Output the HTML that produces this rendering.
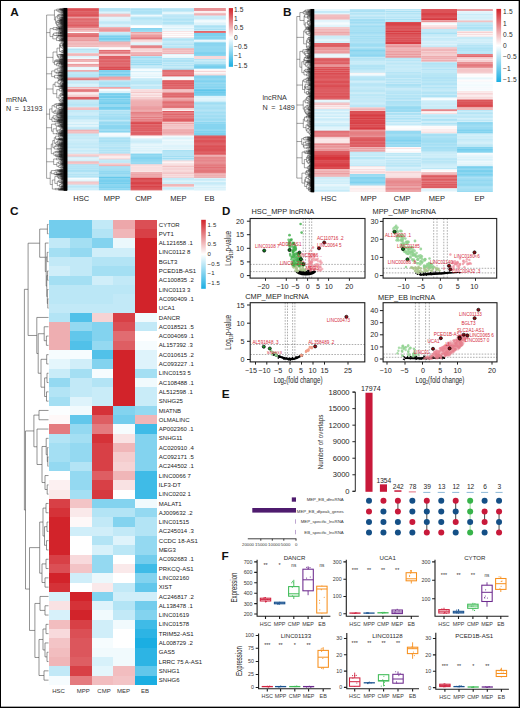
<!DOCTYPE html>
<html><head><meta charset="utf-8"><style>
html,body{margin:0;padding:0;background:#fff;}
#fig{position:relative;width:520px;height:708px;overflow:hidden;background:#fff;}
#fig svg{position:absolute;left:0;top:0;}
text{font-family:"Liberation Sans",sans-serif;stroke:currentColor;stroke-width:0;}
#frame{position:absolute;left:0;top:0;width:520px;height:708px;box-sizing:border-box;border:1px solid #000;pointer-events:none;}
</style></head><body><div id="fig">
<svg width="520" height="708" viewBox="0 0 520 708" font-family="Liberation Sans, sans-serif">
<defs><linearGradient id="cbar" x1="0" y1="0" x2="0" y2="1"><stop offset="0" stop-color="#d2232a"/><stop offset="0.5" stop-color="#ffffff"/><stop offset="1" stop-color="#1baee2"/></linearGradient></defs>
<rect x="67.2" y="8" width="31.72" height="1.3" fill="#e16d71"/>
<rect x="67.2" y="9" width="31.72" height="1.3" fill="#db4f55"/>
<rect x="67.2" y="10" width="31.72" height="1.3" fill="#dc5358"/>
<rect x="67.2" y="11" width="31.72" height="1.3" fill="#e0686d"/>
<rect x="67.2" y="12" width="31.72" height="1.3" fill="#de5e63"/>
<rect x="67.2" y="13" width="31.72" height="1.3" fill="#de6065"/>
<rect x="67.2" y="14" width="31.72" height="1.3" fill="#dd575d"/>
<rect x="67.2" y="15" width="31.72" height="1.3" fill="#dc5257"/>
<rect x="67.2" y="16" width="31.72" height="1.3" fill="#e16e73"/>
<rect x="67.2" y="17" width="31.72" height="1.3" fill="#eb9da0"/>
<rect x="67.2" y="18" width="31.72" height="0.8" fill="#e47c80"/>
<rect x="67.2" y="18.5" width="31.72" height="1.3" fill="#df6065"/>
<rect x="67.2" y="19.5" width="31.72" height="1.3" fill="#dc5358"/>
<rect x="67.2" y="20.5" width="31.72" height="1.3" fill="#e27277"/>
<rect x="67.2" y="21.5" width="31.72" height="1.3" fill="#de6065"/>
<rect x="67.2" y="22.5" width="31.72" height="1.3" fill="#dc555a"/>
<rect x="67.2" y="23.5" width="31.72" height="1.3" fill="#e0696e"/>
<rect x="67.2" y="24.5" width="31.72" height="1.3" fill="#da4b51"/>
<rect x="67.2" y="25.5" width="31.72" height="1.3" fill="#db4d53"/>
<rect x="67.2" y="26.5" width="31.72" height="1.3" fill="#e27175"/>
<rect x="67.2" y="27.5" width="31.72" height="0.8" fill="#e27176"/>
<rect x="67.2" y="28" width="31.72" height="1.3" fill="#f0b4b6"/>
<rect x="67.2" y="29" width="31.72" height="1.3" fill="#eca4a7"/>
<rect x="67.2" y="30" width="31.72" height="1.3" fill="#f1bbbd"/>
<rect x="67.2" y="31" width="31.72" height="1.3" fill="#f2c1c3"/>
<rect x="67.2" y="32" width="31.72" height="1.3" fill="#fcfeff"/>
<rect x="67.2" y="33" width="31.72" height="1.3" fill="#e58084"/>
<rect x="67.2" y="34" width="31.72" height="1.3" fill="#e3787c"/>
<rect x="67.2" y="35" width="31.72" height="1.3" fill="#e26f73"/>
<rect x="67.2" y="36" width="31.72" height="1.3" fill="#e16d71"/>
<rect x="67.2" y="37" width="31.72" height="1.3" fill="#eca3a6"/>
<rect x="67.2" y="38" width="31.72" height="1.3" fill="#eca3a6"/>
<rect x="67.2" y="39" width="31.72" height="1.3" fill="#eca4a7"/>
<rect x="67.2" y="40" width="31.72" height="1.3" fill="#ea9a9d"/>
<rect x="67.2" y="41" width="31.72" height="0.8" fill="#eca1a4"/>
<rect x="67.2" y="41.5" width="31.72" height="1.3" fill="#f4c9cb"/>
<rect x="67.2" y="42.5" width="31.72" height="1.3" fill="#eda8ab"/>
<rect x="67.2" y="43.5" width="31.72" height="1.3" fill="#f0b3b6"/>
<rect x="67.2" y="44.5" width="31.72" height="1.3" fill="#efb0b2"/>
<rect x="67.2" y="45.5" width="31.72" height="1.3" fill="#f3c3c4"/>
<rect x="67.2" y="46.5" width="31.72" height="0.8" fill="#eca1a4"/>
<rect x="67.2" y="47" width="31.72" height="1.3" fill="#f1fafd"/>
<rect x="67.2" y="48" width="31.72" height="1.3" fill="#d5f0fa"/>
<rect x="67.2" y="49" width="31.72" height="1.3" fill="#b4e4f5"/>
<rect x="67.2" y="50" width="31.72" height="1.3" fill="#c3eaf7"/>
<rect x="67.2" y="51" width="31.72" height="1.3" fill="#c3eaf7"/>
<rect x="67.2" y="52" width="31.72" height="1.3" fill="#cbedf8"/>
<rect x="67.2" y="53" width="31.72" height="1.3" fill="#f4c8c9"/>
<rect x="67.2" y="54" width="31.72" height="1.3" fill="#f0b7b9"/>
<rect x="67.2" y="55" width="31.72" height="1.3" fill="#f2bdbf"/>
<rect x="67.2" y="56" width="31.72" height="1.3" fill="#dcf3fb"/>
<rect x="67.2" y="57" width="31.72" height="1.3" fill="#e7f6fc"/>
<rect x="67.2" y="58" width="31.72" height="1.3" fill="#f2fafd"/>
<rect x="67.2" y="59" width="31.72" height="1.3" fill="#eda7aa"/>
<rect x="67.2" y="60" width="31.72" height="1.3" fill="#f0b5b8"/>
<rect x="67.2" y="61" width="31.72" height="1.3" fill="#efb2b4"/>
<rect x="67.2" y="62" width="31.72" height="1.3" fill="#fdf5f5"/>
<rect x="67.2" y="63" width="31.72" height="1.3" fill="#fbeced"/>
<rect x="67.2" y="64" width="31.72" height="1.3" fill="#eb9b9e"/>
<rect x="67.2" y="65" width="31.72" height="1.3" fill="#eeabad"/>
<rect x="67.2" y="66" width="31.72" height="1.3" fill="#f0b4b7"/>
<rect x="67.2" y="67" width="31.72" height="1.3" fill="#e6f6fc"/>
<rect x="67.2" y="68" width="31.72" height="1.3" fill="#ebf8fd"/>
<rect x="67.2" y="69" width="31.72" height="1.3" fill="#eaf8fc"/>
<rect x="67.2" y="70" width="31.72" height="1.3" fill="#eeacaf"/>
<rect x="67.2" y="71" width="31.72" height="1" fill="#eeaaac"/>
<rect x="67.2" y="71.7" width="31.72" height="1.3" fill="#bbe7f6"/>
<rect x="67.2" y="72.7" width="31.72" height="1.3" fill="#c5eaf8"/>
<rect x="67.2" y="73.7" width="31.72" height="1.3" fill="#bbe7f6"/>
<rect x="67.2" y="74.7" width="31.72" height="1.3" fill="#b7e5f6"/>
<rect x="67.2" y="75.7" width="31.72" height="1.3" fill="#bae7f6"/>
<rect x="67.2" y="76.7" width="31.72" height="1.1" fill="#a9e0f4"/>
<rect x="67.2" y="77.5" width="31.72" height="1.3" fill="#e88e91"/>
<rect x="67.2" y="78.5" width="31.72" height="1.3" fill="#e27377"/>
<rect x="67.2" y="79.5" width="31.72" height="1.1" fill="#e0676c"/>
<rect x="67.2" y="80.3" width="31.72" height="1.3" fill="#ccedf8"/>
<rect x="67.2" y="81.3" width="31.72" height="1.3" fill="#c4eaf8"/>
<rect x="67.2" y="82.3" width="31.72" height="1.3" fill="#bce7f6"/>
<rect x="67.2" y="83.3" width="31.72" height="1.3" fill="#c8ecf8"/>
<rect x="67.2" y="84.3" width="31.72" height="1.3" fill="#dbf2fa"/>
<rect x="67.2" y="85.3" width="31.72" height="1.3" fill="#d3eff9"/>
<rect x="67.2" y="86.3" width="31.72" height="1" fill="#caecf8"/>
<rect x="67.2" y="87" width="31.72" height="1.3" fill="#f0b6b8"/>
<rect x="67.2" y="88" width="31.72" height="1.3" fill="#f5cfd1"/>
<rect x="67.2" y="89" width="31.72" height="1.3" fill="#e7898d"/>
<rect x="67.2" y="90" width="31.72" height="1.3" fill="#e3777b"/>
<rect x="67.2" y="91" width="31.72" height="1.3" fill="#e6868a"/>
<rect x="67.2" y="92" width="31.72" height="1.3" fill="#f9e3e4"/>
<rect x="67.2" y="93" width="31.72" height="1.3" fill="#fbebec"/>
<rect x="67.2" y="94" width="31.72" height="1.3" fill="#f9e0e1"/>
<rect x="67.2" y="95" width="31.72" height="1.3" fill="#f5cfd0"/>
<rect x="67.2" y="96" width="31.72" height="1" fill="#fdf6f6"/>
<rect x="67.2" y="96.7" width="31.72" height="1.3" fill="#df6166"/>
<rect x="67.2" y="97.7" width="31.72" height="1.3" fill="#de5f64"/>
<rect x="67.2" y="98.7" width="31.72" height="1.2" fill="#de5c62"/>
<rect x="67.2" y="99.6" width="31.72" height="1.3" fill="#c4eaf7"/>
<rect x="67.2" y="100.6" width="31.72" height="1.3" fill="#c6ebf8"/>
<rect x="67.2" y="101.6" width="31.72" height="1.3" fill="#bbe7f6"/>
<rect x="67.2" y="102.6" width="31.72" height="1.3" fill="#bde8f7"/>
<rect x="67.2" y="103.6" width="31.72" height="1.3" fill="#b8e6f6"/>
<rect x="67.2" y="104.6" width="31.72" height="1.3" fill="#aae1f4"/>
<rect x="67.2" y="105.6" width="31.72" height="1.3" fill="#c9ecf8"/>
<rect x="67.2" y="106.6" width="31.72" height="1" fill="#bde8f7"/>
<rect x="67.2" y="107.3" width="31.72" height="1.3" fill="#f3c2c4"/>
<rect x="67.2" y="108.3" width="31.72" height="1.3" fill="#f0b5b8"/>
<rect x="67.2" y="109.3" width="31.72" height="1" fill="#f0b6b9"/>
<rect x="67.2" y="110" width="31.72" height="1.3" fill="#c3eaf7"/>
<rect x="67.2" y="111" width="31.72" height="1.3" fill="#c2e9f7"/>
<rect x="67.2" y="112" width="31.72" height="1.3" fill="#caecf8"/>
<rect x="67.2" y="113" width="31.72" height="1.3" fill="#cdedf9"/>
<rect x="67.2" y="114" width="31.72" height="1.3" fill="#cdedf9"/>
<rect x="67.2" y="115" width="31.72" height="1.3" fill="#c7ebf8"/>
<rect x="67.2" y="116" width="31.72" height="1.3" fill="#b6e5f6"/>
<rect x="67.2" y="117" width="31.72" height="1.3" fill="#bee8f7"/>
<rect x="67.2" y="118" width="31.72" height="1.3" fill="#bce7f6"/>
<rect x="67.2" y="119" width="31.72" height="1.3" fill="#ccedf8"/>
<rect x="67.2" y="120" width="31.72" height="1.3" fill="#d6f0fa"/>
<rect x="67.2" y="121" width="31.72" height="1.3" fill="#d4f0f9"/>
<rect x="67.2" y="122" width="31.72" height="1.3" fill="#e1f4fb"/>
<rect x="67.2" y="123" width="31.72" height="1.3" fill="#e2f5fb"/>
<rect x="67.2" y="124" width="31.72" height="1.3" fill="#cdedf9"/>
<rect x="67.2" y="125" width="31.72" height="1.3" fill="#e3f5fb"/>
<rect x="67.2" y="126" width="31.72" height="1.3" fill="#ddf3fb"/>
<rect x="67.2" y="127" width="31.72" height="1.3" fill="#c6ebf8"/>
<rect x="67.2" y="128" width="31.72" height="1.3" fill="#c3eaf7"/>
<rect x="67.2" y="129" width="31.72" height="1" fill="#c3eaf7"/>
<rect x="67.2" y="129.7" width="31.72" height="1.3" fill="#eeabae"/>
<rect x="67.2" y="130.7" width="31.72" height="1.3" fill="#f2c0c2"/>
<rect x="67.2" y="131.7" width="31.72" height="1.3" fill="#f3c6c8"/>
<rect x="67.2" y="132.7" width="31.72" height="1.1" fill="#efb1b3"/>
<rect x="67.2" y="133.5" width="31.72" height="1.3" fill="#c2e9f7"/>
<rect x="67.2" y="134.5" width="31.72" height="1.3" fill="#b8e6f6"/>
<rect x="67.2" y="135.5" width="31.72" height="1.3" fill="#bbe7f6"/>
<rect x="67.2" y="136.5" width="31.72" height="1.3" fill="#c9ecf8"/>
<rect x="67.2" y="137.5" width="31.72" height="1.3" fill="#bce7f6"/>
<rect x="67.2" y="138.5" width="31.72" height="1.3" fill="#c0e8f7"/>
<rect x="67.2" y="139.5" width="31.72" height="1.3" fill="#d0eef9"/>
<rect x="67.2" y="140.5" width="31.72" height="1.3" fill="#c7ebf8"/>
<rect x="67.2" y="141.5" width="31.72" height="1.3" fill="#c1e9f7"/>
<rect x="67.2" y="142.5" width="31.72" height="1.3" fill="#c7ebf8"/>
<rect x="67.2" y="143.5" width="31.72" height="1.3" fill="#b6e5f6"/>
<rect x="67.2" y="144.5" width="31.72" height="1.3" fill="#c4eaf7"/>
<rect x="67.2" y="145.5" width="31.72" height="1.3" fill="#c5eaf8"/>
<rect x="67.2" y="146.5" width="31.72" height="1.3" fill="#bce7f7"/>
<rect x="67.2" y="147.5" width="31.72" height="1.3" fill="#b9e6f6"/>
<rect x="67.2" y="148.5" width="31.72" height="1.3" fill="#d8f1fa"/>
<rect x="67.2" y="149.5" width="31.72" height="1.3" fill="#c9ecf8"/>
<rect x="67.2" y="150.5" width="31.72" height="1.3" fill="#bde8f7"/>
<rect x="67.2" y="151.5" width="31.72" height="1.3" fill="#ccedf9"/>
<rect x="67.2" y="152.5" width="31.72" height="1.3" fill="#d4f0fa"/>
<rect x="67.2" y="153.5" width="31.72" height="0.5" fill="#b6e5f6"/>
<rect x="67.2" y="153.7" width="31.72" height="1.3" fill="#f7d8d9"/>
<rect x="67.2" y="154.7" width="31.72" height="1.3" fill="#f6d3d4"/>
<rect x="67.2" y="155.7" width="31.72" height="1.2" fill="#f1bbbd"/>
<rect x="67.2" y="156.6" width="31.72" height="1.3" fill="#c9ecf8"/>
<rect x="67.2" y="157.6" width="31.72" height="1.3" fill="#def3fb"/>
<rect x="67.2" y="158.6" width="31.72" height="1.3" fill="#ddf3fb"/>
<rect x="67.2" y="159.6" width="31.72" height="1.3" fill="#d8f1fa"/>
<rect x="67.2" y="160.6" width="31.72" height="1.1" fill="#cbedf8"/>
<rect x="67.2" y="161.4" width="31.72" height="1.3" fill="#efb1b3"/>
<rect x="67.2" y="162.4" width="31.72" height="1.3" fill="#f0b8ba"/>
<rect x="67.2" y="163.4" width="31.72" height="1.2" fill="#f3c4c6"/>
<rect x="67.2" y="164.3" width="31.72" height="1.3" fill="#a2def3"/>
<rect x="67.2" y="165.3" width="31.72" height="1.3" fill="#b3e4f5"/>
<rect x="67.2" y="166.3" width="31.72" height="1.3" fill="#a9e0f4"/>
<rect x="67.2" y="167.3" width="31.72" height="1.3" fill="#b0e3f5"/>
<rect x="67.2" y="168.3" width="31.72" height="1.3" fill="#a6dff4"/>
<rect x="67.2" y="169.3" width="31.72" height="1.3" fill="#b2e4f5"/>
<rect x="67.2" y="170.3" width="31.72" height="1.3" fill="#9cdcf2"/>
<rect x="67.2" y="171.3" width="31.72" height="1.3" fill="#a5dff4"/>
<rect x="67.2" y="172.3" width="31.72" height="1.3" fill="#bfe8f7"/>
<rect x="67.2" y="173.3" width="31.72" height="1.3" fill="#bbe7f6"/>
<rect x="67.2" y="174.3" width="31.72" height="1.3" fill="#a6dff4"/>
<rect x="67.2" y="175.3" width="31.72" height="1.3" fill="#bbe7f6"/>
<rect x="67.2" y="176.3" width="31.72" height="1.3" fill="#a6dff4"/>
<rect x="67.2" y="177.3" width="31.72" height="0.8" fill="#bee8f7"/>
<rect x="67.2" y="177.8" width="31.72" height="1.3" fill="#fbfdfe"/>
<rect x="67.2" y="178.8" width="31.72" height="1.3" fill="#eef9fd"/>
<rect x="67.2" y="179.8" width="31.72" height="1.3" fill="#e8f7fc"/>
<rect x="67.2" y="180.8" width="31.72" height="1.1" fill="#def3fb"/>
<rect x="67.2" y="181.6" width="31.72" height="1.3" fill="#f0b5b7"/>
<rect x="67.2" y="182.6" width="31.72" height="1.3" fill="#f7d7d9"/>
<rect x="67.2" y="183.6" width="31.72" height="1.2" fill="#f0b7ba"/>
<rect x="67.2" y="184.5" width="31.72" height="1.3" fill="#ccedf9"/>
<rect x="67.2" y="185.5" width="31.72" height="1.3" fill="#bde8f7"/>
<rect x="67.2" y="186.5" width="31.72" height="1.3" fill="#aee2f5"/>
<rect x="67.2" y="187.5" width="31.72" height="1.3" fill="#c9ecf8"/>
<rect x="67.2" y="188.5" width="31.72" height="1.3" fill="#cdedf9"/>
<rect x="67.2" y="189.5" width="31.72" height="0.8" fill="#c2e9f7"/>
<rect x="98.92" y="8" width="31.72" height="1.3" fill="#bbe7f6"/>
<rect x="98.92" y="9" width="31.72" height="1.3" fill="#b6e5f6"/>
<rect x="98.92" y="10" width="31.72" height="1.3" fill="#b5e5f6"/>
<rect x="98.92" y="11" width="31.72" height="1.3" fill="#cbecf8"/>
<rect x="98.92" y="12" width="31.72" height="1.3" fill="#ddf3fb"/>
<rect x="98.92" y="13" width="31.72" height="1" fill="#d3f0f9"/>
<rect x="98.92" y="13.7" width="31.72" height="1.3" fill="#f3c2c4"/>
<rect x="98.92" y="14.7" width="31.72" height="1.3" fill="#f3c6c8"/>
<rect x="98.92" y="15.7" width="31.72" height="1.2" fill="#efafb1"/>
<rect x="98.92" y="16.6" width="31.72" height="1.3" fill="#dcf3fb"/>
<rect x="98.92" y="17.6" width="31.72" height="1.3" fill="#e4f5fc"/>
<rect x="98.92" y="18.6" width="31.72" height="1.2" fill="#ddf3fb"/>
<rect x="98.92" y="19.5" width="31.72" height="1.3" fill="#d7f1fa"/>
<rect x="98.92" y="20.5" width="31.72" height="1.3" fill="#d8f1fa"/>
<rect x="98.92" y="21.5" width="31.72" height="1.3" fill="#b6e5f6"/>
<rect x="98.92" y="22.5" width="31.72" height="1.3" fill="#bde7f7"/>
<rect x="98.92" y="23.5" width="31.72" height="1.3" fill="#c2e9f7"/>
<rect x="98.92" y="24.5" width="31.72" height="1.3" fill="#dbf2fa"/>
<rect x="98.92" y="25.5" width="31.72" height="1.3" fill="#d3eff9"/>
<rect x="98.92" y="26.5" width="31.72" height="0.8" fill="#c2e9f7"/>
<rect x="98.92" y="27" width="31.72" height="1.3" fill="#efb3b5"/>
<rect x="98.92" y="28" width="31.72" height="1.3" fill="#eca0a3"/>
<rect x="98.92" y="29" width="31.72" height="1.3" fill="#ea999c"/>
<rect x="98.92" y="30" width="31.72" height="1.3" fill="#e99599"/>
<rect x="98.92" y="31" width="31.72" height="1.3" fill="#eeadb0"/>
<rect x="98.92" y="32" width="31.72" height="1.3" fill="#c9ecf8"/>
<rect x="98.92" y="33" width="31.72" height="1.3" fill="#c2e9f7"/>
<rect x="98.92" y="34" width="31.72" height="1.3" fill="#bae6f6"/>
<rect x="98.92" y="35" width="31.72" height="1.3" fill="#96daf2"/>
<rect x="98.92" y="36" width="31.72" height="1.3" fill="#7ad0ee"/>
<rect x="98.92" y="37" width="31.72" height="1.3" fill="#8dd6f0"/>
<rect x="98.92" y="38" width="31.72" height="1.3" fill="#74ceed"/>
<rect x="98.92" y="39" width="31.72" height="1.3" fill="#77cfee"/>
<rect x="98.92" y="40" width="31.72" height="1.3" fill="#94d9f1"/>
<rect x="98.92" y="41" width="31.72" height="0.8" fill="#79cfee"/>
<rect x="98.92" y="41.5" width="31.72" height="1.3" fill="#eeabae"/>
<rect x="98.92" y="42.5" width="31.72" height="1.3" fill="#efb2b4"/>
<rect x="98.92" y="43.5" width="31.72" height="1.3" fill="#eda8aa"/>
<rect x="98.92" y="44.5" width="31.72" height="1.3" fill="#f1bbbd"/>
<rect x="98.92" y="45.5" width="31.72" height="1.3" fill="#f1bcbe"/>
<rect x="98.92" y="46.5" width="31.72" height="0.8" fill="#f2bec0"/>
<rect x="98.92" y="47" width="31.72" height="1.3" fill="#fcf0f0"/>
<rect x="98.92" y="48" width="31.72" height="1.3" fill="#fefbfb"/>
<rect x="98.92" y="49" width="31.72" height="1.3" fill="#fbeced"/>
<rect x="98.92" y="50" width="31.72" height="1.3" fill="#e16b70"/>
<rect x="98.92" y="51" width="31.72" height="1.3" fill="#e78a8e"/>
<rect x="98.92" y="52" width="31.72" height="1.3" fill="#e4797d"/>
<rect x="98.92" y="53" width="31.72" height="1.3" fill="#e78b8f"/>
<rect x="98.92" y="54" width="31.72" height="1.3" fill="#f4c9ca"/>
<rect x="98.92" y="55" width="31.72" height="1.3" fill="#f4c7c9"/>
<rect x="98.92" y="56" width="31.72" height="1.3" fill="#de5d62"/>
<rect x="98.92" y="57" width="31.72" height="1.3" fill="#df6166"/>
<rect x="98.92" y="58" width="31.72" height="1.3" fill="#de5f64"/>
<rect x="98.92" y="59" width="31.72" height="1.3" fill="#e27377"/>
<rect x="98.92" y="60" width="31.72" height="1.3" fill="#e0686c"/>
<rect x="98.92" y="61" width="31.72" height="1.3" fill="#df6166"/>
<rect x="98.92" y="62" width="31.72" height="1.3" fill="#e27176"/>
<rect x="98.92" y="63" width="31.72" height="1.3" fill="#e0696e"/>
<rect x="98.92" y="64" width="31.72" height="1.3" fill="#e0696e"/>
<rect x="98.92" y="65" width="31.72" height="1.3" fill="#e26f73"/>
<rect x="98.92" y="66" width="31.72" height="1.3" fill="#e0676c"/>
<rect x="98.92" y="67" width="31.72" height="1.3" fill="#db4e53"/>
<rect x="98.92" y="68" width="31.72" height="1.3" fill="#dd5b60"/>
<rect x="98.92" y="69" width="31.72" height="1.3" fill="#da4c52"/>
<rect x="98.92" y="70" width="31.72" height="1.3" fill="#82d3ef"/>
<rect x="98.92" y="71" width="31.72" height="1.3" fill="#7bd0ee"/>
<rect x="98.92" y="72" width="31.72" height="1.3" fill="#8fd7f1"/>
<rect x="98.92" y="73" width="31.72" height="1.3" fill="#90d8f1"/>
<rect x="98.92" y="74" width="31.72" height="1.3" fill="#71cded"/>
<rect x="98.92" y="75" width="31.72" height="1.3" fill="#8ad6f0"/>
<rect x="98.92" y="76" width="31.72" height="0.8" fill="#74ceed"/>
<rect x="98.92" y="76.5" width="31.72" height="1.3" fill="#eda8ab"/>
<rect x="98.92" y="77.5" width="31.72" height="1.3" fill="#e7898c"/>
<rect x="98.92" y="78.5" width="31.72" height="1.3" fill="#eeabae"/>
<rect x="98.92" y="79.5" width="31.72" height="1.1" fill="#eca3a6"/>
<rect x="98.92" y="80.3" width="31.72" height="1.3" fill="#c0e8f7"/>
<rect x="98.92" y="81.3" width="31.72" height="1.3" fill="#aae1f4"/>
<rect x="98.92" y="82.3" width="31.72" height="1.3" fill="#9eddf3"/>
<rect x="98.92" y="83.3" width="31.72" height="1.3" fill="#a0ddf3"/>
<rect x="98.92" y="84.3" width="31.72" height="1.3" fill="#a3def3"/>
<rect x="98.92" y="85.3" width="31.72" height="1.3" fill="#b6e5f6"/>
<rect x="98.92" y="86.3" width="31.72" height="1" fill="#9edcf3"/>
<rect x="98.92" y="87" width="31.72" height="1.3" fill="#eda5a8"/>
<rect x="98.92" y="88" width="31.72" height="1.3" fill="#f1bbbd"/>
<rect x="98.92" y="89" width="31.72" height="1.3" fill="#f6fcfe"/>
<rect x="98.92" y="90" width="31.72" height="1.3" fill="#f3fbfe"/>
<rect x="98.92" y="91" width="31.72" height="1.3" fill="#dcf2fb"/>
<rect x="98.92" y="92" width="31.72" height="1.3" fill="#daf2fa"/>
<rect x="98.92" y="93" width="31.72" height="1.3" fill="#83d3ef"/>
<rect x="98.92" y="94" width="31.72" height="1.3" fill="#75ceed"/>
<rect x="98.92" y="95" width="31.72" height="1.3" fill="#8ad5f0"/>
<rect x="98.92" y="96" width="31.72" height="1.3" fill="#72cded"/>
<rect x="98.92" y="97" width="31.72" height="1.3" fill="#71cded"/>
<rect x="98.92" y="98" width="31.72" height="1.3" fill="#96daf2"/>
<rect x="98.92" y="99" width="31.72" height="1.3" fill="#7cd0ee"/>
<rect x="98.92" y="100" width="31.72" height="1.3" fill="#88d5f0"/>
<rect x="98.92" y="101" width="31.72" height="1.3" fill="#82d3ef"/>
<rect x="98.92" y="102" width="31.72" height="1.3" fill="#7dd1ee"/>
<rect x="98.92" y="103" width="31.72" height="1.3" fill="#73cded"/>
<rect x="98.92" y="104" width="31.72" height="1.3" fill="#94d9f1"/>
<rect x="98.92" y="105" width="31.72" height="1.3" fill="#96daf2"/>
<rect x="98.92" y="106" width="31.72" height="1.3" fill="#96daf2"/>
<rect x="98.92" y="107" width="31.72" height="1.3" fill="#75ceed"/>
<rect x="98.92" y="108" width="31.72" height="1.3" fill="#79cfee"/>
<rect x="98.92" y="109" width="31.72" height="1.3" fill="#88d5f0"/>
<rect x="98.92" y="110" width="31.72" height="1.3" fill="#bfe8f7"/>
<rect x="98.92" y="111" width="31.72" height="1.3" fill="#afe2f5"/>
<rect x="98.92" y="112" width="31.72" height="1.3" fill="#b4e4f5"/>
<rect x="98.92" y="113" width="31.72" height="1.3" fill="#b3e4f5"/>
<rect x="98.92" y="114" width="31.72" height="1.3" fill="#a4dff3"/>
<rect x="98.92" y="115" width="31.72" height="1.3" fill="#afe2f5"/>
<rect x="98.92" y="116" width="31.72" height="1.3" fill="#a6dff4"/>
<rect x="98.92" y="117" width="31.72" height="1.3" fill="#a3def3"/>
<rect x="98.92" y="118" width="31.72" height="1.3" fill="#9ddcf3"/>
<rect x="98.92" y="119" width="31.72" height="1.3" fill="#a5dff3"/>
<rect x="98.92" y="120" width="31.72" height="1.3" fill="#bfe8f7"/>
<rect x="98.92" y="121" width="31.72" height="1.3" fill="#abe1f4"/>
<rect x="98.92" y="122" width="31.72" height="1.3" fill="#97daf2"/>
<rect x="98.92" y="123" width="31.72" height="1.3" fill="#97daf2"/>
<rect x="98.92" y="124" width="31.72" height="1.3" fill="#a2def3"/>
<rect x="98.92" y="125" width="31.72" height="1.3" fill="#8dd7f1"/>
<rect x="98.92" y="126" width="31.72" height="1.3" fill="#8ad5f0"/>
<rect x="98.92" y="127" width="31.72" height="1.3" fill="#8bd6f0"/>
<rect x="98.92" y="128" width="31.72" height="1.3" fill="#8bd6f0"/>
<rect x="98.92" y="129" width="31.72" height="1.3" fill="#9fddf3"/>
<rect x="98.92" y="130" width="31.72" height="1.3" fill="#a1ddf3"/>
<rect x="98.92" y="131" width="31.72" height="1.3" fill="#8ad5f0"/>
<rect x="98.92" y="132" width="31.72" height="0.9" fill="#8bd6f0"/>
<rect x="98.92" y="132.6" width="31.72" height="1.3" fill="#f3fbfd"/>
<rect x="98.92" y="133.6" width="31.72" height="1.3" fill="#f4fbfe"/>
<rect x="98.92" y="134.6" width="31.72" height="1.3" fill="#f5fbfe"/>
<rect x="98.92" y="135.6" width="31.72" height="1.3" fill="#e8f7fc"/>
<rect x="98.92" y="136.6" width="31.72" height="1.1" fill="#dff4fb"/>
<rect x="98.92" y="137.4" width="31.72" height="1.3" fill="#a3def3"/>
<rect x="98.92" y="138.4" width="31.72" height="1.3" fill="#9ddcf2"/>
<rect x="98.92" y="139.4" width="31.72" height="1.3" fill="#afe3f5"/>
<rect x="98.92" y="140.4" width="31.72" height="1.3" fill="#9cdcf2"/>
<rect x="98.92" y="141.4" width="31.72" height="1.3" fill="#9ddcf2"/>
<rect x="98.92" y="142.4" width="31.72" height="1.3" fill="#b2e4f5"/>
<rect x="98.92" y="143.4" width="31.72" height="1.3" fill="#a5dff4"/>
<rect x="98.92" y="144.4" width="31.72" height="1.3" fill="#b8e6f6"/>
<rect x="98.92" y="145.4" width="31.72" height="1.3" fill="#ade2f5"/>
<rect x="98.92" y="146.4" width="31.72" height="1.3" fill="#bbe7f6"/>
<rect x="98.92" y="147.4" width="31.72" height="1.3" fill="#a0ddf3"/>
<rect x="98.92" y="148.4" width="31.72" height="1.3" fill="#ade2f5"/>
<rect x="98.92" y="149.4" width="31.72" height="1.3" fill="#b8e6f6"/>
<rect x="98.92" y="150.4" width="31.72" height="1.3" fill="#9ddcf2"/>
<rect x="98.92" y="151.4" width="31.72" height="1.3" fill="#bee8f7"/>
<rect x="98.92" y="152.4" width="31.72" height="1.3" fill="#a0ddf3"/>
<rect x="98.92" y="153.4" width="31.72" height="0.6" fill="#b7e6f6"/>
<rect x="98.92" y="153.7" width="31.72" height="1.3" fill="#f5cecf"/>
<rect x="98.92" y="154.7" width="31.72" height="1.3" fill="#f6d4d6"/>
<rect x="98.92" y="155.7" width="31.72" height="1.3" fill="#fbe9ea"/>
<rect x="98.92" y="156.7" width="31.72" height="1.3" fill="#fcf2f2"/>
<rect x="98.92" y="157.7" width="31.72" height="1.3" fill="#f9e1e2"/>
<rect x="98.92" y="158.7" width="31.72" height="1.1" fill="#f5d0d2"/>
<rect x="98.92" y="159.5" width="31.72" height="1.3" fill="#b3e4f5"/>
<rect x="98.92" y="160.5" width="31.72" height="1.3" fill="#caecf8"/>
<rect x="98.92" y="161.5" width="31.72" height="1.3" fill="#ade2f5"/>
<rect x="98.92" y="162.5" width="31.72" height="1.1" fill="#caecf8"/>
<rect x="98.92" y="163.3" width="31.72" height="1.3" fill="#f4c9cb"/>
<rect x="98.92" y="164.3" width="31.72" height="1.3" fill="#f2bdbf"/>
<rect x="98.92" y="165.3" width="31.72" height="1.2" fill="#eda5a8"/>
<rect x="98.92" y="166.2" width="31.72" height="1.3" fill="#9ddcf3"/>
<rect x="98.92" y="167.2" width="31.72" height="1.3" fill="#a1def3"/>
<rect x="98.92" y="168.2" width="31.72" height="1.3" fill="#9fddf3"/>
<rect x="98.92" y="169.2" width="31.72" height="1.3" fill="#9bdbf2"/>
<rect x="98.92" y="170.2" width="31.72" height="1.3" fill="#99dbf2"/>
<rect x="98.92" y="171.2" width="31.72" height="1.3" fill="#85d4f0"/>
<rect x="98.92" y="172.2" width="31.72" height="1.3" fill="#8fd7f1"/>
<rect x="98.92" y="173.2" width="31.72" height="1.3" fill="#84d3ef"/>
<rect x="98.92" y="174.2" width="31.72" height="1.3" fill="#9adbf2"/>
<rect x="98.92" y="175.2" width="31.72" height="1.3" fill="#98daf2"/>
<rect x="98.92" y="176.2" width="31.72" height="1.1" fill="#88d5f0"/>
<rect x="98.92" y="177" width="31.72" height="1.3" fill="#66c8eb"/>
<rect x="98.92" y="178" width="31.72" height="1.3" fill="#88d5f0"/>
<rect x="98.92" y="179" width="31.72" height="1.3" fill="#82d3ef"/>
<rect x="98.92" y="180" width="31.72" height="1.3" fill="#78cfee"/>
<rect x="98.92" y="181" width="31.72" height="1.3" fill="#78cfee"/>
<rect x="98.92" y="182" width="31.72" height="1.3" fill="#84d3ef"/>
<rect x="98.92" y="183" width="31.72" height="1.3" fill="#74ceed"/>
<rect x="98.92" y="184" width="31.72" height="1.3" fill="#8ed7f1"/>
<rect x="98.92" y="185" width="31.72" height="1.3" fill="#8bd6f0"/>
<rect x="98.92" y="186" width="31.72" height="1.3" fill="#88d5f0"/>
<rect x="98.92" y="187" width="31.72" height="1.3" fill="#7fd2ef"/>
<rect x="98.92" y="188" width="31.72" height="1.3" fill="#97daf2"/>
<rect x="98.92" y="189" width="31.72" height="1.3" fill="#8ed7f1"/>
<rect x="130.64" y="8" width="31.72" height="1.3" fill="#bde8f7"/>
<rect x="130.64" y="9" width="31.72" height="1.3" fill="#aae1f4"/>
<rect x="130.64" y="10" width="31.72" height="1.3" fill="#b5e5f6"/>
<rect x="130.64" y="11" width="31.72" height="1.3" fill="#ade2f5"/>
<rect x="130.64" y="12" width="31.72" height="1.3" fill="#ace2f4"/>
<rect x="130.64" y="13" width="31.72" height="1.3" fill="#b1e3f5"/>
<rect x="130.64" y="14" width="31.72" height="1.3" fill="#c7ebf8"/>
<rect x="130.64" y="15" width="31.72" height="1.3" fill="#edf9fd"/>
<rect x="130.64" y="16" width="31.72" height="0.8" fill="#eef9fd"/>
<rect x="130.64" y="16.5" width="31.72" height="1.3" fill="#bfe8f7"/>
<rect x="130.64" y="17.5" width="31.72" height="1.3" fill="#b0e3f5"/>
<rect x="130.64" y="18.5" width="31.72" height="1.3" fill="#a8e0f4"/>
<rect x="130.64" y="19.5" width="31.72" height="1.3" fill="#bce7f6"/>
<rect x="130.64" y="20.5" width="31.72" height="1.3" fill="#bbe7f6"/>
<rect x="130.64" y="21.5" width="31.72" height="1.3" fill="#c0e9f7"/>
<rect x="130.64" y="22.5" width="31.72" height="1.3" fill="#b8e6f6"/>
<rect x="130.64" y="23.5" width="31.72" height="1.3" fill="#c2e9f7"/>
<rect x="130.64" y="24.5" width="31.72" height="0.8" fill="#c3eaf7"/>
<rect x="130.64" y="25" width="31.72" height="1.3" fill="#f5fbfe"/>
<rect x="130.64" y="26" width="31.72" height="1.3" fill="#ffffff"/>
<rect x="130.64" y="27" width="31.72" height="1.3" fill="#feffff"/>
<rect x="130.64" y="28" width="31.72" height="1.3" fill="#87d4f0"/>
<rect x="130.64" y="29" width="31.72" height="1.3" fill="#8ed7f1"/>
<rect x="130.64" y="30" width="31.72" height="1.3" fill="#94d9f1"/>
<rect x="130.64" y="31" width="31.72" height="1.3" fill="#a1def3"/>
<rect x="130.64" y="32" width="31.72" height="1.3" fill="#eca5a7"/>
<rect x="130.64" y="33" width="31.72" height="1.3" fill="#f2bfc1"/>
<rect x="130.64" y="34" width="31.72" height="1.3" fill="#efb0b2"/>
<rect x="130.64" y="35" width="31.72" height="1.3" fill="#eb9c9f"/>
<rect x="130.64" y="36" width="31.72" height="1.3" fill="#eb9b9e"/>
<rect x="130.64" y="37" width="31.72" height="1.3" fill="#e7898d"/>
<rect x="130.64" y="38" width="31.72" height="1.3" fill="#e47a7e"/>
<rect x="130.64" y="39" width="31.72" height="0.9" fill="#ea989b"/>
<rect x="130.64" y="39.6" width="31.72" height="1.3" fill="#f7d7d8"/>
<rect x="130.64" y="40.6" width="31.72" height="1.3" fill="#f6d2d3"/>
<rect x="130.64" y="41.6" width="31.72" height="1.2" fill="#fbe9ea"/>
<rect x="130.64" y="42.5" width="31.72" height="1.3" fill="#ddf3fb"/>
<rect x="130.64" y="43.5" width="31.72" height="1.3" fill="#e3f5fb"/>
<rect x="130.64" y="44.5" width="31.72" height="1.2" fill="#d1eff9"/>
<rect x="130.64" y="45.4" width="31.72" height="1.3" fill="#e27377"/>
<rect x="130.64" y="46.4" width="31.72" height="1.3" fill="#e27176"/>
<rect x="130.64" y="47.4" width="31.72" height="1.2" fill="#e3777b"/>
<rect x="130.64" y="48.3" width="31.72" height="1.3" fill="#f6d3d4"/>
<rect x="130.64" y="49.3" width="31.72" height="1.3" fill="#f6d1d3"/>
<rect x="130.64" y="50.3" width="31.72" height="1.3" fill="#f5cfd0"/>
<rect x="130.64" y="51.3" width="31.72" height="1" fill="#f8dfe0"/>
<rect x="130.64" y="52" width="31.72" height="1.3" fill="#f0b4b7"/>
<rect x="130.64" y="53" width="31.72" height="1.3" fill="#efb1b4"/>
<rect x="130.64" y="54" width="31.72" height="1.3" fill="#efb3b5"/>
<rect x="130.64" y="55" width="31.72" height="1.3" fill="#eca4a7"/>
<rect x="130.64" y="56" width="31.72" height="1.3" fill="#b7e5f6"/>
<rect x="130.64" y="57" width="31.72" height="1.3" fill="#9cdcf2"/>
<rect x="130.64" y="58" width="31.72" height="1.3" fill="#b4e4f5"/>
<rect x="130.64" y="59" width="31.72" height="1.3" fill="#b5e5f6"/>
<rect x="130.64" y="60" width="31.72" height="1.3" fill="#a7e0f4"/>
<rect x="130.64" y="61" width="31.72" height="1.3" fill="#ade2f5"/>
<rect x="130.64" y="62" width="31.72" height="1.3" fill="#a0ddf3"/>
<rect x="130.64" y="63" width="31.72" height="1.3" fill="#b6e5f6"/>
<rect x="130.64" y="64" width="31.72" height="1.3" fill="#9bdcf2"/>
<rect x="130.64" y="65" width="31.72" height="1.3" fill="#bfe8f7"/>
<rect x="130.64" y="66" width="31.72" height="1.3" fill="#c6ebf8"/>
<rect x="130.64" y="67" width="31.72" height="1.3" fill="#c0e8f7"/>
<rect x="130.64" y="68" width="31.72" height="1.3" fill="#dbf2fa"/>
<rect x="130.64" y="69" width="31.72" height="1.3" fill="#f3fbfe"/>
<rect x="130.64" y="70" width="31.72" height="1.3" fill="#f5fcfe"/>
<rect x="130.64" y="71" width="31.72" height="1.3" fill="#d6f0fa"/>
<rect x="130.64" y="72" width="31.72" height="1.3" fill="#eef9fd"/>
<rect x="130.64" y="73" width="31.72" height="1.3" fill="#f1fafd"/>
<rect x="130.64" y="74" width="31.72" height="1.3" fill="#eaf7fc"/>
<rect x="130.64" y="75" width="31.72" height="1.3" fill="#ebf8fc"/>
<rect x="130.64" y="76" width="31.72" height="1.3" fill="#e2f5fb"/>
<rect x="130.64" y="77" width="31.72" height="1.3" fill="#f4fbfe"/>
<rect x="130.64" y="78" width="31.72" height="0.7" fill="#f6fcfe"/>
<rect x="130.64" y="78.4" width="31.72" height="1.3" fill="#b6e5f6"/>
<rect x="130.64" y="79.4" width="31.72" height="1.3" fill="#c6ebf8"/>
<rect x="130.64" y="80.4" width="31.72" height="1.3" fill="#b8e6f6"/>
<rect x="130.64" y="81.4" width="31.72" height="1.3" fill="#aee2f5"/>
<rect x="130.64" y="82.4" width="31.72" height="1.3" fill="#b4e4f5"/>
<rect x="130.64" y="83.4" width="31.72" height="1.3" fill="#ace2f4"/>
<rect x="130.64" y="84.4" width="31.72" height="1.3" fill="#caecf8"/>
<rect x="130.64" y="85.4" width="31.72" height="1.3" fill="#ccedf9"/>
<rect x="130.64" y="86.4" width="31.72" height="1.3" fill="#ace2f4"/>
<rect x="130.64" y="87.4" width="31.72" height="1.3" fill="#bee8f7"/>
<rect x="130.64" y="88.4" width="31.72" height="0.9" fill="#b7e5f6"/>
<rect x="130.64" y="89" width="31.72" height="1.3" fill="#f9e3e4"/>
<rect x="130.64" y="90" width="31.72" height="1.3" fill="#f8dbdd"/>
<rect x="130.64" y="91" width="31.72" height="1.3" fill="#f8ddde"/>
<rect x="130.64" y="92" width="31.72" height="1.3" fill="#f4c9ca"/>
<rect x="130.64" y="93" width="31.72" height="1.3" fill="#fae7e8"/>
<rect x="130.64" y="94" width="31.72" height="1.3" fill="#f9e0e1"/>
<rect x="130.64" y="95" width="31.72" height="1.3" fill="#f7d6d7"/>
<rect x="130.64" y="96" width="31.72" height="1.3" fill="#fae7e7"/>
<rect x="130.64" y="97" width="31.72" height="1.3" fill="#f5cecf"/>
<rect x="130.64" y="98" width="31.72" height="1.3" fill="#f5cfd0"/>
<rect x="130.64" y="99" width="31.72" height="0.9" fill="#f3c5c7"/>
<rect x="130.64" y="99.6" width="31.72" height="1.3" fill="#efb3b5"/>
<rect x="130.64" y="100.6" width="31.72" height="1.3" fill="#efb0b2"/>
<rect x="130.64" y="101.6" width="31.72" height="1.3" fill="#eda5a8"/>
<rect x="130.64" y="102.6" width="31.72" height="1.3" fill="#efb0b3"/>
<rect x="130.64" y="103.6" width="31.72" height="1.3" fill="#eca3a6"/>
<rect x="130.64" y="104.6" width="31.72" height="1.3" fill="#efb1b4"/>
<rect x="130.64" y="105.6" width="31.72" height="1.3" fill="#eb9fa3"/>
<rect x="130.64" y="106.6" width="31.72" height="1.3" fill="#eb9b9e"/>
<rect x="130.64" y="107.6" width="31.72" height="1.3" fill="#ea9a9e"/>
<rect x="130.64" y="108.6" width="31.72" height="1.3" fill="#e99497"/>
<rect x="130.64" y="109.6" width="31.72" height="1.3" fill="#eda5a8"/>
<rect x="130.64" y="110.6" width="31.72" height="1.3" fill="#eda7aa"/>
<rect x="130.64" y="111.6" width="31.72" height="0.7" fill="#ea989c"/>
<rect x="130.64" y="112" width="31.72" height="1.3" fill="#e57f83"/>
<rect x="130.64" y="113" width="31.72" height="1.3" fill="#e6878b"/>
<rect x="130.64" y="114" width="31.72" height="1.3" fill="#e88e92"/>
<rect x="130.64" y="115" width="31.72" height="1.3" fill="#e99396"/>
<rect x="130.64" y="116" width="31.72" height="1.3" fill="#ea9a9d"/>
<rect x="130.64" y="117" width="31.72" height="1.3" fill="#e47d81"/>
<rect x="130.64" y="118" width="31.72" height="1.3" fill="#ea999d"/>
<rect x="130.64" y="119" width="31.72" height="1.3" fill="#e58084"/>
<rect x="130.64" y="120" width="31.72" height="1.3" fill="#e7888c"/>
<rect x="130.64" y="121" width="31.72" height="1.3" fill="#e3777b"/>
<rect x="130.64" y="122" width="31.72" height="1.3" fill="#dc5358"/>
<rect x="130.64" y="123" width="31.72" height="1.3" fill="#da4a50"/>
<rect x="130.64" y="124" width="31.72" height="1.3" fill="#e16d71"/>
<rect x="130.64" y="125" width="31.72" height="1.3" fill="#de5e63"/>
<rect x="130.64" y="126" width="31.72" height="1.3" fill="#dd5b60"/>
<rect x="130.64" y="127" width="31.72" height="1.3" fill="#e0656a"/>
<rect x="130.64" y="128" width="31.72" height="1.3" fill="#de5e63"/>
<rect x="130.64" y="129" width="31.72" height="1.3" fill="#df6468"/>
<rect x="130.64" y="130" width="31.72" height="1.3" fill="#de5d62"/>
<rect x="130.64" y="131" width="31.72" height="1.3" fill="#e27277"/>
<rect x="130.64" y="132" width="31.72" height="1.3" fill="#de6065"/>
<rect x="130.64" y="133" width="31.72" height="1.3" fill="#de6065"/>
<rect x="130.64" y="134" width="31.72" height="1.3" fill="#e0666b"/>
<rect x="130.64" y="135" width="31.72" height="0.8" fill="#df6267"/>
<rect x="130.64" y="135.5" width="31.72" height="1.3" fill="#fdf3f4"/>
<rect x="130.64" y="136.5" width="31.72" height="1.3" fill="#fdf7f8"/>
<rect x="130.64" y="137.5" width="31.72" height="1.1" fill="#ffffff"/>
<rect x="130.64" y="138.3" width="31.72" height="1.3" fill="#dcf2fa"/>
<rect x="130.64" y="139.3" width="31.72" height="1.3" fill="#d1eff9"/>
<rect x="130.64" y="140.3" width="31.72" height="1.3" fill="#cbecf8"/>
<rect x="130.64" y="141.3" width="31.72" height="1.3" fill="#c3eaf7"/>
<rect x="130.64" y="142.3" width="31.72" height="1.3" fill="#cdedf9"/>
<rect x="130.64" y="143.3" width="31.72" height="1.3" fill="#daf2fa"/>
<rect x="130.64" y="144.3" width="31.72" height="1.3" fill="#e5f6fc"/>
<rect x="130.64" y="145.3" width="31.72" height="1.3" fill="#e3f5fb"/>
<rect x="130.64" y="146.3" width="31.72" height="1.3" fill="#d6f1fa"/>
<rect x="130.64" y="147.3" width="31.72" height="1.3" fill="#e9f7fc"/>
<rect x="130.64" y="148.3" width="31.72" height="1.3" fill="#d4f0fa"/>
<rect x="130.64" y="149.3" width="31.72" height="1.3" fill="#e3f5fb"/>
<rect x="130.64" y="150.3" width="31.72" height="1.3" fill="#d2eff9"/>
<rect x="130.64" y="151.3" width="31.72" height="1.3" fill="#dff4fb"/>
<rect x="130.64" y="152.3" width="31.72" height="1.3" fill="#e9f7fc"/>
<rect x="130.64" y="153.3" width="31.72" height="0.7" fill="#cfeef9"/>
<rect x="130.64" y="153.7" width="31.72" height="1.3" fill="#85d4ef"/>
<rect x="130.64" y="154.7" width="31.72" height="1.3" fill="#96daf2"/>
<rect x="130.64" y="155.7" width="31.72" height="1.3" fill="#93d9f1"/>
<rect x="130.64" y="156.7" width="31.72" height="1.3" fill="#8cd6f0"/>
<rect x="130.64" y="157.7" width="31.72" height="1.3" fill="#7fd1ef"/>
<rect x="130.64" y="158.7" width="31.72" height="1.3" fill="#8dd7f1"/>
<rect x="130.64" y="159.7" width="31.72" height="1.3" fill="#8fd7f1"/>
<rect x="130.64" y="160.7" width="31.72" height="1.3" fill="#8ed7f1"/>
<rect x="130.64" y="161.7" width="31.72" height="1.3" fill="#9fddf3"/>
<rect x="130.64" y="162.7" width="31.72" height="1.3" fill="#95d9f1"/>
<rect x="130.64" y="163.7" width="31.72" height="0.9" fill="#9bdbf2"/>
<rect x="130.64" y="164.3" width="31.72" height="1.3" fill="#f6d1d3"/>
<rect x="130.64" y="165.3" width="31.72" height="1.3" fill="#f7d7d9"/>
<rect x="130.64" y="166.3" width="31.72" height="1.3" fill="#f9e2e3"/>
<rect x="130.64" y="167.3" width="31.72" height="1.3" fill="#f7d8d9"/>
<rect x="130.64" y="168.3" width="31.72" height="1.3" fill="#f8dcdd"/>
<rect x="130.64" y="169.3" width="31.72" height="1.3" fill="#f8dcdd"/>
<rect x="130.64" y="170.3" width="31.72" height="1.3" fill="#f8dcdd"/>
<rect x="130.64" y="171.3" width="31.72" height="1" fill="#fae5e6"/>
<rect x="130.64" y="172" width="31.72" height="1.3" fill="#efb0b3"/>
<rect x="130.64" y="173" width="31.72" height="1.3" fill="#efb0b3"/>
<rect x="130.64" y="174" width="31.72" height="1.3" fill="#eca4a7"/>
<rect x="130.64" y="175" width="31.72" height="1.3" fill="#eeaaad"/>
<rect x="130.64" y="176" width="31.72" height="1.3" fill="#eda7aa"/>
<rect x="130.64" y="177" width="31.72" height="1.1" fill="#eeabad"/>
<rect x="130.64" y="177.8" width="31.72" height="1.3" fill="#d84248"/>
<rect x="130.64" y="178.8" width="31.72" height="1.3" fill="#da4b50"/>
<rect x="130.64" y="179.8" width="31.72" height="1.3" fill="#dc555b"/>
<rect x="130.64" y="180.8" width="31.72" height="1.3" fill="#dd595e"/>
<rect x="130.64" y="181.8" width="31.72" height="1.3" fill="#d9464c"/>
<rect x="130.64" y="182.8" width="31.72" height="1.3" fill="#d84046"/>
<rect x="130.64" y="183.8" width="31.72" height="1.3" fill="#db4d53"/>
<rect x="130.64" y="184.8" width="31.72" height="1.3" fill="#de5d62"/>
<rect x="130.64" y="185.8" width="31.72" height="1.3" fill="#d84147"/>
<rect x="130.64" y="186.8" width="31.72" height="1.3" fill="#db5055"/>
<rect x="130.64" y="187.8" width="31.72" height="1.3" fill="#db5056"/>
<rect x="130.64" y="188.8" width="31.72" height="1.3" fill="#df6267"/>
<rect x="130.64" y="189.8" width="31.72" height="0.5" fill="#db4f54"/>
<rect x="162.36" y="8" width="31.72" height="1.3" fill="#c4eaf7"/>
<rect x="162.36" y="9" width="31.72" height="1.3" fill="#b8e6f6"/>
<rect x="162.36" y="10" width="31.72" height="1.3" fill="#b5e5f6"/>
<rect x="162.36" y="11" width="31.72" height="1.1" fill="#c1e9f7"/>
<rect x="162.36" y="11.8" width="31.72" height="1.3" fill="#dff4fb"/>
<rect x="162.36" y="12.8" width="31.72" height="1.2" fill="#f2fafd"/>
<rect x="162.36" y="13.7" width="31.72" height="1.3" fill="#ccedf8"/>
<rect x="162.36" y="14.7" width="31.72" height="1.3" fill="#c2e9f7"/>
<rect x="162.36" y="15.7" width="31.72" height="1.3" fill="#b7e5f6"/>
<rect x="162.36" y="16.7" width="31.72" height="1.3" fill="#c2e9f7"/>
<rect x="162.36" y="17.7" width="31.72" height="1.3" fill="#bfe8f7"/>
<rect x="162.36" y="18.7" width="31.72" height="1.3" fill="#afe3f5"/>
<rect x="162.36" y="19.7" width="31.72" height="1.3" fill="#afe3f5"/>
<rect x="162.36" y="20.7" width="31.72" height="1.3" fill="#c9ecf8"/>
<rect x="162.36" y="21.7" width="31.72" height="1.3" fill="#b2e4f5"/>
<rect x="162.36" y="22.7" width="31.72" height="1.3" fill="#aae1f4"/>
<rect x="162.36" y="23.7" width="31.72" height="1.3" fill="#c7ebf8"/>
<rect x="162.36" y="24.7" width="31.72" height="0.6" fill="#bbe7f6"/>
<rect x="162.36" y="25" width="31.72" height="1.3" fill="#dff3fb"/>
<rect x="162.36" y="26" width="31.72" height="1.3" fill="#e4f5fc"/>
<rect x="162.36" y="27" width="31.72" height="1.3" fill="#edf9fd"/>
<rect x="162.36" y="28" width="31.72" height="1.3" fill="#d7f1fa"/>
<rect x="162.36" y="29" width="31.72" height="1.3" fill="#eaf7fc"/>
<rect x="162.36" y="30" width="31.72" height="1.3" fill="#ecf8fd"/>
<rect x="162.36" y="31" width="31.72" height="1.3" fill="#f9e3e4"/>
<rect x="162.36" y="32" width="31.72" height="1.3" fill="#fefafa"/>
<rect x="162.36" y="33" width="31.72" height="1.3" fill="#fbecec"/>
<rect x="162.36" y="34" width="31.72" height="1.3" fill="#fefbfb"/>
<rect x="162.36" y="35" width="31.72" height="1.3" fill="#fbeeee"/>
<rect x="162.36" y="36" width="31.72" height="1.3" fill="#fffefe"/>
<rect x="162.36" y="37" width="31.72" height="1" fill="#fae4e5"/>
<rect x="162.36" y="37.7" width="31.72" height="1.3" fill="#c9ecf8"/>
<rect x="162.36" y="38.7" width="31.72" height="1.3" fill="#b4e4f5"/>
<rect x="162.36" y="39.7" width="31.72" height="1.3" fill="#b0e3f5"/>
<rect x="162.36" y="40.7" width="31.72" height="1.3" fill="#ccedf9"/>
<rect x="162.36" y="41.7" width="31.72" height="1.3" fill="#c3eaf7"/>
<rect x="162.36" y="42.7" width="31.72" height="1.3" fill="#c8ebf8"/>
<rect x="162.36" y="43.7" width="31.72" height="1.3" fill="#a9e0f4"/>
<rect x="162.36" y="44.7" width="31.72" height="1.3" fill="#caecf8"/>
<rect x="162.36" y="45.7" width="31.72" height="1.3" fill="#bfe8f7"/>
<rect x="162.36" y="46.7" width="31.72" height="1.3" fill="#b4e4f5"/>
<rect x="162.36" y="47.7" width="31.72" height="0.9" fill="#b8e6f6"/>
<rect x="162.36" y="48.3" width="31.72" height="1.3" fill="#eeabae"/>
<rect x="162.36" y="49.3" width="31.72" height="1.3" fill="#eeaaad"/>
<rect x="162.36" y="50.3" width="31.72" height="1.3" fill="#f3c2c4"/>
<rect x="162.36" y="51.3" width="31.72" height="1.3" fill="#efb0b3"/>
<rect x="162.36" y="52.3" width="31.72" height="1.3" fill="#f3c3c5"/>
<rect x="162.36" y="53.3" width="31.72" height="1" fill="#eca2a5"/>
<rect x="162.36" y="54" width="31.72" height="1.3" fill="#e1f5fb"/>
<rect x="162.36" y="55" width="31.72" height="1.3" fill="#f3fbfe"/>
<rect x="162.36" y="56" width="31.72" height="1.3" fill="#ecf8fd"/>
<rect x="162.36" y="57" width="31.72" height="1.3" fill="#e8f7fc"/>
<rect x="162.36" y="58" width="31.72" height="1.3" fill="#b1e3f5"/>
<rect x="162.36" y="59" width="31.72" height="1.3" fill="#bce7f6"/>
<rect x="162.36" y="60" width="31.72" height="1.3" fill="#ade2f5"/>
<rect x="162.36" y="61" width="31.72" height="1.3" fill="#ade2f5"/>
<rect x="162.36" y="62" width="31.72" height="1.3" fill="#c3eaf7"/>
<rect x="162.36" y="63" width="31.72" height="1.3" fill="#b5e5f6"/>
<rect x="162.36" y="64" width="31.72" height="1.3" fill="#c4eaf8"/>
<rect x="162.36" y="65" width="31.72" height="1.3" fill="#b1e3f5"/>
<rect x="162.36" y="66" width="31.72" height="1.3" fill="#c3eaf7"/>
<rect x="162.36" y="67" width="31.72" height="1.3" fill="#c3eaf7"/>
<rect x="162.36" y="68" width="31.72" height="1.3" fill="#b3e4f5"/>
<rect x="162.36" y="69" width="31.72" height="1.1" fill="#ace1f4"/>
<rect x="162.36" y="69.8" width="31.72" height="1.3" fill="#e27175"/>
<rect x="162.36" y="70.8" width="31.72" height="1.3" fill="#e16d71"/>
<rect x="162.36" y="71.8" width="31.72" height="1.3" fill="#e47d81"/>
<rect x="162.36" y="72.8" width="31.72" height="1.3" fill="#e4797d"/>
<rect x="162.36" y="73.8" width="31.72" height="1.3" fill="#e57f83"/>
<rect x="162.36" y="74.8" width="31.72" height="1.3" fill="#e0686d"/>
<rect x="162.36" y="75.8" width="31.72" height="1" fill="#de5c62"/>
<rect x="162.36" y="76.5" width="31.72" height="1.3" fill="#f4fbfe"/>
<rect x="162.36" y="77.5" width="31.72" height="1.3" fill="#edf9fd"/>
<rect x="162.36" y="78.5" width="31.72" height="1.3" fill="#fdf7f7"/>
<rect x="162.36" y="79.5" width="31.72" height="1.1" fill="#fcf2f2"/>
<rect x="162.36" y="80.3" width="31.72" height="1.3" fill="#d73c42"/>
<rect x="162.36" y="81.3" width="31.72" height="1.3" fill="#da4a50"/>
<rect x="162.36" y="82.3" width="31.72" height="1.3" fill="#dc555b"/>
<rect x="162.36" y="83.3" width="31.72" height="1.3" fill="#d84147"/>
<rect x="162.36" y="84.3" width="31.72" height="1.3" fill="#de5f64"/>
<rect x="162.36" y="85.3" width="31.72" height="1.3" fill="#d9474d"/>
<rect x="162.36" y="86.3" width="31.72" height="1.3" fill="#de6065"/>
<rect x="162.36" y="87.3" width="31.72" height="1.3" fill="#dc5359"/>
<rect x="162.36" y="88.3" width="31.72" height="1" fill="#db4f55"/>
<rect x="162.36" y="89" width="31.72" height="1.3" fill="#f1bbbd"/>
<rect x="162.36" y="90" width="31.72" height="1.3" fill="#f3c3c5"/>
<rect x="162.36" y="91" width="31.72" height="1.3" fill="#f2c1c3"/>
<rect x="162.36" y="92" width="31.72" height="1.1" fill="#eda9ab"/>
<rect x="162.36" y="92.8" width="31.72" height="1.3" fill="#e16e72"/>
<rect x="162.36" y="93.8" width="31.72" height="1.3" fill="#e0696e"/>
<rect x="162.36" y="94.8" width="31.72" height="1.3" fill="#e3787c"/>
<rect x="162.36" y="95.8" width="31.72" height="1.3" fill="#df6468"/>
<rect x="162.36" y="96.8" width="31.72" height="1.2" fill="#e27378"/>
<rect x="162.36" y="97.7" width="31.72" height="1.3" fill="#efb2b4"/>
<rect x="162.36" y="98.7" width="31.72" height="1.3" fill="#eda5a8"/>
<rect x="162.36" y="99.7" width="31.72" height="1.1" fill="#eca1a4"/>
<rect x="162.36" y="100.5" width="31.72" height="1.3" fill="#e57f83"/>
<rect x="162.36" y="101.5" width="31.72" height="1.3" fill="#df6065"/>
<rect x="162.36" y="102.5" width="31.72" height="1.3" fill="#de5e63"/>
<rect x="162.36" y="103.5" width="31.72" height="1.3" fill="#e37478"/>
<rect x="162.36" y="104.5" width="31.72" height="1.3" fill="#e27176"/>
<rect x="162.36" y="105.5" width="31.72" height="1.3" fill="#e0696e"/>
<rect x="162.36" y="106.5" width="31.72" height="1.3" fill="#dd5b60"/>
<rect x="162.36" y="107.5" width="31.72" height="0.8" fill="#e27075"/>
<rect x="162.36" y="108" width="31.72" height="1.3" fill="#f6d2d3"/>
<rect x="162.36" y="109" width="31.72" height="1.3" fill="#f7d7d8"/>
<rect x="162.36" y="110" width="31.72" height="1.3" fill="#fcf0f0"/>
<rect x="162.36" y="111" width="31.72" height="1.3" fill="#de5b61"/>
<rect x="162.36" y="112" width="31.72" height="1.3" fill="#e58084"/>
<rect x="162.36" y="113" width="31.72" height="1.3" fill="#e47b7f"/>
<rect x="162.36" y="114" width="31.72" height="1.3" fill="#e0666a"/>
<rect x="162.36" y="115" width="31.72" height="1.3" fill="#e57f83"/>
<rect x="162.36" y="116" width="31.72" height="1.3" fill="#e27176"/>
<rect x="162.36" y="117" width="31.72" height="1.3" fill="#e47c80"/>
<rect x="162.36" y="118" width="31.72" height="1.3" fill="#e16e72"/>
<rect x="162.36" y="119" width="31.72" height="1.3" fill="#de5e63"/>
<rect x="162.36" y="120" width="31.72" height="1.3" fill="#de5c61"/>
<rect x="162.36" y="121" width="31.72" height="1.3" fill="#e57f83"/>
<rect x="162.36" y="122" width="31.72" height="1.3" fill="#f4c8c9"/>
<rect x="162.36" y="123" width="31.72" height="1.3" fill="#eda8aa"/>
<rect x="162.36" y="124" width="31.72" height="1.3" fill="#f4c8ca"/>
<rect x="162.36" y="125" width="31.72" height="1.3" fill="#f2bfc1"/>
<rect x="162.36" y="126" width="31.72" height="1.3" fill="#f3c5c7"/>
<rect x="162.36" y="127" width="31.72" height="1.3" fill="#f3c6c8"/>
<rect x="162.36" y="128" width="31.72" height="1.3" fill="#f4c9cb"/>
<rect x="162.36" y="129" width="31.72" height="1.3" fill="#efb0b3"/>
<rect x="162.36" y="130" width="31.72" height="1.3" fill="#eeacae"/>
<rect x="162.36" y="131" width="31.72" height="1.3" fill="#eeaeb1"/>
<rect x="162.36" y="132" width="31.72" height="1.3" fill="#eda7aa"/>
<rect x="162.36" y="133" width="31.72" height="1.3" fill="#efafb2"/>
<rect x="162.36" y="134" width="31.72" height="1.3" fill="#f1babc"/>
<rect x="162.36" y="135" width="31.72" height="0.8" fill="#efb0b3"/>
<rect x="162.36" y="135.5" width="31.72" height="1.3" fill="#f6fcfe"/>
<rect x="162.36" y="136.5" width="31.72" height="1.3" fill="#e9f7fc"/>
<rect x="162.36" y="137.5" width="31.72" height="1.3" fill="#daf2fa"/>
<rect x="162.36" y="138.5" width="31.72" height="1.3" fill="#d3eff9"/>
<rect x="162.36" y="139.5" width="31.72" height="1.3" fill="#f4fbfe"/>
<rect x="162.36" y="140.5" width="31.72" height="1.3" fill="#e7f7fc"/>
<rect x="162.36" y="141.5" width="31.72" height="1.3" fill="#def3fb"/>
<rect x="162.36" y="142.5" width="31.72" height="1.3" fill="#e8f7fc"/>
<rect x="162.36" y="143.5" width="31.72" height="1.3" fill="#e6f6fc"/>
<rect x="162.36" y="144.5" width="31.72" height="1.3" fill="#e4f6fc"/>
<rect x="162.36" y="145.5" width="31.72" height="1.3" fill="#d3eff9"/>
<rect x="162.36" y="146.5" width="31.72" height="1.3" fill="#def3fb"/>
<rect x="162.36" y="147.5" width="31.72" height="1.3" fill="#e0f4fb"/>
<rect x="162.36" y="148.5" width="31.72" height="1.3" fill="#d8f1fa"/>
<rect x="162.36" y="149.5" width="31.72" height="0.8" fill="#f2fafd"/>
<rect x="162.36" y="150" width="31.72" height="1.3" fill="#aae1f4"/>
<rect x="162.36" y="151" width="31.72" height="1.3" fill="#b3e4f5"/>
<rect x="162.36" y="152" width="31.72" height="1.3" fill="#b5e5f6"/>
<rect x="162.36" y="153" width="31.72" height="1.3" fill="#b6e5f6"/>
<rect x="162.36" y="154" width="31.72" height="1.3" fill="#b5e5f6"/>
<rect x="162.36" y="155" width="31.72" height="1.3" fill="#b7e5f6"/>
<rect x="162.36" y="156" width="31.72" height="1.3" fill="#a3def3"/>
<rect x="162.36" y="157" width="31.72" height="1.3" fill="#bfe8f7"/>
<rect x="162.36" y="158" width="31.72" height="1.3" fill="#a0ddf3"/>
<rect x="162.36" y="159" width="31.72" height="1.3" fill="#bde8f7"/>
<rect x="162.36" y="160" width="31.72" height="0.8" fill="#bbe7f6"/>
<rect x="162.36" y="160.5" width="31.72" height="1.3" fill="#f6d3d5"/>
<rect x="162.36" y="161.5" width="31.72" height="1.3" fill="#fdf4f4"/>
<rect x="162.36" y="162.5" width="31.72" height="1.3" fill="#fcf2f3"/>
<rect x="162.36" y="163.5" width="31.72" height="1.3" fill="#f6d5d6"/>
<rect x="162.36" y="164.5" width="31.72" height="1.1" fill="#f9e3e4"/>
<rect x="162.36" y="165.3" width="31.72" height="1.3" fill="#f6d1d2"/>
<rect x="162.36" y="166.3" width="31.72" height="1.3" fill="#f0b8ba"/>
<rect x="162.36" y="167.3" width="31.72" height="1.3" fill="#f8dfe0"/>
<rect x="162.36" y="168.3" width="31.72" height="1.3" fill="#f4cacc"/>
<rect x="162.36" y="169.3" width="31.72" height="1.3" fill="#f5ced0"/>
<rect x="162.36" y="170.3" width="31.72" height="1.3" fill="#f8dbdc"/>
<rect x="162.36" y="171.3" width="31.72" height="1.3" fill="#f5d0d1"/>
<rect x="162.36" y="172.3" width="31.72" height="1.3" fill="#f3c3c5"/>
<rect x="162.36" y="173.3" width="31.72" height="1.3" fill="#f1bcbe"/>
<rect x="162.36" y="174.3" width="31.72" height="1.3" fill="#f8dfe0"/>
<rect x="162.36" y="175.3" width="31.72" height="1.3" fill="#f4cbcc"/>
<rect x="162.36" y="176.3" width="31.72" height="1.3" fill="#f8dcde"/>
<rect x="162.36" y="177.3" width="31.72" height="0.8" fill="#f2bfc1"/>
<rect x="162.36" y="177.8" width="31.72" height="1.3" fill="#c6ebf8"/>
<rect x="162.36" y="178.8" width="31.72" height="1.3" fill="#c4eaf8"/>
<rect x="162.36" y="179.8" width="31.72" height="1.3" fill="#d2eff9"/>
<rect x="162.36" y="180.8" width="31.72" height="1.3" fill="#dff4fb"/>
<rect x="162.36" y="181.8" width="31.72" height="1.3" fill="#cfeef9"/>
<rect x="162.36" y="182.8" width="31.72" height="1.3" fill="#c8ebf8"/>
<rect x="162.36" y="183.8" width="31.72" height="0.5" fill="#e1f4fb"/>
<rect x="162.36" y="184" width="31.72" height="1.3" fill="#f0b8ba"/>
<rect x="162.36" y="185" width="31.72" height="1.3" fill="#f0b6b8"/>
<rect x="162.36" y="186" width="31.72" height="1.3" fill="#f5ccce"/>
<rect x="162.36" y="187" width="31.72" height="1.3" fill="#d3eff9"/>
<rect x="162.36" y="188" width="31.72" height="1.3" fill="#ccedf9"/>
<rect x="162.36" y="189" width="31.72" height="1.3" fill="#d8f1fa"/>
<rect x="194.08" y="8" width="31.72" height="1.3" fill="#e89194"/>
<rect x="194.08" y="9" width="31.72" height="1.3" fill="#e89094"/>
<rect x="194.08" y="10" width="31.72" height="1.1" fill="#e57e82"/>
<rect x="194.08" y="10.8" width="31.72" height="1.3" fill="#fbeced"/>
<rect x="194.08" y="11.8" width="31.72" height="1.2" fill="#fefcfc"/>
<rect x="194.08" y="12.7" width="31.72" height="1.3" fill="#f3c6c8"/>
<rect x="194.08" y="13.7" width="31.72" height="1.3" fill="#efafb2"/>
<rect x="194.08" y="14.7" width="31.72" height="1.2" fill="#f0b8ba"/>
<rect x="194.08" y="15.6" width="31.72" height="1.3" fill="#cdedf9"/>
<rect x="194.08" y="16.6" width="31.72" height="1.3" fill="#c3eaf7"/>
<rect x="194.08" y="17.6" width="31.72" height="1.3" fill="#c7ebf8"/>
<rect x="194.08" y="18.6" width="31.72" height="1.2" fill="#c2e9f7"/>
<rect x="194.08" y="19.5" width="31.72" height="1.3" fill="#e5f6fc"/>
<rect x="194.08" y="20.5" width="31.72" height="1.3" fill="#f3fbfd"/>
<rect x="194.08" y="21.5" width="31.72" height="1.3" fill="#f0fafd"/>
<rect x="194.08" y="22.5" width="31.72" height="1.3" fill="#dcf2fb"/>
<rect x="194.08" y="23.5" width="31.72" height="1.3" fill="#d7f1fa"/>
<rect x="194.08" y="24.5" width="31.72" height="0.8" fill="#dff4fb"/>
<rect x="194.08" y="25" width="31.72" height="1.3" fill="#bbe7f6"/>
<rect x="194.08" y="26" width="31.72" height="1.3" fill="#abe1f4"/>
<rect x="194.08" y="27" width="31.72" height="1.3" fill="#b5e5f6"/>
<rect x="194.08" y="28" width="31.72" height="1.3" fill="#bde8f7"/>
<rect x="194.08" y="29" width="31.72" height="1.3" fill="#a9e0f4"/>
<rect x="194.08" y="30" width="31.72" height="1.3" fill="#c7ebf8"/>
<rect x="194.08" y="31" width="31.72" height="1.3" fill="#e0666b"/>
<rect x="194.08" y="32" width="31.72" height="1.3" fill="#e37478"/>
<rect x="194.08" y="33" width="31.72" height="1.3" fill="#7cd1ee"/>
<rect x="194.08" y="34" width="31.72" height="1.3" fill="#7ed1ef"/>
<rect x="194.08" y="35" width="31.72" height="1.3" fill="#7dd1ee"/>
<rect x="194.08" y="36" width="31.72" height="1.3" fill="#8dd7f1"/>
<rect x="194.08" y="37" width="31.72" height="1.3" fill="#84d3ef"/>
<rect x="194.08" y="38" width="31.72" height="1.3" fill="#85d4ef"/>
<rect x="194.08" y="39" width="31.72" height="0.9" fill="#76ceee"/>
<rect x="194.08" y="39.6" width="31.72" height="1.3" fill="#f4fbfe"/>
<rect x="194.08" y="40.6" width="31.72" height="1.3" fill="#ddf3fb"/>
<rect x="194.08" y="41.6" width="31.72" height="1.2" fill="#ddf3fb"/>
<rect x="194.08" y="42.5" width="31.72" height="1.3" fill="#66c9eb"/>
<rect x="194.08" y="43.5" width="31.72" height="1.3" fill="#89d5f0"/>
<rect x="194.08" y="44.5" width="31.72" height="1.3" fill="#75ceee"/>
<rect x="194.08" y="45.5" width="31.72" height="1.3" fill="#86d4f0"/>
<rect x="194.08" y="46.5" width="31.72" height="1.3" fill="#87d4f0"/>
<rect x="194.08" y="47.5" width="31.72" height="1.3" fill="#88d5f0"/>
<rect x="194.08" y="48.5" width="31.72" height="1.3" fill="#82d3ef"/>
<rect x="194.08" y="49.5" width="31.72" height="1.3" fill="#86d4f0"/>
<rect x="194.08" y="50.5" width="31.72" height="1.3" fill="#86d4f0"/>
<rect x="194.08" y="51.5" width="31.72" height="1.3" fill="#82d3ef"/>
<rect x="194.08" y="52.5" width="31.72" height="1.3" fill="#68c9ec"/>
<rect x="194.08" y="53.5" width="31.72" height="1.3" fill="#77cfee"/>
<rect x="194.08" y="54.5" width="31.72" height="1.3" fill="#79cfee"/>
<rect x="194.08" y="55.5" width="31.72" height="0.8" fill="#89d5f0"/>
<rect x="194.08" y="56" width="31.72" height="1.3" fill="#f7d6d7"/>
<rect x="194.08" y="57" width="31.72" height="1.3" fill="#f7d9db"/>
<rect x="194.08" y="58" width="31.72" height="1.3" fill="#f7d8d9"/>
<rect x="194.08" y="59" width="31.72" height="1.3" fill="#b5e5f6"/>
<rect x="194.08" y="60" width="31.72" height="1.3" fill="#ccedf8"/>
<rect x="194.08" y="61" width="31.72" height="1.3" fill="#c0e9f7"/>
<rect x="194.08" y="62" width="31.72" height="1.3" fill="#b7e5f6"/>
<rect x="194.08" y="63" width="31.72" height="1.3" fill="#b9e6f6"/>
<rect x="194.08" y="64" width="31.72" height="1.3" fill="#96daf2"/>
<rect x="194.08" y="65" width="31.72" height="1.3" fill="#85d4ef"/>
<rect x="194.08" y="66" width="31.72" height="1.3" fill="#77cfee"/>
<rect x="194.08" y="67" width="31.72" height="1.3" fill="#76ceee"/>
<rect x="194.08" y="68" width="31.72" height="1.1" fill="#8bd6f0"/>
<rect x="194.08" y="68.8" width="31.72" height="1.3" fill="#f4fbfe"/>
<rect x="194.08" y="69.8" width="31.72" height="1.2" fill="#fffdfd"/>
<rect x="194.08" y="70.7" width="31.72" height="1.3" fill="#f7d9da"/>
<rect x="194.08" y="71.7" width="31.72" height="0.6" fill="#f5cfd1"/>
<rect x="194.08" y="72" width="31.72" height="1.3" fill="#fdf6f6"/>
<rect x="194.08" y="73" width="31.72" height="0.8" fill="#eef9fd"/>
<rect x="194.08" y="73.5" width="31.72" height="1.3" fill="#f9e3e4"/>
<rect x="194.08" y="74.5" width="31.72" height="1.3" fill="#f6d1d3"/>
<rect x="194.08" y="75.5" width="31.72" height="1.3" fill="#7bd0ee"/>
<rect x="194.08" y="76.5" width="31.72" height="1.3" fill="#75ceed"/>
<rect x="194.08" y="77.5" width="31.72" height="1.3" fill="#7bd0ee"/>
<rect x="194.08" y="78.5" width="31.72" height="1.3" fill="#89d5f0"/>
<rect x="194.08" y="79.5" width="31.72" height="1.3" fill="#85d4ef"/>
<rect x="194.08" y="80.5" width="31.72" height="1.3" fill="#74ceed"/>
<rect x="194.08" y="81.5" width="31.72" height="1.3" fill="#74cded"/>
<rect x="194.08" y="82.5" width="31.72" height="1.3" fill="#91d8f1"/>
<rect x="194.08" y="83.5" width="31.72" height="1.3" fill="#89d5f0"/>
<rect x="194.08" y="84.5" width="31.72" height="1.3" fill="#77cfee"/>
<rect x="194.08" y="85.5" width="31.72" height="1.3" fill="#92d8f1"/>
<rect x="194.08" y="86.5" width="31.72" height="1.3" fill="#72cded"/>
<rect x="194.08" y="87.5" width="31.72" height="1.3" fill="#7fd1ef"/>
<rect x="194.08" y="88.5" width="31.72" height="0.8" fill="#91d8f1"/>
<rect x="194.08" y="89" width="31.72" height="1.3" fill="#71cced"/>
<rect x="194.08" y="90" width="31.72" height="1.3" fill="#60c7eb"/>
<rect x="194.08" y="91" width="31.72" height="1.3" fill="#78cfee"/>
<rect x="194.08" y="92" width="31.72" height="1.3" fill="#6ccbec"/>
<rect x="194.08" y="93" width="31.72" height="1.3" fill="#77cfee"/>
<rect x="194.08" y="94" width="31.72" height="1.3" fill="#78cfee"/>
<rect x="194.08" y="95" width="31.72" height="1" fill="#66c9eb"/>
<rect x="194.08" y="95.7" width="31.72" height="1.3" fill="#ddf3fb"/>
<rect x="194.08" y="96.7" width="31.72" height="1.3" fill="#d8f1fa"/>
<rect x="194.08" y="97.7" width="31.72" height="1.3" fill="#e7f6fc"/>
<rect x="194.08" y="98.7" width="31.72" height="1.3" fill="#e1f4fb"/>
<rect x="194.08" y="99.7" width="31.72" height="1.3" fill="#dff3fb"/>
<rect x="194.08" y="100.7" width="31.72" height="1.1" fill="#e2f5fb"/>
<rect x="194.08" y="101.5" width="31.72" height="1.3" fill="#b2e4f5"/>
<rect x="194.08" y="102.5" width="31.72" height="1.3" fill="#96daf2"/>
<rect x="194.08" y="103.5" width="31.72" height="1.3" fill="#94d9f1"/>
<rect x="194.08" y="104.5" width="31.72" height="1.3" fill="#a9e0f4"/>
<rect x="194.08" y="105.5" width="31.72" height="1.3" fill="#aae1f4"/>
<rect x="194.08" y="106.5" width="31.72" height="1.3" fill="#a0ddf3"/>
<rect x="194.08" y="107.5" width="31.72" height="1.3" fill="#9fddf3"/>
<rect x="194.08" y="108.5" width="31.72" height="1.3" fill="#9cdcf2"/>
<rect x="194.08" y="109.5" width="31.72" height="1.3" fill="#aee2f5"/>
<rect x="194.08" y="110.5" width="31.72" height="1.3" fill="#abe1f4"/>
<rect x="194.08" y="111.5" width="31.72" height="1.3" fill="#a2def3"/>
<rect x="194.08" y="112.5" width="31.72" height="1.3" fill="#8ed7f1"/>
<rect x="194.08" y="113.5" width="31.72" height="1.3" fill="#ade2f5"/>
<rect x="194.08" y="114.5" width="31.72" height="1.3" fill="#9edcf3"/>
<rect x="194.08" y="115.5" width="31.72" height="1.3" fill="#93d9f1"/>
<rect x="194.08" y="116.5" width="31.72" height="1.3" fill="#98daf2"/>
<rect x="194.08" y="117.5" width="31.72" height="1.3" fill="#a7e0f4"/>
<rect x="194.08" y="118.5" width="31.72" height="1.3" fill="#8cd6f0"/>
<rect x="194.08" y="119.5" width="31.72" height="1.3" fill="#91d8f1"/>
<rect x="194.08" y="120.5" width="31.72" height="1.3" fill="#98daf2"/>
<rect x="194.08" y="121.5" width="31.72" height="0.8" fill="#aee2f5"/>
<rect x="194.08" y="122" width="31.72" height="1.3" fill="#8dd7f1"/>
<rect x="194.08" y="123" width="31.72" height="1.3" fill="#96daf2"/>
<rect x="194.08" y="124" width="31.72" height="1.3" fill="#86d4f0"/>
<rect x="194.08" y="125" width="31.72" height="1.3" fill="#87d4f0"/>
<rect x="194.08" y="126" width="31.72" height="1.3" fill="#86d4f0"/>
<rect x="194.08" y="127" width="31.72" height="1.3" fill="#85d4ef"/>
<rect x="194.08" y="128" width="31.72" height="1.3" fill="#85d4f0"/>
<rect x="194.08" y="129" width="31.72" height="1.3" fill="#90d8f1"/>
<rect x="194.08" y="130" width="31.72" height="1.3" fill="#95d9f2"/>
<rect x="194.08" y="131" width="31.72" height="1.3" fill="#80d2ef"/>
<rect x="194.08" y="132" width="31.72" height="1.3" fill="#89d5f0"/>
<rect x="194.08" y="133" width="31.72" height="1.3" fill="#7dd1ee"/>
<rect x="194.08" y="134" width="31.72" height="1.3" fill="#7cd1ee"/>
<rect x="194.08" y="135" width="31.72" height="0.8" fill="#84d3ef"/>
<rect x="194.08" y="135.5" width="31.72" height="1.3" fill="#da4b51"/>
<rect x="194.08" y="136.5" width="31.72" height="1.3" fill="#db4d53"/>
<rect x="194.08" y="137.5" width="31.72" height="1.3" fill="#d73b42"/>
<rect x="194.08" y="138.5" width="31.72" height="1.3" fill="#de5d62"/>
<rect x="194.08" y="139.5" width="31.72" height="1.3" fill="#da494f"/>
<rect x="194.08" y="140.5" width="31.72" height="1.3" fill="#d73b41"/>
<rect x="194.08" y="141.5" width="31.72" height="1.3" fill="#d9454b"/>
<rect x="194.08" y="142.5" width="31.72" height="1.3" fill="#da4c52"/>
<rect x="194.08" y="143.5" width="31.72" height="1.3" fill="#dc545a"/>
<rect x="194.08" y="144.5" width="31.72" height="1.3" fill="#dc5358"/>
<rect x="194.08" y="145.5" width="31.72" height="1.3" fill="#d73d43"/>
<rect x="194.08" y="146.5" width="31.72" height="1.3" fill="#d83f45"/>
<rect x="194.08" y="147.5" width="31.72" height="1.3" fill="#da484e"/>
<rect x="194.08" y="148.5" width="31.72" height="1.3" fill="#d83f45"/>
<rect x="194.08" y="149.5" width="31.72" height="1.3" fill="#d73e44"/>
<rect x="194.08" y="150.5" width="31.72" height="1.3" fill="#d84147"/>
<rect x="194.08" y="151.5" width="31.72" height="1.3" fill="#dc5459"/>
<rect x="194.08" y="152.5" width="31.72" height="1.3" fill="#db5056"/>
<rect x="194.08" y="153.5" width="31.72" height="1.3" fill="#d94349"/>
<rect x="194.08" y="154.5" width="31.72" height="0.5" fill="#dc545a"/>
<rect x="194.08" y="154.7" width="31.72" height="1.3" fill="#eeabae"/>
<rect x="194.08" y="155.7" width="31.72" height="1.2" fill="#f0b6b9"/>
<rect x="194.08" y="156.6" width="31.72" height="1.3" fill="#e58286"/>
<rect x="194.08" y="157.6" width="31.72" height="1.3" fill="#e47d81"/>
<rect x="194.08" y="158.6" width="31.72" height="1.3" fill="#e78b8e"/>
<rect x="194.08" y="159.6" width="31.72" height="1.3" fill="#e58185"/>
<rect x="194.08" y="160.6" width="31.72" height="1.3" fill="#e57e83"/>
<rect x="194.08" y="161.6" width="31.72" height="1.3" fill="#e88f92"/>
<rect x="194.08" y="162.6" width="31.72" height="1.3" fill="#e7888c"/>
<rect x="194.08" y="163.6" width="31.72" height="1.3" fill="#e68589"/>
<rect x="194.08" y="164.6" width="31.72" height="1" fill="#e16c71"/>
<rect x="194.08" y="165.3" width="31.72" height="1.3" fill="#e0696d"/>
<rect x="194.08" y="166.3" width="31.72" height="1.3" fill="#e37579"/>
<rect x="194.08" y="167.3" width="31.72" height="1.3" fill="#dd585d"/>
<rect x="194.08" y="168.3" width="31.72" height="1.3" fill="#e3767b"/>
<rect x="194.08" y="169.3" width="31.72" height="1.3" fill="#e16c70"/>
<rect x="194.08" y="170.3" width="31.72" height="1.3" fill="#df6267"/>
<rect x="194.08" y="171.3" width="31.72" height="1.3" fill="#df6469"/>
<rect x="194.08" y="172.3" width="31.72" height="1" fill="#e26f74"/>
<rect x="194.08" y="173" width="31.72" height="1.3" fill="#eeaaad"/>
<rect x="194.08" y="174" width="31.72" height="1.3" fill="#f0b6b9"/>
<rect x="194.08" y="175" width="31.72" height="1.3" fill="#eeadaf"/>
<rect x="194.08" y="176" width="31.72" height="1.3" fill="#f0b6b8"/>
<rect x="194.08" y="177" width="31.72" height="1.1" fill="#eca2a5"/>
<rect x="194.08" y="177.8" width="31.72" height="1.3" fill="#def3fb"/>
<rect x="194.08" y="178.8" width="31.72" height="1.3" fill="#c6ebf8"/>
<rect x="194.08" y="179.8" width="31.72" height="1.3" fill="#c8ebf8"/>
<rect x="194.08" y="180.8" width="31.72" height="1.3" fill="#e8f7fc"/>
<rect x="194.08" y="181.8" width="31.72" height="1.3" fill="#ccedf8"/>
<rect x="194.08" y="182.8" width="31.72" height="1.3" fill="#c4eaf7"/>
<rect x="194.08" y="183.8" width="31.72" height="1.3" fill="#cdedf9"/>
<rect x="194.08" y="184.8" width="31.72" height="1.3" fill="#d5f0fa"/>
<rect x="194.08" y="185.8" width="31.72" height="1.3" fill="#e7f7fc"/>
<rect x="194.08" y="186.8" width="31.72" height="1.3" fill="#d2eff9"/>
<rect x="194.08" y="187.8" width="31.72" height="1.3" fill="#dff3fb"/>
<rect x="194.08" y="188.8" width="31.72" height="1.3" fill="#e3f5fb"/>
<rect x="194.08" y="189.8" width="31.72" height="0.5" fill="#c6ebf8"/>
<path d="M64.35 8.76V8.94M64.35 8.76H67.2M64.35 8.94H67.2M63.45 8.57V8.85M63.45 8.57H67.2M63.45 8.85H64.35M62.18 8.39V8.71M62.18 8.39H67.2M62.18 8.71H63.45M60.34 8.55V9.12M60.34 8.55H62.18M60.34 9.12H67.2M60.67 9.3V9.49M60.67 9.3H67.2M60.67 9.49H67.2M59.15 8.84V9.39M59.15 8.84H60.34M59.15 9.39H60.67M60.44 9.67V9.85M60.44 9.67H67.2M60.44 9.85H67.2M62.34 10.22V10.4M62.34 10.22H67.2M62.34 10.4H67.2M61.72 10.31V10.58M61.72 10.31H62.34M61.72 10.58H67.2M60.68 10.03V10.44M60.68 10.03H67.2M60.68 10.44H61.72M59.29 9.76V10.24M59.29 9.76H60.44M59.29 10.24H60.68M62.33 10.76V10.95M62.33 10.76H67.2M62.33 10.95H67.2M63.29 11.13V11.31M63.29 11.13H67.2M63.29 11.31H67.2M63.19 11.49V11.68M63.19 11.49H67.2M63.19 11.68H67.2M62.92 11.22V11.58M62.92 11.22H63.29M62.92 11.58H63.19M63.85 11.86V12.04M63.85 11.86H67.2M63.85 12.04H67.2M62.94 11.95V12.22M62.94 11.95H63.85M62.94 12.22H67.2M62.21 11.4V12.09M62.21 11.4H62.92M62.21 12.09H62.94M61.63 10.85V11.74M61.63 10.85H62.33M61.63 11.74H62.21M63.82 12.59V12.77M63.82 12.59H67.2M63.82 12.77H67.2M62.69 12.68V12.95M62.69 12.68H63.82M62.69 12.95H67.2M61.06 12.41V12.82M61.06 12.41H67.2M61.06 12.82H62.69M59.82 11.3V12.61M59.82 11.3H61.63M59.82 12.61H61.06M58.18 10V11.95M58.18 10H59.29M58.18 11.95H59.82M56.76 9.12V10.98M56.76 9.12H59.15M56.76 10.98H58.18M63.9 13.14V13.32M63.9 13.14H67.2M63.9 13.32H67.2M62.97 13.23V13.5M62.97 13.23H63.9M62.97 13.5H67.2M64.05 13.68V13.87M64.05 13.68H67.2M64.05 13.87H67.2M63.7 13.77V14.05M63.7 13.77H64.05M63.7 14.05H67.2M64.27 14.23V14.41M64.27 14.23H67.2M64.27 14.41H67.2M63.2 13.91V14.32M63.2 13.91H63.7M63.2 14.32H64.27M62.65 14.12V14.59M62.65 14.12H63.2M62.65 14.59H67.2M61.73 13.36V14.36M61.73 13.36H62.97M61.73 14.36H62.65M61.69 14.78V14.96M61.69 14.78H67.2M61.69 14.96H67.2M59.95 13.86V14.87M59.95 13.86H61.73M59.95 14.87H61.69M63.82 15.69V15.87M63.82 15.69H67.2M63.82 15.87H67.2M62.97 15.51V15.78M62.97 15.51H67.2M62.97 15.78H63.82M62.29 15.32V15.64M62.29 15.32H67.2M62.29 15.64H62.97M61.09 15.14V15.48M61.09 15.14H67.2M61.09 15.48H62.29M63.51 16.05V16.24M63.51 16.05H67.2M63.51 16.24H67.2M64.77 16.78V16.97M64.77 16.78H67.2M64.77 16.97H67.2M63.86 16.6V16.88M63.86 16.6H67.2M63.86 16.88H64.77M63.23 16.42V16.74M63.23 16.42H67.2M63.23 16.74H63.86M62.23 16.15V16.58M62.23 16.15H63.51M62.23 16.58H63.23M62.21 17.15V17.33M62.21 17.15H67.2M62.21 17.33H67.2M61.19 16.36V17.24M61.19 16.36H62.23M61.19 17.24H62.21M58.86 15.31V16.8M58.86 15.31H61.09M58.86 16.8H61.19M58.17 14.36V16.06M58.17 14.36H59.95M58.17 16.06H58.86M61.69 17.51V17.7M61.69 17.51H67.2M61.69 17.7H67.2M60.28 17.61V17.88M60.28 17.61H61.69M60.28 17.88H67.2M62.25 18.06V18.24M62.25 18.06H67.2M62.25 18.24H67.2M62.75 18.61V18.79M62.75 18.61H67.2M62.75 18.79H67.2M62.47 18.43V18.7M62.47 18.43H67.2M62.47 18.7H62.75M61.3 18.15V18.56M61.3 18.15H62.25M61.3 18.56H62.47M62.55 18.97V19.16M62.55 18.97H67.2M62.55 19.16H67.2M61.42 19.07V19.34M61.42 19.07H62.55M61.42 19.34H67.2M60.71 18.36V19.2M60.71 18.36H61.3M60.71 19.2H61.42M59.49 17.74V18.78M59.49 17.74H60.28M59.49 18.78H60.71M57.37 15.21V18.26M57.37 15.21H58.17M57.37 18.26H59.49M60.47 19.52V19.7M60.47 19.52H67.2M60.47 19.7H67.2M59.66 19.61V19.89M59.66 19.61H60.47M59.66 19.89H67.2M60.09 20.07V20.25M60.09 20.07H67.2M60.09 20.25H67.2M61.11 20.43V20.62M61.11 20.43H67.2M61.11 20.62H67.2M60.47 20.52V20.8M60.47 20.52H61.11M60.47 20.8H67.2M59.62 20.16V20.66M59.62 20.16H60.09M59.62 20.66H60.47M62.31 21.16V21.35M62.31 21.16H67.2M62.31 21.35H67.2M60.68 20.98V21.25M60.68 20.98H67.2M60.68 21.25H62.31M59.16 20.41V21.12M59.16 20.41H59.62M59.16 21.12H60.68M58.55 19.75V20.76M58.55 19.75H59.66M58.55 20.76H59.16M62.58 21.71V21.89M62.58 21.71H67.2M62.58 21.89H67.2M61.27 21.8V22.08M61.27 21.8H62.58M61.27 22.08H67.2M59.56 21.53V21.94M59.56 21.53H67.2M59.56 21.94H61.27M60.74 22.26V22.44M60.74 22.26H67.2M60.74 22.44H67.2M58.8 21.73V22.35M58.8 21.73H59.56M58.8 22.35H60.74M61.44 22.62V22.81M61.44 22.62H67.2M61.44 22.81H67.2M60.34 22.71V22.99M60.34 22.71H61.44M60.34 22.99H67.2M62.52 23.17V23.35M62.52 23.17H67.2M62.52 23.35H67.2M61.05 23.26V23.54M61.05 23.26H62.52M61.05 23.54H67.2M59.83 22.85V23.4M59.83 22.85H60.34M59.83 23.4H61.05M58.21 22.04V23.12M58.21 22.04H58.8M58.21 23.12H59.83M57.26 20.26V22.58M57.26 20.26H58.55M57.26 22.58H58.21M60.15 23.72V23.9M60.15 23.72H67.2M60.15 23.9H67.2M62.23 24.08V24.27M62.23 24.08H67.2M62.23 24.27H67.2M62.37 24.45V24.63M62.37 24.45H67.2M62.37 24.63H67.2M61.43 24.17V24.54M61.43 24.17H62.23M61.43 24.54H62.37M61.67 24.81V25M61.67 24.81H67.2M61.67 25H67.2M61.2 24.9V25.18M61.2 24.9H61.67M61.2 25.18H67.2M60.75 24.36V25.04M60.75 24.36H61.43M60.75 25.04H61.2M58.9 23.81V24.7M58.9 23.81H60.15M58.9 24.7H60.75M62.8 25.54V25.72M62.8 25.54H67.2M62.8 25.72H67.2M62.32 25.36V25.63M62.32 25.36H67.2M62.32 25.63H62.8M63.33 25.91V26.09M63.33 25.91H67.2M63.33 26.09H67.2M62.06 26V26.27M62.06 26H63.33M62.06 26.27H67.2M60.57 25.5V26.14M60.57 25.5H62.32M60.57 26.14H62.06M60.6 26.45V26.64M60.6 26.45H67.2M60.6 26.64H67.2M58.38 25.82V26.55M58.38 25.82H60.57M58.38 26.55H60.6M57.41 24.25V26.18M57.41 24.25H58.9M57.41 26.18H58.38M56.48 21.42V25.22M56.48 21.42H57.26M56.48 25.22H57.41M55.58 16.74V23.32M55.58 16.74H57.37M55.58 23.32H56.48M54.44 10.05V20.03M54.44 10.05H56.76M54.44 20.03H55.58M62.47 26.82V27M62.47 26.82H67.2M62.47 27H67.2M61.56 26.91V27.19M61.56 26.91H62.47M61.56 27.19H67.2M62.68 27.56V27.74M62.68 27.56H67.2M62.68 27.74H67.2M61 27.37V27.65M61 27.37H67.2M61 27.65H62.68M59.41 27.05V27.51M59.41 27.05H61.56M59.41 27.51H61M58.92 28.11V28.29M58.92 28.11H67.2M58.92 28.29H67.2M58.09 27.93V28.2M58.09 27.93H67.2M58.09 28.2H58.92M56.44 27.28V28.06M56.44 27.28H59.41M56.44 28.06H58.09M58.57 28.48V28.66M58.57 28.48H67.2M58.57 28.66H67.2M62.63 29.22V29.4M62.63 29.22H67.2M62.63 29.4H67.2M62.3 29.03V29.31M62.3 29.03H67.2M62.3 29.31H62.63M61.26 28.85V29.17M61.26 28.85H67.2M61.26 29.17H62.3M59.83 29.58V29.77M59.83 29.58H67.2M59.83 29.77H67.2M59.16 29.01V29.68M59.16 29.01H61.26M59.16 29.68H59.83M57.37 28.57V29.34M57.37 28.57H58.57M57.37 29.34H59.16M61.35 30.14V30.32M61.35 30.14H67.2M61.35 30.32H67.2M63.48 30.69V30.87M63.48 30.69H67.2M63.48 30.87H67.2M62.06 30.51V30.78M62.06 30.51H67.2M62.06 30.78H63.48M60.66 30.23V30.64M60.66 30.23H61.35M60.66 30.64H62.06M58.94 29.95V30.44M58.94 29.95H67.2M58.94 30.44H60.66M56.05 28.96V30.2M56.05 28.96H57.37M56.05 30.2H58.94M53.14 27.67V29.58M53.14 27.67H56.44M53.14 29.58H56.05M61.89 31.24V31.43M61.89 31.24H67.2M61.89 31.43H67.2M61.23 31.06V31.34M61.23 31.06H67.2M61.23 31.34H61.89M62.17 31.61V31.8M62.17 31.61H67.2M62.17 31.8H67.2M61.74 31.7V31.98M61.74 31.7H62.17M61.74 31.98H67.2M59.74 31.2V31.84M59.74 31.2H61.23M59.74 31.84H61.74M59.88 32.17V32.35M59.88 32.17H67.2M59.88 32.35H67.2M58.75 31.52V32.26M58.75 31.52H59.74M58.75 32.26H59.88M60.48 32.53V32.72M60.48 32.53H67.2M60.48 32.72H67.2M62.35 33.09V33.27M62.35 33.09H67.2M62.35 33.27H67.2M60.46 32.9V33.18M60.46 32.9H67.2M60.46 33.18H62.35M60.06 32.63V33.04M60.06 32.63H60.48M60.06 33.04H60.46M58.26 31.89V32.83M58.26 31.89H58.75M58.26 32.83H60.06M59.49 33.46V33.64M59.49 33.46H67.2M59.49 33.64H67.2M62.78 34.19V34.38M62.78 34.19H67.2M62.78 34.38H67.2M61.95 34.01V34.28M61.95 34.01H67.2M61.95 34.28H62.78M60.55 33.82V34.15M60.55 33.82H67.2M60.55 34.15H61.95M57.98 33.55V33.98M57.98 33.55H59.49M57.98 33.98H60.55M56.17 32.36V33.77M56.17 32.36H58.26M56.17 33.77H57.98M62.88 34.56V34.75M62.88 34.56H67.2M62.88 34.75H67.2M62.2 34.65V34.93M62.2 34.65H62.88M62.2 34.93H67.2M60.95 35.11V35.3M60.95 35.11H67.2M60.95 35.3H67.2M60.35 34.79V35.21M60.35 34.79H62.2M60.35 35.21H60.95M58.12 35V35.48M58.12 35H60.35M58.12 35.48H67.2M58.28 35.67V35.85M58.28 35.67H67.2M58.28 35.85H67.2M55.98 35.24V35.76M55.98 35.24H58.12M55.98 35.76H58.28M53.74 33.06V35.5M53.74 33.06H56.17M53.74 35.5H55.98M62.02 36.22V36.4M62.02 36.22H67.2M62.02 36.4H67.2M61.2 36.31V36.59M61.2 36.31H62.02M61.2 36.59H67.2M60.13 36.04V36.45M60.13 36.04H67.2M60.13 36.45H61.2M63.77 36.77V36.96M63.77 36.77H67.2M63.77 36.96H67.2M64.17 37.14V37.33M64.17 37.14H67.2M64.17 37.33H67.2M63.57 37.23V37.51M63.57 37.23H64.17M63.57 37.51H67.2M62.55 36.86V37.37M62.55 36.86H63.77M62.55 37.37H63.57M62.32 37.69V37.88M62.32 37.69H67.2M62.32 37.88H67.2M63.05 38.06V38.25M63.05 38.06H67.2M63.05 38.25H67.2M61.58 37.79V38.15M61.58 37.79H62.32M61.58 38.15H63.05M60.88 37.12V37.97M60.88 37.12H62.55M60.88 37.97H61.58M62.32 38.62V38.8M62.32 38.62H67.2M62.32 38.8H67.2M62.81 38.98V39.17M62.81 38.98H67.2M62.81 39.17H67.2M61.62 38.71V39.08M61.62 38.71H62.32M61.62 39.08H62.81M60.82 38.43V38.89M60.82 38.43H67.2M60.82 38.89H61.62M59.63 37.54V38.66M59.63 37.54H60.88M59.63 38.66H60.82M57.78 36.24V38.1M57.78 36.24H60.13M57.78 38.1H59.63M61.7 39.35V39.54M61.7 39.35H67.2M61.7 39.54H67.2M61.79 39.72V39.91M61.79 39.72H67.2M61.79 39.91H67.2M60.16 39.44V39.81M60.16 39.44H61.7M60.16 39.81H61.79M62.72 40.27V40.46M62.72 40.27H67.2M62.72 40.46H67.2M61.81 40.37V40.64M61.81 40.37H62.72M61.81 40.64H67.2M61.09 40.5V40.83M61.09 40.5H61.81M61.09 40.83H67.2M59.9 40.09V40.67M59.9 40.09H67.2M59.9 40.67H61.09M59.45 39.63V40.38M59.45 39.63H60.16M59.45 40.38H59.9M61.2 41.01V41.2M61.2 41.01H67.2M61.2 41.2H67.2M58.92 40V41.1M58.92 40H59.45M58.92 41.1H61.2M56.49 37.17V40.55M56.49 37.17H57.78M56.49 40.55H58.92M52.81 34.28V38.86M52.81 34.28H53.74M52.81 38.86H56.49M50.04 28.62V36.57M50.04 28.62H53.14M50.04 36.57H52.81M64.98 41.56V41.74M64.98 41.56H67.2M64.98 41.74H67.2M64.55 41.38V41.65M64.55 41.38H67.2M64.55 41.65H64.98M63.83 41.52V41.93M63.83 41.52H64.55M63.83 41.93H67.2M65.35 42.29V42.47M65.35 42.29H67.2M65.35 42.47H67.2M65.07 42.11V42.38M65.07 42.11H67.2M65.07 42.38H65.35M64.29 42.25V42.66M64.29 42.25H65.07M64.29 42.66H67.2M64.09 42.45V42.84M64.09 42.45H64.29M64.09 42.84H67.2M64.24 43.02V43.2M64.24 43.02H67.2M64.24 43.2H67.2M63.77 42.65V43.11M63.77 42.65H64.09M63.77 43.11H64.24M62.59 41.72V42.88M62.59 41.72H63.83M62.59 42.88H63.77M63.9 43.57V43.75M63.9 43.57H67.2M63.9 43.75H67.2M63.02 43.39V43.66M63.02 43.39H67.2M63.02 43.66H63.9M64.03 44.12V44.3M64.03 44.12H67.2M64.03 44.3H67.2M63.37 44.48V44.67M63.37 44.48H67.2M63.37 44.67H67.2M63.08 44.21V44.57M63.08 44.21H64.03M63.08 44.57H63.37M62.76 43.93V44.39M62.76 43.93H67.2M62.76 44.39H63.08M62.5 43.52V44.16M62.5 43.52H63.02M62.5 44.16H62.76M61.46 42.3V43.84M61.46 42.3H62.59M61.46 43.84H62.5M63.15 45.03V45.21M63.15 45.03H67.2M63.15 45.21H67.2M62.38 44.85V45.12M62.38 44.85H67.2M62.38 45.12H63.15M63.72 45.58V45.76M63.72 45.58H67.2M63.72 45.76H67.2M62.55 45.4V45.67M62.55 45.4H67.2M62.55 45.67H63.72M61.99 44.98V45.53M61.99 44.98H62.38M61.99 45.53H62.55M64.09 45.94V46.13M64.09 45.94H67.2M64.09 46.13H67.2M63.83 46.03V46.31M63.83 46.03H64.09M63.83 46.31H67.2M64.43 46.67V46.86M64.43 46.67H67.2M64.43 46.86H67.2M63.35 46.49V46.77M63.35 46.49H67.2M63.35 46.77H64.43M63.1 46.17V46.63M63.1 46.17H63.83M63.1 46.63H63.35M64.29 47.04V47.22M64.29 47.04H67.2M64.29 47.22H67.2M65.09 47.4V47.59M65.09 47.4H67.2M65.09 47.59H67.2M64.6 47.77V47.95M64.6 47.77H67.2M64.6 47.95H67.2M64.31 47.5V47.86M64.31 47.5H65.09M64.31 47.86H64.6M64.85 48.13V48.32M64.85 48.13H67.2M64.85 48.32H67.2M64.53 48.23V48.5M64.53 48.23H64.85M64.53 48.5H67.2M63.97 47.68V48.36M63.97 47.68H64.31M63.97 48.36H64.53M63.35 47.13V48.02M63.35 47.13H64.29M63.35 48.02H63.97M64.76 48.68V48.86M64.76 48.68H67.2M64.76 48.86H67.2M64.48 49.05V49.23M64.48 49.05H67.2M64.48 49.23H67.2M64.03 48.77V49.14M64.03 48.77H64.76M64.03 49.14H64.48M63.12 47.58V48.96M63.12 47.58H63.35M63.12 48.96H64.03M61.96 46.4V48.27M61.96 46.4H63.1M61.96 48.27H63.12M60.47 45.26V47.33M60.47 45.26H61.99M60.47 47.33H61.96M60.12 43.07V46.3M60.12 43.07H61.46M60.12 46.3H60.47M63.78 49.41V49.6M63.78 49.41H67.2M63.78 49.6H67.2M64.94 49.78V49.96M64.94 49.78H67.2M64.94 49.96H67.2M65.33 50.14V50.33M65.33 50.14H67.2M65.33 50.33H67.2M64.91 50.51V50.69M64.91 50.51H67.2M64.91 50.69H67.2M64.77 50.23V50.6M64.77 50.23H65.33M64.77 50.6H64.91M64.43 49.87V50.42M64.43 49.87H64.94M64.43 50.42H64.77M64.59 50.87V51.06M64.59 50.87H67.2M64.59 51.06H67.2M63.61 50.14V50.96M63.61 50.14H64.43M63.61 50.96H64.59M63.1 49.5V50.55M63.1 49.5H63.78M63.1 50.55H63.61M63.99 51.42V51.6M63.99 51.42H67.2M63.99 51.6H67.2M63.52 51.24V51.51M63.52 51.24H67.2M63.52 51.51H63.99M62.55 50.03V51.38M62.55 50.03H63.1M62.55 51.38H63.52M63.9 51.97V52.15M63.9 51.97H67.2M63.9 52.15H67.2M63.63 52.06V52.33M63.63 52.06H63.9M63.63 52.33H67.2M62.79 51.79V52.2M62.79 51.79H67.2M62.79 52.2H63.63M64.55 52.7V52.88M64.55 52.7H67.2M64.55 52.88H67.2M63.91 52.52V52.79M63.91 52.52H67.2M63.91 52.79H64.55M65.8 53.43V53.61M65.8 53.43H67.2M65.8 53.61H67.2M65.49 53.52V53.79M65.49 53.52H65.8M65.49 53.79H67.2M65.32 53.25V53.66M65.32 53.25H67.2M65.32 53.66H65.49M64.69 53.45V53.98M64.69 53.45H65.32M64.69 53.98H67.2M64.07 53.06V53.72M64.07 53.06H67.2M64.07 53.72H64.69M63.69 52.65V53.39M63.69 52.65H63.91M63.69 53.39H64.07M62.53 51.99V53.02M62.53 51.99H62.79M62.53 53.02H63.69M61.19 50.7V52.51M61.19 50.7H62.55M61.19 52.51H62.53M59.56 44.68V51.6M59.56 44.68H60.12M59.56 51.6H61.19M60.96 54.16V54.34M60.96 54.16H67.2M60.96 54.34H67.2M60.73 54.53V54.71M60.73 54.53H67.2M60.73 54.71H67.2M62.11 54.89V55.07M62.11 54.89H67.2M62.11 55.07H67.2M63.03 55.44V55.62M63.03 55.44H67.2M63.03 55.62H67.2M62.53 55.26V55.53M62.53 55.26H67.2M62.53 55.53H63.03M61.79 54.98V55.39M61.79 54.98H62.11M61.79 55.39H62.53M60.25 54.62V55.19M60.25 54.62H60.73M60.25 55.19H61.79M59.54 54.25V54.9M59.54 54.25H60.96M59.54 54.9H60.25M61.85 55.99V56.17M61.85 55.99H67.2M61.85 56.17H67.2M60.78 55.8V56.08M60.78 55.8H67.2M60.78 56.08H61.85M60.37 55.94V56.35M60.37 55.94H60.78M60.37 56.35H67.2M63.5 56.72V56.9M63.5 56.72H67.2M63.5 56.9H67.2M62.43 56.53V56.81M62.43 56.53H67.2M62.43 56.81H63.5M63.59 57.26V57.45M63.59 57.26H67.2M63.59 57.45H67.2M63.29 57.08V57.36M63.29 57.08H67.2M63.29 57.36H63.59M61.9 56.67V57.22M61.9 56.67H62.43M61.9 57.22H63.29M63.39 57.99V58.18M63.39 57.99H67.2M63.39 58.18H67.2M62.53 57.81V58.09M62.53 57.81H67.2M62.53 58.09H63.39M61.92 57.63V57.95M61.92 57.63H67.2M61.92 57.95H62.53M60.54 56.94V57.79M60.54 56.94H61.9M60.54 57.79H61.92M63.74 58.54V58.72M63.74 58.54H67.2M63.74 58.72H67.2M62.68 58.36V58.63M62.68 58.36H67.2M62.68 58.63H63.74M61.46 58.5V58.91M61.46 58.5H62.68M61.46 58.91H67.2M62.28 59.09V59.27M62.28 59.09H67.2M62.28 59.27H67.2M60.63 58.7V59.18M60.63 58.7H61.46M60.63 59.18H62.28M59.88 57.37V58.94M59.88 57.37H60.54M59.88 58.94H60.63M58.37 56.15V58.15M58.37 56.15H60.37M58.37 58.15H59.88M57.67 54.58V57.15M57.67 54.58H59.54M57.67 57.15H58.37M56.98 48.14V55.86M56.98 48.14H59.56M56.98 55.86H57.67M61.68 59.64V59.82M61.68 59.64H67.2M61.68 59.82H67.2M59.81 59.46V59.73M59.81 59.46H67.2M59.81 59.73H61.68M59.68 60V60.19M59.68 60H67.2M59.68 60.19H67.2M59.11 59.59V60.09M59.11 59.59H59.81M59.11 60.09H59.68M56.32 59.84V60.37M56.32 59.84H59.11M56.32 60.37H67.2M63.56 60.73V60.92M63.56 60.73H67.2M63.56 60.92H67.2M62.53 60.55V60.82M62.53 60.55H67.2M62.53 60.82H63.56M62.32 61.1V61.28M62.32 61.1H67.2M62.32 61.28H67.2M61.14 60.69V61.19M61.14 60.69H62.53M61.14 61.19H62.32M59.05 60.94V61.46M59.05 60.94H61.14M59.05 61.46H67.2M59.76 61.65V61.83M59.76 61.65H67.2M59.76 61.83H67.2M62.68 62.19V62.38M62.68 62.19H67.2M62.68 62.38H67.2M61.1 62.29V62.56M61.1 62.29H62.68M61.1 62.56H67.2M60 62.01V62.42M60 62.01H67.2M60 62.42H61.1M57.81 61.74V62.22M57.81 61.74H59.76M57.81 62.22H60M56.75 61.2V61.98M56.75 61.2H59.05M56.75 61.98H57.81M55.19 60.11V61.59M55.19 60.11H56.32M55.19 61.59H56.75M62.45 63.11V63.29M62.45 63.11H67.2M62.45 63.29H67.2M61.39 62.92V63.2M61.39 62.92H67.2M61.39 63.2H62.45M59.62 62.74V63.06M59.62 62.74H67.2M59.62 63.06H61.39M59.22 62.9V63.47M59.22 62.9H59.62M59.22 63.47H67.2M61.05 63.65V63.84M61.05 63.65H67.2M61.05 63.84H67.2M61.33 64.02V64.2M61.33 64.02H67.2M61.33 64.2H67.2M59.08 63.75V64.11M59.08 63.75H61.05M59.08 64.11H61.33M57.25 63.19V63.93M57.25 63.19H59.22M57.25 63.93H59.08M61.86 64.39V64.57M61.86 64.39H67.2M61.86 64.57H67.2M61.64 64.75V64.93M61.64 64.75H67.2M61.64 64.93H67.2M61.3 64.48V64.84M61.3 64.48H61.86M61.3 64.84H61.64M63.73 65.12V65.3M63.73 65.12H67.2M63.73 65.3H67.2M63.39 65.21V65.48M63.39 65.21H63.73M63.39 65.48H67.2M62.49 65.34V65.66M62.49 65.34H63.39M62.49 65.66H67.2M60.88 64.66V65.5M60.88 64.66H61.3M60.88 65.5H62.49M62.33 65.85V66.03M62.33 65.85H67.2M62.33 66.03H67.2M62.54 66.21V66.39M62.54 66.21H67.2M62.54 66.39H67.2M62.17 66.3V66.58M62.17 66.3H62.54M62.17 66.58H67.2M61.2 65.94V66.44M61.2 65.94H62.33M61.2 66.44H62.17M62.18 66.76V66.94M62.18 66.76H67.2M62.18 66.94H67.2M60.61 66.19V66.85M60.61 66.19H61.2M60.61 66.85H62.18M58.81 65.08V66.52M58.81 65.08H60.88M58.81 66.52H60.61M56.61 63.56V65.8M56.61 63.56H57.25M56.61 65.8H58.81M54.54 60.85V64.68M54.54 60.85H55.19M54.54 64.68H56.61M53.02 52V62.76M53.02 52H56.98M53.02 62.76H54.54M63.79 67.49V67.67M63.79 67.49H67.2M63.79 67.67H67.2M62.6 67.31V67.58M62.6 67.31H67.2M62.6 67.58H63.79M61.03 67.12V67.44M61.03 67.12H67.2M61.03 67.44H62.6M61.54 67.86V68.04M61.54 67.86H67.2M61.54 68.04H67.2M60.34 67.28V67.95M60.34 67.28H61.03M60.34 67.95H61.54M62.89 68.22V68.4M62.89 68.22H67.2M62.89 68.4H67.2M61.86 68.31V68.59M61.86 68.31H62.89M61.86 68.59H67.2M60.82 68.45V68.77M60.82 68.45H61.86M60.82 68.77H67.2M58.96 67.62V68.61M58.96 67.62H60.34M58.96 68.61H60.82M64.88 68.95V69.14M64.88 68.95H67.2M64.88 69.14H67.2M64.13 69.05V69.32M64.13 69.05H64.88M64.13 69.32H67.2M63.03 69.18V69.5M63.03 69.18H64.13M63.03 69.5H67.2M62.24 69.69V69.87M62.24 69.69H67.2M62.24 69.87H67.2M61.69 69.34V69.78M61.69 69.34H63.03M61.69 69.78H62.24M60.99 70.05V70.23M60.99 70.05H67.2M60.99 70.23H67.2M60.59 69.56V70.14M60.59 69.56H61.69M60.59 70.14H60.99M63.51 70.6V70.78M63.51 70.6H67.2M63.51 70.78H67.2M62.98 70.69V70.97M62.98 70.69H63.51M62.98 70.97H67.2M61.63 70.42V70.83M61.63 70.42H67.2M61.63 70.83H62.98M59.92 69.85V70.62M59.92 69.85H60.59M59.92 70.62H61.63M57.16 68.11V70.24M57.16 68.11H58.96M57.16 70.24H59.92M63.16 71.33V71.51M63.16 71.33H67.2M63.16 71.51H67.2M62.46 71.15V71.42M62.46 71.15H67.2M62.46 71.42H63.16M61.92 71.7V71.88M61.92 71.7H67.2M61.92 71.88H67.2M61.35 71.29V71.79M61.35 71.29H62.46M61.35 71.79H61.92M59.75 72.06V72.25M59.75 72.06H67.2M59.75 72.25H67.2M59.34 71.54V72.15M59.34 71.54H61.35M59.34 72.15H59.75M59.29 72.43V72.61M59.29 72.43H67.2M59.29 72.61H67.2M57.93 71.85V72.52M57.93 71.85H59.34M57.93 72.52H59.29M62.13 72.98V73.16M62.13 72.98H67.2M62.13 73.16H67.2M61.01 72.8V73.07M61.01 72.8H67.2M61.01 73.07H62.13M61.76 73.34V73.53M61.76 73.34H67.2M61.76 73.53H67.2M63.7 73.71V73.89M63.7 73.71H67.2M63.7 73.89H67.2M63.33 74.08V74.26M63.33 74.08H67.2M63.33 74.26H67.2M62.67 73.8V74.17M62.67 73.8H63.7M62.67 74.17H63.33M60.95 73.44V73.98M60.95 73.44H61.76M60.95 73.98H62.67M58.61 72.93V73.71M58.61 72.93H61.01M58.61 73.71H60.95M56.5 72.18V73.32M56.5 72.18H57.93M56.5 73.32H58.61M54.92 69.18V72.75M54.92 69.18H57.16M54.92 72.75H56.5M61.36 74.44V74.62M61.36 74.44H67.2M61.36 74.62H67.2M60.32 74.53V74.81M60.32 74.53H61.36M60.32 74.81H67.2M62.25 74.99V75.17M62.25 74.99H67.2M62.25 75.17H67.2M60.84 75.08V75.36M60.84 75.08H62.25M60.84 75.36H67.2M58.39 74.67V75.22M58.39 74.67H60.32M58.39 75.22H60.84M59.95 75.9V76.09M59.95 75.9H67.2M59.95 76.09H67.2M59.46 75.72V76M59.46 75.72H67.2M59.46 76H59.95M58.59 75.54V75.86M58.59 75.54H67.2M58.59 75.86H59.46M57.63 74.94V75.7M57.63 74.94H58.39M57.63 75.7H58.59M61.39 76.45V76.64M61.39 76.45H67.2M61.39 76.64H67.2M60.74 76.27V76.55M60.74 76.27H67.2M60.74 76.55H61.39M63.09 76.82V77M63.09 76.82H67.2M63.09 77H67.2M63.71 77.19V77.37M63.71 77.19H67.2M63.71 77.37H67.2M63.23 77.28V77.55M63.23 77.28H63.71M63.23 77.55H67.2M61.87 76.91V77.41M61.87 76.91H63.09M61.87 77.41H63.23M61.46 77.73V77.92M61.46 77.73H67.2M61.46 77.92H67.2M60.76 77.16V77.83M60.76 77.16H61.87M60.76 77.83H61.46M59.03 76.41V77.49M59.03 76.41H60.74M59.03 77.49H60.76M62.42 78.47V78.65M62.42 78.47H67.2M62.42 78.65H67.2M61.84 78.28V78.56M61.84 78.28H67.2M61.84 78.56H62.42M59.79 78.1V78.42M59.79 78.1H67.2M59.79 78.42H61.84M61.97 78.83V79.01M61.97 78.83H67.2M61.97 79.01H67.2M61.67 78.92V79.2M61.67 78.92H61.97M61.67 79.2H67.2M60.8 79.06V79.38M60.8 79.06H61.67M60.8 79.38H67.2M60.97 79.56V79.75M60.97 79.56H67.2M60.97 79.75H67.2M59.16 79.22V79.65M59.16 79.22H60.8M59.16 79.65H60.97M58.66 78.26V79.44M58.66 78.26H59.79M58.66 79.44H59.16M57.79 76.95V78.85M57.79 76.95H59.03M57.79 78.85H58.66M54.52 75.32V77.9M54.52 75.32H57.63M54.52 77.9H57.79M51.67 70.96V76.61M51.67 70.96H54.92M51.67 76.61H54.52M60.96 79.93V80.11M60.96 79.93H67.2M60.96 80.11H67.2M63.02 80.29V80.48M63.02 80.29H67.2M63.02 80.48H67.2M63.02 80.66V80.84M63.02 80.66H67.2M63.02 80.84H67.2M62.6 80.39V80.75M62.6 80.39H63.02M62.6 80.75H63.02M61.84 81.02V81.21M61.84 81.02H67.2M61.84 81.21H67.2M60.94 80.57V81.11M60.94 80.57H62.6M60.94 81.11H61.84M58.62 80.02V80.84M58.62 80.02H60.96M58.62 80.84H60.94M63.7 81.57V81.75M63.7 81.57H67.2M63.7 81.75H67.2M62.92 81.39V81.66M62.92 81.39H67.2M62.92 81.66H63.7M64.68 81.94V82.12M64.68 81.94H67.2M64.68 82.12H67.2M64.37 82.3V82.48M64.37 82.3H67.2M64.37 82.48H67.2M63.73 82.03V82.39M63.73 82.03H64.68M63.73 82.39H64.37M63.05 82.21V82.67M63.05 82.21H63.73M63.05 82.67H67.2M64.17 82.85V83.03M64.17 82.85H67.2M64.17 83.03H67.2M63.11 82.94V83.21M63.11 82.94H64.17M63.11 83.21H67.2M62.05 82.44V83.08M62.05 82.44H63.05M62.05 83.08H63.11M61.44 81.53V82.76M61.44 81.53H62.92M61.44 82.76H62.05M62.73 83.58V83.76M62.73 83.58H67.2M62.73 83.76H67.2M62.25 83.4V83.67M62.25 83.4H67.2M62.25 83.67H62.73M63.42 83.94V84.13M63.42 83.94H67.2M63.42 84.13H67.2M61.96 83.53V84.03M61.96 83.53H62.25M61.96 84.03H63.42M60.54 82.14V83.78M60.54 82.14H61.44M60.54 83.78H61.96M62.96 84.49V84.67M62.96 84.49H67.2M62.96 84.67H67.2M62.31 84.31V84.58M62.31 84.31H67.2M62.31 84.58H62.96M62.72 85.04V85.22M62.72 85.04H67.2M62.72 85.22H67.2M62.36 84.86V85.13M62.36 84.86H67.2M62.36 85.13H62.72M61.6 84.99V85.4M61.6 84.99H62.36M61.6 85.4H67.2M60.84 84.44V85.2M60.84 84.44H62.31M60.84 85.2H61.6M59.85 82.96V84.82M59.85 82.96H60.54M59.85 84.82H60.84M58.01 80.43V83.89M58.01 80.43H58.62M58.01 83.89H59.85M61.62 85.59V85.77M61.62 85.59H67.2M61.62 85.77H67.2M60.81 85.95V86.13M60.81 85.95H67.2M60.81 86.13H67.2M60.28 85.68V86.04M60.28 85.68H61.62M60.28 86.04H60.81M61.5 86.31V86.5M61.5 86.31H67.2M61.5 86.5H67.2M60.67 86.41V86.68M60.67 86.41H61.5M60.67 86.68H67.2M62.55 86.86V87.04M62.55 86.86H67.2M62.55 87.04H67.2M62.07 87.23V87.41M62.07 87.23H67.2M62.07 87.41H67.2M60.99 86.95V87.32M60.99 86.95H62.55M60.99 87.32H62.07M58.98 86.54V87.14M58.98 86.54H60.67M58.98 87.14H60.99M58.34 85.86V86.84M58.34 85.86H60.28M58.34 86.84H58.98M55 82.16V86.35M55 82.16H58.01M55 86.35H58.34M63.64 87.77V87.96M63.64 87.77H67.2M63.64 87.96H67.2M63.44 87.59V87.87M63.44 87.59H67.2M63.44 87.87H63.64M62.14 87.73V88.14M62.14 87.73H63.44M62.14 88.14H67.2M61.78 88.32V88.5M61.78 88.32H67.2M61.78 88.5H67.2M63 88.69V88.87M63 88.69H67.2M63 88.87H67.2M63.1 89.05V89.23M63.1 89.05H67.2M63.1 89.23H67.2M62.54 88.78V89.14M62.54 88.78H63M62.54 89.14H63.1M60.95 88.41V88.96M60.95 88.41H61.78M60.95 88.96H62.54M60.58 87.93V88.69M60.58 87.93H62.14M60.58 88.69H60.95M62.82 89.42V89.6M62.82 89.42H67.2M62.82 89.6H67.2M63.24 89.78V89.96M63.24 89.78H67.2M63.24 89.96H67.2M62.64 89.87V90.15M62.64 89.87H63.24M62.64 90.15H67.2M62.25 89.51V90.01M62.25 89.51H62.82M62.25 90.01H62.64M63.12 90.33V90.51M63.12 90.33H67.2M63.12 90.51H67.2M63.94 90.88V91.06M63.94 90.88H67.2M63.94 91.06H67.2M63.2 90.69V90.97M63.2 90.69H67.2M63.2 90.97H63.94M62.67 90.42V90.83M62.67 90.42H63.12M62.67 90.83H63.2M61.66 89.76V90.63M61.66 89.76H62.25M61.66 90.63H62.67M64 91.42V91.61M64 91.42H67.2M64 91.61H67.2M62.81 91.24V91.51M62.81 91.24H67.2M62.81 91.51H64M63.24 91.79V91.97M63.24 91.79H67.2M63.24 91.97H67.2M62.31 91.38V91.88M62.31 91.38H62.81M62.31 91.88H63.24M61.23 90.19V91.63M61.23 90.19H61.66M61.23 91.63H62.31M59.32 88.31V90.91M59.32 88.31H60.58M59.32 90.91H61.23M64.03 92.15V92.34M64.03 92.15H67.2M64.03 92.34H67.2M62.96 92.24V92.52M62.96 92.24H64.03M62.96 92.52H67.2M64.93 92.88V93.07M64.93 92.88H67.2M64.93 93.07H67.2M64.37 92.7V92.97M64.37 92.7H67.2M64.37 92.97H64.93M64.51 93.25V93.43M64.51 93.25H67.2M64.51 93.43H67.2M64 93.34V93.61M64 93.34H64.51M64 93.61H67.2M63.28 92.84V93.48M63.28 92.84H64.37M63.28 93.48H64M62.37 92.38V93.16M62.37 92.38H62.96M62.37 93.16H63.28M62.2 93.8V93.98M62.2 93.8H67.2M62.2 93.98H67.2M62.45 94.16V94.34M62.45 94.16H67.2M62.45 94.34H67.2M64.02 94.53V94.71M64.02 94.53H67.2M64.02 94.71H67.2M63.78 94.89V95.07M63.78 94.89H67.2M63.78 95.07H67.2M63.16 94.62V94.98M63.16 94.62H64.02M63.16 94.98H63.78M62.16 94.25V94.8M62.16 94.25H62.45M62.16 94.8H63.16M61.63 93.89V94.53M61.63 93.89H62.2M61.63 94.53H62.16M61.27 92.77V94.21M61.27 92.77H62.37M61.27 94.21H61.63M64.04 95.44V95.62M64.04 95.44H67.2M64.04 95.62H67.2M64.16 95.99V96.17M64.16 95.99H67.2M64.16 96.17H67.2M63.88 95.8V96.08M63.88 95.8H67.2M63.88 96.08H64.16M63.2 95.53V95.94M63.2 95.53H64.04M63.2 95.94H63.88M62.1 95.26V95.73M62.1 95.26H67.2M62.1 95.73H63.2M65.46 96.53V96.71M65.46 96.53H67.2M65.46 96.71H67.2M64.95 96.35V96.62M64.95 96.35H67.2M64.95 96.62H65.46M64.61 96.49V96.9M64.61 96.49H64.95M64.61 96.9H67.2M64.87 97.08V97.26M64.87 97.08H67.2M64.87 97.26H67.2M64.62 97.17V97.44M64.62 97.17H64.87M64.62 97.44H67.2M63.62 96.69V97.31M63.62 96.69H64.61M63.62 97.31H64.62M63.19 97.63V97.81M63.19 97.63H67.2M63.19 97.81H67.2M62.87 97.72V97.99M62.87 97.72H63.19M62.87 97.99H67.2M62.45 97V97.86M62.45 97H63.62M62.45 97.86H62.87M60.97 95.49V97.43M60.97 95.49H62.1M60.97 97.43H62.45M60.36 93.49V96.46M60.36 93.49H61.27M60.36 96.46H60.97M64.13 98.36V98.54M64.13 98.36H67.2M64.13 98.54H67.2M63.13 98.17V98.45M63.13 98.17H67.2M63.13 98.45H64.13M64.43 98.72V98.9M64.43 98.72H67.2M64.43 98.9H67.2M65.1 99.09V99.27M65.1 99.09H67.2M65.1 99.27H67.2M64.36 99.18V99.45M64.36 99.18H65.1M64.36 99.45H67.2M63.94 98.81V99.31M63.94 98.81H64.43M63.94 99.31H64.36M63.08 99.63V99.82M63.08 99.63H67.2M63.08 99.82H67.2M62.69 99.06V99.73M62.69 99.06H63.94M62.69 99.73H63.08M61.79 98.31V99.39M61.79 98.31H63.13M61.79 99.39H62.69M64.16 100V100.18M64.16 100H67.2M64.16 100.18H67.2M63.02 100.09V100.36M63.02 100.09H64.16M63.02 100.36H67.2M62.21 100.23V100.55M62.21 100.23H63.02M62.21 100.55H67.2M60.81 98.85V100.39M60.81 98.85H61.79M60.81 100.39H62.21M63.79 100.91V101.09M63.79 100.91H67.2M63.79 101.09H67.2M63.45 100.73V101M63.45 100.73H67.2M63.45 101H63.79M63.2 101.28V101.46M63.2 101.28H67.2M63.2 101.46H67.2M62.32 100.87V101.37M62.32 100.87H63.45M62.32 101.37H63.2M63.78 101.64V101.82M63.78 101.64H67.2M63.78 101.82H67.2M64.9 102.19V102.37M64.9 102.19H67.2M64.9 102.37H67.2M64.06 102.28V102.55M64.06 102.28H64.9M64.06 102.55H67.2M63.8 102.01V102.42M63.8 102.01H67.2M63.8 102.42H64.06M62.89 101.73V102.21M62.89 101.73H63.78M62.89 102.21H63.8M62.73 102.74V102.92M62.73 102.74H67.2M62.73 102.92H67.2M62.25 101.97V102.83M62.25 101.97H62.89M62.25 102.83H62.73M61.31 101.12V102.4M61.31 101.12H62.32M61.31 102.4H62.25M60.03 99.62V101.76M60.03 99.62H60.81M60.03 101.76H61.31M59.1 94.97V100.69M59.1 94.97H60.36M59.1 100.69H60.03M56.77 89.61V97.83M56.77 89.61H59.32M56.77 97.83H59.1M53.06 84.26V93.72M53.06 84.26H55M53.06 93.72H56.77M59.62 103.1V103.28M59.62 103.1H67.2M59.62 103.28H67.2M61.75 103.47V103.65M61.75 103.47H67.2M61.75 103.65H67.2M61.91 103.83V104.01M61.91 103.83H67.2M61.91 104.01H67.2M60.53 103.56V103.92M60.53 103.56H61.75M60.53 103.92H61.91M61.08 104.2V104.38M61.08 104.2H67.2M61.08 104.38H67.2M59.34 103.74V104.29M59.34 103.74H60.53M59.34 104.29H61.08M58.76 103.19V104.01M58.76 103.19H59.62M58.76 104.01H59.34M60.54 104.75V104.93M60.54 104.75H67.2M60.54 104.93H67.2M60.08 104.56V104.84M60.08 104.56H67.2M60.08 104.84H60.54M58.55 104.7V105.11M58.55 104.7H60.08M58.55 105.11H67.2M55.84 103.6V104.9M55.84 103.6H58.76M55.84 104.9H58.55M60.46 105.29V105.48M60.46 105.29H67.2M60.46 105.48H67.2M64.22 106.02V106.21M64.22 106.02H67.2M64.22 106.21H67.2M63.29 106.12V106.39M63.29 106.12H64.22M63.29 106.39H67.2M62.16 105.84V106.25M62.16 105.84H67.2M62.16 106.25H63.29M60.48 105.66V106.05M60.48 105.66H67.2M60.48 106.05H62.16M57.88 105.38V105.85M57.88 105.38H60.46M57.88 105.85H60.48M62.45 106.57V106.75M62.45 106.57H67.2M62.45 106.75H67.2M64.7 106.94V107.12M64.7 106.94H67.2M64.7 107.12H67.2M63.91 107.03V107.3M63.91 107.03H64.7M63.91 107.3H67.2M63.67 107.49V107.67M63.67 107.49H67.2M63.67 107.67H67.2M62.74 107.17V107.58M62.74 107.17H63.91M62.74 107.58H63.67M62.16 106.66V107.37M62.16 106.66H62.45M62.16 107.37H62.74M63.24 108.03V108.22M63.24 108.03H67.2M63.24 108.22H67.2M62.62 108.12V108.4M62.62 108.12H63.24M62.62 108.4H67.2M61.5 107.85V108.26M61.5 107.85H67.2M61.5 108.26H62.62M61.1 107.02V108.06M61.1 107.02H62.16M61.1 108.06H61.5M63.32 108.76V108.95M63.32 108.76H67.2M63.32 108.95H67.2M62.94 108.86V109.13M62.94 108.86H63.32M62.94 109.13H67.2M61.85 108.99V109.31M61.85 108.99H62.94M61.85 109.31H67.2M61.13 108.58V109.15M61.13 108.58H67.2M61.13 109.15H61.85M61.58 109.49V109.68M61.58 109.49H67.2M61.58 109.68H67.2M60.06 108.87V109.59M60.06 108.87H61.13M60.06 109.59H61.58M58.95 107.54V109.23M58.95 107.54H61.1M58.95 109.23H60.06M56.46 105.62V108.38M56.46 105.62H57.88M56.46 108.38H58.95M54.19 104.25V107M54.19 104.25H55.84M54.19 107H56.46M58.66 109.86V110.04M58.66 109.86H67.2M58.66 110.04H67.2M57.8 109.95V110.23M57.8 109.95H58.66M57.8 110.23H67.2M62.07 110.41V110.59M62.07 110.41H67.2M62.07 110.59H67.2M61.71 110.5V110.77M61.71 110.5H62.07M61.71 110.77H67.2M62.55 110.96V111.14M62.55 110.96H67.2M62.55 111.14H67.2M61.13 110.64V111.05M61.13 110.64H61.71M61.13 111.05H62.55M61.58 111.32V111.5M61.58 111.32H67.2M61.58 111.5H67.2M59.61 110.84V111.41M59.61 110.84H61.13M59.61 111.41H61.58M60.6 111.69V111.87M60.6 111.69H67.2M60.6 111.87H67.2M59.84 111.78V112.05M59.84 111.78H60.6M59.84 112.05H67.2M58.82 111.13V111.92M58.82 111.13H59.61M58.82 111.92H59.84M60.8 112.24V112.42M60.8 112.24H67.2M60.8 112.42H67.2M60.6 112.6V112.78M60.6 112.6H67.2M60.6 112.78H67.2M59.49 112.33V112.69M59.49 112.33H60.8M59.49 112.69H60.6M57.35 111.52V112.51M57.35 111.52H58.82M57.35 112.51H59.49M55.15 110.09V112.02M55.15 110.09H57.8M55.15 112.02H57.35M60.14 113.15V113.33M60.14 113.15H67.2M60.14 113.33H67.2M58.44 112.97V113.24M58.44 112.97H67.2M58.44 113.24H60.14M60.9 113.7V113.88M60.9 113.7H67.2M60.9 113.88H67.2M59.32 113.51V113.79M59.32 113.51H67.2M59.32 113.79H60.9M56.76 113.1V113.65M56.76 113.1H58.44M56.76 113.65H59.32M53.9 111.05V113.38M53.9 111.05H55.15M53.9 113.38H56.76M52.02 105.63V112.21M52.02 105.63H54.19M52.02 112.21H53.9M63.43 114.43V114.61M63.43 114.43H67.2M63.43 114.61H67.2M62.06 114.52V114.79M62.06 114.52H63.43M62.06 114.79H67.2M60.98 114.66V114.98M60.98 114.66H62.06M60.98 114.98H67.2M59.86 114.24V114.82M59.86 114.24H67.2M59.86 114.82H60.98M57.57 114.06V114.53M57.57 114.06H67.2M57.57 114.53H59.86M60.29 115.34V115.52M60.29 115.34H67.2M60.29 115.52H67.2M59.24 115.16V115.43M59.24 115.16H67.2M59.24 115.43H60.29M56.97 114.3V115.3M56.97 114.3H57.57M56.97 115.3H59.24M62.37 115.89V116.07M62.37 115.89H67.2M62.37 116.07H67.2M61.91 115.98V116.25M61.91 115.98H62.37M61.91 116.25H67.2M61.49 115.71V116.12M61.49 115.71H67.2M61.49 116.12H61.91M59.8 115.91V116.44M59.8 115.91H61.49M59.8 116.44H67.2M61.55 116.8V116.99M61.55 116.8H67.2M61.55 116.99H67.2M60.88 116.62V116.89M60.88 116.62H67.2M60.88 116.89H61.55M61.29 117.17V117.35M61.29 117.17H67.2M61.29 117.35H67.2M60.45 116.76V117.26M60.45 116.76H60.88M60.45 117.26H61.29M57.98 117.01V117.53M57.98 117.01H60.45M57.98 117.53H67.2M57.42 116.17V117.27M57.42 116.17H59.8M57.42 117.27H57.98M56.29 114.8V116.72M56.29 114.8H56.97M56.29 116.72H57.42M63.39 118.26V118.45M63.39 118.26H67.2M63.39 118.45H67.2M62.07 118.08V118.36M62.07 118.08H67.2M62.07 118.36H63.39M61.62 118.22V118.63M61.62 118.22H62.07M61.62 118.63H67.2M59.96 117.9V118.42M59.96 117.9H67.2M59.96 118.42H61.62M57.73 117.72V118.16M57.73 117.72H67.2M57.73 118.16H59.96M59.6 118.81V118.99M59.6 118.81H67.2M59.6 118.99H67.2M62.21 119.18V119.36M62.21 119.18H67.2M62.21 119.36H67.2M60.58 119.27V119.54M60.58 119.27H62.21M60.58 119.54H67.2M58.41 118.9V119.41M58.41 118.9H59.6M58.41 119.41H60.58M58.05 119.73V119.91M58.05 119.73H67.2M58.05 119.91H67.2M62 120.27V120.46M62 120.27H67.2M62 120.46H67.2M61.24 120.09V120.36M61.24 120.09H67.2M61.24 120.36H62M59.22 120.23V120.64M59.22 120.23H61.24M59.22 120.64H67.2M57.18 119.82V120.43M57.18 119.82H58.05M57.18 120.43H59.22M56.18 119.15V120.13M56.18 119.15H58.41M56.18 120.13H57.18M54.62 117.94V119.64M54.62 117.94H57.73M54.62 119.64H56.18M53.21 115.76V118.79M53.21 115.76H56.29M53.21 118.79H54.62M57.99 120.82V121M57.99 120.82H67.2M57.99 121H67.2M57.5 120.91V121.19M57.5 120.91H57.99M57.5 121.19H67.2M62.84 121.55V121.73M62.84 121.55H67.2M62.84 121.73H67.2M63.02 121.92V122.1M63.02 121.92H67.2M63.02 122.1H67.2M61.4 121.64V122.01M61.4 121.64H62.84M61.4 122.01H63.02M59.19 121.83V122.28M59.19 121.83H61.4M59.19 122.28H67.2M57.03 121.37V122.05M57.03 121.37H67.2M57.03 122.05H59.19M54.54 121.05V121.71M54.54 121.05H57.5M54.54 121.71H57.03M51.98 117.27V121.38M51.98 117.27H53.21M51.98 121.38H54.54M49.59 108.92V119.33M49.59 108.92H52.02M49.59 119.33H51.98M60.45 122.65V122.83M60.45 122.65H67.2M60.45 122.83H67.2M59.36 122.47V122.74M59.36 122.47H67.2M59.36 122.74H60.45M63.1 123.2V123.38M63.1 123.2H67.2M63.1 123.38H67.2M61.61 123.02V123.29M61.61 123.02H67.2M61.61 123.29H63.1M62.94 123.75V123.93M62.94 123.75H67.2M62.94 123.93H67.2M62.53 123.57V123.84M62.53 123.57H67.2M62.53 123.84H62.94M61.57 123.71V124.12M61.57 123.71H62.53M61.57 124.12H67.2M62.31 124.3V124.49M62.31 124.3H67.2M62.31 124.49H67.2M60.44 123.91V124.39M60.44 123.91H61.57M60.44 124.39H62.31M59.59 123.15V124.15M59.59 123.15H61.61M59.59 124.15H60.44M58.08 122.6V123.65M58.08 122.6H59.36M58.08 123.65H59.59M60.5 124.67V124.85M60.5 124.67H67.2M60.5 124.85H67.2M59.82 124.76V125.04M59.82 124.76H60.5M59.82 125.04H67.2M63.17 125.22V125.4M63.17 125.22H67.2M63.17 125.4H67.2M62.37 125.31V125.59M62.37 125.31H63.17M62.37 125.59H67.2M60.62 125.45V125.77M60.62 125.45H62.37M60.62 125.77H67.2M58.4 124.9V125.61M58.4 124.9H59.82M58.4 125.61H60.62M55.28 123.13V125.25M55.28 123.13H58.08M55.28 125.25H58.4M60.95 125.95V126.14M60.95 125.95H67.2M60.95 126.14H67.2M62.6 126.69V126.87M62.6 126.69H67.2M62.6 126.87H67.2M61.68 126.5V126.78M61.68 126.5H67.2M61.68 126.78H62.6M60.96 126.32V126.64M60.96 126.32H67.2M60.96 126.64H61.68M62.28 127.06V127.24M62.28 127.06H67.2M62.28 127.24H67.2M61.6 127.42V127.61M61.6 127.42H67.2M61.6 127.61H67.2M60.66 127.15V127.51M60.66 127.15H62.28M60.66 127.51H61.6M59.78 126.48V127.33M59.78 126.48H60.96M59.78 127.33H60.66M58.77 126.05V126.91M58.77 126.05H60.95M58.77 126.91H59.78M63.23 127.79V127.97M63.23 127.79H67.2M63.23 127.97H67.2M62.86 127.88V128.16M62.86 127.88H63.23M62.86 128.16H67.2M62.4 128.02V128.34M62.4 128.02H62.86M62.4 128.34H67.2M63.17 128.52V128.71M63.17 128.52H67.2M63.17 128.71H67.2M63.63 128.89V129.07M63.63 128.89H67.2M63.63 129.07H67.2M64.52 129.26V129.44M64.52 129.26H67.2M64.52 129.44H67.2M64.1 129.35V129.62M64.1 129.35H64.52M64.1 129.62H67.2M62.93 128.98V129.49M62.93 128.98H63.63M62.93 129.49H64.1M62.26 128.62V129.23M62.26 128.62H63.17M62.26 129.23H62.93M61.18 128.18V128.93M61.18 128.18H62.4M61.18 128.93H62.26M63.03 129.81V129.99M63.03 129.81H67.2M63.03 129.99H67.2M62.52 130.18V130.36M62.52 130.18H67.2M62.52 130.36H67.2M61.86 129.9V130.27M61.86 129.9H63.03M61.86 130.27H62.52M60.5 128.55V130.08M60.5 128.55H61.18M60.5 130.08H61.86M62.67 130.73V130.91M62.67 130.73H67.2M62.67 130.91H67.2M61.14 130.54V130.82M61.14 130.54H67.2M61.14 130.82H62.67M62.92 131.28V131.46M62.92 131.28H67.2M62.92 131.46H67.2M62.12 131.09V131.37M62.12 131.09H67.2M62.12 131.37H62.92M60.74 130.68V131.23M60.74 130.68H61.14M60.74 131.23H62.12M59.24 129.32V130.96M59.24 129.32H60.5M59.24 130.96H60.74M61.67 131.83V132.01M61.67 131.83H67.2M61.67 132.01H67.2M60.66 131.64V131.92M60.66 131.64H67.2M60.66 131.92H61.67M62.36 132.19V132.38M62.36 132.19H67.2M62.36 132.38H67.2M61.62 132.56V132.75M61.62 132.56H67.2M61.62 132.75H67.2M60.88 132.29V132.65M60.88 132.29H62.36M60.88 132.65H61.62M59.16 131.78V132.47M59.16 131.78H60.66M59.16 132.47H60.88M57.36 130.14V132.13M57.36 130.14H59.24M57.36 132.13H59.16M56.36 126.48V131.13M56.36 126.48H58.77M56.36 131.13H57.36M60.72 132.93V133.11M60.72 132.93H67.2M60.72 133.11H67.2M60.02 133.3V133.48M60.02 133.3H67.2M60.02 133.48H67.2M58.23 133.02V133.39M58.23 133.02H60.72M58.23 133.39H60.02M60.82 133.85V134.03M60.82 133.85H67.2M60.82 134.03H67.2M59.44 133.66V133.94M59.44 133.66H67.2M59.44 133.94H60.82M62.86 134.21V134.4M62.86 134.21H67.2M62.86 134.4H67.2M62.32 134.31V134.58M62.32 134.31H62.86M62.32 134.58H67.2M60.66 134.44V134.76M60.66 134.44H62.32M60.66 134.76H67.2M58.55 133.8V134.6M58.55 133.8H59.44M58.55 134.6H60.66M56.5 133.2V134.2M56.5 133.2H58.23M56.5 134.2H58.55M53.15 128.8V133.7M53.15 128.8H56.36M53.15 133.7H56.5M51.54 124.19V131.25M51.54 124.19H55.28M51.54 131.25H53.15M59.86 134.95V135.13M59.86 134.95H67.2M59.86 135.13H67.2M60.56 135.31V135.5M60.56 135.31H67.2M60.56 135.5H67.2M59.41 135.04V135.41M59.41 135.04H59.86M59.41 135.41H60.56M62.09 135.86V136.05M62.09 135.86H67.2M62.09 136.05H67.2M61.62 135.68V135.96M61.62 135.68H67.2M61.62 135.96H62.09M63.19 136.23V136.41M63.19 136.23H67.2M63.19 136.41H67.2M63.06 136.78V136.96M63.06 136.78H67.2M63.06 136.96H67.2M62.66 136.6V136.87M62.66 136.6H67.2M62.66 136.87H63.06M61.87 136.32V136.73M61.87 136.32H63.19M61.87 136.73H62.66M60.61 135.82V136.53M60.61 135.82H61.62M60.61 136.53H61.87M64.22 137.15V137.33M64.22 137.15H67.2M64.22 137.33H67.2M63.67 137.24V137.51M63.67 137.24H64.22M63.67 137.51H67.2M63.83 137.88V138.06M63.83 137.88H67.2M63.83 138.06H67.2M63.26 137.7V137.97M63.26 137.7H67.2M63.26 137.97H63.83M62.97 137.38V137.83M62.97 137.38H63.67M62.97 137.83H63.26M62.92 138.25V138.43M62.92 138.25H67.2M62.92 138.43H67.2M61.35 137.6V138.34M61.35 137.6H62.97M61.35 138.34H62.92M59.77 136.17V137.97M59.77 136.17H60.61M59.77 137.97H61.35M58.5 135.22V137.07M58.5 135.22H59.41M58.5 137.07H59.77M58.66 138.61V138.8M58.66 138.61H67.2M58.66 138.8H67.2M58.13 138.7V138.98M58.13 138.7H58.66M58.13 138.98H67.2M59.54 139.16V139.35M59.54 139.16H67.2M59.54 139.35H67.2M58.94 139.53V139.71M58.94 139.53H67.2M58.94 139.71H67.2M58.1 139.25V139.62M58.1 139.25H59.54M58.1 139.62H58.94M56.52 138.84V139.44M56.52 138.84H58.13M56.52 139.44H58.1M55.59 136.15V139.14M55.59 136.15H58.5M55.59 139.14H56.52M62.44 139.89V140.08M62.44 139.89H67.2M62.44 140.08H67.2M61.65 139.99V140.26M61.65 139.99H62.44M61.65 140.26H67.2M61.66 140.44V140.63M61.66 140.44H67.2M61.66 140.63H67.2M59.93 140.12V140.54M59.93 140.12H61.65M59.93 140.54H61.66M63.22 140.81V140.99M63.22 140.81H67.2M63.22 140.99H67.2M63.76 141.18V141.36M63.76 141.18H67.2M63.76 141.36H67.2M63.16 141.27V141.54M63.16 141.27H63.76M63.16 141.54H67.2M62.43 140.9V141.41M62.43 140.9H63.22M62.43 141.41H63.16M62.32 141.73V141.91M62.32 141.73H67.2M62.32 141.91H67.2M61.62 141.15V141.82M61.62 141.15H62.43M61.62 141.82H62.32M63.12 142.09V142.28M63.12 142.09H67.2M63.12 142.28H67.2M61.64 142.18V142.46M61.64 142.18H63.12M61.64 142.46H67.2M61.93 142.64V142.83M61.93 142.64H67.2M61.93 142.83H67.2M61.08 142.32V142.73M61.08 142.32H61.64M61.08 142.73H61.93M59.46 141.49V142.53M59.46 141.49H61.62M59.46 142.53H61.08M57.96 140.33V142.01M57.96 140.33H59.93M57.96 142.01H59.46M61.56 143.38V143.56M61.56 143.38H67.2M61.56 143.56H67.2M60.23 143.19V143.47M60.23 143.19H67.2M60.23 143.47H61.56M59.03 143.01V143.33M59.03 143.01H67.2M59.03 143.33H60.23M57.2 141.17V143.17M57.2 141.17H57.96M57.2 143.17H59.03M61 143.74V143.93M61 143.74H67.2M61 143.93H67.2M61.98 144.11V144.29M61.98 144.11H67.2M61.98 144.29H67.2M60.94 144.2V144.48M60.94 144.2H61.98M60.94 144.48H67.2M59.27 144.34V144.66M59.27 144.34H60.94M59.27 144.66H67.2M58.71 143.83V144.5M58.71 143.83H61M58.71 144.5H59.27M58.28 144.84V145.02M58.28 144.84H67.2M58.28 145.02H67.2M56.86 144.17V144.93M56.86 144.17H58.71M56.86 144.93H58.28M55.82 142.17V144.55M55.82 142.17H57.2M55.82 144.55H56.86M54.31 137.64V143.36M54.31 137.64H55.59M54.31 143.36H55.82M62.74 145.57V145.76M62.74 145.57H67.2M62.74 145.76H67.2M61.24 145.39V145.67M61.24 145.39H67.2M61.24 145.67H62.74M59.83 145.21V145.53M59.83 145.21H67.2M59.83 145.53H61.24M57.83 145.37V145.94M57.83 145.37H59.83M57.83 145.94H67.2M61.61 146.31V146.49M61.61 146.31H67.2M61.61 146.49H67.2M60.2 146.12V146.4M60.2 146.12H67.2M60.2 146.4H61.61M61.5 146.86V147.04M61.5 146.86H67.2M61.5 147.04H67.2M60.91 146.67V146.95M60.91 146.67H67.2M60.91 146.95H61.5M62.34 147.22V147.41M62.34 147.22H67.2M62.34 147.41H67.2M63.23 147.59V147.77M63.23 147.59H67.2M63.23 147.77H67.2M62.03 147.31V147.68M62.03 147.31H62.34M62.03 147.68H63.23M60.3 146.81V147.5M60.3 146.81H60.91M60.3 147.5H62.03M58.29 146.26V147.15M58.29 146.26H60.2M58.29 147.15H60.3M55.52 145.65V146.71M55.52 145.65H57.83M55.52 146.71H58.29M61.79 148.14V148.32M61.79 148.14H67.2M61.79 148.32H67.2M59.97 147.96V148.23M59.97 147.96H67.2M59.97 148.23H61.79M60.73 148.51V148.69M60.73 148.51H67.2M60.73 148.69H67.2M59.2 148.6V148.87M59.2 148.6H60.73M59.2 148.87H67.2M57.89 148.09V148.73M57.89 148.09H59.97M57.89 148.73H59.2M62.33 149.24V149.42M62.33 149.24H67.2M62.33 149.42H67.2M60.67 149.06V149.33M60.67 149.06H67.2M60.67 149.33H62.33M62.08 149.79V149.97M62.08 149.79H67.2M62.08 149.97H67.2M61.42 149.61V149.88M61.42 149.61H67.2M61.42 149.88H62.08M63.02 150.34V150.52M63.02 150.34H67.2M63.02 150.52H67.2M61.45 150.15V150.43M61.45 150.15H67.2M61.45 150.43H63.02M60.97 150.29V150.7M60.97 150.29H61.45M60.97 150.7H67.2M59.34 149.74V150.5M59.34 149.74H61.42M59.34 150.5H60.97M58.61 149.19V150.12M58.61 149.19H60.67M58.61 150.12H59.34M57.16 148.41V149.66M57.16 148.41H57.89M57.16 149.66H58.61M54.26 146.18V149.04M54.26 146.18H55.52M54.26 149.04H57.16M52.74 140.5V147.61M52.74 140.5H54.31M52.74 147.61H54.26M59.99 150.89V151.07M59.99 150.89H67.2M59.99 151.07H67.2M59.09 150.98V151.25M59.09 150.98H59.99M59.09 151.25H67.2M60.78 151.62V151.8M60.78 151.62H67.2M60.78 151.8H67.2M59.25 151.44V151.71M59.25 151.44H67.2M59.25 151.71H60.78M56.55 151.12V151.57M56.55 151.12H59.09M56.55 151.57H59.25M60.57 151.99V152.17M60.57 151.99H67.2M60.57 152.17H67.2M58.69 152.08V152.35M58.69 152.08H60.57M58.69 152.35H67.2M63.69 152.9V153.09M63.69 152.9H67.2M63.69 153.09H67.2M62.63 152.99V153.27M62.63 152.99H63.69M62.63 153.27H67.2M61.07 152.72V153.13M61.07 152.72H67.2M61.07 153.13H62.63M60.07 152.54V152.93M60.07 152.54H67.2M60.07 152.93H61.07M60.96 153.45V153.64M60.96 153.45H67.2M60.96 153.64H67.2M59.27 152.73V153.54M59.27 152.73H60.07M59.27 153.54H60.96M57.88 152.22V153.14M57.88 152.22H58.69M57.88 153.14H59.27M55.56 151.35V152.68M55.56 151.35H56.55M55.56 152.68H57.88M59.79 153.82V154M59.79 153.82H67.2M59.79 154H67.2M59.06 153.91V154.19M59.06 153.91H59.79M59.06 154.19H67.2M60.78 154.37V154.55M60.78 154.37H67.2M60.78 154.55H67.2M60.05 154.74V154.92M60.05 154.74H67.2M60.05 154.92H67.2M59.54 154.46V154.83M59.54 154.46H60.78M59.54 154.83H60.05M58.49 154.05V154.64M58.49 154.05H59.06M58.49 154.64H59.54M60.61 155.1V155.28M60.61 155.1H67.2M60.61 155.28H67.2M61 155.47V155.65M61 155.47H67.2M61 155.65H67.2M59.11 155.19V155.56M59.11 155.19H60.61M59.11 155.56H61M60.93 155.83V156.02M60.93 155.83H67.2M60.93 156.02H67.2M59.57 155.93V156.2M59.57 155.93H60.93M59.57 156.2H67.2M56.8 155.38V156.06M56.8 155.38H59.11M56.8 156.06H59.57M59.08 156.38V156.57M59.08 156.38H67.2M59.08 156.57H67.2M61.25 157.12V157.3M61.25 157.12H67.2M61.25 157.3H67.2M60.67 156.93V157.21M60.67 156.93H67.2M60.67 157.21H61.25M59.58 156.75V157.07M59.58 156.75H67.2M59.58 157.07H60.67M57.64 156.48V156.91M57.64 156.48H59.08M57.64 156.91H59.58M56.17 155.72V156.69M56.17 155.72H56.8M56.17 156.69H57.64M55.44 154.35V156.21M55.44 154.35H58.49M55.44 156.21H56.17M53.85 152.01V155.28M53.85 152.01H55.56M53.85 155.28H55.44M51.29 144.05V153.64M51.29 144.05H52.74M51.29 153.64H53.85M62.53 157.67V157.85M62.53 157.67H67.2M62.53 157.85H67.2M61.97 157.76V158.03M61.97 157.76H62.53M61.97 158.03H67.2M59.96 157.48V157.89M59.96 157.48H67.2M59.96 157.89H61.97M61.35 158.21V158.39M61.35 158.21H67.2M61.35 158.39H67.2M62.85 158.58V158.76M62.85 158.58H67.2M62.85 158.76H67.2M62.2 158.67V158.94M62.2 158.67H62.85M62.2 158.94H67.2M61.44 158.8V159.12M61.44 158.8H62.2M61.44 159.12H67.2M60.17 158.3V158.96M60.17 158.3H61.35M60.17 158.96H61.44M58.45 157.69V158.63M58.45 157.69H59.96M58.45 158.63H60.17M62.17 159.49V159.67M62.17 159.49H67.2M62.17 159.67H67.2M60.58 159.58V159.85M60.58 159.58H62.17M60.58 159.85H67.2M59.96 159.3V159.71M59.96 159.3H67.2M59.96 159.71H60.58M60.95 160.03V160.22M60.95 160.03H67.2M60.95 160.22H67.2M59.27 159.51V160.12M59.27 159.51H59.96M59.27 160.12H60.95M56.57 158.16V159.82M56.57 158.16H58.45M56.57 159.82H59.27M62.64 160.4V160.58M62.64 160.4H67.2M62.64 160.58H67.2M64.07 160.76V160.94M64.07 160.76H67.2M64.07 160.94H67.2M63.07 160.85V161.13M63.07 160.85H64.07M63.07 161.13H67.2M61.74 160.49V160.99M61.74 160.49H62.64M61.74 160.99H63.07M62.31 161.49V161.67M62.31 161.49H67.2M62.31 161.67H67.2M61.68 161.31V161.58M61.68 161.31H67.2M61.68 161.58H62.31M61.32 160.74V161.45M61.32 160.74H61.74M61.32 161.45H61.68M63.5 162.04V162.22M63.5 162.04H67.2M63.5 162.22H67.2M62.96 161.86V162.13M62.96 161.86H67.2M62.96 162.13H63.5M63.07 162.4V162.58M63.07 162.4H67.2M63.07 162.58H67.2M62.14 161.99V162.49M62.14 161.99H62.96M62.14 162.49H63.07M62.34 162.77V162.95M62.34 162.77H67.2M62.34 162.95H67.2M61.02 162.24V162.86M61.02 162.24H62.14M61.02 162.86H62.34M60.39 161.09V162.55M60.39 161.09H61.32M60.39 162.55H61.02M61.91 163.13V163.31M61.91 163.13H67.2M61.91 163.31H67.2M62.72 163.68V163.86M62.72 163.68H67.2M62.72 163.86H67.2M61.99 163.49V163.77M61.99 163.49H67.2M61.99 163.77H62.72M61.16 163.63V164.04M61.16 163.63H61.99M61.16 164.04H67.2M60.79 163.22V163.84M60.79 163.22H61.91M60.79 163.84H61.16M58.42 161.82V163.53M58.42 161.82H60.39M58.42 163.53H60.79M61.33 164.22V164.41M61.33 164.22H67.2M61.33 164.41H67.2M62.7 164.59V164.77M62.7 164.59H67.2M62.7 164.77H67.2M62.56 164.95V165.13M62.56 164.95H67.2M62.56 165.13H67.2M61.69 164.68V165.04M61.69 164.68H62.7M61.69 165.04H62.56M60.5 164.31V164.86M60.5 164.31H61.33M60.5 164.86H61.69M62.36 165.32V165.5M62.36 165.32H67.2M62.36 165.5H67.2M64.61 165.68V165.86M64.61 165.68H67.2M64.61 165.86H67.2M63.72 165.77V166.04M63.72 165.77H64.61M63.72 166.04H67.2M64.29 166.41V166.59M64.29 166.41H67.2M64.29 166.59H67.2M64.03 166.23V166.5M64.03 166.23H67.2M64.03 166.5H64.29M63.1 165.91V166.36M63.1 165.91H63.72M63.1 166.36H64.03M61.93 165.41V166.14M61.93 165.41H62.36M61.93 166.14H63.1M59.95 164.59V165.77M59.95 164.59H60.5M59.95 165.77H61.93M62.9 167.14V167.32M62.9 167.14H67.2M62.9 167.32H67.2M62.14 166.96V167.23M62.14 166.96H67.2M62.14 167.23H62.9M60.96 166.77V167.09M60.96 166.77H67.2M60.96 167.09H62.14M63.73 167.68V167.87M63.73 167.68H67.2M63.73 167.87H67.2M62.68 167.5V167.78M62.68 167.5H67.2M62.68 167.78H63.73M64.18 168.23V168.41M64.18 168.23H67.2M64.18 168.41H67.2M63.42 168.05V168.32M63.42 168.05H67.2M63.42 168.32H64.18M63.88 168.78V168.96M63.88 168.78H67.2M63.88 168.96H67.2M63.47 168.6V168.87M63.47 168.6H67.2M63.47 168.87H63.88M63.14 168.19V168.73M63.14 168.19H63.42M63.14 168.73H63.47M62.87 169.14V169.32M62.87 169.14H67.2M62.87 169.32H67.2M62.5 168.46V169.23M62.5 168.46H63.14M62.5 169.23H62.87M61.37 167.64V168.85M61.37 167.64H62.68M61.37 168.85H62.5M60.61 166.93V168.24M60.61 166.93H60.96M60.61 168.24H61.37M58.85 165.18V167.59M58.85 165.18H59.95M58.85 167.59H60.61M56.83 162.67V166.38M56.83 162.67H58.42M56.83 166.38H58.85M53.65 158.99V164.53M53.65 158.99H56.57M53.65 164.53H56.83M59.49 169.51V169.69M59.49 169.51H67.2M59.49 169.69H67.2M61.22 169.87V170.06M61.22 169.87H67.2M61.22 170.06H67.2M60.83 169.96V170.24M60.83 169.96H61.22M60.83 170.24H67.2M59.65 170.1V170.42M59.65 170.1H60.83M59.65 170.42H67.2M60.16 170.61V170.79M60.16 170.61H67.2M60.16 170.79H67.2M57.85 170.26V170.7M57.85 170.26H59.65M57.85 170.7H60.16M56.86 169.6V170.48M56.86 169.6H59.49M56.86 170.48H57.85M59.28 171.16V171.34M59.28 171.16H67.2M59.28 171.34H67.2M58.16 170.97V171.25M58.16 170.97H67.2M58.16 171.25H59.28M55.08 170.04V171.11M55.08 170.04H56.86M55.08 171.11H58.16M61.41 171.71V171.89M61.41 171.71H67.2M61.41 171.89H67.2M59.99 171.52V171.8M59.99 171.52H67.2M59.99 171.8H61.41M62.39 172.07V172.25M62.39 172.07H67.2M62.39 172.25H67.2M63.04 172.44V172.62M63.04 172.44H67.2M63.04 172.62H67.2M61.51 172.53V172.8M61.51 172.53H63.04M61.51 172.8H67.2M60.53 172.16V172.67M60.53 172.16H62.39M60.53 172.67H61.51M59.41 171.66V172.42M59.41 171.66H59.99M59.41 172.42H60.53M61.03 172.99V173.17M61.03 172.99H67.2M61.03 173.17H67.2M60.64 173.08V173.35M60.64 173.08H61.03M60.64 173.35H67.2M60.77 173.54V173.72M60.77 173.54H67.2M60.77 173.72H67.2M60.04 173.63V173.9M60.04 173.63H60.77M60.04 173.9H67.2M58.79 173.22V173.77M58.79 173.22H60.64M58.79 173.77H60.04M56.63 172.04V173.49M56.63 172.04H59.41M56.63 173.49H58.79M58.47 174.09V174.27M58.47 174.09H67.2M58.47 174.27H67.2M57.3 174.45V174.64M57.3 174.45H67.2M57.3 174.64H67.2M56.14 174.18V174.54M56.14 174.18H58.47M56.14 174.54H57.3M55.96 174.82V175M55.96 174.82H67.2M55.96 175H67.2M55.19 174.36V174.91M55.19 174.36H56.14M55.19 174.91H55.96M54.16 172.76V174.64M54.16 172.76H56.63M54.16 174.64H55.19M51.35 170.57V173.7M51.35 170.57H55.08M51.35 173.7H54.16M63.03 175.37V175.55M63.03 175.37H67.2M63.03 175.55H67.2M61.52 175.19V175.46M61.52 175.19H67.2M61.52 175.46H63.03M61.71 175.74V175.92M61.71 175.74H67.2M61.71 175.92H67.2M61.33 175.83V176.1M61.33 175.83H61.71M61.33 176.1H67.2M60.3 175.32V175.96M60.3 175.32H61.52M60.3 175.96H61.33M60.45 176.29V176.47M60.45 176.29H67.2M60.45 176.47H67.2M62.38 176.65V176.83M62.38 176.65H67.2M62.38 176.83H67.2M61.05 176.74V177.02M61.05 176.74H62.38M61.05 177.02H67.2M59.69 176.38V176.88M59.69 176.38H60.45M59.69 176.88H61.05M61.69 177.2V177.38M61.69 177.2H67.2M61.69 177.38H67.2M63.27 177.75V177.93M63.27 177.75H67.2M63.27 177.93H67.2M62.54 177.57V177.84M62.54 177.57H67.2M62.54 177.84H63.27M62.14 177.7V178.12M62.14 177.7H62.54M62.14 178.12H67.2M61.3 177.91V178.3M61.3 177.91H62.14M61.3 178.3H67.2M60.78 177.29V178.11M60.78 177.29H61.69M60.78 178.11H61.3M61.82 178.48V178.67M61.82 178.48H67.2M61.82 178.67H67.2M62.28 179.03V179.22M62.28 179.03H67.2M62.28 179.22H67.2M61.16 178.85V179.12M61.16 178.85H67.2M61.16 179.12H62.28M60.43 178.58V178.99M60.43 178.58H61.82M60.43 178.99H61.16M58.86 177.7V178.78M58.86 177.7H60.78M58.86 178.78H60.43M58.4 176.63V178.24M58.4 176.63H59.69M58.4 178.24H58.86M57.64 175.64V177.43M57.64 175.64H60.3M57.64 177.43H58.4M63.32 179.58V179.77M63.32 179.58H67.2M63.32 179.77H67.2M62.05 179.4V179.67M62.05 179.4H67.2M62.05 179.67H63.32M62.58 179.95V180.13M62.58 179.95H67.2M62.58 180.13H67.2M61.39 179.54V180.04M61.39 179.54H62.05M61.39 180.04H62.58M64.15 180.5V180.68M64.15 180.5H67.2M64.15 180.68H67.2M63.29 180.32V180.59M63.29 180.32H67.2M63.29 180.59H64.15M63.34 180.87V181.05M63.34 180.87H67.2M63.34 181.05H67.2M62.71 180.45V180.96M62.71 180.45H63.29M62.71 180.96H63.34M61.07 179.79V180.7M61.07 179.79H61.39M61.07 180.7H62.71M63.15 181.23V181.41M63.15 181.23H67.2M63.15 181.41H67.2M63.02 181.6V181.78M63.02 181.6H67.2M63.02 181.78H67.2M62.55 181.32V181.69M62.55 181.32H63.15M62.55 181.69H63.02M61 181.51V181.96M61 181.51H62.55M61 181.96H67.2M62.32 182.15V182.33M62.32 182.15H67.2M62.32 182.33H67.2M63.01 182.51V182.7M63.01 182.51H67.2M63.01 182.7H67.2M62.98 182.88V183.06M62.98 182.88H67.2M62.98 183.06H67.2M61.65 182.61V182.97M61.65 182.61H63.01M61.65 182.97H62.98M60.55 182.24V182.79M60.55 182.24H62.32M60.55 182.79H61.65M59.29 181.74V182.51M59.29 181.74H61M59.29 182.51H60.55M58.72 180.25V182.12M58.72 180.25H61.07M58.72 182.12H59.29M63.23 183.25V183.43M63.23 183.25H67.2M63.23 183.43H67.2M61.81 183.34V183.61M61.81 183.34H63.23M61.81 183.61H67.2M63.67 183.8V183.98M63.67 183.8H67.2M63.67 183.98H67.2M63.17 184.16V184.35M63.17 184.16H67.2M63.17 184.35H67.2M62.87 183.89V184.25M62.87 183.89H63.67M62.87 184.25H63.17M61.39 183.48V184.07M61.39 183.48H61.81M61.39 184.07H62.87M63.99 184.53V184.71M63.99 184.53H67.2M63.99 184.71H67.2M63.13 184.62V184.9M63.13 184.62H63.99M63.13 184.9H67.2M63.52 185.26V185.45M63.52 185.26H67.2M63.52 185.45H67.2M63.23 185.08V185.35M63.23 185.08H67.2M63.23 185.35H63.52M63.77 185.63V185.81M63.77 185.63H67.2M63.77 185.81H67.2M62.83 185.22V185.72M62.83 185.22H63.23M62.83 185.72H63.77M63.49 185.99V186.18M63.49 185.99H67.2M63.49 186.18H67.2M62.45 185.47V186.09M62.45 185.47H62.83M62.45 186.09H63.49M61.89 184.76V185.78M61.89 184.76H63.13M61.89 185.78H62.45M60.77 183.77V185.27M60.77 183.77H61.39M60.77 185.27H61.89M61.38 186.36V186.54M61.38 186.36H67.2M61.38 186.54H67.2M61.07 186.45V186.73M61.07 186.45H61.38M61.07 186.73H67.2M62.11 186.91V187.09M62.11 186.91H67.2M62.11 187.09H67.2M60.53 186.59V187M60.53 186.59H61.07M60.53 187H62.11M59.5 184.52V186.8M59.5 184.52H60.77M59.5 186.8H60.53M57.31 181.19V185.66M57.31 181.19H58.72M57.31 185.66H59.5M54.84 176.54V183.42M54.84 176.54H57.64M54.84 183.42H57.31M64.32 187.28V187.46M64.32 187.28H67.2M64.32 187.46H67.2M63.48 187.37V187.64M63.48 187.37H64.32M63.48 187.64H67.2M62.96 187.51V187.83M62.96 187.51H63.48M62.96 187.83H67.2M61.38 187.67V188.01M61.38 187.67H62.96M61.38 188.01H67.2M61.13 188.19V188.38M61.13 188.19H67.2M61.13 188.38H67.2M60.62 187.84V188.28M60.62 187.84H61.38M60.62 188.28H61.13M61.87 188.56V188.74M61.87 188.56H67.2M61.87 188.74H67.2M61.4 188.93V189.11M61.4 188.93H67.2M61.4 189.11H67.2M60.11 188.65V189.02M60.11 188.65H61.87M60.11 189.02H61.4M58.32 188.06V188.83M58.32 188.06H60.62M58.32 188.83H60.11M59.63 189.29V189.48M59.63 189.29H67.2M59.63 189.48H67.2M61.67 189.84V190.03M61.67 189.84H67.2M61.67 190.03H67.2M59.69 189.66V189.93M59.69 189.66H67.2M59.69 189.93H61.67M58.74 189.8V190.21M58.74 189.8H59.69M58.74 190.21H67.2M58.12 189.38V190M58.12 189.38H59.63M58.12 190H58.74M55.24 188.45V189.69M55.24 188.45H58.32M55.24 189.69H58.12M52.33 179.98V189.07M52.33 179.98H54.84M52.33 189.07H55.24M50.21 172.14V184.53M50.21 172.14H51.35M50.21 184.53H52.33M46.6 15.04V178.33M46.6 15.04H54.44M46.6 32.6H50.04M46.6 57.38H53.02M46.6 73.79H51.67M46.6 88.99H53.06M46.6 114.12H49.59M46.6 127.72H51.54M46.6 148.85H51.29M46.6 161.76H53.65M46.6 178.33H50.21" stroke="#111" stroke-width="0.38" fill="none"/>
<rect x="63.6" y="8" width="3.6" height="182.8" fill="#000"/>
<text x="6" y="101.9" font-size="7.2" text-anchor="start" font-weight="normal" fill="#333" stroke="#333" stroke-width="0.25" >mRNA</text>
<text x="6" y="111.1" font-size="7.2" text-anchor="start" font-weight="normal" fill="#333" stroke="#333" stroke-width="0.25" word-spacing="1.6">N = 13193</text>
<text x="81.2" y="200.6" font-size="7.5" text-anchor="middle" font-weight="normal" fill="#222" stroke="#222" stroke-width="0.25" >HSC</text>
<text x="112" y="200.6" font-size="7.5" text-anchor="middle" font-weight="normal" fill="#222" stroke="#222" stroke-width="0.25" >MPP</text>
<text x="143.5" y="200.6" font-size="7.5" text-anchor="middle" font-weight="normal" fill="#222" stroke="#222" stroke-width="0.25" >CMP</text>
<text x="178.4" y="200.6" font-size="7.5" text-anchor="middle" font-weight="normal" fill="#222" stroke="#222" stroke-width="0.25" >MEP</text>
<text x="209.5" y="200.6" font-size="7.5" text-anchor="middle" font-weight="normal" fill="#222" stroke="#222" stroke-width="0.25" >EB</text>
<rect x="228.8" y="8.1" width="4.2" height="58.7" fill="url(#cbar)"/>
<text x="233.9" y="11.58" font-size="6.6" text-anchor="start" font-weight="normal" fill="#2a2a2a" stroke="#2a2a2a" stroke-width="0.25" letter-spacing="0.15">1.5</text>
<text x="233.9" y="20.94" font-size="6.6" text-anchor="start" font-weight="normal" fill="#2a2a2a" stroke="#2a2a2a" stroke-width="0.25" letter-spacing="0.15">1</text>
<text x="233.9" y="30.31" font-size="6.6" text-anchor="start" font-weight="normal" fill="#2a2a2a" stroke="#2a2a2a" stroke-width="0.25" letter-spacing="0.15">0.5</text>
<text x="233.9" y="39.68" font-size="6.6" text-anchor="start" font-weight="normal" fill="#2a2a2a" stroke="#2a2a2a" stroke-width="0.25" letter-spacing="0.15">0</text>
<text x="233.9" y="49.04" font-size="6.6" text-anchor="start" font-weight="normal" fill="#2a2a2a" stroke="#2a2a2a" stroke-width="0.25" letter-spacing="0.15">−0.5</text>
<text x="233.9" y="58.41" font-size="6.6" text-anchor="start" font-weight="normal" fill="#2a2a2a" stroke="#2a2a2a" stroke-width="0.25" letter-spacing="0.15">−1</text>
<text x="233.9" y="67.78" font-size="6.6" text-anchor="start" font-weight="normal" fill="#2a2a2a" stroke="#2a2a2a" stroke-width="0.25" letter-spacing="0.15">−1.5</text>
<text x="10.2" y="15.8" font-size="11.8" text-anchor="start" font-weight="bold" fill="#111" >A</text>
<rect x="314.1" y="9" width="35.74" height="1.3" fill="#e7f7fc"/>
<rect x="314.1" y="10" width="35.74" height="1.3" fill="#e7f7fc"/>
<rect x="314.1" y="11" width="35.74" height="1.3" fill="#c5eaf8"/>
<rect x="314.1" y="12" width="35.74" height="1.3" fill="#c6ebf8"/>
<rect x="314.1" y="13" width="35.74" height="1.3" fill="#e3f5fb"/>
<rect x="314.1" y="14" width="35.74" height="0.8" fill="#dff4fb"/>
<rect x="314.1" y="14.5" width="35.74" height="1.3" fill="#efafb1"/>
<rect x="314.1" y="15.5" width="35.74" height="1.3" fill="#f2bec0"/>
<rect x="314.1" y="16.5" width="35.74" height="1.3" fill="#efb1b4"/>
<rect x="314.1" y="17.5" width="35.74" height="1.3" fill="#efb1b4"/>
<rect x="314.1" y="18.5" width="35.74" height="1.3" fill="#efb2b5"/>
<rect x="314.1" y="19.5" width="35.74" height="0.5" fill="#f3c4c6"/>
<rect x="314.1" y="19.7" width="35.74" height="1.3" fill="#e1f4fb"/>
<rect x="314.1" y="20.7" width="35.74" height="1.3" fill="#e0f4fb"/>
<rect x="314.1" y="21.7" width="35.74" height="1.3" fill="#ecf8fd"/>
<rect x="314.1" y="22.7" width="35.74" height="1.3" fill="#f7fcfe"/>
<rect x="314.1" y="23.7" width="35.74" height="1.3" fill="#f5fbfe"/>
<rect x="314.1" y="24.7" width="35.74" height="1.3" fill="#e5f6fc"/>
<rect x="314.1" y="25.7" width="35.74" height="1.3" fill="#e2f5fb"/>
<rect x="314.1" y="26.7" width="35.74" height="0.6" fill="#dbf2fa"/>
<rect x="314.1" y="27" width="35.74" height="1.3" fill="#f4c9ca"/>
<rect x="314.1" y="28" width="35.74" height="1.3" fill="#f4c9cb"/>
<rect x="314.1" y="29" width="35.74" height="1.3" fill="#f0b7b9"/>
<rect x="314.1" y="30" width="35.74" height="1.3" fill="#f2bdbf"/>
<rect x="314.1" y="31" width="35.74" height="1.3" fill="#f1bbbd"/>
<rect x="314.1" y="32" width="35.74" height="1.3" fill="#eda6a8"/>
<rect x="314.1" y="33" width="35.74" height="1.3" fill="#f0b5b7"/>
<rect x="314.1" y="34" width="35.74" height="1.3" fill="#efb3b6"/>
<rect x="314.1" y="35" width="35.74" height="0.9" fill="#f2c1c2"/>
<rect x="314.1" y="35.6" width="35.74" height="1.3" fill="#c4eaf7"/>
<rect x="314.1" y="36.6" width="35.74" height="1.3" fill="#cfeef9"/>
<rect x="314.1" y="37.6" width="35.74" height="1.3" fill="#c8ebf8"/>
<rect x="314.1" y="38.6" width="35.74" height="1.3" fill="#d6f1fa"/>
<rect x="314.1" y="39.6" width="35.74" height="1.3" fill="#e9f7fc"/>
<rect x="314.1" y="40.6" width="35.74" height="1.3" fill="#ddf3fb"/>
<rect x="314.1" y="41.6" width="35.74" height="1.3" fill="#caecf8"/>
<rect x="314.1" y="42.6" width="35.74" height="0.7" fill="#e5f6fc"/>
<rect x="314.1" y="43" width="35.74" height="1.3" fill="#df6065"/>
<rect x="314.1" y="44" width="35.74" height="1.3" fill="#df6368"/>
<rect x="314.1" y="45" width="35.74" height="1.3" fill="#de5c61"/>
<rect x="314.1" y="46" width="35.74" height="1.3" fill="#df6267"/>
<rect x="314.1" y="47" width="35.74" height="0.6" fill="#df6065"/>
<rect x="314.1" y="47.3" width="35.74" height="1.3" fill="#eb9ea1"/>
<rect x="314.1" y="48.3" width="35.74" height="1.3" fill="#e68588"/>
<rect x="314.1" y="49.3" width="35.74" height="1.3" fill="#e68589"/>
<rect x="314.1" y="50.3" width="35.74" height="1.3" fill="#eda6a9"/>
<rect x="314.1" y="51.3" width="35.74" height="1.3" fill="#e88e92"/>
<rect x="314.1" y="52.3" width="35.74" height="1.3" fill="#e88f93"/>
<rect x="314.1" y="53.3" width="35.74" height="0.6" fill="#ea9a9d"/>
<rect x="314.1" y="53.6" width="35.74" height="1.3" fill="#e5f6fc"/>
<rect x="314.1" y="54.6" width="35.74" height="1.3" fill="#e3f5fb"/>
<rect x="314.1" y="55.6" width="35.74" height="1.3" fill="#f4fbfe"/>
<rect x="314.1" y="56.6" width="35.74" height="1.3" fill="#e4f5fc"/>
<rect x="314.1" y="57.6" width="35.74" height="0.5" fill="#f0fafd"/>
<rect x="314.1" y="57.8" width="35.74" height="1.3" fill="#e27277"/>
<rect x="314.1" y="58.8" width="35.74" height="1.3" fill="#de5d62"/>
<rect x="314.1" y="59.8" width="35.74" height="1.3" fill="#de5c61"/>
<rect x="314.1" y="60.8" width="35.74" height="1.3" fill="#e16e73"/>
<rect x="314.1" y="61.8" width="35.74" height="1.3" fill="#e06a6e"/>
<rect x="314.1" y="62.8" width="35.74" height="1.3" fill="#dd5b60"/>
<rect x="314.1" y="63.8" width="35.74" height="0.5" fill="#df6368"/>
<rect x="314.1" y="64" width="35.74" height="1.3" fill="#e78a8e"/>
<rect x="314.1" y="65" width="35.74" height="1.3" fill="#e99598"/>
<rect x="314.1" y="66" width="35.74" height="1.3" fill="#e89194"/>
<rect x="314.1" y="67" width="35.74" height="1.3" fill="#dc555b"/>
<rect x="314.1" y="68" width="35.74" height="1.3" fill="#e16b70"/>
<rect x="314.1" y="69" width="35.74" height="1.3" fill="#db4d53"/>
<rect x="314.1" y="70" width="35.74" height="1.3" fill="#e0676c"/>
<rect x="314.1" y="71" width="35.74" height="1.3" fill="#db4d52"/>
<rect x="314.1" y="72" width="35.74" height="1.3" fill="#e0656a"/>
<rect x="314.1" y="73" width="35.74" height="1.3" fill="#da4b51"/>
<rect x="314.1" y="74" width="35.74" height="1.3" fill="#dc555b"/>
<rect x="314.1" y="75" width="35.74" height="0.8" fill="#de5d63"/>
<rect x="314.1" y="75.5" width="35.74" height="1.3" fill="#d9474d"/>
<rect x="314.1" y="76.5" width="35.74" height="1.3" fill="#d84147"/>
<rect x="314.1" y="77.5" width="35.74" height="1.3" fill="#d9444a"/>
<rect x="314.1" y="78.5" width="35.74" height="1.3" fill="#db4f55"/>
<rect x="314.1" y="79.5" width="35.74" height="1.3" fill="#dc5459"/>
<rect x="314.1" y="80.5" width="35.74" height="1.3" fill="#d9474d"/>
<rect x="314.1" y="81.5" width="35.74" height="1.3" fill="#d6363c"/>
<rect x="314.1" y="82.5" width="35.74" height="1.3" fill="#d84349"/>
<rect x="314.1" y="83.5" width="35.74" height="1.3" fill="#dd595e"/>
<rect x="314.1" y="84.5" width="35.74" height="1.3" fill="#d73b41"/>
<rect x="314.1" y="85.5" width="35.74" height="1.3" fill="#d83e45"/>
<rect x="314.1" y="86.5" width="35.74" height="1.3" fill="#d6373d"/>
<rect x="314.1" y="87.5" width="35.74" height="1.3" fill="#dc545a"/>
<rect x="314.1" y="88.5" width="35.74" height="1.3" fill="#d73e44"/>
<rect x="314.1" y="89.5" width="35.74" height="1.3" fill="#dd5a5f"/>
<rect x="314.1" y="90.5" width="35.74" height="1.3" fill="#d84147"/>
<rect x="314.1" y="91.5" width="35.74" height="1.3" fill="#db5157"/>
<rect x="314.1" y="92.5" width="35.74" height="1.3" fill="#dc5358"/>
<rect x="314.1" y="93.5" width="35.74" height="1.3" fill="#d6383f"/>
<rect x="314.1" y="94.5" width="35.74" height="1.3" fill="#dd585d"/>
<rect x="314.1" y="95.5" width="35.74" height="1.3" fill="#d9474d"/>
<rect x="314.1" y="96.5" width="35.74" height="1.3" fill="#d7393f"/>
<rect x="314.1" y="97.5" width="35.74" height="1.3" fill="#dc5258"/>
<rect x="314.1" y="98.5" width="35.74" height="1.3" fill="#dc5459"/>
<rect x="314.1" y="99.5" width="35.74" height="0.4" fill="#d6383e"/>
<rect x="314.1" y="99.6" width="35.74" height="1.3" fill="#e1f4fb"/>
<rect x="314.1" y="100.6" width="35.74" height="1.3" fill="#ecf8fd"/>
<rect x="314.1" y="101.6" width="35.74" height="1.2" fill="#d2eff9"/>
<rect x="314.1" y="102.5" width="35.74" height="1.3" fill="#f1bbbd"/>
<rect x="314.1" y="103.5" width="35.74" height="1.3" fill="#f3c3c5"/>
<rect x="314.1" y="104.5" width="35.74" height="1.1" fill="#efafb1"/>
<rect x="314.1" y="105.3" width="35.74" height="1.3" fill="#fdf3f3"/>
<rect x="314.1" y="106.3" width="35.74" height="1.3" fill="#f5cfd1"/>
<rect x="314.1" y="107.3" width="35.74" height="1.3" fill="#fdf5f5"/>
<rect x="314.1" y="108.3" width="35.74" height="1.2" fill="#f7d8d9"/>
<rect x="314.1" y="109.2" width="35.74" height="1.3" fill="#c4eaf7"/>
<rect x="314.1" y="110.2" width="35.74" height="1.3" fill="#cdedf9"/>
<rect x="314.1" y="111.2" width="35.74" height="1.3" fill="#e2f5fb"/>
<rect x="314.1" y="112.2" width="35.74" height="1.3" fill="#c9ecf8"/>
<rect x="314.1" y="113.2" width="35.74" height="1.3" fill="#caecf8"/>
<rect x="314.1" y="114.2" width="35.74" height="1.3" fill="#ddf3fb"/>
<rect x="314.1" y="115.2" width="35.74" height="1.3" fill="#d2eff9"/>
<rect x="314.1" y="116.2" width="35.74" height="1.3" fill="#c4eaf8"/>
<rect x="314.1" y="117.2" width="35.74" height="1.3" fill="#e9f7fc"/>
<rect x="314.1" y="118.2" width="35.74" height="1.3" fill="#c9ecf8"/>
<rect x="314.1" y="119.2" width="35.74" height="1.3" fill="#c4eaf8"/>
<rect x="314.1" y="120.2" width="35.74" height="1.3" fill="#d0eef9"/>
<rect x="314.1" y="121.2" width="35.74" height="1.3" fill="#daf2fa"/>
<rect x="314.1" y="122.2" width="35.74" height="1.3" fill="#dff4fb"/>
<rect x="314.1" y="123.2" width="35.74" height="1.1" fill="#c7ebf8"/>
<rect x="314.1" y="124" width="35.74" height="1.3" fill="#d0eef9"/>
<rect x="314.1" y="125" width="35.74" height="1.3" fill="#c4eaf7"/>
<rect x="314.1" y="126" width="35.74" height="1.3" fill="#d4f0fa"/>
<rect x="314.1" y="127" width="35.74" height="1.3" fill="#e0f4fb"/>
<rect x="314.1" y="128" width="35.74" height="1.3" fill="#dff4fb"/>
<rect x="314.1" y="129" width="35.74" height="1.3" fill="#e5f6fc"/>
<rect x="314.1" y="130" width="35.74" height="1" fill="#e0f4fb"/>
<rect x="314.1" y="130.7" width="35.74" height="1.3" fill="#e16c71"/>
<rect x="314.1" y="131.7" width="35.74" height="1.3" fill="#e27377"/>
<rect x="314.1" y="132.7" width="35.74" height="1.3" fill="#e47c80"/>
<rect x="314.1" y="133.7" width="35.74" height="1.3" fill="#e6868a"/>
<rect x="314.1" y="134.7" width="35.74" height="1.3" fill="#e37479"/>
<rect x="314.1" y="135.7" width="35.74" height="1.3" fill="#e68387"/>
<rect x="314.1" y="136.7" width="35.74" height="1" fill="#e78b8f"/>
<rect x="314.1" y="137.4" width="35.74" height="1.3" fill="#f9e4e5"/>
<rect x="314.1" y="138.4" width="35.74" height="1.3" fill="#f6d2d4"/>
<rect x="314.1" y="139.4" width="35.74" height="1.3" fill="#fcf1f1"/>
<rect x="314.1" y="140.4" width="35.74" height="1.3" fill="#f8dedf"/>
<rect x="314.1" y="141.4" width="35.74" height="1.3" fill="#fae6e7"/>
<rect x="314.1" y="142.4" width="35.74" height="0.9" fill="#f9e1e2"/>
<rect x="314.1" y="143" width="35.74" height="1.3" fill="#eda7aa"/>
<rect x="314.1" y="144" width="35.74" height="1.3" fill="#e68589"/>
<rect x="314.1" y="145" width="35.74" height="1.3" fill="#eca2a5"/>
<rect x="314.1" y="146" width="35.74" height="1.3" fill="#e99497"/>
<rect x="314.1" y="147" width="35.74" height="1.3" fill="#eb9c9f"/>
<rect x="314.1" y="148" width="35.74" height="1.3" fill="#eeacaf"/>
<rect x="314.1" y="149" width="35.74" height="1.3" fill="#ea9699"/>
<rect x="314.1" y="150" width="35.74" height="1.1" fill="#eda7aa"/>
<rect x="314.1" y="150.8" width="35.74" height="1.3" fill="#dd5a5f"/>
<rect x="314.1" y="151.8" width="35.74" height="1.3" fill="#dd5b60"/>
<rect x="314.1" y="152.8" width="35.74" height="1.3" fill="#dc565b"/>
<rect x="314.1" y="153.8" width="35.74" height="1.3" fill="#dd585e"/>
<rect x="314.1" y="154.8" width="35.74" height="1.3" fill="#d84248"/>
<rect x="314.1" y="155.8" width="35.74" height="1.3" fill="#d9474d"/>
<rect x="314.1" y="156.8" width="35.74" height="1.3" fill="#d5343a"/>
<rect x="314.1" y="157.8" width="35.74" height="1.3" fill="#d6363c"/>
<rect x="314.1" y="158.8" width="35.74" height="1.3" fill="#d5333a"/>
<rect x="314.1" y="159.8" width="35.74" height="1.3" fill="#dc5358"/>
<rect x="314.1" y="160.8" width="35.74" height="1.3" fill="#da4a50"/>
<rect x="314.1" y="161.8" width="35.74" height="1.3" fill="#dc5257"/>
<rect x="314.1" y="162.8" width="35.74" height="1.3" fill="#d9444a"/>
<rect x="314.1" y="163.8" width="35.74" height="1.3" fill="#d84349"/>
<rect x="314.1" y="164.8" width="35.74" height="1.3" fill="#d73b42"/>
<rect x="314.1" y="165.8" width="35.74" height="1.3" fill="#d83f45"/>
<rect x="314.1" y="166.8" width="35.74" height="1.3" fill="#dc5257"/>
<rect x="314.1" y="167.8" width="35.74" height="1.3" fill="#da4b51"/>
<rect x="314.1" y="168.8" width="35.74" height="0.5" fill="#d9474c"/>
<rect x="314.1" y="169" width="35.74" height="1.3" fill="#f1bbbd"/>
<rect x="314.1" y="170" width="35.74" height="1.3" fill="#f1babc"/>
<rect x="314.1" y="171" width="35.74" height="1.3" fill="#eeabad"/>
<rect x="314.1" y="172" width="35.74" height="1.3" fill="#f0b7b9"/>
<rect x="314.1" y="173" width="35.74" height="1.3" fill="#eb9ea1"/>
<rect x="314.1" y="174" width="35.74" height="1.3" fill="#efb2b4"/>
<rect x="314.1" y="175" width="35.74" height="1.3" fill="#f0b7ba"/>
<rect x="314.1" y="176" width="35.74" height="1.1" fill="#f0b4b6"/>
<rect x="314.1" y="176.8" width="35.74" height="1.3" fill="#ccedf8"/>
<rect x="314.1" y="177.8" width="35.74" height="1.3" fill="#cbedf8"/>
<rect x="314.1" y="178.8" width="35.74" height="1.3" fill="#d7f1fa"/>
<rect x="314.1" y="179.8" width="35.74" height="1.3" fill="#d5f0fa"/>
<rect x="314.1" y="180.8" width="35.74" height="1.3" fill="#cfeef9"/>
<rect x="314.1" y="181.8" width="35.74" height="1.3" fill="#dbf2fa"/>
<rect x="314.1" y="182.8" width="35.74" height="1.3" fill="#cbedf8"/>
<rect x="314.1" y="183.8" width="35.74" height="1.3" fill="#e6f6fc"/>
<rect x="314.1" y="184.8" width="35.74" height="1.3" fill="#e8f7fc"/>
<rect x="314.1" y="185.8" width="35.74" height="1.3" fill="#dff4fb"/>
<rect x="314.1" y="186.8" width="35.74" height="1.3" fill="#d3f0f9"/>
<rect x="314.1" y="187.8" width="35.74" height="1.3" fill="#d6f1fa"/>
<rect x="314.1" y="188.8" width="35.74" height="1.3" fill="#d9f2fa"/>
<rect x="314.1" y="189.8" width="35.74" height="1.3" fill="#c5eaf8"/>
<rect x="314.1" y="190.8" width="35.74" height="1.1" fill="#d3eff9"/>
<rect x="349.84" y="9" width="35.74" height="1.3" fill="#bce7f6"/>
<rect x="349.84" y="10" width="35.74" height="1.3" fill="#aee2f5"/>
<rect x="349.84" y="11" width="35.74" height="1.3" fill="#abe1f4"/>
<rect x="349.84" y="12" width="35.74" height="1.3" fill="#c6ebf8"/>
<rect x="349.84" y="13" width="35.74" height="1.3" fill="#b5e5f6"/>
<rect x="349.84" y="14" width="35.74" height="1.3" fill="#bbe7f6"/>
<rect x="349.84" y="15" width="35.74" height="1.3" fill="#cbecf8"/>
<rect x="349.84" y="16" width="35.74" height="1.3" fill="#bfe8f7"/>
<rect x="349.84" y="17" width="35.74" height="1.3" fill="#b3e4f5"/>
<rect x="349.84" y="18" width="35.74" height="1" fill="#cdedf9"/>
<rect x="349.84" y="18.7" width="35.74" height="1.3" fill="#a8e0f4"/>
<rect x="349.84" y="19.7" width="35.74" height="1.3" fill="#9adbf2"/>
<rect x="349.84" y="20.7" width="35.74" height="1.3" fill="#b4e4f5"/>
<rect x="349.84" y="21.7" width="35.74" height="1.3" fill="#9edcf3"/>
<rect x="349.84" y="22.7" width="35.74" height="1.3" fill="#a5dff4"/>
<rect x="349.84" y="23.7" width="35.74" height="1.3" fill="#bae6f6"/>
<rect x="349.84" y="24.7" width="35.74" height="1.3" fill="#b4e4f5"/>
<rect x="349.84" y="25.7" width="35.74" height="1.3" fill="#9adbf2"/>
<rect x="349.84" y="26.7" width="35.74" height="1.3" fill="#abe1f4"/>
<rect x="349.84" y="27.7" width="35.74" height="1.3" fill="#a9e1f4"/>
<rect x="349.84" y="28.7" width="35.74" height="1.3" fill="#ace2f4"/>
<rect x="349.84" y="29.7" width="35.74" height="1.3" fill="#a2def3"/>
<rect x="349.84" y="30.7" width="35.74" height="1.3" fill="#b0e3f5"/>
<rect x="349.84" y="31.7" width="35.74" height="1.3" fill="#9ddcf2"/>
<rect x="349.84" y="32.7" width="35.74" height="1.3" fill="#a5dff4"/>
<rect x="349.84" y="33.7" width="35.74" height="1.3" fill="#a8e0f4"/>
<rect x="349.84" y="34.7" width="35.74" height="1.3" fill="#bee8f7"/>
<rect x="349.84" y="35.7" width="35.74" height="1.3" fill="#9ddcf2"/>
<rect x="349.84" y="36.7" width="35.74" height="1.3" fill="#b7e5f6"/>
<rect x="349.84" y="37.7" width="35.74" height="1.3" fill="#a1def3"/>
<rect x="349.84" y="38.7" width="35.74" height="1.3" fill="#b0e3f5"/>
<rect x="349.84" y="39.7" width="35.74" height="1.3" fill="#a9e0f4"/>
<rect x="349.84" y="40.7" width="35.74" height="1.3" fill="#ace1f4"/>
<rect x="349.84" y="41.7" width="35.74" height="1.3" fill="#b7e5f6"/>
<rect x="349.84" y="42.7" width="35.74" height="1.3" fill="#a9e0f4"/>
<rect x="349.84" y="43.7" width="35.74" height="1.3" fill="#9eddf3"/>
<rect x="349.84" y="44.7" width="35.74" height="1.3" fill="#9eddf3"/>
<rect x="349.84" y="45.7" width="35.74" height="1.3" fill="#9ddcf3"/>
<rect x="349.84" y="46.7" width="35.74" height="1.3" fill="#bae7f6"/>
<rect x="349.84" y="47.7" width="35.74" height="0.9" fill="#b2e4f5"/>
<rect x="349.84" y="48.3" width="35.74" height="1.3" fill="#95daf2"/>
<rect x="349.84" y="49.3" width="35.74" height="1.3" fill="#8bd6f0"/>
<rect x="349.84" y="50.3" width="35.74" height="1.3" fill="#72cded"/>
<rect x="349.84" y="51.3" width="35.74" height="1.3" fill="#8ad5f0"/>
<rect x="349.84" y="52.3" width="35.74" height="1.3" fill="#8ed7f1"/>
<rect x="349.84" y="53.3" width="35.74" height="1.3" fill="#8cd6f0"/>
<rect x="349.84" y="54.3" width="35.74" height="1.3" fill="#84d3ef"/>
<rect x="349.84" y="55.3" width="35.74" height="1.3" fill="#7ed1ef"/>
<rect x="349.84" y="56.3" width="35.74" height="0.8" fill="#82d3ef"/>
<rect x="349.84" y="56.8" width="35.74" height="1.3" fill="#c6ebf8"/>
<rect x="349.84" y="57.8" width="35.74" height="1.3" fill="#b2e4f5"/>
<rect x="349.84" y="58.8" width="35.74" height="1.3" fill="#bce7f6"/>
<rect x="349.84" y="59.8" width="35.74" height="1.3" fill="#bae6f6"/>
<rect x="349.84" y="60.8" width="35.74" height="1.3" fill="#ccedf9"/>
<rect x="349.84" y="61.8" width="35.74" height="1.3" fill="#c6ebf8"/>
<rect x="349.84" y="62.8" width="35.74" height="1.3" fill="#cbedf8"/>
<rect x="349.84" y="63.8" width="35.74" height="1.3" fill="#c7ebf8"/>
<rect x="349.84" y="64.8" width="35.74" height="1.3" fill="#b3e4f5"/>
<rect x="349.84" y="65.8" width="35.74" height="1.3" fill="#b0e3f5"/>
<rect x="349.84" y="66.8" width="35.74" height="1.3" fill="#bae7f6"/>
<rect x="349.84" y="67.8" width="35.74" height="1.3" fill="#b1e3f5"/>
<rect x="349.84" y="68.8" width="35.74" height="1.3" fill="#b8e6f6"/>
<rect x="349.84" y="69.8" width="35.74" height="1.3" fill="#c1e9f7"/>
<rect x="349.84" y="70.8" width="35.74" height="1.3" fill="#cbecf8"/>
<rect x="349.84" y="71.8" width="35.74" height="1.2" fill="#bee8f7"/>
<rect x="349.84" y="72.7" width="35.74" height="1.3" fill="#fcf2f2"/>
<rect x="349.84" y="73.7" width="35.74" height="1.3" fill="#f0fafd"/>
<rect x="349.84" y="74.7" width="35.74" height="1.1" fill="#f9fdfe"/>
<rect x="349.84" y="75.5" width="35.74" height="1.3" fill="#ceedf9"/>
<rect x="349.84" y="76.5" width="35.74" height="1.3" fill="#ade2f5"/>
<rect x="349.84" y="77.5" width="35.74" height="1.3" fill="#b7e6f6"/>
<rect x="349.84" y="78.5" width="35.74" height="1.3" fill="#aae1f4"/>
<rect x="349.84" y="79.5" width="35.74" height="1.3" fill="#abe1f4"/>
<rect x="349.84" y="80.5" width="35.74" height="1.3" fill="#caecf8"/>
<rect x="349.84" y="81.5" width="35.74" height="1.3" fill="#cdedf9"/>
<rect x="349.84" y="82.5" width="35.74" height="1.3" fill="#c0e9f7"/>
<rect x="349.84" y="83.5" width="35.74" height="1.3" fill="#ace2f4"/>
<rect x="349.84" y="84.5" width="35.74" height="1.3" fill="#b3e4f5"/>
<rect x="349.84" y="85.5" width="35.74" height="1.3" fill="#b0e3f5"/>
<rect x="349.84" y="86.5" width="35.74" height="1.3" fill="#c1e9f7"/>
<rect x="349.84" y="87.5" width="35.74" height="1.3" fill="#c2e9f7"/>
<rect x="349.84" y="88.5" width="35.74" height="1.3" fill="#b8e6f6"/>
<rect x="349.84" y="89.5" width="35.74" height="1.3" fill="#bce7f6"/>
<rect x="349.84" y="90.5" width="35.74" height="1.3" fill="#ace1f4"/>
<rect x="349.84" y="91.5" width="35.74" height="1.3" fill="#bce7f6"/>
<rect x="349.84" y="92.5" width="35.74" height="1.3" fill="#ccedf8"/>
<rect x="349.84" y="93.5" width="35.74" height="1.3" fill="#c4eaf8"/>
<rect x="349.84" y="94.5" width="35.74" height="1.3" fill="#abe1f4"/>
<rect x="349.84" y="95.5" width="35.74" height="1.3" fill="#bbe7f6"/>
<rect x="349.84" y="96.5" width="35.74" height="1.3" fill="#c3eaf7"/>
<rect x="349.84" y="97.5" width="35.74" height="1.3" fill="#b1e3f5"/>
<rect x="349.84" y="98.5" width="35.74" height="1.3" fill="#caecf8"/>
<rect x="349.84" y="99.5" width="35.74" height="1.3" fill="#b9e6f6"/>
<rect x="349.84" y="100.5" width="35.74" height="1.3" fill="#c2e9f7"/>
<rect x="349.84" y="101.5" width="35.74" height="1.3" fill="#b7e5f6"/>
<rect x="349.84" y="102.5" width="35.74" height="1.3" fill="#ceedf9"/>
<rect x="349.84" y="103.5" width="35.74" height="1.3" fill="#c5ebf8"/>
<rect x="349.84" y="104.5" width="35.74" height="1.3" fill="#bde8f7"/>
<rect x="349.84" y="105.5" width="35.74" height="1.3" fill="#ade2f5"/>
<rect x="349.84" y="106.5" width="35.74" height="1.1" fill="#b8e6f6"/>
<rect x="349.84" y="107.3" width="35.74" height="1.3" fill="#f4c9cb"/>
<rect x="349.84" y="108.3" width="35.74" height="1.3" fill="#efb2b4"/>
<rect x="349.84" y="109.3" width="35.74" height="1.3" fill="#eda6a9"/>
<rect x="349.84" y="110.3" width="35.74" height="1" fill="#f3c3c5"/>
<rect x="349.84" y="111" width="35.74" height="1.3" fill="#db4f54"/>
<rect x="349.84" y="112" width="35.74" height="1.3" fill="#db5055"/>
<rect x="349.84" y="113" width="35.74" height="1.3" fill="#dc5358"/>
<rect x="349.84" y="114" width="35.74" height="1.3" fill="#d9464c"/>
<rect x="349.84" y="115" width="35.74" height="1.3" fill="#d73d43"/>
<rect x="349.84" y="116" width="35.74" height="1.3" fill="#d9474c"/>
<rect x="349.84" y="117" width="35.74" height="1.3" fill="#db5056"/>
<rect x="349.84" y="118" width="35.74" height="1.3" fill="#d73c42"/>
<rect x="349.84" y="119" width="35.74" height="1.3" fill="#dc565b"/>
<rect x="349.84" y="120" width="35.74" height="1.3" fill="#d9454b"/>
<rect x="349.84" y="121" width="35.74" height="1.3" fill="#da484e"/>
<rect x="349.84" y="122" width="35.74" height="1.3" fill="#d9444a"/>
<rect x="349.84" y="123" width="35.74" height="1.3" fill="#d84147"/>
<rect x="349.84" y="124" width="35.74" height="1.3" fill="#dd5a60"/>
<rect x="349.84" y="125" width="35.74" height="1.3" fill="#da4a50"/>
<rect x="349.84" y="126" width="35.74" height="1.3" fill="#dc5358"/>
<rect x="349.84" y="127" width="35.74" height="1.3" fill="#da484e"/>
<rect x="349.84" y="128" width="35.74" height="1.3" fill="#d73b42"/>
<rect x="349.84" y="129" width="35.74" height="1" fill="#da494f"/>
<rect x="349.84" y="129.7" width="35.74" height="1.3" fill="#eb9ea1"/>
<rect x="349.84" y="130.7" width="35.74" height="1.3" fill="#e78b8f"/>
<rect x="349.84" y="131.7" width="35.74" height="1.3" fill="#e58185"/>
<rect x="349.84" y="132.7" width="35.74" height="1.3" fill="#e47a7e"/>
<rect x="349.84" y="133.7" width="35.74" height="1.3" fill="#e68487"/>
<rect x="349.84" y="134.7" width="35.74" height="1.3" fill="#e47d81"/>
<rect x="349.84" y="135.7" width="35.74" height="1.3" fill="#eb9da1"/>
<rect x="349.84" y="136.7" width="35.74" height="1" fill="#e3777c"/>
<rect x="349.84" y="137.4" width="35.74" height="1.3" fill="#d9464b"/>
<rect x="349.84" y="138.4" width="35.74" height="1.3" fill="#da4b50"/>
<rect x="349.84" y="139.4" width="35.74" height="1.3" fill="#d83e44"/>
<rect x="349.84" y="140.4" width="35.74" height="1.3" fill="#d83f45"/>
<rect x="349.84" y="141.4" width="35.74" height="1.3" fill="#de5f64"/>
<rect x="349.84" y="142.4" width="35.74" height="1.3" fill="#d84248"/>
<rect x="349.84" y="143.4" width="35.74" height="1.3" fill="#d9444a"/>
<rect x="349.84" y="144.4" width="35.74" height="1.3" fill="#de5b61"/>
<rect x="349.84" y="145.4" width="35.74" height="1.3" fill="#d9454b"/>
<rect x="349.84" y="146.4" width="35.74" height="0.9" fill="#da4b51"/>
<rect x="349.84" y="147" width="35.74" height="1.3" fill="#f0b4b6"/>
<rect x="349.84" y="148" width="35.74" height="1.3" fill="#ea9b9e"/>
<rect x="349.84" y="149" width="35.74" height="1.3" fill="#f0b6b8"/>
<rect x="349.84" y="150" width="35.74" height="1.3" fill="#eca2a5"/>
<rect x="349.84" y="151" width="35.74" height="1.1" fill="#eeaaac"/>
<rect x="349.84" y="151.8" width="35.74" height="1.3" fill="#bfe8f7"/>
<rect x="349.84" y="152.8" width="35.74" height="1.3" fill="#cbecf8"/>
<rect x="349.84" y="153.8" width="35.74" height="1.3" fill="#c7ebf8"/>
<rect x="349.84" y="154.8" width="35.74" height="1.3" fill="#bde8f7"/>
<rect x="349.84" y="155.8" width="35.74" height="1.3" fill="#daf2fa"/>
<rect x="349.84" y="156.8" width="35.74" height="1.3" fill="#b8e6f6"/>
<rect x="349.84" y="157.8" width="35.74" height="1.3" fill="#b5e5f6"/>
<rect x="349.84" y="158.8" width="35.74" height="1.3" fill="#c8ebf8"/>
<rect x="349.84" y="159.8" width="35.74" height="1.3" fill="#d5f0fa"/>
<rect x="349.84" y="160.8" width="35.74" height="1.3" fill="#ceeef9"/>
<rect x="349.84" y="161.8" width="35.74" height="1.3" fill="#d2eff9"/>
<rect x="349.84" y="162.8" width="35.74" height="1.3" fill="#c8ebf8"/>
<rect x="349.84" y="163.8" width="35.74" height="1.3" fill="#cfeef9"/>
<rect x="349.84" y="164.8" width="35.74" height="1.3" fill="#c2e9f7"/>
<rect x="349.84" y="165.8" width="35.74" height="0.7" fill="#bfe8f7"/>
<rect x="349.84" y="166.2" width="35.74" height="1.3" fill="#f9e2e2"/>
<rect x="349.84" y="167.2" width="35.74" height="1.3" fill="#fdf5f5"/>
<rect x="349.84" y="168.2" width="35.74" height="1.3" fill="#fdf3f3"/>
<rect x="349.84" y="169.2" width="35.74" height="1.3" fill="#f7d7d9"/>
<rect x="349.84" y="170.2" width="35.74" height="1.3" fill="#fceff0"/>
<rect x="349.84" y="171.2" width="35.74" height="1.3" fill="#f7d7d9"/>
<rect x="349.84" y="172.2" width="35.74" height="1.3" fill="#f7d6d7"/>
<rect x="349.84" y="173.2" width="35.74" height="1.1" fill="#fae6e6"/>
<rect x="349.84" y="174" width="35.74" height="1.3" fill="#98dbf2"/>
<rect x="349.84" y="175" width="35.74" height="1.3" fill="#9ddcf2"/>
<rect x="349.84" y="176" width="35.74" height="1.3" fill="#a0ddf3"/>
<rect x="349.84" y="177" width="35.74" height="1.3" fill="#84d3ef"/>
<rect x="349.84" y="178" width="35.74" height="1.3" fill="#85d4ef"/>
<rect x="349.84" y="179" width="35.74" height="1.3" fill="#8dd7f1"/>
<rect x="349.84" y="180" width="35.74" height="1.3" fill="#90d8f1"/>
<rect x="349.84" y="181" width="35.74" height="1.3" fill="#8ad5f0"/>
<rect x="349.84" y="182" width="35.74" height="1.3" fill="#7fd1ef"/>
<rect x="349.84" y="183" width="35.74" height="1.3" fill="#94d9f1"/>
<rect x="349.84" y="184" width="35.74" height="1.3" fill="#a3def3"/>
<rect x="349.84" y="185" width="35.74" height="0.8" fill="#8cd6f0"/>
<rect x="349.84" y="185.5" width="35.74" height="1.3" fill="#fcefef"/>
<rect x="349.84" y="186.5" width="35.74" height="1.3" fill="#fdf5f5"/>
<rect x="349.84" y="187.5" width="35.74" height="1.3" fill="#fcf3f3"/>
<rect x="349.84" y="188.5" width="35.74" height="1.3" fill="#f9e1e2"/>
<rect x="349.84" y="189.5" width="35.74" height="1.3" fill="#fef8f8"/>
<rect x="349.84" y="190.5" width="35.74" height="1.3" fill="#fbeaeb"/>
<rect x="349.84" y="191.5" width="35.74" height="0.4" fill="#fcf1f1"/>
<rect x="385.58" y="9" width="35.74" height="1.3" fill="#bce7f6"/>
<rect x="385.58" y="10" width="35.74" height="1.3" fill="#caecf8"/>
<rect x="385.58" y="11" width="35.74" height="1.3" fill="#aae1f4"/>
<rect x="385.58" y="12" width="35.74" height="1.3" fill="#c7ebf8"/>
<rect x="385.58" y="13" width="35.74" height="1.3" fill="#b3e4f5"/>
<rect x="385.58" y="14" width="35.74" height="1.3" fill="#c0e9f7"/>
<rect x="385.58" y="15" width="35.74" height="1.3" fill="#c6ebf8"/>
<rect x="385.58" y="16" width="35.74" height="1.3" fill="#c0e9f7"/>
<rect x="385.58" y="17" width="35.74" height="1.3" fill="#b7e5f6"/>
<rect x="385.58" y="18" width="35.74" height="1.3" fill="#c8ebf8"/>
<rect x="385.58" y="19" width="35.74" height="1.3" fill="#abe1f4"/>
<rect x="385.58" y="20" width="35.74" height="1.3" fill="#c0e9f7"/>
<rect x="385.58" y="21" width="35.74" height="1.3" fill="#b6e5f6"/>
<rect x="385.58" y="22" width="35.74" height="1.3" fill="#db4e53"/>
<rect x="385.58" y="23" width="35.74" height="1.3" fill="#d84147"/>
<rect x="385.58" y="24" width="35.74" height="1.3" fill="#d84349"/>
<rect x="385.58" y="25" width="35.74" height="1.3" fill="#da4a4f"/>
<rect x="385.58" y="26" width="35.74" height="1.3" fill="#dd575c"/>
<rect x="385.58" y="27" width="35.74" height="1.3" fill="#dd5a5f"/>
<rect x="385.58" y="28" width="35.74" height="1.3" fill="#db5156"/>
<rect x="385.58" y="29" width="35.74" height="1.3" fill="#dd5a5f"/>
<rect x="385.58" y="30" width="35.74" height="1.3" fill="#dd585d"/>
<rect x="385.58" y="31" width="35.74" height="1.3" fill="#d73c42"/>
<rect x="385.58" y="32" width="35.74" height="1.3" fill="#de5f64"/>
<rect x="385.58" y="33" width="35.74" height="1.3" fill="#d84248"/>
<rect x="385.58" y="34" width="35.74" height="1.3" fill="#dc5459"/>
<rect x="385.58" y="35" width="35.74" height="1.3" fill="#dc555a"/>
<rect x="385.58" y="36" width="35.74" height="1.3" fill="#dd565c"/>
<rect x="385.58" y="37" width="35.74" height="1.3" fill="#df6065"/>
<rect x="385.58" y="38" width="35.74" height="1.3" fill="#db5156"/>
<rect x="385.58" y="39" width="35.74" height="1.3" fill="#de5d62"/>
<rect x="385.58" y="40" width="35.74" height="1.3" fill="#db5157"/>
<rect x="385.58" y="41" width="35.74" height="1.3" fill="#dd585d"/>
<rect x="385.58" y="42" width="35.74" height="1.3" fill="#d83f45"/>
<rect x="385.58" y="43" width="35.74" height="1.3" fill="#d73e44"/>
<rect x="385.58" y="44" width="35.74" height="1.3" fill="#eda9ac"/>
<rect x="385.58" y="45" width="35.74" height="1.3" fill="#eca1a4"/>
<rect x="385.58" y="46" width="35.74" height="1.3" fill="#e99599"/>
<rect x="385.58" y="47" width="35.74" height="1.3" fill="#eeaeb1"/>
<rect x="385.58" y="48" width="35.74" height="1.3" fill="#f0b7ba"/>
<rect x="385.58" y="49" width="35.74" height="1.3" fill="#efb2b4"/>
<rect x="385.58" y="50" width="35.74" height="1.3" fill="#f0b4b6"/>
<rect x="385.58" y="51" width="35.74" height="1.3" fill="#eca0a3"/>
<rect x="385.58" y="52" width="35.74" height="1.3" fill="#eeacaf"/>
<rect x="385.58" y="53" width="35.74" height="1.3" fill="#eeadb0"/>
<rect x="385.58" y="54" width="35.74" height="1.3" fill="#eb9b9e"/>
<rect x="385.58" y="55" width="35.74" height="1.3" fill="#efb2b4"/>
<rect x="385.58" y="56" width="35.74" height="1.3" fill="#ea9a9e"/>
<rect x="385.58" y="57" width="35.74" height="1.1" fill="#eca2a5"/>
<rect x="385.58" y="57.8" width="35.74" height="1.3" fill="#b7e5f6"/>
<rect x="385.58" y="58.8" width="35.74" height="1.3" fill="#c7ebf8"/>
<rect x="385.58" y="59.8" width="35.74" height="1.3" fill="#b5e5f6"/>
<rect x="385.58" y="60.8" width="35.74" height="1.3" fill="#c9ecf8"/>
<rect x="385.58" y="61.8" width="35.74" height="1.3" fill="#cbecf8"/>
<rect x="385.58" y="62.8" width="35.74" height="1.3" fill="#bbe7f6"/>
<rect x="385.58" y="63.8" width="35.74" height="1.3" fill="#c2e9f7"/>
<rect x="385.58" y="64.8" width="35.74" height="1.3" fill="#ccedf8"/>
<rect x="385.58" y="65.8" width="35.74" height="1.3" fill="#c4eaf7"/>
<rect x="385.58" y="66.8" width="35.74" height="1.3" fill="#c4eaf8"/>
<rect x="385.58" y="67.8" width="35.74" height="1.3" fill="#c9ecf8"/>
<rect x="385.58" y="68.8" width="35.74" height="1.3" fill="#cbedf8"/>
<rect x="385.58" y="69.8" width="35.74" height="1.3" fill="#c4eaf8"/>
<rect x="385.58" y="70.8" width="35.74" height="1.3" fill="#cdedf9"/>
<rect x="385.58" y="71.8" width="35.74" height="1.3" fill="#b3e4f5"/>
<rect x="385.58" y="72.8" width="35.74" height="1.3" fill="#bfe8f7"/>
<rect x="385.58" y="73.8" width="35.74" height="1.3" fill="#c1e9f7"/>
<rect x="385.58" y="74.8" width="35.74" height="1.3" fill="#b6e5f6"/>
<rect x="385.58" y="75.8" width="35.74" height="1.3" fill="#b7e5f6"/>
<rect x="385.58" y="76.8" width="35.74" height="1.3" fill="#aee2f5"/>
<rect x="385.58" y="77.8" width="35.74" height="1.3" fill="#ccedf9"/>
<rect x="385.58" y="78.8" width="35.74" height="1.3" fill="#b5e5f6"/>
<rect x="385.58" y="79.8" width="35.74" height="1.3" fill="#bae6f6"/>
<rect x="385.58" y="80.8" width="35.74" height="1.3" fill="#caecf8"/>
<rect x="385.58" y="81.8" width="35.74" height="1.3" fill="#afe2f5"/>
<rect x="385.58" y="82.8" width="35.74" height="1.3" fill="#ccedf9"/>
<rect x="385.58" y="83.8" width="35.74" height="1.3" fill="#ace2f4"/>
<rect x="385.58" y="84.8" width="35.74" height="1.3" fill="#a9e0f4"/>
<rect x="385.58" y="85.8" width="35.74" height="1.3" fill="#b5e5f6"/>
<rect x="385.58" y="86.8" width="35.74" height="1.3" fill="#b5e5f6"/>
<rect x="385.58" y="87.8" width="35.74" height="1.3" fill="#cbecf8"/>
<rect x="385.58" y="88.8" width="35.74" height="1.3" fill="#c9ecf8"/>
<rect x="385.58" y="89.8" width="35.74" height="1.3" fill="#c5eaf8"/>
<rect x="385.58" y="90.8" width="35.74" height="1.3" fill="#b8e6f6"/>
<rect x="385.58" y="91.8" width="35.74" height="1.3" fill="#bce7f7"/>
<rect x="385.58" y="92.8" width="35.74" height="1.3" fill="#b1e3f5"/>
<rect x="385.58" y="93.8" width="35.74" height="1.3" fill="#c7ebf8"/>
<rect x="385.58" y="94.8" width="35.74" height="1.3" fill="#b6e5f6"/>
<rect x="385.58" y="95.8" width="35.74" height="1.3" fill="#b2e4f5"/>
<rect x="385.58" y="96.8" width="35.74" height="1.3" fill="#c0e9f7"/>
<rect x="385.58" y="97.8" width="35.74" height="1.3" fill="#ade2f5"/>
<rect x="385.58" y="98.8" width="35.74" height="1.3" fill="#b4e4f5"/>
<rect x="385.58" y="99.8" width="35.74" height="1.3" fill="#cbecf8"/>
<rect x="385.58" y="100.8" width="35.74" height="1.3" fill="#abe1f4"/>
<rect x="385.58" y="101.8" width="35.74" height="1.3" fill="#ade2f5"/>
<rect x="385.58" y="102.8" width="35.74" height="1.3" fill="#afe3f5"/>
<rect x="385.58" y="103.8" width="35.74" height="1.3" fill="#b1e3f5"/>
<rect x="385.58" y="104.8" width="35.74" height="1.3" fill="#b8e6f6"/>
<rect x="385.58" y="105.8" width="35.74" height="0.8" fill="#b1e3f5"/>
<rect x="385.58" y="106.3" width="35.74" height="1.3" fill="#8cd6f0"/>
<rect x="385.58" y="107.3" width="35.74" height="1.3" fill="#88d5f0"/>
<rect x="385.58" y="108.3" width="35.74" height="1.3" fill="#88d5f0"/>
<rect x="385.58" y="109.3" width="35.74" height="1.3" fill="#96daf2"/>
<rect x="385.58" y="110.3" width="35.74" height="1.3" fill="#8bd6f0"/>
<rect x="385.58" y="111.3" width="35.74" height="1" fill="#8dd6f0"/>
<rect x="385.58" y="112" width="35.74" height="1.3" fill="#c5eaf8"/>
<rect x="385.58" y="113" width="35.74" height="1.3" fill="#aae1f4"/>
<rect x="385.58" y="114" width="35.74" height="1.3" fill="#ade2f5"/>
<rect x="385.58" y="115" width="35.74" height="1.3" fill="#c8ebf8"/>
<rect x="385.58" y="116" width="35.74" height="1.3" fill="#b8e6f6"/>
<rect x="385.58" y="117" width="35.74" height="1.3" fill="#c5eaf8"/>
<rect x="385.58" y="118" width="35.74" height="1.3" fill="#ade2f5"/>
<rect x="385.58" y="119" width="35.74" height="1.3" fill="#bbe7f6"/>
<rect x="385.58" y="120" width="35.74" height="1.3" fill="#c8ebf8"/>
<rect x="385.58" y="121" width="35.74" height="1.3" fill="#b4e4f6"/>
<rect x="385.58" y="122" width="35.74" height="1.3" fill="#d3eff9"/>
<rect x="385.58" y="123" width="35.74" height="1.3" fill="#cdedf9"/>
<rect x="385.58" y="124" width="35.74" height="1.3" fill="#c4eaf8"/>
<rect x="385.58" y="125" width="35.74" height="1.1" fill="#dbf2fa"/>
<rect x="385.58" y="125.8" width="35.74" height="1.3" fill="#fbfefe"/>
<rect x="385.58" y="126.8" width="35.74" height="1.3" fill="#feffff"/>
<rect x="385.58" y="127.8" width="35.74" height="1.3" fill="#fefafa"/>
<rect x="385.58" y="128.8" width="35.74" height="1.3" fill="#f8fdfe"/>
<rect x="385.58" y="129.8" width="35.74" height="1.2" fill="#fcf1f2"/>
<rect x="385.58" y="130.7" width="35.74" height="1.3" fill="#95d9f2"/>
<rect x="385.58" y="131.7" width="35.74" height="1.3" fill="#95d9f2"/>
<rect x="385.58" y="132.7" width="35.74" height="1.3" fill="#93d9f1"/>
<rect x="385.58" y="133.7" width="35.74" height="1.3" fill="#a4dff3"/>
<rect x="385.58" y="134.7" width="35.74" height="1.3" fill="#a4dff3"/>
<rect x="385.58" y="135.7" width="35.74" height="1.3" fill="#9fddf3"/>
<rect x="385.58" y="136.7" width="35.74" height="1.3" fill="#90d8f1"/>
<rect x="385.58" y="137.7" width="35.74" height="1.3" fill="#8ed7f1"/>
<rect x="385.58" y="138.7" width="35.74" height="1.3" fill="#93d8f1"/>
<rect x="385.58" y="139.7" width="35.74" height="1.3" fill="#80d2ef"/>
<rect x="385.58" y="140.7" width="35.74" height="1.3" fill="#83d3ef"/>
<rect x="385.58" y="141.7" width="35.74" height="1.3" fill="#a5dff3"/>
<rect x="385.58" y="142.7" width="35.74" height="1.3" fill="#83d3ef"/>
<rect x="385.58" y="143.7" width="35.74" height="1.3" fill="#a2def3"/>
<rect x="385.58" y="144.7" width="35.74" height="1.3" fill="#98dbf2"/>
<rect x="385.58" y="145.7" width="35.74" height="1.3" fill="#a1def3"/>
<rect x="385.58" y="146.7" width="35.74" height="0.6" fill="#81d2ef"/>
<rect x="385.58" y="147" width="35.74" height="1.3" fill="#fef8f9"/>
<rect x="385.58" y="148" width="35.74" height="1.3" fill="#f9e4e5"/>
<rect x="385.58" y="149" width="35.74" height="1.3" fill="#fafdfe"/>
<rect x="385.58" y="150" width="35.74" height="1.3" fill="#fefeff"/>
<rect x="385.58" y="151" width="35.74" height="1.3" fill="#fdf6f7"/>
<rect x="385.58" y="152" width="35.74" height="1.1" fill="#fffefe"/>
<rect x="385.58" y="152.8" width="35.74" height="1.3" fill="#bbe7f6"/>
<rect x="385.58" y="153.8" width="35.74" height="1.3" fill="#cfeef9"/>
<rect x="385.58" y="154.8" width="35.74" height="1.3" fill="#b9e6f6"/>
<rect x="385.58" y="155.8" width="35.74" height="1.3" fill="#daf2fa"/>
<rect x="385.58" y="156.8" width="35.74" height="1.3" fill="#ceeef9"/>
<rect x="385.58" y="157.8" width="35.74" height="1.3" fill="#b7e5f6"/>
<rect x="385.58" y="158.8" width="35.74" height="1.3" fill="#d8f1fa"/>
<rect x="385.58" y="159.8" width="35.74" height="1.3" fill="#bee8f7"/>
<rect x="385.58" y="160.8" width="35.74" height="1.3" fill="#c8ebf8"/>
<rect x="385.58" y="161.8" width="35.74" height="1.3" fill="#cbecf8"/>
<rect x="385.58" y="162.8" width="35.74" height="1.3" fill="#bae7f6"/>
<rect x="385.58" y="163.8" width="35.74" height="1.3" fill="#c8ecf8"/>
<rect x="385.58" y="164.8" width="35.74" height="1.3" fill="#b7e6f6"/>
<rect x="385.58" y="165.8" width="35.74" height="1.3" fill="#bde7f7"/>
<rect x="385.58" y="166.8" width="35.74" height="1.3" fill="#d8f1fa"/>
<rect x="385.58" y="167.8" width="35.74" height="1.3" fill="#d5f0fa"/>
<rect x="385.58" y="168.8" width="35.74" height="1.3" fill="#c9ecf8"/>
<rect x="385.58" y="169.8" width="35.74" height="1.3" fill="#cfeef9"/>
<rect x="385.58" y="170.8" width="35.74" height="0.5" fill="#d7f1fa"/>
<rect x="385.58" y="171" width="35.74" height="1.3" fill="#f9e2e3"/>
<rect x="385.58" y="172" width="35.74" height="1.3" fill="#f6d3d5"/>
<rect x="385.58" y="173" width="35.74" height="1.3" fill="#f9e2e3"/>
<rect x="385.58" y="174" width="35.74" height="1.3" fill="#f9e3e4"/>
<rect x="385.58" y="175" width="35.74" height="1.3" fill="#f9e3e4"/>
<rect x="385.58" y="176" width="35.74" height="1.3" fill="#f8dfe0"/>
<rect x="385.58" y="177" width="35.74" height="1.1" fill="#fae5e6"/>
<rect x="385.58" y="177.8" width="35.74" height="1.3" fill="#eca4a7"/>
<rect x="385.58" y="178.8" width="35.74" height="1.3" fill="#eb9da0"/>
<rect x="385.58" y="179.8" width="35.74" height="1.3" fill="#e99397"/>
<rect x="385.58" y="180.8" width="35.74" height="1.3" fill="#e78a8d"/>
<rect x="385.58" y="181.8" width="35.74" height="1.3" fill="#e7888c"/>
<rect x="385.58" y="182.8" width="35.74" height="1.3" fill="#e88f93"/>
<rect x="385.58" y="183.8" width="35.74" height="1.3" fill="#ea989b"/>
<rect x="385.58" y="184.8" width="35.74" height="1.3" fill="#e6878b"/>
<rect x="385.58" y="185.8" width="35.74" height="1.3" fill="#eda6a9"/>
<rect x="385.58" y="186.8" width="35.74" height="1.3" fill="#eda9ab"/>
<rect x="385.58" y="187.8" width="35.74" height="1.3" fill="#e78b8f"/>
<rect x="385.58" y="188.8" width="35.74" height="1.3" fill="#e99397"/>
<rect x="385.58" y="189.8" width="35.74" height="1.3" fill="#eca4a7"/>
<rect x="385.58" y="190.8" width="35.74" height="1.1" fill="#eb9da0"/>
<rect x="421.32" y="9" width="35.74" height="1.3" fill="#dd575d"/>
<rect x="421.32" y="10" width="35.74" height="1.3" fill="#dc5257"/>
<rect x="421.32" y="11" width="35.74" height="1.3" fill="#dc5257"/>
<rect x="421.32" y="12" width="35.74" height="1.3" fill="#dc5359"/>
<rect x="421.32" y="13" width="35.74" height="1.3" fill="#d84349"/>
<rect x="421.32" y="14" width="35.74" height="1.3" fill="#d84248"/>
<rect x="421.32" y="15" width="35.74" height="1.3" fill="#da4c52"/>
<rect x="421.32" y="16" width="35.74" height="1.3" fill="#db5056"/>
<rect x="421.32" y="17" width="35.74" height="1.3" fill="#dd585d"/>
<rect x="421.32" y="18" width="35.74" height="1.3" fill="#d9444a"/>
<rect x="421.32" y="19" width="35.74" height="1.3" fill="#d73b41"/>
<rect x="421.32" y="20" width="35.74" height="1.3" fill="#eca3a6"/>
<rect x="421.32" y="21" width="35.74" height="1.3" fill="#e89094"/>
<rect x="421.32" y="22" width="35.74" height="0.6" fill="#e89094"/>
<rect x="421.32" y="22.3" width="35.74" height="1.3" fill="#fef9f9"/>
<rect x="421.32" y="23.3" width="35.74" height="1.3" fill="#edf9fd"/>
<rect x="421.32" y="24.3" width="35.74" height="1.2" fill="#fffdfd"/>
<rect x="421.32" y="25.2" width="35.74" height="1.3" fill="#f9dfe0"/>
<rect x="421.32" y="26.2" width="35.74" height="1.3" fill="#f9e0e1"/>
<rect x="421.32" y="27.2" width="35.74" height="1.3" fill="#f5d0d1"/>
<rect x="421.32" y="28.2" width="35.74" height="1.1" fill="#f5cdcf"/>
<rect x="421.32" y="29" width="35.74" height="1.3" fill="#bfe8f7"/>
<rect x="421.32" y="30" width="35.74" height="1.3" fill="#c4eaf7"/>
<rect x="421.32" y="31" width="35.74" height="1.3" fill="#c2e9f7"/>
<rect x="421.32" y="32" width="35.74" height="1.3" fill="#bae6f6"/>
<rect x="421.32" y="33" width="35.74" height="1.3" fill="#a9e1f4"/>
<rect x="421.32" y="34" width="35.74" height="1.3" fill="#c5eaf8"/>
<rect x="421.32" y="35" width="35.74" height="1.3" fill="#c7ebf8"/>
<rect x="421.32" y="36" width="35.74" height="1.1" fill="#c7ebf8"/>
<rect x="421.32" y="36.8" width="35.74" height="1.3" fill="#daf2fa"/>
<rect x="421.32" y="37.8" width="35.74" height="1.3" fill="#c4eaf8"/>
<rect x="421.32" y="38.8" width="35.74" height="1.3" fill="#caecf8"/>
<rect x="421.32" y="39.8" width="35.74" height="1.3" fill="#c7ebf8"/>
<rect x="421.32" y="40.8" width="35.74" height="1.3" fill="#dbf2fa"/>
<rect x="421.32" y="41.8" width="35.74" height="1.3" fill="#d8f1fa"/>
<rect x="421.32" y="42.8" width="35.74" height="1.3" fill="#caecf8"/>
<rect x="421.32" y="43.8" width="35.74" height="1" fill="#e7f7fc"/>
<rect x="421.32" y="44.5" width="35.74" height="1.3" fill="#cdedf9"/>
<rect x="421.32" y="45.5" width="35.74" height="1.3" fill="#caecf8"/>
<rect x="421.32" y="46.5" width="35.74" height="1.1" fill="#b9e6f6"/>
<rect x="421.32" y="47.3" width="35.74" height="1.3" fill="#f2bec0"/>
<rect x="421.32" y="48.3" width="35.74" height="1.3" fill="#f2c2c4"/>
<rect x="421.32" y="49.3" width="35.74" height="1.3" fill="#eda8ab"/>
<rect x="421.32" y="50.3" width="35.74" height="1.2" fill="#eeadb0"/>
<rect x="421.32" y="51.2" width="35.74" height="1.3" fill="#f5cdcf"/>
<rect x="421.32" y="52.2" width="35.74" height="1.3" fill="#f0b4b6"/>
<rect x="421.32" y="53.2" width="35.74" height="1.3" fill="#f2c2c3"/>
<rect x="421.32" y="54.2" width="35.74" height="1.3" fill="#f4c8ca"/>
<rect x="421.32" y="55.2" width="35.74" height="1.1" fill="#f4c8ca"/>
<rect x="421.32" y="56" width="35.74" height="1.3" fill="#eeadaf"/>
<rect x="421.32" y="57" width="35.74" height="1.3" fill="#f0b7ba"/>
<rect x="421.32" y="58" width="35.74" height="1.3" fill="#efafb2"/>
<rect x="421.32" y="59" width="35.74" height="1.3" fill="#f3c5c7"/>
<rect x="421.32" y="60" width="35.74" height="1.3" fill="#eeadb0"/>
<rect x="421.32" y="61" width="35.74" height="1.1" fill="#f2bfc1"/>
<rect x="421.32" y="61.8" width="35.74" height="1.3" fill="#caecf8"/>
<rect x="421.32" y="62.8" width="35.74" height="1.3" fill="#b0e3f5"/>
<rect x="421.32" y="63.8" width="35.74" height="1.3" fill="#b4e4f5"/>
<rect x="421.32" y="64.8" width="35.74" height="1.3" fill="#bce7f6"/>
<rect x="421.32" y="65.8" width="35.74" height="1.3" fill="#b6e5f6"/>
<rect x="421.32" y="66.8" width="35.74" height="1.3" fill="#bce7f6"/>
<rect x="421.32" y="67.8" width="35.74" height="1.3" fill="#cbecf8"/>
<rect x="421.32" y="68.8" width="35.74" height="1.3" fill="#afe3f5"/>
<rect x="421.32" y="69.8" width="35.74" height="1.3" fill="#c5eaf8"/>
<rect x="421.32" y="70.8" width="35.74" height="1.3" fill="#c2e9f7"/>
<rect x="421.32" y="71.8" width="35.74" height="1.3" fill="#c6ebf8"/>
<rect x="421.32" y="72.8" width="35.74" height="1.3" fill="#b9e6f6"/>
<rect x="421.32" y="73.8" width="35.74" height="1.3" fill="#b9e6f6"/>
<rect x="421.32" y="74.8" width="35.74" height="1.3" fill="#b5e5f6"/>
<rect x="421.32" y="75.8" width="35.74" height="1.3" fill="#bae6f6"/>
<rect x="421.32" y="76.8" width="35.74" height="1.3" fill="#b1e3f5"/>
<rect x="421.32" y="77.8" width="35.74" height="1.3" fill="#afe2f5"/>
<rect x="421.32" y="78.8" width="35.74" height="1.3" fill="#bae6f6"/>
<rect x="421.32" y="79.8" width="35.74" height="1.3" fill="#afe3f5"/>
<rect x="421.32" y="80.8" width="35.74" height="1.3" fill="#b9e6f6"/>
<rect x="421.32" y="81.8" width="35.74" height="1.3" fill="#bde8f7"/>
<rect x="421.32" y="82.8" width="35.74" height="1.3" fill="#b3e4f5"/>
<rect x="421.32" y="83.8" width="35.74" height="1.3" fill="#aee2f5"/>
<rect x="421.32" y="84.8" width="35.74" height="1.3" fill="#bfe8f7"/>
<rect x="421.32" y="85.8" width="35.74" height="1.3" fill="#c8ecf8"/>
<rect x="421.32" y="86.8" width="35.74" height="1.3" fill="#b0e3f5"/>
<rect x="421.32" y="87.8" width="35.74" height="1.3" fill="#bfe8f7"/>
<rect x="421.32" y="88.8" width="35.74" height="1.3" fill="#c1e9f7"/>
<rect x="421.32" y="89.8" width="35.74" height="1.3" fill="#c9ecf8"/>
<rect x="421.32" y="90.8" width="35.74" height="1.3" fill="#c2e9f7"/>
<rect x="421.32" y="91.8" width="35.74" height="1.3" fill="#b3e4f5"/>
<rect x="421.32" y="92.8" width="35.74" height="1.3" fill="#afe3f5"/>
<rect x="421.32" y="93.8" width="35.74" height="1.3" fill="#c8ebf8"/>
<rect x="421.32" y="94.8" width="35.74" height="1.3" fill="#b3e4f5"/>
<rect x="421.32" y="95.8" width="35.74" height="1.3" fill="#a8e0f4"/>
<rect x="421.32" y="96.8" width="35.74" height="1.2" fill="#c9ecf8"/>
<rect x="421.32" y="97.7" width="35.74" height="1.3" fill="#f3fbfe"/>
<rect x="421.32" y="98.7" width="35.74" height="1.3" fill="#f8fcfe"/>
<rect x="421.32" y="99.7" width="35.74" height="1.1" fill="#f8fdfe"/>
<rect x="421.32" y="100.5" width="35.74" height="1.3" fill="#bfe8f7"/>
<rect x="421.32" y="101.5" width="35.74" height="1.3" fill="#d1eff9"/>
<rect x="421.32" y="102.5" width="35.74" height="1.3" fill="#c2e9f7"/>
<rect x="421.32" y="103.5" width="35.74" height="1.3" fill="#c6ebf8"/>
<rect x="421.32" y="104.5" width="35.74" height="1.3" fill="#c5eaf8"/>
<rect x="421.32" y="105.5" width="35.74" height="1.3" fill="#d5f0fa"/>
<rect x="421.32" y="106.5" width="35.74" height="1.3" fill="#b6e5f6"/>
<rect x="421.32" y="107.5" width="35.74" height="1.3" fill="#cbedf8"/>
<rect x="421.32" y="108.5" width="35.74" height="1" fill="#bae7f6"/>
<rect x="421.32" y="109.2" width="35.74" height="1.3" fill="#e7898d"/>
<rect x="421.32" y="110.2" width="35.74" height="1.1" fill="#e3777b"/>
<rect x="421.32" y="111" width="35.74" height="1.3" fill="#fae7e8"/>
<rect x="421.32" y="112" width="35.74" height="1.3" fill="#fdf4f4"/>
<rect x="421.32" y="113" width="35.74" height="1.3" fill="#f8dedf"/>
<rect x="421.32" y="114" width="35.74" height="1.3" fill="#caecf8"/>
<rect x="421.32" y="115" width="35.74" height="1.3" fill="#c0e9f7"/>
<rect x="421.32" y="116" width="35.74" height="1.3" fill="#bae7f6"/>
<rect x="421.32" y="117" width="35.74" height="1.3" fill="#c6ebf8"/>
<rect x="421.32" y="118" width="35.74" height="1.3" fill="#cbecf8"/>
<rect x="421.32" y="119" width="35.74" height="1.3" fill="#ade2f5"/>
<rect x="421.32" y="120" width="35.74" height="1.3" fill="#b3e4f5"/>
<rect x="421.32" y="121" width="35.74" height="1.3" fill="#ccedf9"/>
<rect x="421.32" y="122" width="35.74" height="1.3" fill="#cbecf8"/>
<rect x="421.32" y="123" width="35.74" height="1.3" fill="#afe3f5"/>
<rect x="421.32" y="124" width="35.74" height="1.3" fill="#c2e9f7"/>
<rect x="421.32" y="125" width="35.74" height="1.1" fill="#c9ecf8"/>
<rect x="421.32" y="125.8" width="35.74" height="1.3" fill="#fefbfb"/>
<rect x="421.32" y="126.8" width="35.74" height="1.3" fill="#fdf7f7"/>
<rect x="421.32" y="127.8" width="35.74" height="1.2" fill="#fffefe"/>
<rect x="421.32" y="128.7" width="35.74" height="1.3" fill="#fbeded"/>
<rect x="421.32" y="129.7" width="35.74" height="1.3" fill="#fbedee"/>
<rect x="421.32" y="130.7" width="35.74" height="1.3" fill="#fdf4f4"/>
<rect x="421.32" y="131.7" width="35.74" height="1.3" fill="#f8dbdc"/>
<rect x="421.32" y="132.7" width="35.74" height="1.1" fill="#fcf1f1"/>
<rect x="421.32" y="133.5" width="35.74" height="1.3" fill="#a4dff3"/>
<rect x="421.32" y="134.5" width="35.74" height="1.3" fill="#9bdbf2"/>
<rect x="421.32" y="135.5" width="35.74" height="1.3" fill="#9ddcf3"/>
<rect x="421.32" y="136.5" width="35.74" height="1.3" fill="#b1e3f5"/>
<rect x="421.32" y="137.5" width="35.74" height="1.3" fill="#9bdcf2"/>
<rect x="421.32" y="138.5" width="35.74" height="1.3" fill="#9eddf3"/>
<rect x="421.32" y="139.5" width="35.74" height="1.3" fill="#9bdbf2"/>
<rect x="421.32" y="140.5" width="35.74" height="1.3" fill="#94d9f1"/>
<rect x="421.32" y="141.5" width="35.74" height="1.3" fill="#95d9f1"/>
<rect x="421.32" y="142.5" width="35.74" height="1.3" fill="#a0ddf3"/>
<rect x="421.32" y="143.5" width="35.74" height="1.3" fill="#abe1f4"/>
<rect x="421.32" y="144.5" width="35.74" height="1.3" fill="#90d7f1"/>
<rect x="421.32" y="145.5" width="35.74" height="1.3" fill="#b0e3f5"/>
<rect x="421.32" y="146.5" width="35.74" height="1.3" fill="#a6dff4"/>
<rect x="421.32" y="147.5" width="35.74" height="1.3" fill="#8ed7f1"/>
<rect x="421.32" y="148.5" width="35.74" height="1.3" fill="#a7e0f4"/>
<rect x="421.32" y="149.5" width="35.74" height="1.3" fill="#9bdcf2"/>
<rect x="421.32" y="150.5" width="35.74" height="0.6" fill="#a0ddf3"/>
<rect x="421.32" y="150.8" width="35.74" height="1.3" fill="#b9e6f6"/>
<rect x="421.32" y="151.8" width="35.74" height="1.3" fill="#c9ecf8"/>
<rect x="421.32" y="152.8" width="35.74" height="1.3" fill="#c9ecf8"/>
<rect x="421.32" y="153.8" width="35.74" height="1.3" fill="#d3eff9"/>
<rect x="421.32" y="154.8" width="35.74" height="1.3" fill="#cbedf8"/>
<rect x="421.32" y="155.8" width="35.74" height="1.3" fill="#d0eef9"/>
<rect x="421.32" y="156.8" width="35.74" height="1.3" fill="#d1eff9"/>
<rect x="421.32" y="157.8" width="35.74" height="1.3" fill="#bee8f7"/>
<rect x="421.32" y="158.8" width="35.74" height="1.3" fill="#b6e5f6"/>
<rect x="421.32" y="159.8" width="35.74" height="1.3" fill="#c7ebf8"/>
<rect x="421.32" y="160.8" width="35.74" height="1.3" fill="#bae7f6"/>
<rect x="421.32" y="161.8" width="35.74" height="1.3" fill="#bbe7f6"/>
<rect x="421.32" y="162.8" width="35.74" height="1.3" fill="#c1e9f7"/>
<rect x="421.32" y="163.8" width="35.74" height="1.3" fill="#caecf8"/>
<rect x="421.32" y="164.8" width="35.74" height="1.3" fill="#cdedf9"/>
<rect x="421.32" y="165.8" width="35.74" height="1.3" fill="#ceeef9"/>
<rect x="421.32" y="166.8" width="35.74" height="1.3" fill="#d9f2fa"/>
<rect x="421.32" y="167.8" width="35.74" height="1.3" fill="#b9e6f6"/>
<rect x="421.32" y="168.8" width="35.74" height="0.5" fill="#caecf8"/>
<rect x="421.32" y="169" width="35.74" height="1.3" fill="#eff9fd"/>
<rect x="421.32" y="170" width="35.74" height="1.3" fill="#fef8f8"/>
<rect x="421.32" y="171" width="35.74" height="1.3" fill="#fdfeff"/>
<rect x="421.32" y="172" width="35.74" height="1.3" fill="#f3c4c6"/>
<rect x="421.32" y="173" width="35.74" height="1.3" fill="#f2bdc0"/>
<rect x="421.32" y="174" width="35.74" height="1.3" fill="#efafb2"/>
<rect x="421.32" y="175" width="35.74" height="1.3" fill="#e16d72"/>
<rect x="421.32" y="176" width="35.74" height="1.3" fill="#dd5a5f"/>
<rect x="421.32" y="177" width="35.74" height="1.3" fill="#e27277"/>
<rect x="421.32" y="178" width="35.74" height="1.3" fill="#e27377"/>
<rect x="421.32" y="179" width="35.74" height="1.3" fill="#dd5b60"/>
<rect x="421.32" y="180" width="35.74" height="1.3" fill="#e0686d"/>
<rect x="421.32" y="181" width="35.74" height="1.3" fill="#e47c81"/>
<rect x="421.32" y="182" width="35.74" height="1.3" fill="#df6166"/>
<rect x="421.32" y="183" width="35.74" height="1.3" fill="#e27276"/>
<rect x="421.32" y="184" width="35.74" height="1.3" fill="#dd5a5f"/>
<rect x="421.32" y="185" width="35.74" height="1.3" fill="#e0676c"/>
<rect x="421.32" y="186" width="35.74" height="1.3" fill="#de6065"/>
<rect x="421.32" y="187" width="35.74" height="1.3" fill="#de5c61"/>
<rect x="421.32" y="188" width="35.74" height="0.6" fill="#e16c71"/>
<rect x="421.32" y="188.3" width="35.74" height="1.3" fill="#f6fcfe"/>
<rect x="421.32" y="189.3" width="35.74" height="1.3" fill="#d1eff9"/>
<rect x="421.32" y="190.3" width="35.74" height="1.3" fill="#def3fb"/>
<rect x="421.32" y="191.3" width="35.74" height="0.6" fill="#f1fafd"/>
<rect x="457.06" y="9" width="35.74" height="1.3" fill="#eb9ea1"/>
<rect x="457.06" y="10" width="35.74" height="1.1" fill="#e68387"/>
<rect x="457.06" y="10.8" width="35.74" height="1.3" fill="#e9f7fc"/>
<rect x="457.06" y="11.8" width="35.74" height="1.3" fill="#def3fb"/>
<rect x="457.06" y="12.8" width="35.74" height="1.3" fill="#e4f5fc"/>
<rect x="457.06" y="13.8" width="35.74" height="1.3" fill="#c6ebf8"/>
<rect x="457.06" y="14.8" width="35.74" height="1.3" fill="#d8f1fa"/>
<rect x="457.06" y="15.8" width="35.74" height="1.3" fill="#daf2fa"/>
<rect x="457.06" y="16.8" width="35.74" height="1.3" fill="#d3f0f9"/>
<rect x="457.06" y="17.8" width="35.74" height="1.3" fill="#d3eff9"/>
<rect x="457.06" y="18.8" width="35.74" height="1.3" fill="#e1f4fb"/>
<rect x="457.06" y="19.8" width="35.74" height="0.9" fill="#c9ecf8"/>
<rect x="457.06" y="20.4" width="35.74" height="1.3" fill="#f4c8ca"/>
<rect x="457.06" y="21.4" width="35.74" height="1.2" fill="#efb2b4"/>
<rect x="457.06" y="22.3" width="35.74" height="1.3" fill="#bfe8f7"/>
<rect x="457.06" y="23.3" width="35.74" height="1.3" fill="#b9e6f6"/>
<rect x="457.06" y="24.3" width="35.74" height="1.3" fill="#b4e4f5"/>
<rect x="457.06" y="25.3" width="35.74" height="1.3" fill="#a5dff4"/>
<rect x="457.06" y="26.3" width="35.74" height="1.3" fill="#bce7f7"/>
<rect x="457.06" y="27.3" width="35.74" height="1.3" fill="#9bdcf2"/>
<rect x="457.06" y="28.3" width="35.74" height="1.3" fill="#a3def3"/>
<rect x="457.06" y="29.3" width="35.74" height="1.3" fill="#b8e6f6"/>
<rect x="457.06" y="30.3" width="35.74" height="1" fill="#bce7f6"/>
<rect x="457.06" y="31" width="35.74" height="1.3" fill="#fae6e6"/>
<rect x="457.06" y="32" width="35.74" height="1.3" fill="#f6d1d2"/>
<rect x="457.06" y="33" width="35.74" height="1.3" fill="#fcf2f2"/>
<rect x="457.06" y="34" width="35.74" height="1.3" fill="#f8dedf"/>
<rect x="457.06" y="35" width="35.74" height="1.3" fill="#fdf3f4"/>
<rect x="457.06" y="36" width="35.74" height="1.1" fill="#fbeded"/>
<rect x="457.06" y="36.8" width="35.74" height="1.3" fill="#caecf8"/>
<rect x="457.06" y="37.8" width="35.74" height="1.3" fill="#c3eaf7"/>
<rect x="457.06" y="38.8" width="35.74" height="1.3" fill="#d2eff9"/>
<rect x="457.06" y="39.8" width="35.74" height="1.3" fill="#d6f0fa"/>
<rect x="457.06" y="40.8" width="35.74" height="1.3" fill="#ceedf9"/>
<rect x="457.06" y="41.8" width="35.74" height="1.3" fill="#dcf2fb"/>
<rect x="457.06" y="42.8" width="35.74" height="1.3" fill="#c5eaf8"/>
<rect x="457.06" y="43.8" width="35.74" height="1" fill="#d7f1fa"/>
<rect x="457.06" y="44.5" width="35.74" height="1.3" fill="#aee2f5"/>
<rect x="457.06" y="45.5" width="35.74" height="1.3" fill="#a9e1f4"/>
<rect x="457.06" y="46.5" width="35.74" height="1.3" fill="#bde7f7"/>
<rect x="457.06" y="47.5" width="35.74" height="1.3" fill="#9fddf3"/>
<rect x="457.06" y="48.5" width="35.74" height="1.3" fill="#aae1f4"/>
<rect x="457.06" y="49.5" width="35.74" height="1.3" fill="#abe1f4"/>
<rect x="457.06" y="50.5" width="35.74" height="1.3" fill="#a8e0f4"/>
<rect x="457.06" y="51.5" width="35.74" height="1.3" fill="#bfe8f7"/>
<rect x="457.06" y="52.5" width="35.74" height="1.3" fill="#b0e3f5"/>
<rect x="457.06" y="53.5" width="35.74" height="0.8" fill="#aee2f5"/>
<rect x="457.06" y="54" width="35.74" height="1.3" fill="#e57d82"/>
<rect x="457.06" y="55" width="35.74" height="1.3" fill="#e57e82"/>
<rect x="457.06" y="56" width="35.74" height="1.3" fill="#e0686d"/>
<rect x="457.06" y="57" width="35.74" height="1.3" fill="#f3c7c9"/>
<rect x="457.06" y="58" width="35.74" height="1.3" fill="#f5cdcf"/>
<rect x="457.06" y="59" width="35.74" height="1.3" fill="#f9e1e2"/>
<rect x="457.06" y="60" width="35.74" height="1.3" fill="#f5cfd1"/>
<rect x="457.06" y="61" width="35.74" height="1.1" fill="#f9e2e3"/>
<rect x="457.06" y="61.8" width="35.74" height="1.3" fill="#e89093"/>
<rect x="457.06" y="62.8" width="35.74" height="1.3" fill="#eb9da0"/>
<rect x="457.06" y="63.8" width="35.74" height="1.3" fill="#e58185"/>
<rect x="457.06" y="64.8" width="35.74" height="1.3" fill="#e3767a"/>
<rect x="457.06" y="65.8" width="35.74" height="1.3" fill="#e68488"/>
<rect x="457.06" y="66.8" width="35.74" height="1.3" fill="#e6878b"/>
<rect x="457.06" y="67.8" width="35.74" height="1.3" fill="#f5cfd0"/>
<rect x="457.06" y="68.8" width="35.74" height="1.3" fill="#f3c7c8"/>
<rect x="457.06" y="69.8" width="35.74" height="1.3" fill="#f3c6c8"/>
<rect x="457.06" y="70.8" width="35.74" height="1.3" fill="#f4c7c9"/>
<rect x="457.06" y="71.8" width="35.74" height="1.3" fill="#f5cecf"/>
<rect x="457.06" y="72.8" width="35.74" height="1.1" fill="#f5d0d1"/>
<rect x="457.06" y="73.6" width="35.74" height="1.3" fill="#feffff"/>
<rect x="457.06" y="74.6" width="35.74" height="1.3" fill="#fef8f8"/>
<rect x="457.06" y="75.6" width="35.74" height="1.3" fill="#fffefe"/>
<rect x="457.06" y="76.6" width="35.74" height="1.3" fill="#f9fdfe"/>
<rect x="457.06" y="77.6" width="35.74" height="1.3" fill="#e2f5fb"/>
<rect x="457.06" y="78.6" width="35.74" height="1.3" fill="#ecf8fd"/>
<rect x="457.06" y="79.6" width="35.74" height="1.3" fill="#fffdfd"/>
<rect x="457.06" y="80.6" width="35.74" height="1.3" fill="#fdf7f8"/>
<rect x="457.06" y="81.6" width="35.74" height="1.3" fill="#f6fcfe"/>
<rect x="457.06" y="82.6" width="35.74" height="1.3" fill="#f7fcfe"/>
<rect x="457.06" y="83.6" width="35.74" height="1.3" fill="#fbfeff"/>
<rect x="457.06" y="84.6" width="35.74" height="1.3" fill="#eaf8fc"/>
<rect x="457.06" y="85.6" width="35.74" height="1.3" fill="#fcfeff"/>
<rect x="457.06" y="86.6" width="35.74" height="1.3" fill="#eff9fd"/>
<rect x="457.06" y="87.6" width="35.74" height="1.3" fill="#fefcfd"/>
<rect x="457.06" y="88.6" width="35.74" height="1.3" fill="#f3fbfd"/>
<rect x="457.06" y="89.6" width="35.74" height="1.3" fill="#fafdfe"/>
<rect x="457.06" y="90.6" width="35.74" height="0.7" fill="#f6fcfe"/>
<rect x="457.06" y="91" width="35.74" height="1.3" fill="#fae8e8"/>
<rect x="457.06" y="92" width="35.74" height="1.3" fill="#fbebeb"/>
<rect x="457.06" y="93" width="35.74" height="1.3" fill="#f7d6d8"/>
<rect x="457.06" y="94" width="35.74" height="1.3" fill="#f8dfe0"/>
<rect x="457.06" y="95" width="35.74" height="1.3" fill="#fbeced"/>
<rect x="457.06" y="96" width="35.74" height="1.3" fill="#fae9e9"/>
<rect x="457.06" y="97" width="35.74" height="1.3" fill="#f7d9da"/>
<rect x="457.06" y="98" width="35.74" height="1.3" fill="#f8dfe0"/>
<rect x="457.06" y="99" width="35.74" height="0.9" fill="#f9e3e4"/>
<rect x="457.06" y="99.6" width="35.74" height="1.3" fill="#d73c42"/>
<rect x="457.06" y="100.6" width="35.74" height="1.3" fill="#de5f64"/>
<rect x="457.06" y="101.6" width="35.74" height="1.3" fill="#da4b51"/>
<rect x="457.06" y="102.6" width="35.74" height="1.3" fill="#da4a50"/>
<rect x="457.06" y="103.6" width="35.74" height="1.3" fill="#db5156"/>
<rect x="457.06" y="104.6" width="35.74" height="1.3" fill="#d73c42"/>
<rect x="457.06" y="105.6" width="35.74" height="1.3" fill="#d73c42"/>
<rect x="457.06" y="106.6" width="35.74" height="1" fill="#dc5359"/>
<rect x="457.06" y="107.3" width="35.74" height="1.3" fill="#efb1b3"/>
<rect x="457.06" y="108.3" width="35.74" height="1.3" fill="#eeabad"/>
<rect x="457.06" y="109.3" width="35.74" height="1" fill="#eeaeb0"/>
<rect x="457.06" y="110" width="35.74" height="1.3" fill="#bce7f7"/>
<rect x="457.06" y="111" width="35.74" height="1.3" fill="#cdedf9"/>
<rect x="457.06" y="112" width="35.74" height="1.3" fill="#bce7f6"/>
<rect x="457.06" y="113" width="35.74" height="1.3" fill="#b4e4f5"/>
<rect x="457.06" y="114" width="35.74" height="1.3" fill="#c8ebf8"/>
<rect x="457.06" y="115" width="35.74" height="1.3" fill="#c7ebf8"/>
<rect x="457.06" y="116" width="35.74" height="1.3" fill="#bee8f7"/>
<rect x="457.06" y="117" width="35.74" height="1.3" fill="#c1e9f7"/>
<rect x="457.06" y="118" width="35.74" height="1.3" fill="#d4f0fa"/>
<rect x="457.06" y="119" width="35.74" height="1.3" fill="#cdedf9"/>
<rect x="457.06" y="120" width="35.74" height="1.3" fill="#bee8f7"/>
<rect x="457.06" y="121" width="35.74" height="1.3" fill="#d1eff9"/>
<rect x="457.06" y="122" width="35.74" height="1.3" fill="#94d9f1"/>
<rect x="457.06" y="123" width="35.74" height="1.3" fill="#8ed7f1"/>
<rect x="457.06" y="124" width="35.74" height="1.3" fill="#97daf2"/>
<rect x="457.06" y="125" width="35.74" height="1.3" fill="#9cdcf2"/>
<rect x="457.06" y="126" width="35.74" height="1.3" fill="#a1def3"/>
<rect x="457.06" y="127" width="35.74" height="1.3" fill="#98daf2"/>
<rect x="457.06" y="128" width="35.74" height="1.3" fill="#98daf2"/>
<rect x="457.06" y="129" width="35.74" height="1.3" fill="#8ed7f1"/>
<rect x="457.06" y="130" width="35.74" height="1.3" fill="#80d2ef"/>
<rect x="457.06" y="131" width="35.74" height="1.3" fill="#90d8f1"/>
<rect x="457.06" y="132" width="35.74" height="1.3" fill="#83d3ef"/>
<rect x="457.06" y="133" width="35.74" height="0.8" fill="#a3def3"/>
<rect x="457.06" y="133.5" width="35.74" height="1.3" fill="#c3eaf7"/>
<rect x="457.06" y="134.5" width="35.74" height="1.3" fill="#ccedf9"/>
<rect x="457.06" y="135.5" width="35.74" height="1.3" fill="#d1eff9"/>
<rect x="457.06" y="136.5" width="35.74" height="1.3" fill="#bce7f6"/>
<rect x="457.06" y="137.5" width="35.74" height="1.3" fill="#d5f0fa"/>
<rect x="457.06" y="138.5" width="35.74" height="1.3" fill="#c2e9f7"/>
<rect x="457.06" y="139.5" width="35.74" height="1.3" fill="#b8e6f6"/>
<rect x="457.06" y="140.5" width="35.74" height="1.3" fill="#ccedf9"/>
<rect x="457.06" y="141.5" width="35.74" height="1.3" fill="#c5eaf8"/>
<rect x="457.06" y="142.5" width="35.74" height="1.3" fill="#d8f1fa"/>
<rect x="457.06" y="143.5" width="35.74" height="1.3" fill="#c6ebf8"/>
<rect x="457.06" y="144.5" width="35.74" height="1.3" fill="#b9e6f6"/>
<rect x="457.06" y="145.5" width="35.74" height="1.3" fill="#b6e5f6"/>
<rect x="457.06" y="146.5" width="35.74" height="0.8" fill="#b6e5f6"/>
<rect x="457.06" y="147" width="35.74" height="1.3" fill="#84d3ef"/>
<rect x="457.06" y="148" width="35.74" height="1.3" fill="#8cd6f0"/>
<rect x="457.06" y="149" width="35.74" height="1.3" fill="#73cded"/>
<rect x="457.06" y="150" width="35.74" height="1.3" fill="#7dd1ef"/>
<rect x="457.06" y="151" width="35.74" height="1.3" fill="#83d3ef"/>
<rect x="457.06" y="152" width="35.74" height="1.1" fill="#93d9f1"/>
<rect x="457.06" y="152.8" width="35.74" height="1.3" fill="#f6fcfe"/>
<rect x="457.06" y="153.8" width="35.74" height="1.3" fill="#f2fafd"/>
<rect x="457.06" y="154.8" width="35.74" height="1.3" fill="#e9f7fc"/>
<rect x="457.06" y="155.8" width="35.74" height="1.3" fill="#e7f6fc"/>
<rect x="457.06" y="156.8" width="35.74" height="1.3" fill="#d9f2fa"/>
<rect x="457.06" y="157.8" width="35.74" height="1.3" fill="#e8f7fc"/>
<rect x="457.06" y="158.8" width="35.74" height="1.3" fill="#d7f1fa"/>
<rect x="457.06" y="159.8" width="35.74" height="1.3" fill="#dcf3fb"/>
<rect x="457.06" y="160.8" width="35.74" height="1.3" fill="#f0fafd"/>
<rect x="457.06" y="161.8" width="35.74" height="1.3" fill="#e6f6fc"/>
<rect x="457.06" y="162.8" width="35.74" height="1.3" fill="#ecf8fd"/>
<rect x="457.06" y="163.8" width="35.74" height="1.3" fill="#e2f5fb"/>
<rect x="457.06" y="164.8" width="35.74" height="1.3" fill="#dbf2fa"/>
<rect x="457.06" y="165.8" width="35.74" height="0.7" fill="#e4f5fc"/>
<rect x="457.06" y="166.2" width="35.74" height="1.3" fill="#79cfee"/>
<rect x="457.06" y="167.2" width="35.74" height="1.3" fill="#6ccbec"/>
<rect x="457.06" y="168.2" width="35.74" height="1.3" fill="#83d3ef"/>
<rect x="457.06" y="169.2" width="35.74" height="1.3" fill="#89d5f0"/>
<rect x="457.06" y="170.2" width="35.74" height="1.3" fill="#6acaec"/>
<rect x="457.06" y="171.2" width="35.74" height="1.3" fill="#6ccbec"/>
<rect x="457.06" y="172.2" width="35.74" height="1.3" fill="#82d3ef"/>
<rect x="457.06" y="173.2" width="35.74" height="1.3" fill="#7fd1ef"/>
<rect x="457.06" y="174.2" width="35.74" height="1.3" fill="#6ccbec"/>
<rect x="457.06" y="175.2" width="35.74" height="0.9" fill="#79d0ee"/>
<rect x="457.06" y="175.8" width="35.74" height="1.3" fill="#95d9f2"/>
<rect x="457.06" y="176.8" width="35.74" height="1.3" fill="#ade2f5"/>
<rect x="457.06" y="177.8" width="35.74" height="1.3" fill="#a3def3"/>
<rect x="457.06" y="178.8" width="35.74" height="1.3" fill="#a0ddf3"/>
<rect x="457.06" y="179.8" width="35.74" height="1.3" fill="#92d8f1"/>
<rect x="457.06" y="180.8" width="35.74" height="1.3" fill="#9cdcf2"/>
<rect x="457.06" y="181.8" width="35.74" height="1.3" fill="#9eddf3"/>
<rect x="457.06" y="182.8" width="35.74" height="1.3" fill="#9adbf2"/>
<rect x="457.06" y="183.8" width="35.74" height="1.3" fill="#93d9f1"/>
<rect x="457.06" y="184.8" width="35.74" height="1.3" fill="#94d9f1"/>
<rect x="457.06" y="185.8" width="35.74" height="1.3" fill="#a7e0f4"/>
<rect x="457.06" y="186.8" width="35.74" height="1.3" fill="#b0e3f5"/>
<rect x="457.06" y="187.8" width="35.74" height="1.3" fill="#ace2f4"/>
<rect x="457.06" y="188.8" width="35.74" height="1.3" fill="#a4dff3"/>
<rect x="457.06" y="189.8" width="35.74" height="1.3" fill="#aae1f4"/>
<rect x="457.06" y="190.8" width="35.74" height="1.1" fill="#91d8f1"/>
<path d="M310.52 9.72V10.01M310.52 9.72H314.1M310.52 10.01H314.1M309.66 9.44V9.87M309.66 9.44H314.1M309.66 9.87H310.52M309.43 10.29V10.57M309.43 10.29H314.1M309.43 10.57H314.1M307.71 9.65V10.43M307.71 9.65H309.66M307.71 10.43H309.43M309.54 10.86V11.14M309.54 10.86H314.1M309.54 11.14H314.1M308.36 11.42V11.7M308.36 11.42H314.1M308.36 11.7H314.1M308.05 11V11.56M308.05 11H309.54M308.05 11.56H308.36M305.26 10.04V11.28M305.26 10.04H307.71M305.26 11.28H308.05M307.76 12.27V12.55M307.76 12.27H314.1M307.76 12.55H314.1M306.05 11.99V12.41M306.05 11.99H314.1M306.05 12.41H307.76M304.7 10.66V12.2M304.7 10.66H305.26M304.7 12.2H306.05M310.61 13.12V13.4M310.61 13.12H314.1M310.61 13.4H314.1M309.99 12.84V13.26M309.99 12.84H314.1M309.99 13.26H310.61M309.01 13.05V13.69M309.01 13.05H309.99M309.01 13.69H314.1M306.61 13.37V13.97M306.61 13.37H309.01M306.61 13.97H314.1M303.26 11.43V13.67M303.26 11.43H304.7M303.26 13.67H306.61M310 14.53V14.82M310 14.53H314.1M310 14.82H314.1M310.36 15.1V15.38M310.36 15.1H314.1M310.36 15.38H314.1M308.98 14.68V15.24M308.98 14.68H310M308.98 15.24H310.36M307.07 14.25V14.96M307.07 14.25H314.1M307.07 14.96H308.98M308.33 15.67V15.95M308.33 15.67H314.1M308.33 15.95H314.1M310.69 16.51V16.8M310.69 16.51H314.1M310.69 16.8H314.1M309.47 16.23V16.66M309.47 16.23H314.1M309.47 16.66H310.69M307.82 15.81V16.44M307.82 15.81H308.33M307.82 16.44H309.47M310.98 17.08V17.36M310.98 17.08H314.1M310.98 17.36H314.1M310.58 17.65V17.93M310.58 17.65H314.1M310.58 17.93H314.1M309.92 17.22V17.79M309.92 17.22H310.98M309.92 17.79H310.58M311.06 18.21V18.49M311.06 18.21H314.1M311.06 18.49H314.1M310.76 18.78V19.06M310.76 18.78H314.1M310.76 19.06H314.1M310.46 18.92V19.34M310.46 18.92H310.76M310.46 19.34H314.1M310.21 19.13V19.63M310.21 19.13H310.46M310.21 19.63H314.1M309.89 18.35V19.38M309.89 18.35H311.06M309.89 19.38H310.21M308.12 17.5V18.87M308.12 17.5H309.92M308.12 18.87H309.89M307.44 16.13V18.19M307.44 16.13H307.82M307.44 18.19H308.12M304.68 14.6V17.16M304.68 14.6H307.07M304.68 17.16H307.44M310.5 20.19V20.48M310.5 20.19H314.1M310.5 20.48H314.1M309.77 19.91V20.33M309.77 19.91H314.1M309.77 20.33H310.5M311.88 21.32V21.61M311.88 21.32H314.1M311.88 21.61H314.1M311.44 21.04V21.47M311.44 21.04H314.1M311.44 21.47H311.88M310.27 20.76V21.25M310.27 20.76H314.1M310.27 21.25H311.44M308.89 21.01V21.89M308.89 21.01H310.27M308.89 21.89H314.1M308.15 20.12V21.45M308.15 20.12H309.77M308.15 21.45H308.89M312.31 22.46V22.74M312.31 22.46H314.1M312.31 22.74H314.1M312.66 23.02V23.3M312.66 23.02H314.1M312.66 23.3H314.1M312.54 23.16V23.59M312.54 23.16H312.66M312.54 23.59H314.1M312.06 22.6V23.37M312.06 22.6H312.31M312.06 23.37H312.54M311.13 22.99V23.87M311.13 22.99H312.06M311.13 23.87H314.1M310.68 22.17V23.43M310.68 22.17H314.1M310.68 23.43H311.13M311.26 24.15V24.44M311.26 24.15H314.1M311.26 24.44H314.1M311.57 24.72V25M311.57 24.72H314.1M311.57 25H314.1M311.07 24.86V25.28M311.07 24.86H311.57M311.07 25.28H314.1M310.82 24.29V25.07M310.82 24.29H311.26M310.82 25.07H311.07M309.34 22.8V24.68M309.34 22.8H310.68M309.34 24.68H310.82M309.54 25.85V26.13M309.54 25.85H314.1M309.54 26.13H314.1M309.29 25.57V25.99M309.29 25.57H314.1M309.29 25.99H309.54M308.55 23.74V25.78M308.55 23.74H309.34M308.55 25.78H309.29M307.5 20.78V24.76M307.5 20.78H308.15M307.5 24.76H308.55M310.43 26.7V26.98M310.43 26.7H314.1M310.43 26.98H314.1M309.56 26.42V26.84M309.56 26.42H314.1M309.56 26.84H310.43M307.65 26.63V27.27M307.65 26.63H309.56M307.65 27.27H314.1M307.94 27.55V27.83M307.94 27.55H314.1M307.94 27.83H314.1M306.39 26.95V27.69M306.39 26.95H307.65M306.39 27.69H307.94M305.24 22.77V27.32M305.24 22.77H307.5M305.24 27.32H306.39M304.08 15.88V25.05M304.08 15.88H304.68M304.08 25.05H305.24M299.88 12.55V20.46M299.88 12.55H303.26M299.88 20.46H304.08M308.48 28.11V28.4M308.48 28.11H314.1M308.48 28.4H314.1M307.99 28.68V28.97M307.99 28.68H314.1M307.99 28.97H314.1M306.43 28.26V28.83M306.43 28.26H308.48M306.43 28.83H307.99M309.05 29.54V29.82M309.05 29.54H314.1M309.05 29.82H314.1M308.3 29.68V30.11M308.3 29.68H309.05M308.3 30.11H314.1M307.7 29.25V29.89M307.7 29.25H314.1M307.7 29.89H308.3M305.77 28.54V29.57M305.77 28.54H306.43M305.77 29.57H307.7M310.09 30.68V30.96M310.09 30.68H314.1M310.09 30.96H314.1M309.72 30.39V30.82M309.72 30.39H314.1M309.72 30.82H310.09M309.46 30.61V31.25M309.46 30.61H309.72M309.46 31.25H314.1M311.11 31.81V32.1M311.11 31.81H314.1M311.11 32.1H314.1M309.74 31.53V31.96M309.74 31.53H314.1M309.74 31.96H311.11M308.4 30.93V31.74M308.4 30.93H309.46M308.4 31.74H309.74M310.23 32.38V32.67M310.23 32.38H314.1M310.23 32.67H314.1M311.8 32.95V33.24M311.8 32.95H314.1M311.8 33.24H314.1M312.23 33.81V34.09M312.23 33.81H314.1M312.23 34.09H314.1M311.95 33.52V33.95M311.95 33.52H314.1M311.95 33.95H312.23M310.95 33.1V33.74M310.95 33.1H311.8M310.95 33.74H311.95M311.42 34.38V34.66M311.42 34.38H314.1M311.42 34.66H314.1M310.45 33.42V34.52M310.45 33.42H310.95M310.45 34.52H311.42M309.55 32.53V33.97M309.55 32.53H310.23M309.55 33.97H310.45M310.84 35.51V35.8M310.84 35.51H314.1M310.84 35.8H314.1M310.25 35.23V35.66M310.25 35.23H314.1M310.25 35.66H310.84M309.71 34.95V35.44M309.71 34.95H314.1M309.71 35.44H310.25M307.98 33.25V35.19M307.98 33.25H309.55M307.98 35.19H309.71M306.37 31.33V34.22M306.37 31.33H308.4M306.37 34.22H307.98M305.09 29.06V32.78M305.09 29.06H305.77M305.09 32.78H306.37M311.91 36.08V36.37M311.91 36.08H314.1M311.91 36.37H314.1M311.28 36.23V36.65M311.28 36.23H311.91M311.28 36.65H314.1M310.69 36.94V37.22M310.69 36.94H314.1M310.69 37.22H314.1M310.42 36.44V37.08M310.42 36.44H311.28M310.42 37.08H310.69M310.2 36.76V37.51M310.2 36.76H310.42M310.2 37.51H314.1M311.55 38.36V38.65M311.55 38.36H314.1M311.55 38.65H314.1M310.55 38.08V38.5M310.55 38.08H314.1M310.55 38.5H311.55M309.22 37.79V38.29M309.22 37.79H314.1M309.22 38.29H310.55M308.81 37.13V38.04M308.81 37.13H310.2M308.81 38.04H309.22M310.04 38.93V39.22M310.04 38.93H314.1M310.04 39.22H314.1M311.05 39.5V39.78M311.05 39.5H314.1M311.05 39.78H314.1M309.76 39.07V39.64M309.76 39.07H310.04M309.76 39.64H311.05M309.41 40.07V40.35M309.41 40.07H314.1M309.41 40.35H314.1M309.09 39.36V40.21M309.09 39.36H309.76M309.09 40.21H309.41M308.23 37.59V39.78M308.23 37.59H308.81M308.23 39.78H309.09M309.93 40.64V40.92M309.93 40.64H314.1M309.93 40.92H314.1M311.22 41.49V41.78M311.22 41.49H314.1M311.22 41.78H314.1M310.58 41.21V41.63M310.58 41.21H314.1M310.58 41.63H311.22M310.46 42.06V42.35M310.46 42.06H314.1M310.46 42.35H314.1M309.79 41.42V42.2M309.79 41.42H310.58M309.79 42.2H310.46M309.52 40.78V41.81M309.52 40.78H309.93M309.52 41.81H309.79M312.08 42.92V43.2M312.08 42.92H314.1M312.08 43.2H314.1M311.6 43.06V43.48M311.6 43.06H312.08M311.6 43.48H314.1M311.32 42.63V43.27M311.32 42.63H314.1M311.32 43.27H311.6M310.41 42.95V43.77M310.41 42.95H311.32M310.41 43.77H314.1M311.9 44.91V45.19M311.9 44.91H314.1M311.9 45.19H314.1M311.5 44.62V45.05M311.5 44.62H314.1M311.5 45.05H311.9M311.1 44.34V44.84M311.1 44.34H314.1M311.1 44.84H311.5M309.73 44.05V44.59M309.73 44.05H314.1M309.73 44.59H311.1M309.44 43.36V44.32M309.44 43.36H310.41M309.44 44.32H309.73M309.05 41.3V43.84M309.05 41.3H309.52M309.05 43.84H309.44M307.24 38.69V42.57M307.24 38.69H308.23M307.24 42.57H309.05M311.01 45.76V46.05M311.01 45.76H314.1M311.01 46.05H314.1M309.82 45.48V45.9M309.82 45.48H314.1M309.82 45.9H311.01M310.29 46.33V46.62M310.29 46.33H314.1M310.29 46.62H314.1M309.91 46.47V46.9M309.91 46.47H310.29M309.91 46.9H314.1M308.74 45.69V46.69M308.74 45.69H309.82M308.74 46.69H309.91M309.59 47.18V47.47M309.59 47.18H314.1M309.59 47.47H314.1M310.51 47.75V48.04M310.51 47.75H314.1M310.51 48.04H314.1M309.24 47.33V47.9M309.24 47.33H309.59M309.24 47.9H310.51M310.08 48.32V48.61M310.08 48.32H314.1M310.08 48.61H314.1M308.84 47.61V48.47M308.84 47.61H309.24M308.84 48.47H310.08M306.93 46.19V48.04M306.93 46.19H308.74M306.93 48.04H308.84M306.43 40.63V47.11M306.43 40.63H307.24M306.43 47.11H306.93M303.67 30.92V43.87M303.67 30.92H305.09M303.67 43.87H306.43M307.25 48.89V49.17M307.25 48.89H314.1M307.25 49.17H314.1M307.78 49.46V49.74M307.78 49.46H314.1M307.78 49.74H314.1M306.35 49.03V49.6M306.35 49.03H307.25M306.35 49.6H307.78M308.25 50.02V50.3M308.25 50.02H314.1M308.25 50.3H314.1M305.87 49.31V50.16M305.87 49.31H306.35M305.87 50.16H308.25M310.84 50.87V51.15M310.84 50.87H314.1M310.84 51.15H314.1M310.01 51.01V51.43M310.01 51.01H310.84M310.01 51.43H314.1M309.8 51.71V51.99M309.8 51.71H314.1M309.8 51.99H314.1M308.77 51.22V51.85M308.77 51.22H310.01M308.77 51.85H309.8M307.48 50.58V51.54M307.48 50.58H314.1M307.48 51.54H308.77M306.98 51.06V52.28M306.98 51.06H307.48M306.98 52.28H314.1M310.27 52.56V52.84M310.27 52.56H314.1M310.27 52.84H314.1M309.7 52.7V53.12M309.7 52.7H310.27M309.7 53.12H314.1M308.5 53.4V53.69M308.5 53.4H314.1M308.5 53.69H314.1M308.17 53.55V53.97M308.17 53.55H308.5M308.17 53.97H314.1M307.67 52.91V53.76M307.67 52.91H309.7M307.67 53.76H308.17M310.84 54.25V54.53M310.84 54.25H314.1M310.84 54.53H314.1M309.44 54.39V54.81M309.44 54.39H310.84M309.44 54.81H314.1M308.85 54.6V55.1M308.85 54.6H309.44M308.85 55.1H314.1M308.37 54.85V55.38M308.37 54.85H308.85M308.37 55.38H314.1M309.84 55.66V55.94M309.84 55.66H314.1M309.84 55.94H314.1M309.08 55.8V56.22M309.08 55.8H309.84M309.08 56.22H314.1M307.74 55.11V56.01M307.74 55.11H308.37M307.74 56.01H309.08M305.32 53.33V55.56M305.32 53.33H307.67M305.32 55.56H307.74M304.42 51.67V54.45M304.42 51.67H306.98M304.42 54.45H305.32M302.89 49.74V53.06M302.89 49.74H305.87M302.89 53.06H304.42M309.04 56.79V57.07M309.04 56.79H314.1M309.04 57.07H314.1M306.81 56.51V56.93M306.81 56.51H314.1M306.81 56.93H309.04M307.5 57.35V57.63M307.5 57.35H314.1M307.5 57.63H314.1M307.09 57.49V57.92M307.09 57.49H307.5M307.09 57.92H314.1M311.18 58.76V59.05M311.18 58.76H314.1M311.18 59.05H314.1M310.83 59.33V59.61M310.83 59.33H314.1M310.83 59.61H314.1M310.08 58.9V59.47M310.08 58.9H311.18M310.08 59.47H310.83M308.54 58.48V59.19M308.54 58.48H314.1M308.54 59.19H310.08M307.82 58.2V58.83M307.82 58.2H314.1M307.82 58.83H308.54M306.52 57.71V58.52M306.52 57.71H307.09M306.52 58.52H307.82M305.48 56.72V58.11M305.48 56.72H306.81M305.48 58.11H306.52M308.83 59.89V60.17M308.83 59.89H314.1M308.83 60.17H314.1M307.14 60.03V60.46M307.14 60.03H308.83M307.14 60.46H314.1M307.96 61.3V61.58M307.96 61.3H314.1M307.96 61.58H314.1M307.14 61.02V61.44M307.14 61.02H314.1M307.14 61.44H307.96M306.22 60.74V61.23M306.22 60.74H314.1M306.22 61.23H307.14M304.91 60.24V60.98M304.91 60.24H307.14M304.91 60.98H306.22M304.37 57.41V60.61M304.37 57.41H305.48M304.37 60.61H304.91M306.99 61.87V62.15M306.99 61.87H314.1M306.99 62.15H314.1M306.48 62.01V62.43M306.48 62.01H306.99M306.48 62.43H314.1M309.81 62.71V62.99M309.81 62.71H314.1M309.81 62.99H314.1M308.07 62.85V63.28M308.07 62.85H309.81M308.07 63.28H314.1M306.02 62.22V63.06M306.02 62.22H306.48M306.02 63.06H308.07M311.1 63.56V63.84M311.1 63.56H314.1M311.1 63.84H314.1M310.94 63.7V64.12M310.94 63.7H311.1M310.94 64.12H314.1M310.55 64.4V64.69M310.55 64.4H314.1M310.55 64.69H314.1M310.11 63.91V64.55M310.11 63.91H310.94M310.11 64.55H310.55M311.29 64.97V65.25M311.29 64.97H314.1M311.29 65.25H314.1M310.87 65.53V65.81M310.87 65.53H314.1M310.87 65.81H314.1M310.37 65.11V65.67M310.37 65.11H311.29M310.37 65.67H310.87M309.13 64.23V65.39M309.13 64.23H310.11M309.13 65.39H310.37M310.51 66.1V66.38M310.51 66.1H314.1M310.51 66.38H314.1M311.85 66.66V66.94M311.85 66.66H314.1M311.85 66.94H314.1M311.38 66.8V67.22M311.38 66.8H311.85M311.38 67.22H314.1M311.37 67.51V67.79M311.37 67.51H314.1M311.37 67.79H314.1M310.21 67.01V67.65M310.21 67.01H311.38M310.21 67.65H311.37M308.94 66.24V67.33M308.94 66.24H310.51M308.94 67.33H310.21M309 68.07V68.35M309 68.07H314.1M309 68.35H314.1M308.53 66.78V68.21M308.53 66.78H308.94M308.53 68.21H309M307.14 64.81V67.5M307.14 64.81H309.13M307.14 67.5H308.53M305.36 62.64V66.15M305.36 62.64H306.02M305.36 66.15H307.14M303.85 59.01V64.4M303.85 59.01H304.37M303.85 64.4H305.36M309.01 68.92V69.2M309.01 68.92H314.1M309.01 69.2H314.1M308.33 68.63V69.06M308.33 68.63H314.1M308.33 69.06H309.01M311.34 70.05V70.33M311.34 70.05H314.1M311.34 70.33H314.1M310.47 70.19V70.61M310.47 70.19H311.34M310.47 70.61H314.1M309.63 69.76V70.4M309.63 69.76H314.1M309.63 70.4H310.47M307.72 69.48V70.08M307.72 69.48H314.1M307.72 70.08H309.63M307.36 68.85V69.78M307.36 68.85H308.33M307.36 69.78H307.72M307.95 70.89V71.17M307.95 70.89H314.1M307.95 71.17H314.1M308.93 71.74V72.02M308.93 71.74H314.1M308.93 72.02H314.1M307.9 71.46V71.88M307.9 71.46H314.1M307.9 71.88H308.93M309.16 72.3V72.58M309.16 72.3H314.1M309.16 72.58H314.1M309.9 72.87V73.15M309.9 72.87H314.1M309.9 73.15H314.1M308.59 72.44V73.01M308.59 72.44H309.16M308.59 73.01H309.9M307.03 71.67V72.72M307.03 71.67H307.9M307.03 72.72H308.59M306.02 71.03V72.2M306.02 71.03H307.95M306.02 72.2H307.03M305.11 69.31V71.61M305.11 69.31H307.36M305.11 71.61H306.02M309.84 73.43V73.71M309.84 73.43H314.1M309.84 73.71H314.1M310.58 73.99V74.28M310.58 73.99H314.1M310.58 74.28H314.1M309.26 74.13V74.56M309.26 74.13H310.58M309.26 74.56H314.1M308.29 73.57V74.35M308.29 73.57H309.84M308.29 74.35H309.26M310.39 75.12V75.4M310.39 75.12H314.1M310.39 75.4H314.1M309.94 74.84V75.26M309.94 74.84H314.1M309.94 75.26H310.39M309.24 75.05V75.69M309.24 75.05H309.94M309.24 75.69H314.1M310.66 75.97V76.25M310.66 75.97H314.1M310.66 76.25H314.1M309.2 76.11V76.53M309.2 76.11H310.66M309.2 76.53H314.1M308.22 75.37V76.32M308.22 75.37H309.24M308.22 76.32H309.2M306.63 73.96V75.84M306.63 73.96H308.29M306.63 75.84H308.22M303.97 70.46V74.9M303.97 70.46H305.11M303.97 74.9H306.63M301.81 61.71V72.68M301.81 61.71H303.85M301.81 72.68H303.97M299.89 51.4V67.19M299.89 51.4H302.89M299.89 67.19H301.81M309.72 76.81V77.1M309.72 76.81H314.1M309.72 77.1H314.1M309.78 77.38V77.66M309.78 77.38H314.1M309.78 77.66H314.1M309.29 76.96V77.52M309.29 76.96H309.72M309.29 77.52H309.78M308.61 77.94V78.23M308.61 77.94H314.1M308.61 78.23H314.1M308.02 77.24V78.09M308.02 77.24H309.29M308.02 78.09H308.61M309.94 78.79V79.08M309.94 78.79H314.1M309.94 79.08H314.1M309.88 79.36V79.64M309.88 79.36H314.1M309.88 79.64H314.1M308.36 78.93V79.5M308.36 78.93H309.94M308.36 79.5H309.88M308.04 78.51V79.22M308.04 78.51H314.1M308.04 79.22H308.36M307.15 77.66V78.86M307.15 77.66H308.02M307.15 78.86H308.04M308.26 79.92V80.21M308.26 79.92H314.1M308.26 80.21H314.1M307.54 80.06V80.49M307.54 80.06H308.26M307.54 80.49H314.1M306.03 78.26V80.28M306.03 78.26H307.15M306.03 80.28H307.54M310.07 80.77V81.05M310.07 80.77H314.1M310.07 81.05H314.1M311.85 81.62V81.9M311.85 81.62H314.1M311.85 81.9H314.1M311.15 81.76V82.18M311.15 81.76H311.85M311.15 82.18H314.1M310.04 81.34V81.97M310.04 81.34H314.1M310.04 81.97H311.15M308.64 80.91V81.65M308.64 80.91H310.07M308.64 81.65H310.04M308.49 82.47V82.75M308.49 82.47H314.1M308.49 82.75H314.1M306.19 81.28V82.61M306.19 81.28H308.64M306.19 82.61H308.49M303.84 79.27V81.95M303.84 79.27H306.03M303.84 81.95H306.19M311.38 83.03V83.31M311.38 83.03H314.1M311.38 83.31H314.1M310.45 83.17V83.6M310.45 83.17H311.38M310.45 83.6H314.1M309.51 83.88V84.16M309.51 83.88H314.1M309.51 84.16H314.1M309.26 83.38V84.02M309.26 83.38H310.45M309.26 84.02H309.51M310.29 84.73V85.01M310.29 84.73H314.1M310.29 85.01H314.1M309.02 84.44V84.87M309.02 84.44H314.1M309.02 84.87H310.29M307.92 83.7V84.66M307.92 83.7H309.26M307.92 84.66H309.02M309.68 85.57V85.86M309.68 85.57H314.1M309.68 85.86H314.1M309.04 85.29V85.72M309.04 85.29H314.1M309.04 85.72H309.68M308.53 85.5V86.14M308.53 85.5H309.04M308.53 86.14H314.1M311.85 86.42V86.7M311.85 86.42H314.1M311.85 86.7H314.1M310.91 86.56V86.99M310.91 86.56H311.85M310.91 86.99H314.1M312.45 87.83V88.12M312.45 87.83H314.1M312.45 88.12H314.1M311.93 87.55V87.98M311.93 87.55H314.1M311.93 87.98H312.45M311.26 87.27V87.76M311.26 87.27H314.1M311.26 87.76H311.93M310.52 86.78V87.52M310.52 86.78H310.91M310.52 87.52H311.26M310.21 88.4V88.68M310.21 88.4H314.1M310.21 88.68H314.1M309.83 87.15V88.54M309.83 87.15H310.52M309.83 88.54H310.21M307.83 85.82V87.84M307.83 85.82H308.53M307.83 87.84H309.83M307.89 89.25V89.53M307.89 89.25H314.1M307.89 89.53H314.1M307.23 88.97V89.39M307.23 88.97H314.1M307.23 89.39H307.89M305.76 86.83V89.18M305.76 86.83H307.83M305.76 89.18H307.23M305.19 84.18V88M305.19 84.18H307.92M305.19 88H305.76M312.23 90.38V90.66M312.23 90.38H314.1M312.23 90.66H314.1M311.72 90.1V90.52M311.72 90.1H314.1M311.72 90.52H312.23M311.22 89.81V90.31M311.22 89.81H314.1M311.22 90.31H311.72M310.79 90.94V91.23M310.79 90.94H314.1M310.79 91.23H314.1M310.19 90.06V91.08M310.19 90.06H311.22M310.19 91.08H310.79M311.18 91.79V92.07M311.18 91.79H314.1M311.18 92.07H314.1M310.75 91.51V91.93M310.75 91.51H314.1M310.75 91.93H311.18M309.35 91.72V92.36M309.35 91.72H310.75M309.35 92.36H314.1M311.16 92.64V92.92M311.16 92.64H314.1M311.16 92.92H314.1M309.92 92.78V93.2M309.92 92.78H311.16M309.92 93.2H314.1M308.67 92.04V92.99M308.67 92.04H309.35M308.67 92.99H309.92M308.37 90.57V92.52M308.37 90.57H310.19M308.37 92.52H308.67M308.15 93.49V93.77M308.15 93.49H314.1M308.15 93.77H314.1M311.37 94.05V94.33M311.37 94.05H314.1M311.37 94.33H314.1M310.95 94.62V94.9M310.95 94.62H314.1M310.95 94.9H314.1M310.11 94.19V94.76M310.11 94.19H311.37M310.11 94.76H310.95M310.18 95.18V95.46M310.18 95.18H314.1M310.18 95.46H314.1M309.01 94.48V95.32M309.01 94.48H310.11M309.01 95.32H310.18M307.7 93.63V94.9M307.7 93.63H308.15M307.7 94.9H309.01M306.41 91.54V94.26M306.41 91.54H308.37M306.41 94.26H307.7M304.6 86.09V92.9M304.6 86.09H305.19M304.6 92.9H306.41M302.53 80.61V89.5M302.53 80.61H303.84M302.53 89.5H304.6M309.97 95.75V96.03M309.97 95.75H314.1M309.97 96.03H314.1M309.24 95.89V96.31M309.24 95.89H309.97M309.24 96.31H314.1M308.74 96.1V96.59M308.74 96.1H309.24M308.74 96.59H314.1M309.46 96.88V97.16M309.46 96.88H314.1M309.46 97.16H314.1M308.43 96.35V97.02M308.43 96.35H308.74M308.43 97.02H309.46M311.22 97.44V97.72M311.22 97.44H314.1M311.22 97.72H314.1M310.08 97.58V98.01M310.08 97.58H311.22M310.08 98.01H314.1M310.8 98.29V98.57M310.8 98.29H314.1M310.8 98.57H314.1M311.54 98.85V99.13M311.54 98.85H314.1M311.54 99.13H314.1M310.72 98.99V99.42M310.72 98.99H311.54M310.72 99.42H314.1M310.54 98.43V99.2M310.54 98.43H310.8M310.54 99.2H310.72M309.11 97.79V98.82M309.11 97.79H310.08M309.11 98.82H310.54M307.15 96.68V98.31M307.15 96.68H308.43M307.15 98.31H309.11M308.94 99.7V99.98M308.94 99.7H314.1M308.94 99.98H314.1M310.81 100.26V100.55M310.81 100.26H314.1M310.81 100.55H314.1M311.17 100.83V101.11M311.17 100.83H314.1M311.17 101.11H314.1M310.35 100.4V100.97M310.35 100.4H310.81M310.35 100.97H311.17M309.73 100.69V101.39M309.73 100.69H310.35M309.73 101.39H314.1M307.87 99.84V101.04M307.87 99.84H308.94M307.87 101.04H309.73M306.57 97.49V100.44M306.57 97.49H307.15M306.57 100.44H307.87M310.07 101.67V101.96M310.07 101.67H314.1M310.07 101.96H314.1M309.63 102.24V102.52M309.63 102.24H314.1M309.63 102.52H314.1M308.73 101.82V102.38M308.73 101.82H310.07M308.73 102.38H309.63M310.83 102.8V103.09M310.83 102.8H314.1M310.83 103.09H314.1M310.32 102.95V103.37M310.32 102.95H310.83M310.32 103.37H314.1M310.4 103.65V103.93M310.4 103.65H314.1M310.4 103.93H314.1M309.42 103.16V103.79M309.42 103.16H310.32M309.42 103.79H310.4M307.66 102.1V103.47M307.66 102.1H308.73M307.66 103.47H309.42M305.19 98.97V102.79M305.19 98.97H306.57M305.19 102.79H307.66M309.94 104.22V104.5M309.94 104.22H314.1M309.94 104.5H314.1M310.51 104.78V105.06M310.51 104.78H314.1M310.51 105.06H314.1M309.39 104.36V104.92M309.39 104.36H309.94M309.39 104.92H310.51M310.42 105.63V105.91M310.42 105.63H314.1M310.42 105.91H314.1M309.62 105.34V105.77M309.62 105.34H314.1M309.62 105.77H310.42M309 104.64V105.56M309 104.64H309.39M309 105.56H309.62M309.47 106.19V106.47M309.47 106.19H314.1M309.47 106.47H314.1M307.44 105.1V106.33M307.44 105.1H309M307.44 106.33H309.47M309.95 106.76V107.04M309.95 106.76H314.1M309.95 107.04H314.1M309.12 106.9V107.32M309.12 106.9H309.95M309.12 107.32H314.1M310.25 107.6V107.88M310.25 107.6H314.1M310.25 107.88H314.1M311.31 108.17V108.45M311.31 108.17H314.1M311.31 108.45H314.1M309.99 107.74V108.31M309.99 107.74H310.25M309.99 108.31H311.31M308.55 107.11V108.03M308.55 107.11H309.12M308.55 108.03H309.99M308.2 108.73V109.01M308.2 108.73H314.1M308.2 109.01H314.1M307.65 107.57V108.87M307.65 107.57H308.55M307.65 108.87H308.2M306 105.71V108.22M306 105.71H307.44M306 108.22H307.65M309.06 109.3V109.58M309.06 109.3H314.1M309.06 109.58H314.1M308.78 110.14V110.43M308.78 110.14H314.1M308.78 110.43H314.1M308.33 109.86V110.28M308.33 109.86H314.1M308.33 110.28H308.78M307.91 109.44V110.07M307.91 109.44H309.06M307.91 110.07H308.33M310.04 110.71V110.99M310.04 110.71H314.1M310.04 110.99H314.1M311.48 111.55V111.84M311.48 111.55H314.1M311.48 111.84H314.1M311.29 111.27V111.7M311.29 111.27H314.1M311.29 111.7H311.48M311.03 111.48V112.12M311.03 111.48H311.29M311.03 112.12H314.1M309.67 110.85V111.8M309.67 110.85H310.04M309.67 111.8H311.03M308.97 112.4V112.68M308.97 112.4H314.1M308.97 112.68H314.1M308.07 111.33V112.54M308.07 111.33H309.67M308.07 112.54H308.97M309.68 112.97V113.25M309.68 112.97H314.1M309.68 113.25H314.1M308.44 113.11V113.53M308.44 113.11H309.68M308.44 113.53H314.1M308.01 113.81V114.1M308.01 113.81H314.1M308.01 114.1H314.1M310.99 114.38V114.66M310.99 114.38H314.1M310.99 114.66H314.1M309.6 114.52V114.94M309.6 114.52H310.99M309.6 114.94H314.1M308.47 114.73V115.22M308.47 114.73H309.6M308.47 115.22H314.1M307.56 113.95V114.98M307.56 113.95H308.01M307.56 114.98H308.47M306.49 113.32V114.47M306.49 113.32H308.44M306.49 114.47H307.56M305.8 111.93V113.89M305.8 111.93H308.07M305.8 113.89H306.49M305.11 109.76V112.91M305.11 109.76H307.91M305.11 112.91H305.8M304.37 106.97V111.33M304.37 106.97H306M304.37 111.33H305.11M303.21 100.88V109.15M303.21 100.88H305.19M303.21 109.15H304.37M308.72 115.51V115.79M308.72 115.51H314.1M308.72 115.79H314.1M307.49 115.65V116.08M307.49 115.65H308.72M307.49 116.08H314.1M308.87 116.36V116.64M308.87 116.36H314.1M308.87 116.64H314.1M309.29 116.93V117.21M309.29 116.93H314.1M309.29 117.21H314.1M308.23 116.5V117.07M308.23 116.5H308.87M308.23 117.07H309.29M306.61 115.86V116.79M306.61 115.86H307.49M306.61 116.79H308.23M310.15 117.5V117.78M310.15 117.5H314.1M310.15 117.78H314.1M308.65 117.64V118.07M308.65 117.64H310.15M308.65 118.07H314.1M306.19 116.32V117.85M306.19 116.32H306.61M306.19 117.85H308.65M311.45 118.35V118.63M311.45 118.35H314.1M311.45 118.63H314.1M310.92 118.49V118.92M310.92 118.49H311.45M310.92 118.92H314.1M311 119.49V119.77M311 119.49H314.1M311 119.77H314.1M310.22 119.2V119.63M310.22 119.2H314.1M310.22 119.63H311M309.49 118.71V119.42M309.49 118.71H310.92M309.49 119.42H310.22M311.63 120.34V120.62M311.63 120.34H314.1M311.63 120.62H314.1M310.87 120.06V120.48M310.87 120.06H314.1M310.87 120.48H311.63M309.75 120.27V120.91M309.75 120.27H310.87M309.75 120.91H314.1M309.79 121.19V121.48M309.79 121.19H314.1M309.79 121.48H314.1M308.89 120.59V121.33M308.89 120.59H309.75M308.89 121.33H309.79M307.87 119.06V120.96M307.87 119.06H309.49M307.87 120.96H308.89M310.22 121.76V122.05M310.22 121.76H314.1M310.22 122.05H314.1M312.08 122.9V123.18M312.08 122.9H314.1M312.08 123.18H314.1M311.18 122.61V123.04M311.18 122.61H314.1M311.18 123.04H312.08M310.35 122.33V122.83M310.35 122.33H314.1M310.35 122.83H311.18M308.91 121.9V122.58M308.91 121.9H310.22M308.91 122.58H310.35M307.13 120.01V122.24M307.13 120.01H307.87M307.13 122.24H308.91M304.55 117.09V121.13M304.55 117.09H306.19M304.55 121.13H307.13M310.43 123.75V124.04M310.43 123.75H314.1M310.43 124.04H314.1M309.28 123.47V123.89M309.28 123.47H314.1M309.28 123.89H310.43M310.42 124.6V124.89M310.42 124.6H314.1M310.42 124.89H314.1M310.15 124.32V124.75M310.15 124.32H314.1M310.15 124.75H310.42M312 125.17V125.46M312 125.17H314.1M312 125.46H314.1M311.08 125.31V125.74M311.08 125.31H312M311.08 125.74H314.1M310.65 126.03V126.31M310.65 126.03H314.1M310.65 126.31H314.1M309.72 125.53V126.17M309.72 125.53H311.08M309.72 126.17H310.65M308.82 124.53V125.85M308.82 124.53H310.15M308.82 125.85H309.72M308.87 126.59V126.88M308.87 126.59H314.1M308.87 126.88H314.1M308.14 125.19V126.74M308.14 125.19H308.82M308.14 126.74H308.87M307.63 123.68V125.96M307.63 123.68H309.28M307.63 125.96H308.14M310.89 127.16V127.45M310.89 127.16H314.1M310.89 127.45H314.1M312.36 128.01V128.3M312.36 128.01H314.1M312.36 128.3H314.1M311.87 127.73V128.16M311.87 127.73H314.1M311.87 128.16H312.36M311.06 127.94V128.58M311.06 127.94H311.87M311.06 128.58H314.1M310.12 127.3V128.26M310.12 127.3H310.89M310.12 128.26H311.06M310.92 128.87V129.15M310.92 128.87H314.1M310.92 129.15H314.1M311.18 129.72V130M311.18 129.72H314.1M311.18 130H314.1M310.34 129.44V129.86M310.34 129.44H314.1M310.34 129.86H311.18M310.06 129.01V129.65M310.06 129.01H310.92M310.06 129.65H310.34M308.6 127.78V129.33M308.6 127.78H310.12M308.6 129.33H310.06M312.37 130.86V131.14M312.37 130.86H314.1M312.37 131.14H314.1M311.6 130.57V131M311.6 130.57H314.1M311.6 131H312.37M311.05 130.79V131.43M311.05 130.79H311.6M311.05 131.43H314.1M310.12 130.29V131.11M310.12 130.29H314.1M310.12 131.11H311.05M311.29 131.71V131.99M311.29 131.71H314.1M311.29 131.99H314.1M312.27 132.28V132.56M312.27 132.28H314.1M312.27 132.56H314.1M312.47 133.13V133.42M312.47 133.13H314.1M312.47 133.42H314.1M311.99 132.85V133.27M311.99 132.85H314.1M311.99 133.27H312.47M311.68 132.42V133.06M311.68 132.42H312.27M311.68 133.06H311.99M310.87 131.85V132.74M310.87 131.85H311.29M310.87 132.74H311.68M312.63 133.7V133.98M312.63 133.7H314.1M312.63 133.98H314.1M312.66 134.27V134.55M312.66 134.27H314.1M312.66 134.55H314.1M312.53 133.84V134.41M312.53 133.84H312.63M312.53 134.41H312.66M311.97 134.13V134.84M311.97 134.13H312.53M311.97 134.84H314.1M311.3 134.48V135.12M311.3 134.48H311.97M311.3 135.12H314.1M311.78 135.41V135.69M311.78 135.41H314.1M311.78 135.69H314.1M311.99 136.26V136.54M311.99 136.26H314.1M311.99 136.54H314.1M311.64 135.97V136.4M311.64 135.97H314.1M311.64 136.4H311.99M311.08 135.55V136.19M311.08 135.55H311.78M311.08 136.19H311.64M310.74 134.8V135.87M310.74 134.8H311.3M310.74 135.87H311.08M310.04 132.3V135.33M310.04 132.3H310.87M310.04 135.33H310.74M308.92 130.7V133.82M308.92 130.7H310.12M308.92 133.82H310.04M307 128.56V132.26M307 128.56H308.6M307 132.26H308.92M306.04 124.82V130.41M306.04 124.82H307.63M306.04 130.41H307M303.3 119.11V127.61M303.3 119.11H304.55M303.3 127.61H306.04M308.37 137.11V137.4M308.37 137.11H314.1M308.37 137.4H314.1M307.06 136.83V137.26M307.06 136.83H314.1M307.06 137.26H308.37M310.04 137.97V138.26M310.04 137.97H314.1M310.04 138.26H314.1M309.22 138.11V138.54M309.22 138.11H310.04M309.22 138.54H314.1M307.8 137.68V138.33M307.8 137.68H314.1M307.8 138.33H309.22M305.06 137.04V138.01M305.06 137.04H307.06M305.06 138.01H307.8M307.84 138.83V139.11M307.84 138.83H314.1M307.84 139.11H314.1M308.15 139.4V139.68M308.15 139.4H314.1M308.15 139.68H314.1M307.4 138.97V139.54M307.4 138.97H307.84M307.4 139.54H308.15M309.75 139.97V140.25M309.75 139.97H314.1M309.75 140.25H314.1M308.55 140.11V140.54M308.55 140.11H309.75M308.55 140.54H314.1M306.96 139.26V140.33M306.96 139.26H307.4M306.96 140.33H308.55M303.7 137.52V139.79M303.7 137.52H305.06M303.7 139.79H306.96M309.53 140.83V141.11M309.53 140.83H314.1M309.53 141.11H314.1M309.92 141.4V141.68M309.92 141.4H314.1M309.92 141.68H314.1M307.95 140.97V141.54M307.95 140.97H309.53M307.95 141.54H309.92M311.46 141.97V142.25M311.46 141.97H314.1M311.46 142.25H314.1M311.05 142.11V142.54M311.05 142.11H311.46M311.05 142.54H314.1M310.11 142.33V142.83M310.11 142.33H311.05M310.11 142.83H314.1M308.92 142.58V143.11M308.92 142.58H310.11M308.92 143.11H314.1M309.41 143.4V143.68M309.41 143.4H314.1M309.41 143.68H314.1M309.71 143.97V144.25M309.71 143.97H314.1M309.71 144.25H314.1M308.47 143.54V144.11M308.47 143.54H309.41M308.47 144.11H309.71M307.87 142.84V143.82M307.87 142.84H308.92M307.87 143.82H308.47M305.7 141.25V143.33M305.7 141.25H307.95M305.7 143.33H307.87M310.7 144.82V145.11M310.7 144.82H314.1M310.7 145.11H314.1M309.9 144.97V145.4M309.9 144.97H310.7M309.9 145.4H314.1M309.36 145.68V145.97M309.36 145.68H314.1M309.36 145.97H314.1M308.19 145.18V145.82M308.19 145.18H309.9M308.19 145.82H309.36M305.75 144.54V145.5M305.75 144.54H314.1M305.75 145.5H308.19M310.58 146.25V146.54M310.58 146.25H314.1M310.58 146.54H314.1M309.67 146.4V146.82M309.67 146.4H310.58M309.67 146.82H314.1M309.22 146.61V147.11M309.22 146.61H309.67M309.22 147.11H314.1M309.2 147.39V147.68M309.2 147.39H314.1M309.2 147.68H314.1M307.74 146.86V147.54M307.74 146.86H309.22M307.74 147.54H309.2M310.39 147.97V148.25M310.39 147.97H314.1M310.39 148.25H314.1M310.13 148.11V148.54M310.13 148.11H310.39M310.13 148.54H314.1M312.07 148.82V149.11M312.07 148.82H314.1M312.07 149.11H314.1M311.17 148.97V149.39M311.17 148.97H312.07M311.17 149.39H314.1M310.63 149.68V149.97M310.63 149.68H314.1M310.63 149.97H314.1M310.38 149.18V149.82M310.38 149.18H311.17M310.38 149.82H310.63M308.65 148.32V149.5M308.65 148.32H310.13M308.65 149.5H310.38M306.82 147.2V148.91M306.82 147.2H307.74M306.82 148.91H308.65M303.9 145.02V148.06M303.9 145.02H305.75M303.9 148.06H306.82M303.3 142.29V146.54M303.3 142.29H305.7M303.3 146.54H303.9M301.67 138.66V144.42M301.67 138.66H303.7M301.67 144.42H303.3M309.03 150.25V150.53M309.03 150.25H314.1M309.03 150.53H314.1M308.7 150.82V151.1M308.7 150.82H314.1M308.7 151.1H314.1M308.38 150.39V150.96M308.38 150.39H309.03M308.38 150.96H308.7M308.16 151.38V151.67M308.16 151.38H314.1M308.16 151.67H314.1M306.54 150.67V151.53M306.54 150.67H308.38M306.54 151.53H308.16M310.67 152.23V152.52M310.67 152.23H314.1M310.67 152.52H314.1M309.56 152.38V152.8M309.56 152.38H310.67M309.56 152.8H314.1M307.78 151.95V152.59M307.78 151.95H314.1M307.78 152.59H309.56M309.7 153.37V153.65M309.7 153.37H314.1M309.7 153.65H314.1M309.53 153.93V154.22M309.53 153.93H314.1M309.53 154.22H314.1M307.83 153.51V154.08M307.83 153.51H309.7M307.83 154.08H309.53M307.29 153.08V153.79M307.29 153.08H314.1M307.29 153.79H307.83M305.23 152.27V153.44M305.23 152.27H307.78M305.23 153.44H307.29M304.2 151.1V152.85M304.2 151.1H306.54M304.2 152.85H305.23M312.2 155.07V155.35M312.2 155.07H314.1M312.2 155.35H314.1M311.61 154.78V155.21M311.61 154.78H314.1M311.61 155.21H312.2M310.54 154.5V155M310.54 154.5H314.1M310.54 155H311.61M310.74 155.63V155.92M310.74 155.63H314.1M310.74 155.92H314.1M309.21 154.75V155.78M309.21 154.75H310.54M309.21 155.78H310.74M307.99 155.26V156.2M307.99 155.26H309.21M307.99 156.2H314.1M310.52 156.49V156.77M310.52 156.49H314.1M310.52 156.77H314.1M309.56 156.63V157.05M309.56 156.63H310.52M309.56 157.05H314.1M309.3 156.84V157.34M309.3 156.84H309.56M309.3 157.34H314.1M310.88 157.9V158.19M310.88 157.9H314.1M310.88 158.19H314.1M310.52 157.62V158.04M310.52 157.62H314.1M310.52 158.04H310.88M310.31 158.47V158.75M310.31 158.47H314.1M310.31 158.75H314.1M309.27 157.83V158.61M309.27 157.83H310.52M309.27 158.61H310.31M308.75 157.09V158.22M308.75 157.09H309.3M308.75 158.22H309.27M310.27 159.6V159.89M310.27 159.6H314.1M310.27 159.89H314.1M309.47 159.32V159.74M309.47 159.32H314.1M309.47 159.74H310.27M308.84 159.04V159.53M308.84 159.04H314.1M308.84 159.53H309.47M308.12 157.65V159.28M308.12 157.65H308.75M308.12 159.28H308.84M307.55 155.73V158.47M307.55 155.73H307.99M307.55 158.47H308.12M310.83 160.45V160.74M310.83 160.45H314.1M310.83 160.74H314.1M310.39 161.02V161.3M310.39 161.02H314.1M310.39 161.3H314.1M310.14 160.59V161.16M310.14 160.59H310.83M310.14 161.16H310.39M309.08 160.17V160.88M309.08 160.17H314.1M309.08 160.88H310.14M310.15 161.87V162.15M310.15 161.87H314.1M310.15 162.15H314.1M309.88 161.59V162.01M309.88 161.59H314.1M309.88 162.01H310.15M311.56 162.44V162.72M311.56 162.44H314.1M311.56 162.72H314.1M310.57 162.58V163M310.57 162.58H311.56M310.57 163H314.1M309.25 161.8V162.79M309.25 161.8H309.88M309.25 162.79H310.57M311.24 163.29V163.57M311.24 163.29H314.1M311.24 163.57H314.1M311.18 163.85V164.14M311.18 163.85H314.1M311.18 164.14H314.1M310.59 163.43V164M310.59 163.43H311.24M310.59 164H311.18M311.17 164.7V164.99M311.17 164.7H314.1M311.17 164.99H314.1M310.62 164.42V164.85M310.62 164.42H314.1M310.62 164.85H311.17M310.29 163.71V164.63M310.29 163.71H310.59M310.29 164.63H310.62M308.94 162.3V164.17M308.94 162.3H309.25M308.94 164.17H310.29M307.62 160.52V163.23M307.62 160.52H309.08M307.62 163.23H308.94M306.46 157.1V161.88M306.46 157.1H307.55M306.46 161.88H307.62M309.58 165.55V165.84M309.58 165.55H314.1M309.58 165.84H314.1M309.33 165.27V165.7M309.33 165.27H314.1M309.33 165.7H309.58M310.5 166.12V166.4M310.5 166.12H314.1M310.5 166.4H314.1M309.67 166.26V166.69M309.67 166.26H310.5M309.67 166.69H314.1M309.06 165.48V166.48M309.06 165.48H309.33M309.06 166.48H309.67M311.67 166.97V167.26M311.67 166.97H314.1M311.67 167.26H314.1M310.61 167.11V167.54M310.61 167.11H311.67M310.61 167.54H314.1M310.2 167.33V167.82M310.2 167.33H310.61M310.2 167.82H314.1M308.69 165.98V167.57M308.69 165.98H309.06M308.69 167.57H310.2M310.1 168.39V168.67M310.1 168.39H314.1M310.1 168.67H314.1M309.42 168.11V168.53M309.42 168.11H314.1M309.42 168.53H310.1M310.24 168.96V169.24M310.24 168.96H314.1M310.24 169.24H314.1M309.46 169.52V169.81M309.46 169.52H314.1M309.46 169.81H314.1M308.92 169.1V169.66M308.92 169.1H310.24M308.92 169.66H309.46M308.43 168.32V169.38M308.43 168.32H309.42M308.43 169.38H308.92M307.35 166.78V168.85M307.35 166.78H308.69M307.35 168.85H308.43M304.39 159.49V167.81M304.39 159.49H306.46M304.39 167.81H307.35M302.12 151.98V163.65M302.12 151.98H304.2M302.12 163.65H304.39M308.6 170.09V170.37M308.6 170.09H314.1M308.6 170.37H314.1M309.93 170.66V170.94M309.93 170.66H314.1M309.93 170.94H314.1M308.14 170.23V170.8M308.14 170.23H308.6M308.14 170.8H309.93M309.9 171.23V171.51M309.9 171.23H314.1M309.9 171.51H314.1M311.22 172.36V172.65M311.22 172.36H314.1M311.22 172.65H314.1M310.05 172.08V172.5M310.05 172.08H314.1M310.05 172.5H311.22M309.43 171.79V172.29M309.43 171.79H314.1M309.43 172.29H310.05M308.61 171.37V172.04M308.61 171.37H309.9M308.61 172.04H309.43M310.92 173.21V173.5M310.92 173.21H314.1M310.92 173.5H314.1M310.01 173.36V173.78M310.01 173.36H310.92M310.01 173.78H314.1M309.38 172.93V173.57M309.38 172.93H314.1M309.38 173.57H310.01M307.2 171.7V173.25M307.2 171.7H308.61M307.2 173.25H309.38M306.51 170.52V172.48M306.51 170.52H308.14M306.51 172.48H307.2M309.07 174.35V174.63M309.07 174.35H314.1M309.07 174.63H314.1M308.72 174.07V174.49M308.72 174.07H314.1M308.72 174.49H309.07M310.53 174.92V175.2M310.53 174.92H314.1M310.53 175.2H314.1M309.38 175.06V175.49M309.38 175.06H310.53M309.38 175.49H314.1M308.13 174.28V175.27M308.13 174.28H308.72M308.13 175.27H309.38M305.72 171.5V174.78M305.72 171.5H306.51M305.72 174.78H308.13M308.61 175.77V176.05M308.61 175.77H314.1M308.61 176.05H314.1M309.66 176.34V176.62M309.66 176.34H314.1M309.66 176.62H314.1M308.25 175.91V176.48M308.25 175.91H308.61M308.25 176.48H309.66M311.25 176.91V177.19M311.25 176.91H314.1M311.25 177.19H314.1M310.07 177.05V177.47M310.07 177.05H311.25M310.07 177.47H314.1M310.38 177.76V178.04M310.38 177.76H314.1M310.38 178.04H314.1M309.67 177.26V177.9M309.67 177.26H310.07M309.67 177.9H310.38M311.3 178.61V178.89M311.3 178.61H314.1M311.3 178.89H314.1M310.85 178.33V178.75M310.85 178.33H314.1M310.85 178.75H311.3M311.63 179.18V179.46M311.63 179.18H314.1M311.63 179.46H314.1M310.96 179.32V179.75M310.96 179.32H311.63M310.96 179.75H314.1M310.07 178.54V179.53M310.07 178.54H310.85M310.07 179.53H310.96M311.14 180.03V180.31M311.14 180.03H314.1M311.14 180.31H314.1M309.79 179.04V180.17M309.79 179.04H310.07M309.79 180.17H311.14M308.52 177.58V179.6M308.52 177.58H309.67M308.52 179.6H309.79M306.72 176.2V178.59M306.72 176.2H308.25M306.72 178.59H308.52M310.06 180.6V180.88M310.06 180.6H314.1M310.06 180.88H314.1M311.73 181.45V181.73M311.73 181.45H314.1M311.73 181.73H314.1M310.94 181.59V182.02M310.94 181.59H311.73M310.94 182.02H314.1M310.37 181.17V181.8M310.37 181.17H314.1M310.37 181.8H310.94M308.92 180.74V181.49M308.92 180.74H310.06M308.92 181.49H310.37M309.55 182.3V182.59M309.55 182.3H314.1M309.55 182.59H314.1M308.04 182.87V183.15M308.04 182.87H314.1M308.04 183.15H314.1M307.45 182.44V183.01M307.45 182.44H309.55M307.45 183.01H308.04M307.08 181.11V182.73M307.08 181.11H308.92M307.08 182.73H307.45M305.34 177.39V181.92M305.34 177.39H306.72M305.34 181.92H307.08M311.23 184.01V184.29M311.23 184.01H314.1M311.23 184.29H314.1M310.25 183.72V184.15M310.25 183.72H314.1M310.25 184.15H311.23M309.4 183.44V183.93M309.4 183.44H314.1M309.4 183.93H310.25M309.54 184.57V184.86M309.54 184.57H314.1M309.54 184.86H314.1M309.69 185.14V185.43M309.69 185.14H314.1M309.69 185.43H314.1M308.61 184.72V185.28M308.61 184.72H309.54M308.61 185.28H309.69M307.51 183.69V185M307.51 183.69H309.4M307.51 185H308.61M310.71 185.71V185.99M310.71 185.71H314.1M310.71 185.99H314.1M312.7 187.13V187.41M312.7 187.13H314.1M312.7 187.41H314.1M312.6 186.85V187.27M312.6 186.85H314.1M312.6 187.27H312.7M311.96 186.56V187.06M311.96 186.56H314.1M311.96 187.06H312.6M311.59 186.81V187.7M311.59 186.81H311.96M311.59 187.7H314.1M310.8 186.28V187.25M310.8 186.28H314.1M310.8 187.25H311.59M310.34 185.85V186.77M310.34 185.85H310.71M310.34 186.77H310.8M310.86 187.98V188.27M310.86 187.98H314.1M310.86 188.27H314.1M309.35 186.31V188.12M309.35 186.31H310.34M309.35 188.12H310.86M310.73 188.83V189.12M310.73 188.83H314.1M310.73 189.12H314.1M309.93 188.55V188.98M309.93 188.55H314.1M309.93 188.98H310.73M312.05 189.69V189.97M312.05 189.69H314.1M312.05 189.97H314.1M311.63 189.83V190.25M311.63 189.83H312.05M311.63 190.25H314.1M310.55 189.4V190.04M310.55 189.4H314.1M310.55 190.04H311.63M309.36 188.76V189.72M309.36 188.76H309.93M309.36 189.72H310.55M310.83 190.54V190.82M310.83 190.54H314.1M310.83 190.82H314.1M311.28 191.11V191.39M311.28 191.11H314.1M311.28 191.39H314.1M312.06 191.67V191.96M312.06 191.67H314.1M312.06 191.96H314.1M311.11 191.25V191.82M311.11 191.25H311.28M311.11 191.82H312.06M310.07 190.68V191.53M310.07 190.68H310.83M310.07 191.53H311.11M308.97 189.24V191.11M308.97 189.24H309.36M308.97 191.11H310.07M308.49 187.22V190.17M308.49 187.22H309.35M308.49 190.17H308.97M306.73 184.34V188.7M306.73 184.34H307.51M306.73 188.7H308.49M304.7 179.66V186.52M304.7 179.66H305.34M304.7 186.52H306.73M301.95 173.14V183.09M301.95 173.14H305.72M301.95 183.09H304.7M296.8 16.51V178.11M296.8 16.51H299.88M296.8 37.39H303.67M296.8 59.3H299.89M296.8 85.05H302.53M296.8 105.01H303.21M296.8 123.36H303.3M296.8 141.54H301.67M296.8 157.81H302.12M296.8 178.11H301.95" stroke="#111" stroke-width="0.4" fill="none"/>
<rect x="310.6" y="9" width="3.6" height="183.2" fill="#000"/>
<text x="262.5" y="100" font-size="7.2" text-anchor="start" font-weight="normal" fill="#333" stroke="#333" stroke-width="0.25" >lncRNA</text>
<text x="262.5" y="109.7" font-size="7.2" text-anchor="start" font-weight="normal" fill="#333" stroke="#333" stroke-width="0.25" word-spacing="1.45">N = 1489</text>
<text x="328.8" y="200.6" font-size="7.5" text-anchor="middle" font-weight="normal" fill="#222" stroke="#222" stroke-width="0.25" >HSC</text>
<text x="368.6" y="200.6" font-size="7.5" text-anchor="middle" font-weight="normal" fill="#222" stroke="#222" stroke-width="0.25" >MPP</text>
<text x="402.2" y="200.6" font-size="7.5" text-anchor="middle" font-weight="normal" fill="#222" stroke="#222" stroke-width="0.25" >CMP</text>
<text x="437" y="200.6" font-size="7.5" text-anchor="middle" font-weight="normal" fill="#222" stroke="#222" stroke-width="0.25" >MEP</text>
<text x="479.5" y="200.6" font-size="7.5" text-anchor="middle" font-weight="normal" fill="#222" stroke="#222" stroke-width="0.25" >EP</text>
<rect x="496.4" y="8.9" width="4.7" height="73.1" fill="url(#cbar)"/>
<text x="503.1" y="14.48" font-size="6.6" text-anchor="start" font-weight="normal" fill="#2a2a2a" stroke="#2a2a2a" stroke-width="0.25" letter-spacing="0.15">1.5</text>
<text x="503.1" y="25.69" font-size="6.6" text-anchor="start" font-weight="normal" fill="#2a2a2a" stroke="#2a2a2a" stroke-width="0.25" letter-spacing="0.15">1</text>
<text x="503.1" y="36.91" font-size="6.6" text-anchor="start" font-weight="normal" fill="#2a2a2a" stroke="#2a2a2a" stroke-width="0.25" letter-spacing="0.15">0.5</text>
<text x="503.1" y="48.13" font-size="6.6" text-anchor="start" font-weight="normal" fill="#2a2a2a" stroke="#2a2a2a" stroke-width="0.25" letter-spacing="0.15">0</text>
<text x="503.1" y="59.34" font-size="6.6" text-anchor="start" font-weight="normal" fill="#2a2a2a" stroke="#2a2a2a" stroke-width="0.25" letter-spacing="0.15">−0.5</text>
<text x="503.1" y="70.56" font-size="6.6" text-anchor="start" font-weight="normal" fill="#2a2a2a" stroke="#2a2a2a" stroke-width="0.25" letter-spacing="0.15">−1</text>
<text x="503.1" y="81.78" font-size="6.6" text-anchor="start" font-weight="normal" fill="#2a2a2a" stroke="#2a2a2a" stroke-width="0.25" letter-spacing="0.15">−1.5</text>
<text x="283" y="16.4" font-size="11.8" text-anchor="start" font-weight="bold" fill="#111" >B</text>
<rect x="48.5" y="219.8" width="21.84" height="9.6" fill="#73cded" shape-rendering="crispEdges"/>
<rect x="70.04" y="219.8" width="21.84" height="9.6" fill="#73cded" shape-rendering="crispEdges"/>
<rect x="91.58" y="219.8" width="21.84" height="9.6" fill="#c2e9f7" shape-rendering="crispEdges"/>
<rect x="113.12" y="219.8" width="21.84" height="9.6" fill="#eda7aa" shape-rendering="crispEdges"/>
<rect x="134.66" y="219.8" width="21.84" height="9.6" fill="#db4f55" shape-rendering="crispEdges"/>
<rect x="48.5" y="229.1" width="21.84" height="9.6" fill="#73cded" shape-rendering="crispEdges"/>
<rect x="70.04" y="229.1" width="21.84" height="9.6" fill="#73cded" shape-rendering="crispEdges"/>
<rect x="91.58" y="229.1" width="21.84" height="9.6" fill="#b3e4f5" shape-rendering="crispEdges"/>
<rect x="113.12" y="229.1" width="21.84" height="9.6" fill="#f0b6b8" shape-rendering="crispEdges"/>
<rect x="134.66" y="229.1" width="21.84" height="9.6" fill="#d84046" shape-rendering="crispEdges"/>
<rect x="48.5" y="238.4" width="21.84" height="9.6" fill="#c2e9f7" shape-rendering="crispEdges"/>
<rect x="70.04" y="238.4" width="21.84" height="9.6" fill="#a4dff3" shape-rendering="crispEdges"/>
<rect x="91.58" y="238.4" width="21.84" height="9.6" fill="#83d3ef" shape-rendering="crispEdges"/>
<rect x="113.12" y="238.4" width="21.84" height="9.6" fill="#ebf8fc" shape-rendering="crispEdges"/>
<rect x="134.66" y="238.4" width="21.84" height="9.6" fill="#d2232a" shape-rendering="crispEdges"/>
<rect x="48.5" y="247.7" width="21.84" height="9.6" fill="#a4dff3" shape-rendering="crispEdges"/>
<rect x="70.04" y="247.7" width="21.84" height="9.6" fill="#94d9f1" shape-rendering="crispEdges"/>
<rect x="91.58" y="247.7" width="21.84" height="9.6" fill="#d0eef9" shape-rendering="crispEdges"/>
<rect x="113.12" y="247.7" width="21.84" height="9.6" fill="#d0eef9" shape-rendering="crispEdges"/>
<rect x="134.66" y="247.7" width="21.84" height="9.6" fill="#d2232a" shape-rendering="crispEdges"/>
<rect x="48.5" y="257" width="21.84" height="9.6" fill="#c2e9f7" shape-rendering="crispEdges"/>
<rect x="70.04" y="257" width="21.84" height="9.6" fill="#c2e9f7" shape-rendering="crispEdges"/>
<rect x="91.58" y="257" width="21.84" height="9.6" fill="#b3e4f5" shape-rendering="crispEdges"/>
<rect x="113.12" y="257" width="21.84" height="9.6" fill="#b3e4f5" shape-rendering="crispEdges"/>
<rect x="134.66" y="257" width="21.84" height="9.6" fill="#d2232a" shape-rendering="crispEdges"/>
<rect x="48.5" y="266.3" width="21.84" height="9.6" fill="#d0eef9" shape-rendering="crispEdges"/>
<rect x="70.04" y="266.3" width="21.84" height="9.6" fill="#c2e9f7" shape-rendering="crispEdges"/>
<rect x="91.58" y="266.3" width="21.84" height="9.6" fill="#a4dff3" shape-rendering="crispEdges"/>
<rect x="113.12" y="266.3" width="21.84" height="9.6" fill="#a4dff3" shape-rendering="crispEdges"/>
<rect x="134.66" y="266.3" width="21.84" height="9.6" fill="#d2232a" shape-rendering="crispEdges"/>
<rect x="48.5" y="275.6" width="21.84" height="9.6" fill="#a4dff3" shape-rendering="crispEdges"/>
<rect x="70.04" y="275.6" width="21.84" height="9.6" fill="#a4dff3" shape-rendering="crispEdges"/>
<rect x="91.58" y="275.6" width="21.84" height="9.6" fill="#d0eef9" shape-rendering="crispEdges"/>
<rect x="113.12" y="275.6" width="21.84" height="9.6" fill="#c2e9f7" shape-rendering="crispEdges"/>
<rect x="134.66" y="275.6" width="21.84" height="9.6" fill="#d2232a" shape-rendering="crispEdges"/>
<rect x="48.5" y="284.9" width="21.84" height="9.6" fill="#bbe7f6" shape-rendering="crispEdges"/>
<rect x="70.04" y="284.9" width="21.84" height="9.6" fill="#bbe7f6" shape-rendering="crispEdges"/>
<rect x="91.58" y="284.9" width="21.84" height="9.6" fill="#bbe7f6" shape-rendering="crispEdges"/>
<rect x="113.12" y="284.9" width="21.84" height="9.6" fill="#bbe7f6" shape-rendering="crispEdges"/>
<rect x="134.66" y="284.9" width="21.84" height="9.6" fill="#d2232a" shape-rendering="crispEdges"/>
<rect x="48.5" y="294.2" width="21.84" height="9.6" fill="#bbe7f6" shape-rendering="crispEdges"/>
<rect x="70.04" y="294.2" width="21.84" height="9.6" fill="#bbe7f6" shape-rendering="crispEdges"/>
<rect x="91.58" y="294.2" width="21.84" height="9.6" fill="#bbe7f6" shape-rendering="crispEdges"/>
<rect x="113.12" y="294.2" width="21.84" height="9.6" fill="#c2e9f7" shape-rendering="crispEdges"/>
<rect x="134.66" y="294.2" width="21.84" height="9.6" fill="#d2232a" shape-rendering="crispEdges"/>
<rect x="48.5" y="303.5" width="21.84" height="9.6" fill="#c2e9f7" shape-rendering="crispEdges"/>
<rect x="70.04" y="303.5" width="21.84" height="9.6" fill="#c2e9f7" shape-rendering="crispEdges"/>
<rect x="91.58" y="303.5" width="21.84" height="9.6" fill="#c2e9f7" shape-rendering="crispEdges"/>
<rect x="113.12" y="303.5" width="21.84" height="9.6" fill="#c2e9f7" shape-rendering="crispEdges"/>
<rect x="134.66" y="303.5" width="21.84" height="9.6" fill="#d2232a" shape-rendering="crispEdges"/>
<rect x="48.5" y="312.8" width="21.84" height="9.6" fill="#b3e4f5" shape-rendering="crispEdges"/>
<rect x="70.04" y="312.8" width="21.84" height="9.6" fill="#51c1e9" shape-rendering="crispEdges"/>
<rect x="91.58" y="312.8" width="21.84" height="9.6" fill="#f6d3d4" shape-rendering="crispEdges"/>
<rect x="113.12" y="312.8" width="21.84" height="9.6" fill="#d84046" shape-rendering="crispEdges"/>
<rect x="134.66" y="312.8" width="21.84" height="9.6" fill="#f1fafd" shape-rendering="crispEdges"/>
<rect x="48.5" y="322.1" width="21.84" height="9.6" fill="#eeaeb1" shape-rendering="crispEdges"/>
<rect x="70.04" y="322.1" width="21.84" height="9.6" fill="#94d9f1" shape-rendering="crispEdges"/>
<rect x="91.58" y="322.1" width="21.84" height="9.6" fill="#83d3ef" shape-rendering="crispEdges"/>
<rect x="113.12" y="322.1" width="21.84" height="9.6" fill="#db4f55" shape-rendering="crispEdges"/>
<rect x="134.66" y="322.1" width="21.84" height="9.6" fill="#c2e9f7" shape-rendering="crispEdges"/>
<rect x="48.5" y="331.4" width="21.84" height="9.6" fill="#eeaeb1" shape-rendering="crispEdges"/>
<rect x="70.04" y="331.4" width="21.84" height="9.6" fill="#62c7eb" shape-rendering="crispEdges"/>
<rect x="91.58" y="331.4" width="21.84" height="9.6" fill="#83d3ef" shape-rendering="crispEdges"/>
<rect x="113.12" y="331.4" width="21.84" height="9.6" fill="#e16c71" shape-rendering="crispEdges"/>
<rect x="134.66" y="331.4" width="21.84" height="9.6" fill="#ffffff" shape-rendering="crispEdges"/>
<rect x="48.5" y="340.7" width="21.84" height="9.6" fill="#eeaeb1" shape-rendering="crispEdges"/>
<rect x="70.04" y="340.7" width="21.84" height="9.6" fill="#51c1e9" shape-rendering="crispEdges"/>
<rect x="91.58" y="340.7" width="21.84" height="9.6" fill="#94d9f1" shape-rendering="crispEdges"/>
<rect x="113.12" y="340.7" width="21.84" height="9.6" fill="#de5e63" shape-rendering="crispEdges"/>
<rect x="134.66" y="340.7" width="21.84" height="9.6" fill="#f6fcfe" shape-rendering="crispEdges"/>
<rect x="48.5" y="350" width="21.84" height="9.6" fill="#f6fcfe" shape-rendering="crispEdges"/>
<rect x="70.04" y="350" width="21.84" height="9.6" fill="#f6fcfe" shape-rendering="crispEdges"/>
<rect x="91.58" y="350" width="21.84" height="9.6" fill="#51c1e9" shape-rendering="crispEdges"/>
<rect x="113.12" y="350" width="21.84" height="9.6" fill="#d2232a" shape-rendering="crispEdges"/>
<rect x="134.66" y="350" width="21.84" height="9.6" fill="#def3fb" shape-rendering="crispEdges"/>
<rect x="48.5" y="359.3" width="21.84" height="9.6" fill="#e4f6fc" shape-rendering="crispEdges"/>
<rect x="70.04" y="359.3" width="21.84" height="9.6" fill="#d0eef9" shape-rendering="crispEdges"/>
<rect x="91.58" y="359.3" width="21.84" height="9.6" fill="#83d3ef" shape-rendering="crispEdges"/>
<rect x="113.12" y="359.3" width="21.84" height="9.6" fill="#d2232a" shape-rendering="crispEdges"/>
<rect x="134.66" y="359.3" width="21.84" height="9.6" fill="#def3fb" shape-rendering="crispEdges"/>
<rect x="48.5" y="368.6" width="21.84" height="9.6" fill="#c9ecf8" shape-rendering="crispEdges"/>
<rect x="70.04" y="368.6" width="21.84" height="9.6" fill="#a4dff3" shape-rendering="crispEdges"/>
<rect x="91.58" y="368.6" width="21.84" height="9.6" fill="#f6fcfe" shape-rendering="crispEdges"/>
<rect x="113.12" y="368.6" width="21.84" height="9.6" fill="#d2232a" shape-rendering="crispEdges"/>
<rect x="134.66" y="368.6" width="21.84" height="9.6" fill="#a4dff3" shape-rendering="crispEdges"/>
<rect x="48.5" y="377.9" width="21.84" height="9.6" fill="#94d9f1" shape-rendering="crispEdges"/>
<rect x="70.04" y="377.9" width="21.84" height="9.6" fill="#c2e9f7" shape-rendering="crispEdges"/>
<rect x="91.58" y="377.9" width="21.84" height="9.6" fill="#b3e4f5" shape-rendering="crispEdges"/>
<rect x="113.12" y="377.9" width="21.84" height="9.6" fill="#d2232a" shape-rendering="crispEdges"/>
<rect x="134.66" y="377.9" width="21.84" height="9.6" fill="#f1fafd" shape-rendering="crispEdges"/>
<rect x="48.5" y="387.2" width="21.84" height="9.6" fill="#b3e4f5" shape-rendering="crispEdges"/>
<rect x="70.04" y="387.2" width="21.84" height="9.6" fill="#c2e9f7" shape-rendering="crispEdges"/>
<rect x="91.58" y="387.2" width="21.84" height="9.6" fill="#c9ecf8" shape-rendering="crispEdges"/>
<rect x="113.12" y="387.2" width="21.84" height="9.6" fill="#d2232a" shape-rendering="crispEdges"/>
<rect x="134.66" y="387.2" width="21.84" height="9.6" fill="#c9ecf8" shape-rendering="crispEdges"/>
<rect x="48.5" y="396.5" width="21.84" height="9.6" fill="#a4dff3" shape-rendering="crispEdges"/>
<rect x="70.04" y="396.5" width="21.84" height="9.6" fill="#def3fb" shape-rendering="crispEdges"/>
<rect x="91.58" y="396.5" width="21.84" height="9.6" fill="#c9ecf8" shape-rendering="crispEdges"/>
<rect x="113.12" y="396.5" width="21.84" height="9.6" fill="#d2232a" shape-rendering="crispEdges"/>
<rect x="134.66" y="396.5" width="21.84" height="9.6" fill="#c9ecf8" shape-rendering="crispEdges"/>
<rect x="48.5" y="405.8" width="21.84" height="9.6" fill="#fbfeff" shape-rendering="crispEdges"/>
<rect x="70.04" y="405.8" width="21.84" height="9.6" fill="#f1fafd" shape-rendering="crispEdges"/>
<rect x="91.58" y="405.8" width="21.84" height="9.6" fill="#d53238" shape-rendering="crispEdges"/>
<rect x="113.12" y="405.8" width="21.84" height="9.6" fill="#83d3ef" shape-rendering="crispEdges"/>
<rect x="134.66" y="405.8" width="21.84" height="9.6" fill="#94d9f1" shape-rendering="crispEdges"/>
<rect x="48.5" y="415.1" width="21.84" height="9.6" fill="#fef8f8" shape-rendering="crispEdges"/>
<rect x="70.04" y="415.1" width="21.84" height="9.6" fill="#62c7eb" shape-rendering="crispEdges"/>
<rect x="91.58" y="415.1" width="21.84" height="9.6" fill="#de5e63" shape-rendering="crispEdges"/>
<rect x="113.12" y="415.1" width="21.84" height="9.6" fill="#73cded" shape-rendering="crispEdges"/>
<rect x="134.66" y="415.1" width="21.84" height="9.6" fill="#f0b6b8" shape-rendering="crispEdges"/>
<rect x="48.5" y="424.4" width="21.84" height="9.6" fill="#e47b7f" shape-rendering="crispEdges"/>
<rect x="70.04" y="424.4" width="21.84" height="9.6" fill="#94d9f1" shape-rendering="crispEdges"/>
<rect x="91.58" y="424.4" width="21.84" height="9.6" fill="#e47b7f" shape-rendering="crispEdges"/>
<rect x="113.12" y="424.4" width="21.84" height="9.6" fill="#f6fcfe" shape-rendering="crispEdges"/>
<rect x="134.66" y="424.4" width="21.84" height="9.6" fill="#3fbbe7" shape-rendering="crispEdges"/>
<rect x="48.5" y="433.7" width="21.84" height="9.6" fill="#b3e4f5" shape-rendering="crispEdges"/>
<rect x="70.04" y="433.7" width="21.84" height="9.6" fill="#a4dff3" shape-rendering="crispEdges"/>
<rect x="91.58" y="433.7" width="21.84" height="9.6" fill="#d53238" shape-rendering="crispEdges"/>
<rect x="113.12" y="433.7" width="21.84" height="9.6" fill="#f9e2e3" shape-rendering="crispEdges"/>
<rect x="134.66" y="433.7" width="21.84" height="9.6" fill="#83d3ef" shape-rendering="crispEdges"/>
<rect x="48.5" y="443" width="21.84" height="9.6" fill="#a4dff3" shape-rendering="crispEdges"/>
<rect x="70.04" y="443" width="21.84" height="9.6" fill="#94d9f1" shape-rendering="crispEdges"/>
<rect x="91.58" y="443" width="21.84" height="9.6" fill="#d84046" shape-rendering="crispEdges"/>
<rect x="113.12" y="443" width="21.84" height="9.6" fill="#f0b6b8" shape-rendering="crispEdges"/>
<rect x="134.66" y="443" width="21.84" height="9.6" fill="#83d3ef" shape-rendering="crispEdges"/>
<rect x="48.5" y="452.3" width="21.84" height="9.6" fill="#a4dff3" shape-rendering="crispEdges"/>
<rect x="70.04" y="452.3" width="21.84" height="9.6" fill="#94d9f1" shape-rendering="crispEdges"/>
<rect x="91.58" y="452.3" width="21.84" height="9.6" fill="#d84046" shape-rendering="crispEdges"/>
<rect x="113.12" y="452.3" width="21.84" height="9.6" fill="#f4cccd" shape-rendering="crispEdges"/>
<rect x="134.66" y="452.3" width="21.84" height="9.6" fill="#83d3ef" shape-rendering="crispEdges"/>
<rect x="48.5" y="461.6" width="21.84" height="9.6" fill="#94d9f1" shape-rendering="crispEdges"/>
<rect x="70.04" y="461.6" width="21.84" height="9.6" fill="#b3e4f5" shape-rendering="crispEdges"/>
<rect x="91.58" y="461.6" width="21.84" height="9.6" fill="#d84046" shape-rendering="crispEdges"/>
<rect x="113.12" y="461.6" width="21.84" height="9.6" fill="#f6d3d4" shape-rendering="crispEdges"/>
<rect x="134.66" y="461.6" width="21.84" height="9.6" fill="#83d3ef" shape-rendering="crispEdges"/>
<rect x="48.5" y="470.9" width="21.84" height="9.6" fill="#ffffff" shape-rendering="crispEdges"/>
<rect x="70.04" y="470.9" width="21.84" height="9.6" fill="#94d9f1" shape-rendering="crispEdges"/>
<rect x="91.58" y="470.9" width="21.84" height="9.6" fill="#de5e63" shape-rendering="crispEdges"/>
<rect x="113.12" y="470.9" width="21.84" height="9.6" fill="#f0b6b8" shape-rendering="crispEdges"/>
<rect x="134.66" y="470.9" width="21.84" height="9.6" fill="#3fbbe7" shape-rendering="crispEdges"/>
<rect x="48.5" y="480.2" width="21.84" height="9.6" fill="#fcf0f1" shape-rendering="crispEdges"/>
<rect x="70.04" y="480.2" width="21.84" height="9.6" fill="#94d9f1" shape-rendering="crispEdges"/>
<rect x="91.58" y="480.2" width="21.84" height="9.6" fill="#d84046" shape-rendering="crispEdges"/>
<rect x="113.12" y="480.2" width="21.84" height="9.6" fill="#f9e2e3" shape-rendering="crispEdges"/>
<rect x="134.66" y="480.2" width="21.84" height="9.6" fill="#3fbbe7" shape-rendering="crispEdges"/>
<rect x="48.5" y="489.5" width="21.84" height="9.6" fill="#fae9ea" shape-rendering="crispEdges"/>
<rect x="70.04" y="489.5" width="21.84" height="9.6" fill="#a4dff3" shape-rendering="crispEdges"/>
<rect x="91.58" y="489.5" width="21.84" height="9.6" fill="#d6393f" shape-rendering="crispEdges"/>
<rect x="113.12" y="489.5" width="21.84" height="9.6" fill="#ffffff" shape-rendering="crispEdges"/>
<rect x="134.66" y="489.5" width="21.84" height="9.6" fill="#3fbbe7" shape-rendering="crispEdges"/>
<rect x="48.5" y="498.8" width="21.84" height="9.6" fill="#d84046" shape-rendering="crispEdges"/>
<rect x="70.04" y="498.8" width="21.84" height="9.6" fill="#f3c4c6" shape-rendering="crispEdges"/>
<rect x="91.58" y="498.8" width="21.84" height="9.6" fill="#83d3ef" shape-rendering="crispEdges"/>
<rect x="113.12" y="498.8" width="21.84" height="9.6" fill="#83d3ef" shape-rendering="crispEdges"/>
<rect x="134.66" y="498.8" width="21.84" height="9.6" fill="#f1fafd" shape-rendering="crispEdges"/>
<rect x="48.5" y="508.1" width="21.84" height="9.6" fill="#d53238" shape-rendering="crispEdges"/>
<rect x="70.04" y="508.1" width="21.84" height="9.6" fill="#fae9ea" shape-rendering="crispEdges"/>
<rect x="91.58" y="508.1" width="21.84" height="9.6" fill="#b3e4f5" shape-rendering="crispEdges"/>
<rect x="113.12" y="508.1" width="21.84" height="9.6" fill="#b3e4f5" shape-rendering="crispEdges"/>
<rect x="134.66" y="508.1" width="21.84" height="9.6" fill="#94d9f1" shape-rendering="crispEdges"/>
<rect x="48.5" y="517.4" width="21.84" height="9.6" fill="#d2232a" shape-rendering="crispEdges"/>
<rect x="70.04" y="517.4" width="21.84" height="9.6" fill="#fef8f8" shape-rendering="crispEdges"/>
<rect x="91.58" y="517.4" width="21.84" height="9.6" fill="#c2e9f7" shape-rendering="crispEdges"/>
<rect x="113.12" y="517.4" width="21.84" height="9.6" fill="#83d3ef" shape-rendering="crispEdges"/>
<rect x="134.66" y="517.4" width="21.84" height="9.6" fill="#b3e4f5" shape-rendering="crispEdges"/>
<rect x="48.5" y="526.7" width="21.84" height="9.6" fill="#d2232a" shape-rendering="crispEdges"/>
<rect x="70.04" y="526.7" width="21.84" height="9.6" fill="#d0eef9" shape-rendering="crispEdges"/>
<rect x="91.58" y="526.7" width="21.84" height="9.6" fill="#d0eef9" shape-rendering="crispEdges"/>
<rect x="113.12" y="526.7" width="21.84" height="9.6" fill="#c2e9f7" shape-rendering="crispEdges"/>
<rect x="134.66" y="526.7" width="21.84" height="9.6" fill="#b3e4f5" shape-rendering="crispEdges"/>
<rect x="48.5" y="536" width="21.84" height="9.6" fill="#d2232a" shape-rendering="crispEdges"/>
<rect x="70.04" y="536" width="21.84" height="9.6" fill="#ffffff" shape-rendering="crispEdges"/>
<rect x="91.58" y="536" width="21.84" height="9.6" fill="#b3e4f5" shape-rendering="crispEdges"/>
<rect x="113.12" y="536" width="21.84" height="9.6" fill="#def3fb" shape-rendering="crispEdges"/>
<rect x="134.66" y="536" width="21.84" height="9.6" fill="#94d9f1" shape-rendering="crispEdges"/>
<rect x="48.5" y="545.3" width="21.84" height="9.6" fill="#d2232a" shape-rendering="crispEdges"/>
<rect x="70.04" y="545.3" width="21.84" height="9.6" fill="#ffffff" shape-rendering="crispEdges"/>
<rect x="91.58" y="545.3" width="21.84" height="9.6" fill="#d7f1fa" shape-rendering="crispEdges"/>
<rect x="113.12" y="545.3" width="21.84" height="9.6" fill="#bbe7f6" shape-rendering="crispEdges"/>
<rect x="134.66" y="545.3" width="21.84" height="9.6" fill="#94d9f1" shape-rendering="crispEdges"/>
<rect x="48.5" y="554.6" width="21.84" height="9.6" fill="#d84046" shape-rendering="crispEdges"/>
<rect x="70.04" y="554.6" width="21.84" height="9.6" fill="#f8dadc" shape-rendering="crispEdges"/>
<rect x="91.58" y="554.6" width="21.84" height="9.6" fill="#94d9f1" shape-rendering="crispEdges"/>
<rect x="113.12" y="554.6" width="21.84" height="9.6" fill="#ffffff" shape-rendering="crispEdges"/>
<rect x="134.66" y="554.6" width="21.84" height="9.6" fill="#73cded" shape-rendering="crispEdges"/>
<rect x="48.5" y="563.9" width="21.84" height="9.6" fill="#db4f55" shape-rendering="crispEdges"/>
<rect x="70.04" y="563.9" width="21.84" height="9.6" fill="#f3c4c6" shape-rendering="crispEdges"/>
<rect x="91.58" y="563.9" width="21.84" height="9.6" fill="#94d9f1" shape-rendering="crispEdges"/>
<rect x="113.12" y="563.9" width="21.84" height="9.6" fill="#fae9ea" shape-rendering="crispEdges"/>
<rect x="134.66" y="563.9" width="21.84" height="9.6" fill="#3fbbe7" shape-rendering="crispEdges"/>
<rect x="48.5" y="573.2" width="21.84" height="9.6" fill="#d2232a" shape-rendering="crispEdges"/>
<rect x="70.04" y="573.2" width="21.84" height="9.6" fill="#d0eef9" shape-rendering="crispEdges"/>
<rect x="91.58" y="573.2" width="21.84" height="9.6" fill="#ebf8fc" shape-rendering="crispEdges"/>
<rect x="113.12" y="573.2" width="21.84" height="9.6" fill="#ffffff" shape-rendering="crispEdges"/>
<rect x="134.66" y="573.2" width="21.84" height="9.6" fill="#83d3ef" shape-rendering="crispEdges"/>
<rect x="48.5" y="582.5" width="21.84" height="9.6" fill="#d53238" shape-rendering="crispEdges"/>
<rect x="70.04" y="582.5" width="21.84" height="9.6" fill="#ffffff" shape-rendering="crispEdges"/>
<rect x="91.58" y="582.5" width="21.84" height="9.6" fill="#fae9ea" shape-rendering="crispEdges"/>
<rect x="113.12" y="582.5" width="21.84" height="9.6" fill="#c2e9f7" shape-rendering="crispEdges"/>
<rect x="134.66" y="582.5" width="21.84" height="9.6" fill="#62c7eb" shape-rendering="crispEdges"/>
<rect x="48.5" y="591.8" width="21.84" height="9.6" fill="#d7f1fa" shape-rendering="crispEdges"/>
<rect x="70.04" y="591.8" width="21.84" height="9.6" fill="#d2232a" shape-rendering="crispEdges"/>
<rect x="91.58" y="591.8" width="21.84" height="9.6" fill="#83d3ef" shape-rendering="crispEdges"/>
<rect x="113.12" y="591.8" width="21.84" height="9.6" fill="#d0eef9" shape-rendering="crispEdges"/>
<rect x="134.66" y="591.8" width="21.84" height="9.6" fill="#d0eef9" shape-rendering="crispEdges"/>
<rect x="48.5" y="601.1" width="21.84" height="9.6" fill="#f9e2e3" shape-rendering="crispEdges"/>
<rect x="70.04" y="601.1" width="21.84" height="9.6" fill="#d53238" shape-rendering="crispEdges"/>
<rect x="91.58" y="601.1" width="21.84" height="9.6" fill="#def3fb" shape-rendering="crispEdges"/>
<rect x="113.12" y="601.1" width="21.84" height="9.6" fill="#b3e4f5" shape-rendering="crispEdges"/>
<rect x="134.66" y="601.1" width="21.84" height="9.6" fill="#73cded" shape-rendering="crispEdges"/>
<rect x="48.5" y="610.4" width="21.84" height="9.6" fill="#d7f1fa" shape-rendering="crispEdges"/>
<rect x="70.04" y="610.4" width="21.84" height="9.6" fill="#d2232a" shape-rendering="crispEdges"/>
<rect x="91.58" y="610.4" width="21.84" height="9.6" fill="#f1fafd" shape-rendering="crispEdges"/>
<rect x="113.12" y="610.4" width="21.84" height="9.6" fill="#c2e9f7" shape-rendering="crispEdges"/>
<rect x="134.66" y="610.4" width="21.84" height="9.6" fill="#83d3ef" shape-rendering="crispEdges"/>
<rect x="48.5" y="619.7" width="21.84" height="9.6" fill="#f2bdbf" shape-rendering="crispEdges"/>
<rect x="70.04" y="619.7" width="21.84" height="9.6" fill="#d84046" shape-rendering="crispEdges"/>
<rect x="91.58" y="619.7" width="21.84" height="9.6" fill="#d0eef9" shape-rendering="crispEdges"/>
<rect x="113.12" y="619.7" width="21.84" height="9.6" fill="#f1fafd" shape-rendering="crispEdges"/>
<rect x="134.66" y="619.7" width="21.84" height="9.6" fill="#3fbbe7" shape-rendering="crispEdges"/>
<rect x="48.5" y="629" width="21.84" height="9.6" fill="#f8dadc" shape-rendering="crispEdges"/>
<rect x="70.04" y="629" width="21.84" height="9.6" fill="#db4f55" shape-rendering="crispEdges"/>
<rect x="91.58" y="629" width="21.84" height="9.6" fill="#d0eef9" shape-rendering="crispEdges"/>
<rect x="113.12" y="629" width="21.84" height="9.6" fill="#ffffff" shape-rendering="crispEdges"/>
<rect x="134.66" y="629" width="21.84" height="9.6" fill="#2db4e4" shape-rendering="crispEdges"/>
<rect x="48.5" y="638.3" width="21.84" height="9.6" fill="#f3c4c6" shape-rendering="crispEdges"/>
<rect x="70.04" y="638.3" width="21.84" height="9.6" fill="#dc565c" shape-rendering="crispEdges"/>
<rect x="91.58" y="638.3" width="21.84" height="9.6" fill="#f6fcfe" shape-rendering="crispEdges"/>
<rect x="113.12" y="638.3" width="21.84" height="9.6" fill="#ffffff" shape-rendering="crispEdges"/>
<rect x="134.66" y="638.3" width="21.84" height="9.6" fill="#1baee2" shape-rendering="crispEdges"/>
<rect x="48.5" y="647.6" width="21.84" height="9.6" fill="#f2bdbf" shape-rendering="crispEdges"/>
<rect x="70.04" y="647.6" width="21.84" height="9.6" fill="#dc565c" shape-rendering="crispEdges"/>
<rect x="91.58" y="647.6" width="21.84" height="9.6" fill="#f1fafd" shape-rendering="crispEdges"/>
<rect x="113.12" y="647.6" width="21.84" height="9.6" fill="#f1fafd" shape-rendering="crispEdges"/>
<rect x="134.66" y="647.6" width="21.84" height="9.6" fill="#2db4e4" shape-rendering="crispEdges"/>
<rect x="48.5" y="656.9" width="21.84" height="9.6" fill="#f0b6b8" shape-rendering="crispEdges"/>
<rect x="70.04" y="656.9" width="21.84" height="9.6" fill="#de5e63" shape-rendering="crispEdges"/>
<rect x="91.58" y="656.9" width="21.84" height="9.6" fill="#d7f1fa" shape-rendering="crispEdges"/>
<rect x="113.12" y="656.9" width="21.84" height="9.6" fill="#f1fafd" shape-rendering="crispEdges"/>
<rect x="134.66" y="656.9" width="21.84" height="9.6" fill="#2db4e4" shape-rendering="crispEdges"/>
<rect x="48.5" y="666.2" width="21.84" height="9.6" fill="#c2e9f7" shape-rendering="crispEdges"/>
<rect x="70.04" y="666.2" width="21.84" height="9.6" fill="#d84046" shape-rendering="crispEdges"/>
<rect x="91.58" y="666.2" width="21.84" height="9.6" fill="#e4f6fc" shape-rendering="crispEdges"/>
<rect x="113.12" y="666.2" width="21.84" height="9.6" fill="#f2bdbf" shape-rendering="crispEdges"/>
<rect x="134.66" y="666.2" width="21.84" height="9.6" fill="#62c7eb" shape-rendering="crispEdges"/>
<rect x="48.5" y="675.5" width="21.84" height="9.6" fill="#f6fcfe" shape-rendering="crispEdges"/>
<rect x="70.04" y="675.5" width="21.84" height="9.6" fill="#e47b7f" shape-rendering="crispEdges"/>
<rect x="91.58" y="675.5" width="21.84" height="9.6" fill="#f2bdbf" shape-rendering="crispEdges"/>
<rect x="113.12" y="675.5" width="21.84" height="9.6" fill="#f3c4c6" shape-rendering="crispEdges"/>
<rect x="134.66" y="675.5" width="21.84" height="9.6" fill="#1baee2" shape-rendering="crispEdges"/>
<text x="158.8" y="226.55" font-size="6" text-anchor="start" font-weight="normal" fill="#222" stroke="#222" stroke-width="0.25" >CYTOR</text>
<text x="158.8" y="235.85" font-size="6" text-anchor="start" font-weight="normal" fill="#222" stroke="#222" stroke-width="0.25" >PVT1</text>
<text x="158.8" y="245.15" font-size="6" text-anchor="start" font-weight="normal" fill="#222" stroke="#222" stroke-width="0.25" >AL121658 .1</text>
<text x="158.8" y="254.45" font-size="6" text-anchor="start" font-weight="normal" fill="#222" stroke="#222" stroke-width="0.25" >LINC0112 8</text>
<text x="158.8" y="263.75" font-size="6" text-anchor="start" font-weight="normal" fill="#222" stroke="#222" stroke-width="0.25" >BGLT3</text>
<text x="158.8" y="273.05" font-size="6" text-anchor="start" font-weight="normal" fill="#222" stroke="#222" stroke-width="0.25" >PCED1B-AS1</text>
<text x="158.8" y="282.35" font-size="6" text-anchor="start" font-weight="normal" fill="#222" stroke="#222" stroke-width="0.25" >AC100835 .2</text>
<text x="158.8" y="291.65" font-size="6" text-anchor="start" font-weight="normal" fill="#222" stroke="#222" stroke-width="0.25" >LINC0113 3</text>
<text x="158.8" y="300.95" font-size="6" text-anchor="start" font-weight="normal" fill="#222" stroke="#222" stroke-width="0.25" >AC090409 .1</text>
<text x="158.8" y="310.25" font-size="6" text-anchor="start" font-weight="normal" fill="#222" stroke="#222" stroke-width="0.25" >UCA1</text>
<text x="158.8" y="319.55" font-size="6" text-anchor="start" font-weight="normal" fill="#222" stroke="#222" stroke-width="0.25" >DANCR</text>
<text x="158.8" y="328.85" font-size="6" text-anchor="start" font-weight="normal" fill="#222" stroke="#222" stroke-width="0.25" >AC018521 .5</text>
<text x="158.8" y="338.15" font-size="6" text-anchor="start" font-weight="normal" fill="#222" stroke="#222" stroke-width="0.25" >AC004069 .1</text>
<text x="158.8" y="347.45" font-size="6" text-anchor="start" font-weight="normal" fill="#222" stroke="#222" stroke-width="0.25" >AL157392 .3</text>
<text x="158.8" y="356.75" font-size="6" text-anchor="start" font-weight="normal" fill="#222" stroke="#222" stroke-width="0.25" >AC010615 .2</text>
<text x="158.8" y="366.05" font-size="6" text-anchor="start" font-weight="normal" fill="#222" stroke="#222" stroke-width="0.25" >AC093227 .1</text>
<text x="158.8" y="375.35" font-size="6" text-anchor="start" font-weight="normal" fill="#222" stroke="#222" stroke-width="0.25" >LINC0153 5</text>
<text x="158.8" y="384.65" font-size="6" text-anchor="start" font-weight="normal" fill="#222" stroke="#222" stroke-width="0.25" >AC108488 .1</text>
<text x="158.8" y="393.95" font-size="6" text-anchor="start" font-weight="normal" fill="#222" stroke="#222" stroke-width="0.25" >AL512598 .1</text>
<text x="158.8" y="403.25" font-size="6" text-anchor="start" font-weight="normal" fill="#222" stroke="#222" stroke-width="0.25" >SNHG25</text>
<text x="158.8" y="412.55" font-size="6" text-anchor="start" font-weight="normal" fill="#222" stroke="#222" stroke-width="0.25" >MIATNB</text>
<text x="158.8" y="421.85" font-size="6" text-anchor="start" font-weight="normal" fill="#222" stroke="#222" stroke-width="0.25" >OLMALINC</text>
<text x="158.8" y="431.15" font-size="6" text-anchor="start" font-weight="normal" fill="#222" stroke="#222" stroke-width="0.25" >AP002360 .1</text>
<text x="158.8" y="440.45" font-size="6" text-anchor="start" font-weight="normal" fill="#222" stroke="#222" stroke-width="0.25" >SNHG11</text>
<text x="158.8" y="449.75" font-size="6" text-anchor="start" font-weight="normal" fill="#222" stroke="#222" stroke-width="0.25" >AC020910 .4</text>
<text x="158.8" y="459.05" font-size="6" text-anchor="start" font-weight="normal" fill="#222" stroke="#222" stroke-width="0.25" >AC092171 .5</text>
<text x="158.8" y="468.35" font-size="6" text-anchor="start" font-weight="normal" fill="#222" stroke="#222" stroke-width="0.25" >AC244502 .1</text>
<text x="158.8" y="477.65" font-size="6" text-anchor="start" font-weight="normal" fill="#222" stroke="#222" stroke-width="0.25" >LINC0066 7</text>
<text x="158.8" y="486.95" font-size="6" text-anchor="start" font-weight="normal" fill="#222" stroke="#222" stroke-width="0.25" >ILF3-DT</text>
<text x="158.8" y="496.25" font-size="6" text-anchor="start" font-weight="normal" fill="#222" stroke="#222" stroke-width="0.25" >LINC0202 1</text>
<text x="158.8" y="505.55" font-size="6" text-anchor="start" font-weight="normal" fill="#222" stroke="#222" stroke-width="0.25" >MALAT1</text>
<text x="158.8" y="514.85" font-size="6" text-anchor="start" font-weight="normal" fill="#222" stroke="#222" stroke-width="0.25" >AJ009632 .2</text>
<text x="158.8" y="524.15" font-size="6" text-anchor="start" font-weight="normal" fill="#222" stroke="#222" stroke-width="0.25" >LINC01515</text>
<text x="158.8" y="533.45" font-size="6" text-anchor="start" font-weight="normal" fill="#222" stroke="#222" stroke-width="0.25" >AC245014 .3</text>
<text x="158.8" y="542.75" font-size="6" text-anchor="start" font-weight="normal" fill="#222" stroke="#222" stroke-width="0.25" >CCDC 18-AS1</text>
<text x="158.8" y="552.05" font-size="6" text-anchor="start" font-weight="normal" fill="#222" stroke="#222" stroke-width="0.25" >MEG3</text>
<text x="158.8" y="561.35" font-size="6" text-anchor="start" font-weight="normal" fill="#222" stroke="#222" stroke-width="0.25" >AC092683 .1</text>
<text x="158.8" y="570.65" font-size="6" text-anchor="start" font-weight="normal" fill="#222" stroke="#222" stroke-width="0.25" >PRKCQ-AS1</text>
<text x="158.8" y="579.95" font-size="6" text-anchor="start" font-weight="normal" fill="#222" stroke="#222" stroke-width="0.25" >LINC02160</text>
<text x="158.8" y="589.25" font-size="6" text-anchor="start" font-weight="normal" fill="#222" stroke="#222" stroke-width="0.25" >XIST</text>
<text x="158.8" y="598.55" font-size="6" text-anchor="start" font-weight="normal" fill="#222" stroke="#222" stroke-width="0.25" >AC246817 .2</text>
<text x="158.8" y="607.85" font-size="6" text-anchor="start" font-weight="normal" fill="#222" stroke="#222" stroke-width="0.25" >AL138478 .1</text>
<text x="158.8" y="617.15" font-size="6" text-anchor="start" font-weight="normal" fill="#222" stroke="#222" stroke-width="0.25" >LINC01619</text>
<text x="158.8" y="626.45" font-size="6" text-anchor="start" font-weight="normal" fill="#222" stroke="#222" stroke-width="0.25" >LINC01578</text>
<text x="158.8" y="635.75" font-size="6" text-anchor="start" font-weight="normal" fill="#222" stroke="#222" stroke-width="0.25" >TRIM52-AS1</text>
<text x="158.8" y="645.05" font-size="6" text-anchor="start" font-weight="normal" fill="#222" stroke="#222" stroke-width="0.25" >AL008729 .2</text>
<text x="158.8" y="654.35" font-size="6" text-anchor="start" font-weight="normal" fill="#222" stroke="#222" stroke-width="0.25" >GAS5</text>
<text x="158.8" y="663.65" font-size="6" text-anchor="start" font-weight="normal" fill="#222" stroke="#222" stroke-width="0.25" >LRRC 75 A-AS1</text>
<text x="158.8" y="672.95" font-size="6" text-anchor="start" font-weight="normal" fill="#222" stroke="#222" stroke-width="0.25" >SNHG1</text>
<text x="158.8" y="682.25" font-size="6" text-anchor="start" font-weight="normal" fill="#222" stroke="#222" stroke-width="0.25" >SNHG6</text>
<text x="58.6" y="692.7" font-size="6" text-anchor="middle" font-weight="normal" fill="#333" stroke="#333" stroke-width="0.25" >HSC</text>
<text x="83.2" y="692.7" font-size="6" text-anchor="middle" font-weight="normal" fill="#333" stroke="#333" stroke-width="0.25" >MPP</text>
<text x="104" y="692.7" font-size="6" text-anchor="middle" font-weight="normal" fill="#333" stroke="#333" stroke-width="0.25" >CMP</text>
<text x="123.4" y="692.7" font-size="6" text-anchor="middle" font-weight="normal" fill="#333" stroke="#333" stroke-width="0.25" >MEP</text>
<text x="145" y="692.7" font-size="6" text-anchor="middle" font-weight="normal" fill="#333" stroke="#333" stroke-width="0.25" >EB</text>
<rect x="201.2" y="219.8" width="4.6" height="69" fill="url(#cbar)"/>
<text x="207.6" y="226.76" font-size="6" text-anchor="start" font-weight="normal" fill="#2a2a2a" stroke="#2a2a2a" stroke-width="0.25" letter-spacing="0.15">1.5</text>
<text x="207.6" y="236.46" font-size="6" text-anchor="start" font-weight="normal" fill="#2a2a2a" stroke="#2a2a2a" stroke-width="0.25" letter-spacing="0.15">1</text>
<text x="207.6" y="246.16" font-size="6" text-anchor="start" font-weight="normal" fill="#2a2a2a" stroke="#2a2a2a" stroke-width="0.25" letter-spacing="0.15">0.5</text>
<text x="207.6" y="255.86" font-size="6" text-anchor="start" font-weight="normal" fill="#2a2a2a" stroke="#2a2a2a" stroke-width="0.25" letter-spacing="0.15">0</text>
<text x="207.6" y="265.56" font-size="6" text-anchor="start" font-weight="normal" fill="#2a2a2a" stroke="#2a2a2a" stroke-width="0.25" letter-spacing="0.15">−0.5</text>
<text x="207.6" y="275.26" font-size="6" text-anchor="start" font-weight="normal" fill="#2a2a2a" stroke="#2a2a2a" stroke-width="0.25" letter-spacing="0.15">−1</text>
<text x="207.6" y="284.96" font-size="6" text-anchor="start" font-weight="normal" fill="#2a2a2a" stroke="#2a2a2a" stroke-width="0.25" letter-spacing="0.15">−1.5</text>
<path d="M47.4 224.45V233.75M47.4 224.45H48.5M47.4 233.75H48.5M47.2 252.35V261.65M47.2 252.35H48.5M47.2 261.65H48.5M47.6 270.95V280.25M47.6 270.95H48.5M47.6 280.25H48.5M47.8 298.85V308.15M47.8 298.85H48.5M47.8 308.15H48.5M47.3 289.55V303.5M47.3 289.55H48.5M47.3 303.5H47.8M46.8 275.6V296.52M46.8 275.6H47.6M46.8 296.52H47.3M46.2 257V286.06M46.2 257H47.2M46.2 286.06H46.8M45.3 243.05V271.53M45.3 243.05H48.5M45.3 271.53H46.2M39.7 229.1V257.29M39.7 229.1H47.4M39.7 257.29H45.3M46.4 336.05V345.35M46.4 336.05H48.5M46.4 345.35H48.5M44.2 326.75V340.7M44.2 326.75H48.5M44.2 340.7H46.4M46.7 354.65V363.95M46.7 354.65H48.5M46.7 363.95H48.5M47 373.25V382.55M47 373.25H48.5M47 382.55H48.5M46.5 391.85V401.15M46.5 391.85H48.5M46.5 401.15H48.5M44.6 377.9V396.5M44.6 377.9H47M44.6 396.5H46.5M41 359.3V387.2M41 359.3H46.7M41 387.2H44.6M38.2 333.73V373.25M38.2 333.73H44.2M38.2 373.25H41M36.8 317.45V353.49M36.8 317.45H48.5M36.8 353.49H38.2M28.1 243.2V335.47M28.1 243.2H39.7M28.1 335.47H36.8M39 410.45V419.75M39 410.45H48.5M39 419.75H48.5M47.8 456.95V466.25M47.8 456.95H48.5M47.8 466.25H48.5M47.3 447.65V461.6M47.3 447.65H48.5M47.3 461.6H47.8M46.2 438.35V454.62M46.2 438.35H48.5M46.2 454.62H47.3M47.2 484.85V494.15M47.2 484.85H48.5M47.2 494.15H48.5M45 475.55V489.5M45 475.55H48.5M45 489.5H47.2M42 446.49V482.53M42 446.49H46.2M42 482.53H45M37 429.05V464.51M37 429.05H48.5M37 464.51H42M33.9 415.1V446.78M33.9 415.1H39M33.9 446.78H37M46 503.45V512.75M46 503.45H48.5M46 512.75H48.5M47 522.05V531.35M47 522.05H48.5M47 531.35H48.5M46.5 540.65V549.95M46.5 540.65H48.5M46.5 549.95H48.5M44.5 526.7V545.3M44.5 526.7H47M44.5 545.3H46.5M43 508.1V536M43 508.1H46M43 536H44.5M46 559.25V568.55M46 559.25H48.5M46 568.55H48.5M45 577.85V587.15M45 577.85H48.5M45 587.15H48.5M42 563.9V582.5M42 563.9H46M42 582.5H45M39.7 522.05V573.2M39.7 522.05H43M39.7 573.2H42M45 605.75V615.05M45 605.75H48.5M45 615.05H48.5M40 596.45V610.4M40 596.45H48.5M40 610.4H45M46 624.35V633.65M46 624.35H48.5M46 633.65H48.5M47 652.25V661.55M47 652.25H48.5M47 661.55H48.5M45 642.95V656.9M45 642.95H48.5M45 656.9H47M43 629V649.93M43 629H46M43 649.93H45M44 670.85V680.15M44 670.85H48.5M44 680.15H48.5M39 639.46V675.5M39 639.46H43M39 675.5H44M34.9 603.43V657.48M34.9 603.43H40M34.9 657.48H39M29.5 547.62V630.45M29.5 547.62H39.7M29.5 630.45H34.9M25.5 430.94V589.04M25.5 430.94H33.9M25.5 589.04H29.5M24.4 289.33V509.99M24.4 289.33H28.1M24.4 509.99H25.5" stroke="#4a4a4a" stroke-width="0.6" fill="none"/>
<text x="10" y="215.4" font-size="11.8" text-anchor="start" font-weight="bold" fill="#111" >C</text>
<text x="221.9" y="214.8" font-size="11.5" text-anchor="start" font-weight="bold" fill="#111" >D</text>
<path d="M303.2 218.5V278.1M305.6 218.5V278.1M309.3 218.5V278.1M311.7 218.5V278.1M250.1 264.4H365M250.1 271.6H365" stroke="#6a6a6a" stroke-width="0.55" stroke-dasharray="1.6 1.3" fill="none" shape-rendering="auto"/>
<path d="M295.3 271.2 A10.4 4.2 0 0 0 316.2 271.2 Z" fill="#000"/>
<g fill="#000" fill-opacity="1"><circle cx="299.85" cy="271.59" r="0.8"/><circle cx="302.82" cy="271.71" r="0.8"/><circle cx="308.58" cy="270.63" r="0.8"/><circle cx="300.34" cy="270.97" r="0.8"/><circle cx="313.32" cy="271.45" r="0.8"/><circle cx="308.88" cy="270.8" r="0.8"/><circle cx="308.78" cy="272.24" r="0.8"/><circle cx="306.27" cy="271.98" r="0.8"/><circle cx="309.61" cy="270.63" r="0.8"/><circle cx="311.56" cy="271.68" r="0.8"/><circle cx="301.28" cy="270.56" r="0.8"/><circle cx="313.97" cy="271.45" r="0.8"/><circle cx="310.67" cy="272.26" r="0.8"/><circle cx="310.57" cy="272.34" r="0.8"/><circle cx="303.39" cy="272.1" r="0.8"/><circle cx="304.5" cy="272.37" r="0.8"/><circle cx="314.27" cy="270.69" r="0.8"/><circle cx="297.56" cy="270.93" r="0.8"/><circle cx="308.6" cy="271.1" r="0.8"/><circle cx="305.91" cy="271.27" r="0.8"/><circle cx="302.4" cy="271.67" r="0.8"/><circle cx="307.65" cy="272.31" r="0.8"/><circle cx="309.84" cy="272.36" r="0.8"/><circle cx="313.77" cy="272.48" r="0.8"/><circle cx="309.6" cy="270.83" r="0.8"/><circle cx="313.86" cy="272.43" r="0.8"/><circle cx="314.86" cy="271.64" r="0.8"/><circle cx="310.56" cy="270.92" r="0.8"/><circle cx="313.21" cy="271.65" r="0.8"/><circle cx="300.91" cy="270.63" r="0.8"/><circle cx="313.71" cy="272.48" r="0.8"/><circle cx="303.74" cy="270.8" r="0.8"/><circle cx="301.11" cy="272.04" r="0.8"/><circle cx="314.14" cy="270.59" r="0.8"/><circle cx="308.33" cy="270.59" r="0.8"/><circle cx="310.66" cy="271.16" r="0.8"/><circle cx="305.87" cy="272.5" r="0.8"/><circle cx="301.47" cy="270.65" r="0.8"/><circle cx="307.99" cy="270.56" r="0.8"/><circle cx="298.94" cy="271.32" r="0.8"/></g>
<g fill="#a9c48a" fill-opacity="0.85"><circle cx="295.3" cy="263.88" r="1.3"/><circle cx="297.54" cy="264.32" r="1.3"/><circle cx="292.93" cy="266.41" r="1.3"/><circle cx="304.85" cy="269.8" r="1.3"/><circle cx="302.71" cy="264.89" r="1.3"/><circle cx="299.51" cy="265.35" r="1.3"/><circle cx="294.42" cy="263.9" r="1.3"/><circle cx="303.6" cy="269.86" r="1.3"/><circle cx="303.21" cy="264.64" r="1.3"/><circle cx="296.34" cy="268.33" r="1.3"/><circle cx="302.25" cy="270.26" r="1.3"/><circle cx="300.48" cy="268.71" r="1.3"/><circle cx="299.08" cy="264.51" r="1.3"/><circle cx="298.63" cy="263.76" r="1.3"/><circle cx="305.08" cy="270.36" r="1.3"/><circle cx="299.67" cy="265.55" r="1.3"/><circle cx="304.35" cy="270.21" r="1.3"/><circle cx="299.12" cy="266.52" r="1.3"/><circle cx="300.38" cy="266.66" r="1.3"/><circle cx="294.26" cy="265.59" r="1.3"/><circle cx="295.93" cy="267.54" r="1.3"/><circle cx="298.6" cy="265.91" r="1.3"/><circle cx="297.78" cy="264.72" r="1.3"/><circle cx="300.86" cy="265.35" r="1.3"/><circle cx="296.98" cy="269.35" r="1.3"/><circle cx="296.49" cy="267.75" r="1.3"/><circle cx="292.86" cy="264.95" r="1.3"/><circle cx="302.71" cy="268.23" r="1.3"/><circle cx="295.32" cy="265.81" r="1.3"/><circle cx="294.49" cy="266.9" r="1.3"/><circle cx="297.75" cy="271.02" r="1.3"/><circle cx="300.69" cy="269.95" r="1.3"/><circle cx="296.11" cy="264.63" r="1.3"/><circle cx="298.22" cy="264.16" r="1.3"/><circle cx="297.34" cy="271.18" r="1.3"/><circle cx="292.63" cy="264.44" r="1.3"/><circle cx="302.97" cy="266.08" r="1.3"/><circle cx="296.06" cy="263.83" r="1.3"/><circle cx="294.91" cy="263.5" r="1.3"/><circle cx="292.77" cy="264.43" r="1.3"/><circle cx="301.48" cy="264.27" r="1.3"/><circle cx="293.71" cy="267.5" r="1.3"/><circle cx="302.83" cy="266.48" r="1.3"/><circle cx="295.39" cy="266.49" r="1.3"/><circle cx="295.48" cy="270.56" r="1.3"/></g>
<g fill="#3fae49" fill-opacity="0.7"><circle cx="298.15" cy="258.9" r="1.35"/><circle cx="300.83" cy="264.42" r="1.35"/><circle cx="299.97" cy="263.86" r="1.35"/><circle cx="296.93" cy="254.28" r="1.35"/><circle cx="288.7" cy="244.46" r="1.35"/><circle cx="292.83" cy="263.7" r="1.35"/><circle cx="291.75" cy="244.43" r="1.35"/><circle cx="292.98" cy="264.94" r="1.35"/><circle cx="296.86" cy="257.14" r="1.35"/><circle cx="299.2" cy="265.08" r="1.35"/><circle cx="294.1" cy="243.06" r="1.35"/><circle cx="290.76" cy="240.29" r="1.35"/><circle cx="293.17" cy="255.09" r="1.35"/><circle cx="293.74" cy="247.02" r="1.35"/><circle cx="293.39" cy="251.73" r="1.35"/><circle cx="300.12" cy="261.73" r="1.35"/><circle cx="294.18" cy="254.41" r="1.35"/><circle cx="288.64" cy="239.78" r="1.35"/><circle cx="291.55" cy="259.28" r="1.35"/><circle cx="302.91" cy="264.41" r="1.35"/><circle cx="293.84" cy="248.26" r="1.35"/><circle cx="296.63" cy="259.83" r="1.35"/><circle cx="300.86" cy="262.14" r="1.35"/><circle cx="289.91" cy="247.87" r="1.35"/><circle cx="297.97" cy="263.75" r="1.35"/><circle cx="293.77" cy="263.92" r="1.35"/><circle cx="293.41" cy="243.38" r="1.35"/><circle cx="289.71" cy="242.59" r="1.35"/><circle cx="299.18" cy="265.91" r="1.35"/><circle cx="291" cy="239.84" r="1.35"/><circle cx="294.79" cy="245.03" r="1.35"/><circle cx="297.71" cy="261.22" r="1.35"/><circle cx="295.56" cy="250.1" r="1.35"/><circle cx="299.84" cy="264.62" r="1.35"/><circle cx="298.27" cy="260.17" r="1.35"/><circle cx="290.15" cy="250.45" r="1.35"/><circle cx="293.07" cy="250.96" r="1.35"/><circle cx="296.07" cy="258.56" r="1.35"/><circle cx="294.34" cy="265.68" r="1.35"/><circle cx="289.88" cy="245.99" r="1.35"/><circle cx="300.62" cy="262.35" r="1.35"/><circle cx="294.1" cy="260.12" r="1.35"/><circle cx="300.51" cy="257.6" r="1.35"/><circle cx="298.79" cy="259.39" r="1.35"/><circle cx="294.13" cy="257.87" r="1.35"/><circle cx="292.85" cy="251.86" r="1.35"/><circle cx="300.43" cy="257.5" r="1.35"/><circle cx="293.05" cy="264.5" r="1.35"/><circle cx="298.57" cy="254.47" r="1.35"/><circle cx="292.39" cy="256.97" r="1.35"/><circle cx="295.68" cy="260.96" r="1.35"/><circle cx="298.54" cy="260.43" r="1.35"/><circle cx="293.89" cy="256.21" r="1.35"/><circle cx="299.94" cy="261.28" r="1.35"/><circle cx="293.93" cy="261.68" r="1.35"/><circle cx="303.63" cy="264.8" r="1.35"/><circle cx="296.53" cy="253.06" r="1.35"/><circle cx="299.22" cy="258.29" r="1.35"/><circle cx="298.17" cy="259.8" r="1.35"/><circle cx="298.37" cy="258.31" r="1.35"/><circle cx="288.93" cy="242.9" r="1.35"/><circle cx="295.34" cy="256.38" r="1.35"/><circle cx="291.9" cy="257.36" r="1.35"/><circle cx="289.34" cy="242.17" r="1.35"/><circle cx="293.42" cy="243.49" r="1.35"/><circle cx="291.5" cy="239.48" r="1.35"/><circle cx="295.71" cy="248.96" r="1.35"/><circle cx="297.98" cy="254.73" r="1.35"/><circle cx="292.19" cy="263.34" r="1.35"/><circle cx="292.82" cy="249.78" r="1.35"/><circle cx="297.5" cy="264.85" r="1.35"/><circle cx="297.74" cy="254.01" r="1.35"/><circle cx="303.34" cy="265.12" r="1.35"/><circle cx="290.17" cy="254.06" r="1.35"/><circle cx="298.26" cy="263.01" r="1.35"/><circle cx="294.33" cy="250.37" r="1.35"/><circle cx="292.01" cy="246.52" r="1.35"/><circle cx="303.4" cy="263.63" r="1.35"/><circle cx="294.94" cy="247.28" r="1.35"/><circle cx="292.94" cy="251.62" r="1.35"/><circle cx="290.39" cy="255.6" r="1.35"/><circle cx="295.37" cy="246.56" r="1.35"/><circle cx="300.62" cy="261.24" r="1.35"/><circle cx="292.74" cy="264.22" r="1.35"/><circle cx="292.65" cy="242.76" r="1.35"/><circle cx="298.5" cy="255.11" r="1.35"/><circle cx="293.1" cy="253.07" r="1.35"/><circle cx="295.7" cy="248.43" r="1.35"/><circle cx="289.06" cy="245.44" r="1.35"/><circle cx="295.56" cy="263.71" r="1.35"/><circle cx="295.13" cy="254.33" r="1.35"/><circle cx="299.48" cy="255.89" r="1.35"/><circle cx="295.97" cy="263.57" r="1.35"/><circle cx="294.47" cy="249.28" r="1.35"/><circle cx="293.09" cy="261.33" r="1.35"/></g>
<g fill="#ec8a98" fill-opacity="0.6"><circle cx="320.4" cy="267.26" r="1.25"/><circle cx="308.51" cy="263.92" r="1.25"/><circle cx="315.55" cy="265.95" r="1.25"/><circle cx="314.1" cy="266.17" r="1.25"/><circle cx="312.59" cy="266.84" r="1.25"/><circle cx="316.57" cy="264.32" r="1.25"/><circle cx="311.39" cy="261.63" r="1.25"/><circle cx="320.55" cy="264.4" r="1.25"/><circle cx="309.9" cy="266.81" r="1.25"/><circle cx="309.91" cy="254.14" r="1.25"/><circle cx="311.51" cy="263.76" r="1.25"/><circle cx="313.91" cy="269.59" r="1.25"/><circle cx="318.17" cy="264.66" r="1.25"/><circle cx="320.58" cy="270.5" r="1.25"/><circle cx="308.93" cy="257.59" r="1.25"/><circle cx="310.25" cy="263.92" r="1.25"/><circle cx="313.18" cy="254.12" r="1.25"/><circle cx="311.65" cy="268.18" r="1.25"/><circle cx="313.49" cy="268.99" r="1.25"/><circle cx="314.16" cy="258.17" r="1.25"/><circle cx="310.4" cy="271" r="1.25"/><circle cx="309.31" cy="258.88" r="1.25"/><circle cx="318.55" cy="268.68" r="1.25"/><circle cx="315.21" cy="267.46" r="1.25"/><circle cx="320.44" cy="260.85" r="1.25"/><circle cx="315.56" cy="264.82" r="1.25"/><circle cx="315.81" cy="266.46" r="1.25"/><circle cx="311.08" cy="250.46" r="1.25"/><circle cx="310.35" cy="262.38" r="1.25"/><circle cx="313.92" cy="255.38" r="1.25"/><circle cx="315.27" cy="269.48" r="1.25"/><circle cx="312.32" cy="258.62" r="1.25"/><circle cx="321.69" cy="262.86" r="1.25"/><circle cx="312.52" cy="259.97" r="1.25"/><circle cx="314.16" cy="256.42" r="1.25"/><circle cx="318.39" cy="270.39" r="1.25"/><circle cx="314.47" cy="260.25" r="1.25"/><circle cx="320.4" cy="269.67" r="1.25"/><circle cx="308.95" cy="266.25" r="1.25"/><circle cx="310.18" cy="265.09" r="1.25"/><circle cx="313.93" cy="269.71" r="1.25"/><circle cx="311.39" cy="269.9" r="1.25"/><circle cx="317.7" cy="258.86" r="1.25"/><circle cx="320.23" cy="267.08" r="1.25"/><circle cx="315.88" cy="259.85" r="1.25"/><circle cx="310" cy="257.6" r="1.25"/><circle cx="310.67" cy="263.14" r="1.25"/><circle cx="310.08" cy="263.56" r="1.25"/><circle cx="315.44" cy="268.89" r="1.25"/><circle cx="317.94" cy="264.73" r="1.25"/><circle cx="310.41" cy="267.49" r="1.25"/><circle cx="309.75" cy="262.98" r="1.25"/><circle cx="322.17" cy="269.06" r="1.25"/><circle cx="318.91" cy="266.62" r="1.25"/><circle cx="310.56" cy="269.81" r="1.25"/><circle cx="312.65" cy="264.96" r="1.25"/><circle cx="309.46" cy="266.8" r="1.25"/><circle cx="309.78" cy="267.14" r="1.25"/><circle cx="318.08" cy="261.25" r="1.25"/><circle cx="308.99" cy="253.64" r="1.25"/><circle cx="316.71" cy="259.75" r="1.25"/><circle cx="309.61" cy="260.93" r="1.25"/><circle cx="308.96" cy="261.03" r="1.25"/><circle cx="310.75" cy="255.92" r="1.25"/><circle cx="310.77" cy="261.94" r="1.25"/><circle cx="314.32" cy="254.68" r="1.25"/><circle cx="311.82" cy="261.85" r="1.25"/><circle cx="310.95" cy="256.65" r="1.25"/><circle cx="312.11" cy="262.02" r="1.25"/><circle cx="320.3" cy="261.95" r="1.25"/></g>
<g fill="#3fae49" fill-opacity="0.8"><circle cx="300.6" cy="224" r="1.3"/><circle cx="301.6" cy="232.6" r="1.3"/><circle cx="289.5" cy="235.2" r="1.4"/><circle cx="313" cy="247.5" r="1.2" fill="#ec8a98"/></g>
<g fill="#0d7a1c" stroke="#000" stroke-width="0.7"><circle cx="264.2" cy="250.6" r="1.55"/><circle cx="289.5" cy="250" r="1.55"/><circle cx="299.4" cy="252.6" r="1.55"/><circle cx="301" cy="259.2" r="1.55"/><circle cx="303.4" cy="264" r="1.55"/></g>
<g fill="#8b0a10" stroke="#000" stroke-width="0.7"><circle cx="324.2" cy="242.5" r="1.55"/><circle cx="319" cy="248.3" r="1.55"/></g>
<text x="255" y="248.3" font-size="4.6" text-anchor="start" font-weight="normal" fill="#d42a3c" >LINC0108 7</text>
<text x="279" y="245.5" font-size="4.6" text-anchor="start" font-weight="normal" fill="#d42a3c" >ADD3-AS1</text>
<text x="317" y="240" font-size="4.6" text-anchor="start" font-weight="normal" fill="#d42a3c" >AC110716 .2</text>
<text x="317" y="247.2" font-size="4.6" text-anchor="start" font-weight="normal" fill="#d42a3c" >LINC0064 5</text>
<text x="297.6" y="257.4" font-size="4.6" text-anchor="start" font-weight="normal" fill="#d42a3c" >LINC0066 ..</text>
<text x="280" y="265.2" font-size="4.6" text-anchor="start" font-weight="normal" fill="#d42a3c" >LINC0 ..213 ..</text>
<text x="305.7" y="270.3" font-size="4.6" text-anchor="start" font-weight="normal" fill="#d42a3c" >MEG3</text>
<rect x="250.1" y="218.5" width="114.9" height="59.6" fill="none" stroke="#1e1e1e" stroke-width="1.1" shape-rendering="auto"/>
<text x="263.3" y="288.7" font-size="7.2" text-anchor="middle" font-weight="normal" fill="#1e1e1e" stroke="#1e1e1e" stroke-width="0.25" >−20</text>
<text x="282.3" y="288.7" font-size="7.2" text-anchor="middle" font-weight="normal" fill="#1e1e1e" stroke="#1e1e1e" stroke-width="0.25" >−10</text>
<text x="295.3" y="288.7" font-size="7.2" text-anchor="middle" font-weight="normal" fill="#1e1e1e" stroke="#1e1e1e" stroke-width="0.25" >−5</text>
<text x="307.8" y="288.7" font-size="7.2" text-anchor="middle" font-weight="normal" fill="#1e1e1e" stroke="#1e1e1e" stroke-width="0.25" >0</text>
<text x="318.1" y="288.7" font-size="7.2" text-anchor="middle" font-weight="normal" fill="#1e1e1e" stroke="#1e1e1e" stroke-width="0.25" >5</text>
<text x="328.7" y="288.7" font-size="7.2" text-anchor="middle" font-weight="normal" fill="#1e1e1e" stroke="#1e1e1e" stroke-width="0.25" >10</text>
<text x="349.2" y="288.7" font-size="7.2" text-anchor="middle" font-weight="normal" fill="#1e1e1e" stroke="#1e1e1e" stroke-width="0.25" >20</text>
<text x="244" y="278.2" font-size="7.2" text-anchor="end" font-weight="normal" fill="#1e1e1e" stroke="#1e1e1e" stroke-width="0.25" >0</text>
<text x="244" y="264.5" font-size="7.2" text-anchor="end" font-weight="normal" fill="#1e1e1e" stroke="#1e1e1e" stroke-width="0.25" >5</text>
<text x="244" y="250.9" font-size="7.2" text-anchor="end" font-weight="normal" fill="#1e1e1e" stroke="#1e1e1e" stroke-width="0.25" >10</text>
<text x="244" y="237.3" font-size="7.2" text-anchor="end" font-weight="normal" fill="#1e1e1e" stroke="#1e1e1e" stroke-width="0.25" >15</text>
<text x="244" y="223.8" font-size="7.2" text-anchor="end" font-weight="normal" fill="#1e1e1e" stroke="#1e1e1e" stroke-width="0.25" >20</text>
<path d="M265.5 278.1V280.8M286.3 278.1V280.8M296.8 278.1V280.8M307.6 278.1V280.8M318 278.1V280.8M328.6 278.1V280.8M349.4 278.1V280.8M246.9 275.6H250.1M246.9 261.9H250.1M246.9 248.3H250.1M246.9 234.7H250.1M246.9 221.2H250.1" stroke="#1e1e1e" stroke-width="1" fill="none"/>
<text x="251.5" y="213.5" font-size="7.4" text-anchor="start" font-weight="normal" fill="#1e1e1e" stroke="#1e1e1e" stroke-width="0.25" >HSC_MPP lncRNA</text>
<text transform="translate(231.3 248.3) rotate(-90)" font-size="8.6" text-anchor="middle" fill="#1e1e1e" textLength="34.8" lengthAdjust="spacingAndGlyphs">Log<tspan font-size="4.6" dy="1.8">10</tspan><tspan dy="-1.8">p-value</tspan></text>
<path d="M433.7 218.5V278.1M437 218.5V278.1M443.8 218.5V278.1M447.3 218.5V278.1M383.1 268.3H496.7M383.1 272.9H496.7" stroke="#6a6a6a" stroke-width="0.55" stroke-dasharray="1.6 1.3" fill="none" shape-rendering="auto"/>
<path d="M418 274.2 C428 272.2 442 271.6 461 272 L461 272.8 C445 274 432 275.6 420 275.8 Z" fill="#000"/>
<g fill="#000" fill-opacity="1"><circle cx="426.43" cy="274.43" r="0.65"/><circle cx="449.23" cy="271.65" r="0.65"/><circle cx="439.5" cy="272.07" r="0.65"/><circle cx="428.14" cy="273.16" r="0.65"/><circle cx="421.04" cy="275.36" r="0.65"/><circle cx="426.32" cy="275.25" r="0.65"/><circle cx="441.08" cy="273.15" r="0.65"/><circle cx="431.48" cy="273.15" r="0.65"/><circle cx="420.47" cy="274.38" r="0.65"/><circle cx="435.28" cy="271.88" r="0.65"/><circle cx="423.73" cy="273.61" r="0.65"/><circle cx="426.16" cy="273.3" r="0.65"/><circle cx="443.06" cy="272.98" r="0.65"/><circle cx="420.28" cy="273.45" r="0.65"/><circle cx="425.3" cy="272.18" r="0.65"/><circle cx="423.33" cy="272.83" r="0.65"/><circle cx="417.52" cy="274.26" r="0.65"/><circle cx="459.78" cy="272.95" r="0.65"/><circle cx="444.67" cy="271.8" r="0.65"/><circle cx="423.75" cy="275.27" r="0.65"/><circle cx="431.99" cy="274.58" r="0.65"/><circle cx="424.16" cy="274.09" r="0.65"/><circle cx="441.88" cy="273.96" r="0.65"/><circle cx="431.25" cy="274.64" r="0.65"/><circle cx="430.38" cy="272.48" r="0.65"/><circle cx="421.9" cy="274.42" r="0.65"/><circle cx="417.32" cy="274.22" r="0.65"/><circle cx="440.7" cy="273.72" r="0.65"/><circle cx="415.86" cy="273.2" r="0.65"/><circle cx="419.83" cy="272.51" r="0.65"/></g>
<g fill="#a9c48a" fill-opacity="0.85"><circle cx="418.13" cy="268.29" r="1.2"/><circle cx="432.02" cy="271.11" r="1.2"/><circle cx="419.09" cy="271.29" r="1.2"/><circle cx="421.9" cy="271.94" r="1.2"/><circle cx="413.55" cy="268.06" r="1.2"/><circle cx="437.04" cy="269.01" r="1.2"/><circle cx="417.81" cy="272.13" r="1.2"/><circle cx="428.95" cy="267.55" r="1.2"/><circle cx="426.54" cy="271.15" r="1.2"/><circle cx="414.95" cy="271.06" r="1.2"/><circle cx="413.69" cy="268.86" r="1.2"/><circle cx="412.5" cy="267.93" r="1.2"/><circle cx="430.61" cy="267.28" r="1.2"/><circle cx="427.67" cy="270.94" r="1.2"/><circle cx="415.44" cy="267.16" r="1.2"/><circle cx="436.24" cy="270.1" r="1.2"/><circle cx="415.82" cy="269.67" r="1.2"/><circle cx="416.55" cy="272.09" r="1.2"/><circle cx="425.01" cy="267.22" r="1.2"/><circle cx="434.54" cy="267.13" r="1.2"/><circle cx="418.42" cy="266.7" r="1.2"/><circle cx="432.21" cy="267.3" r="1.2"/><circle cx="425.77" cy="267.15" r="1.2"/><circle cx="424.41" cy="271.3" r="1.2"/><circle cx="426.05" cy="269.69" r="1.2"/><circle cx="424.55" cy="269.56" r="1.2"/><circle cx="427.86" cy="267.16" r="1.2"/><circle cx="424.24" cy="268.15" r="1.2"/><circle cx="411.99" cy="267.5" r="1.2"/><circle cx="431.1" cy="270.5" r="1.2"/><circle cx="438.32" cy="269.46" r="1.2"/><circle cx="420.42" cy="270.49" r="1.2"/><circle cx="419.07" cy="267.82" r="1.2"/><circle cx="428.85" cy="269.78" r="1.2"/><circle cx="417.68" cy="269.22" r="1.2"/><circle cx="439.49" cy="270.6" r="1.2"/><circle cx="418.48" cy="273.05" r="1.2"/><circle cx="420.75" cy="268.26" r="1.2"/><circle cx="411.05" cy="267.52" r="1.2"/><circle cx="415.97" cy="268.11" r="1.2"/><circle cx="436.19" cy="268.35" r="1.2"/><circle cx="417.46" cy="270.73" r="1.2"/><circle cx="437.51" cy="268.54" r="1.2"/><circle cx="432.85" cy="269.08" r="1.2"/><circle cx="426.83" cy="270.67" r="1.2"/></g>
<g fill="#8fd18f" fill-opacity="0.8"><circle cx="402.69" cy="240.04" r="1.35"/><circle cx="428.96" cy="263.1" r="1.35"/><circle cx="402.33" cy="245.09" r="1.35"/><circle cx="393.3" cy="231.53" r="1.35"/><circle cx="421.85" cy="256.42" r="1.35"/><circle cx="404.68" cy="246.78" r="1.35"/><circle cx="397.44" cy="227.54" r="1.35"/><circle cx="402.5" cy="238.88" r="1.35"/><circle cx="428.2" cy="265.4" r="1.35"/><circle cx="396.11" cy="225.88" r="1.35"/><circle cx="406.66" cy="253.39" r="1.35"/><circle cx="418.79" cy="255.82" r="1.35"/><circle cx="430.47" cy="263.88" r="1.35"/><circle cx="407.29" cy="242.2" r="1.35"/><circle cx="406.04" cy="251.51" r="1.35"/><circle cx="395.01" cy="232.91" r="1.35"/><circle cx="396.67" cy="240.28" r="1.35"/><circle cx="402.43" cy="249.46" r="1.35"/><circle cx="429.28" cy="267.95" r="1.35"/><circle cx="422.13" cy="259.21" r="1.35"/><circle cx="412.4" cy="251.14" r="1.35"/><circle cx="431.81" cy="267.49" r="1.35"/><circle cx="412.22" cy="259.42" r="1.35"/><circle cx="409.72" cy="252.82" r="1.35"/><circle cx="401.58" cy="234.96" r="1.35"/><circle cx="420.49" cy="255.4" r="1.35"/><circle cx="403.97" cy="250.23" r="1.35"/><circle cx="410.71" cy="251.95" r="1.35"/><circle cx="412.46" cy="252.49" r="1.35"/><circle cx="406.17" cy="241.88" r="1.35"/><circle cx="398.1" cy="235.2" r="1.35"/><circle cx="403.41" cy="235.77" r="1.35"/><circle cx="403.17" cy="246.74" r="1.35"/><circle cx="400.36" cy="235.58" r="1.35"/><circle cx="426.69" cy="265.77" r="1.35"/><circle cx="425.29" cy="259.41" r="1.35"/><circle cx="407.52" cy="242.43" r="1.35"/><circle cx="414.6" cy="250.87" r="1.35"/><circle cx="407.84" cy="253.71" r="1.35"/><circle cx="409.03" cy="251.44" r="1.35"/><circle cx="400.83" cy="240.28" r="1.35"/><circle cx="398.41" cy="240.45" r="1.35"/><circle cx="417.38" cy="259.6" r="1.35"/><circle cx="412.98" cy="255.18" r="1.35"/><circle cx="424.64" cy="260.41" r="1.35"/><circle cx="397.11" cy="237.19" r="1.35"/><circle cx="402.87" cy="244.59" r="1.35"/><circle cx="420.92" cy="257.31" r="1.35"/><circle cx="412.98" cy="255.41" r="1.35"/><circle cx="420.51" cy="261.28" r="1.35"/><circle cx="416.32" cy="256.74" r="1.35"/><circle cx="399.56" cy="235.83" r="1.35"/><circle cx="417.13" cy="263.31" r="1.35"/><circle cx="421.27" cy="261.52" r="1.35"/><circle cx="410.47" cy="256.7" r="1.35"/><circle cx="419.79" cy="257.86" r="1.35"/><circle cx="406.09" cy="247.72" r="1.35"/><circle cx="405.31" cy="238.62" r="1.35"/><circle cx="395.36" cy="231.96" r="1.35"/><circle cx="408.44" cy="248.8" r="1.35"/><circle cx="408.18" cy="253.82" r="1.35"/><circle cx="424.2" cy="265.62" r="1.35"/><circle cx="418.74" cy="263.23" r="1.35"/><circle cx="396.94" cy="236.48" r="1.35"/><circle cx="404.29" cy="250.41" r="1.35"/><circle cx="398.47" cy="236.44" r="1.35"/><circle cx="397.81" cy="237.51" r="1.35"/><circle cx="415.31" cy="262.36" r="1.35"/><circle cx="410.64" cy="248.96" r="1.35"/><circle cx="401.53" cy="239.94" r="1.35"/><circle cx="402.09" cy="236.59" r="1.35"/><circle cx="402.34" cy="236.94" r="1.35"/><circle cx="400.31" cy="230.97" r="1.35"/><circle cx="394.78" cy="227.23" r="1.35"/><circle cx="413.31" cy="254.71" r="1.35"/><circle cx="431.74" cy="264.36" r="1.35"/><circle cx="402.24" cy="246.07" r="1.35"/><circle cx="403.32" cy="242.69" r="1.35"/><circle cx="417.59" cy="256.62" r="1.35"/><circle cx="409.49" cy="247.48" r="1.35"/><circle cx="403.59" cy="244.29" r="1.35"/><circle cx="401.41" cy="231.17" r="1.35"/><circle cx="404.5" cy="243.73" r="1.35"/><circle cx="411.98" cy="252.23" r="1.35"/><circle cx="415.13" cy="255.05" r="1.35"/><circle cx="401.47" cy="243.75" r="1.35"/><circle cx="410.87" cy="248.09" r="1.35"/><circle cx="400.88" cy="237.39" r="1.35"/><circle cx="402.49" cy="244.59" r="1.35"/><circle cx="432.97" cy="267.21" r="1.35"/><circle cx="405.03" cy="248.51" r="1.35"/><circle cx="406.99" cy="243.82" r="1.35"/><circle cx="407.97" cy="247.72" r="1.35"/><circle cx="411.91" cy="247.15" r="1.35"/><circle cx="413.16" cy="249.5" r="1.35"/><circle cx="417.85" cy="259.43" r="1.35"/><circle cx="425.81" cy="266.24" r="1.35"/><circle cx="424.99" cy="259.15" r="1.35"/><circle cx="408.52" cy="247.97" r="1.35"/><circle cx="413.95" cy="259.63" r="1.35"/><circle cx="429.51" cy="265.86" r="1.35"/><circle cx="415.54" cy="256.3" r="1.35"/><circle cx="402.01" cy="240.89" r="1.35"/><circle cx="407.06" cy="242.01" r="1.35"/><circle cx="411.01" cy="251.48" r="1.35"/><circle cx="407.23" cy="248.33" r="1.35"/><circle cx="401.36" cy="246.96" r="1.35"/><circle cx="397.85" cy="231.7" r="1.35"/><circle cx="431.39" cy="265.17" r="1.35"/><circle cx="424.56" cy="259.8" r="1.35"/><circle cx="401.48" cy="235.03" r="1.35"/><circle cx="394.32" cy="231.64" r="1.35"/><circle cx="393.47" cy="228.65" r="1.35"/><circle cx="396.82" cy="230.4" r="1.35"/><circle cx="410.96" cy="254.25" r="1.35"/><circle cx="409.13" cy="249" r="1.35"/><circle cx="394.69" cy="232.48" r="1.35"/><circle cx="424.09" cy="266.82" r="1.35"/><circle cx="407.54" cy="241.81" r="1.35"/><circle cx="424.64" cy="266.98" r="1.35"/><circle cx="430.71" cy="264.07" r="1.35"/><circle cx="410.41" cy="257.49" r="1.35"/><circle cx="417.94" cy="259.62" r="1.35"/><circle cx="404.18" cy="251.56" r="1.35"/><circle cx="420.14" cy="264.52" r="1.35"/><circle cx="415.11" cy="254.62" r="1.35"/><circle cx="403.35" cy="247.97" r="1.35"/><circle cx="416.58" cy="253.1" r="1.35"/><circle cx="396.37" cy="228.5" r="1.35"/><circle cx="412.97" cy="260.43" r="1.35"/><circle cx="397.75" cy="239.39" r="1.35"/><circle cx="401.18" cy="246.6" r="1.35"/><circle cx="395.01" cy="232.4" r="1.35"/><circle cx="422.5" cy="261.84" r="1.35"/><circle cx="407.84" cy="250.82" r="1.35"/><circle cx="403.34" cy="237.41" r="1.35"/><circle cx="429.7" cy="266.06" r="1.35"/><circle cx="405.65" cy="252.35" r="1.35"/><circle cx="421.56" cy="263.16" r="1.35"/><circle cx="427.15" cy="264.42" r="1.35"/></g>
<g fill="#8fd18f" fill-opacity="0.85"><circle cx="408.5" cy="242" r="1.4"/><circle cx="415" cy="241" r="1.4"/><circle cx="411.5" cy="247.5" r="1.4"/><circle cx="420.8" cy="249" r="1.4"/><circle cx="413.5" cy="253.7" r="1.4"/><circle cx="429.5" cy="258.5" r="1.3"/><circle cx="428.5" cy="264" r="1.3"/><circle cx="406" cy="267" r="1.2"/></g>
<g fill="#ec8a98" fill-opacity="0.7"><circle cx="456.4" cy="263.73" r="1.2"/><circle cx="457.84" cy="263.25" r="1.2"/><circle cx="457.65" cy="266.21" r="1.2"/><circle cx="453.73" cy="265.89" r="1.2"/><circle cx="466.33" cy="261.34" r="1.2"/><circle cx="453.59" cy="269.51" r="1.2"/><circle cx="463.3" cy="261.15" r="1.2"/><circle cx="452.83" cy="261.34" r="1.2"/><circle cx="453.71" cy="268.03" r="1.2"/><circle cx="456.04" cy="262.92" r="1.2"/><circle cx="467.55" cy="264.33" r="1.2"/><circle cx="454.91" cy="263.45" r="1.2"/><circle cx="448.71" cy="266.79" r="1.2"/><circle cx="468.9" cy="263.88" r="1.2"/><circle cx="470.89" cy="263.65" r="1.2"/><circle cx="467.69" cy="263.36" r="1.2"/><circle cx="462.94" cy="263.99" r="1.2"/><circle cx="453.04" cy="262.69" r="1.2"/><circle cx="456.6" cy="264.55" r="1.2"/><circle cx="464.14" cy="262.6" r="1.2"/><circle cx="455.3" cy="264.16" r="1.2"/><circle cx="466.9" cy="259.14" r="1.2"/><circle cx="463.6" cy="260.58" r="1.2"/><circle cx="459.08" cy="267.22" r="1.2"/><circle cx="460.07" cy="258.45" r="1.2"/><circle cx="452.61" cy="262.82" r="1.2"/><circle cx="458.28" cy="268.77" r="1.2"/><circle cx="453.18" cy="269.36" r="1.2"/><circle cx="469.78" cy="263.06" r="1.2"/><circle cx="469.37" cy="259.92" r="1.2"/><circle cx="454.92" cy="261.13" r="1.2"/><circle cx="459.97" cy="264.48" r="1.2"/><circle cx="459.28" cy="265.25" r="1.2"/><circle cx="460.06" cy="263.86" r="1.2"/><circle cx="449.07" cy="265.85" r="1.2"/><circle cx="464.39" cy="267.14" r="1.2"/><circle cx="455.14" cy="263.47" r="1.2"/><circle cx="451.46" cy="266.95" r="1.2"/><circle cx="457.46" cy="262.48" r="1.2"/><circle cx="452.8" cy="263.36" r="1.2"/></g>
<g fill="#ec8a98" fill-opacity="0.75"><circle cx="450.4" cy="254.5" r="1.2"/><circle cx="457.5" cy="262" r="1.2"/><circle cx="475.5" cy="256" r="1.2"/><circle cx="444" cy="268.5" r="1.2"/></g>
<g fill="#0d7a1c" stroke="#000" stroke-width="0.7"><circle cx="394.6" cy="231.8" r="1.55"/><circle cx="403" cy="249" r="1.55"/><circle cx="407.5" cy="259.3" r="1.55"/></g>
<g fill="#8b0a10" stroke="#000" stroke-width="0.7"><circle cx="474.5" cy="252.4" r="1.55"/><circle cx="449" cy="265.7" r="1.55"/><circle cx="450.3" cy="269.4" r="1.55"/></g>
<text x="385" y="236.7" font-size="4.6" text-anchor="start" font-weight="normal" fill="#d42a3c" >AL139020 .1</text>
<text x="397" y="247.5" font-size="4.6" text-anchor="start" font-weight="normal" fill="#d42a3c" >LINC01185</text>
<text x="387.8" y="264.1" font-size="4.6" text-anchor="start" font-weight="normal" fill="#d42a3c" >LINC00086 .8</text>
<text x="454" y="257.7" font-size="4.6" text-anchor="start" font-weight="normal" fill="#d42a3c" >LINC0180 .6</text>
<text x="430" y="263.7" font-size="4.6" text-anchor="start" font-weight="normal" fill="#d42a3c" >LINC01140</text>
<text x="452" y="272.7" font-size="4.6" text-anchor="start" font-weight="normal" fill="#d42a3c" >LINC00432 .3</text>
<rect x="383.1" y="218.5" width="113.6" height="59.6" fill="none" stroke="#1e1e1e" stroke-width="1.1" shape-rendering="auto"/>
<text x="403.3" y="288.7" font-size="7.2" text-anchor="middle" font-weight="normal" fill="#1e1e1e" stroke="#1e1e1e" stroke-width="0.25" >−10</text>
<text x="421" y="288.7" font-size="7.2" text-anchor="middle" font-weight="normal" fill="#1e1e1e" stroke="#1e1e1e" stroke-width="0.25" >−5</text>
<text x="440.4" y="288.7" font-size="7.2" text-anchor="middle" font-weight="normal" fill="#1e1e1e" stroke="#1e1e1e" stroke-width="0.25" >0</text>
<text x="457.8" y="288.7" font-size="7.2" text-anchor="middle" font-weight="normal" fill="#1e1e1e" stroke="#1e1e1e" stroke-width="0.25" >5</text>
<text x="474.3" y="288.7" font-size="7.2" text-anchor="middle" font-weight="normal" fill="#1e1e1e" stroke="#1e1e1e" stroke-width="0.25" >10</text>
<text x="378.6" y="278.2" font-size="7.2" text-anchor="end" font-weight="normal" fill="#1e1e1e" stroke="#1e1e1e" stroke-width="0.25" >0</text>
<text x="378.6" y="260" font-size="7.2" text-anchor="end" font-weight="normal" fill="#1e1e1e" stroke="#1e1e1e" stroke-width="0.25" >10</text>
<text x="378.6" y="241.9" font-size="7.2" text-anchor="end" font-weight="normal" fill="#1e1e1e" stroke="#1e1e1e" stroke-width="0.25" >20</text>
<text x="378.6" y="224" font-size="7.2" text-anchor="end" font-weight="normal" fill="#1e1e1e" stroke="#1e1e1e" stroke-width="0.25" >30</text>
<path d="M405.5 278.1V280.8M422.7 278.1V280.8M440.4 278.1V280.8M458 278.1V280.8M475.5 278.1V280.8M379.9 275.6H383.1M379.9 257.4H383.1M379.9 239.3H383.1M379.9 221.4H383.1" stroke="#1e1e1e" stroke-width="1" fill="none"/>
<text x="372.5" y="213.5" font-size="7.4" text-anchor="start" font-weight="normal" fill="#1e1e1e" stroke="#1e1e1e" stroke-width="0.25" >MPP_CMP lncRNA</text>
<path d="M285.2 302.7V361.9M287.5 302.7V361.9M292.6 302.7V361.9M294.9 302.7V361.9M250.2 344.5H364.8M250.2 354.5H364.8" stroke="#6a6a6a" stroke-width="0.55" stroke-dasharray="1.6 1.3" fill="none" shape-rendering="auto"/>
<path d="M273.5 354.4 C280 357 285 359.2 290.5 359.2 C295 359.2 299 357.5 302.5 354.4" stroke="#000" stroke-width="2.2" fill="none" shape-rendering="auto"/>
<g fill="#000" fill-opacity="1"><circle cx="277.95" cy="356.33" r="0.8"/><circle cx="278.85" cy="356.41" r="0.8"/><circle cx="272.77" cy="353.64" r="0.8"/><circle cx="287.89" cy="358.51" r="0.8"/><circle cx="296.28" cy="357.42" r="0.8"/><circle cx="292.4" cy="357.66" r="0.8"/><circle cx="302.09" cy="355.72" r="0.8"/><circle cx="289.73" cy="357.95" r="0.8"/><circle cx="286.7" cy="358.38" r="0.8"/><circle cx="277.53" cy="355.43" r="0.8"/><circle cx="273.21" cy="355.07" r="0.8"/><circle cx="289.76" cy="359.15" r="0.8"/><circle cx="296.11" cy="357.12" r="0.8"/><circle cx="296.3" cy="358.3" r="0.8"/><circle cx="288.91" cy="359.89" r="0.8"/><circle cx="290.37" cy="360.09" r="0.8"/><circle cx="302.21" cy="355.83" r="0.8"/><circle cx="288.85" cy="359.1" r="0.8"/><circle cx="279.84" cy="356.16" r="0.8"/><circle cx="299.93" cy="356.34" r="0.8"/><circle cx="293.48" cy="359.22" r="0.8"/><circle cx="295.92" cy="357.18" r="0.8"/><circle cx="289.05" cy="359.2" r="0.8"/><circle cx="282.31" cy="357.2" r="0.8"/><circle cx="279.29" cy="357.21" r="0.8"/><circle cx="283.69" cy="358.89" r="0.8"/><circle cx="278.31" cy="358.11" r="0.8"/><circle cx="277.37" cy="356.37" r="0.8"/><circle cx="298.77" cy="356.73" r="0.8"/><circle cx="296.09" cy="358.05" r="0.8"/><circle cx="285.01" cy="359.12" r="0.8"/><circle cx="274.76" cy="354.63" r="0.8"/><circle cx="284.27" cy="358.1" r="0.8"/><circle cx="286.54" cy="358.32" r="0.8"/><circle cx="289.66" cy="358.78" r="0.8"/><circle cx="297.47" cy="357.52" r="0.8"/><circle cx="283.22" cy="357.88" r="0.8"/><circle cx="276.01" cy="355.85" r="0.8"/><circle cx="294.45" cy="358.69" r="0.8"/><circle cx="297.51" cy="357.42" r="0.8"/></g>
<g fill="#8fd18f" fill-opacity="0.9"><circle cx="275.84" cy="355.54" r="1.1"/><circle cx="271.96" cy="354.53" r="1.1"/><circle cx="275.93" cy="355.1" r="1.1"/><circle cx="276.04" cy="353.17" r="1.1"/><circle cx="272.95" cy="352.33" r="1.1"/><circle cx="274.57" cy="352.7" r="1.1"/><circle cx="277.2" cy="356.05" r="1.1"/><circle cx="271.02" cy="351.08" r="1.1"/><circle cx="275.49" cy="355.29" r="1.1"/><circle cx="271.66" cy="351.36" r="1.1"/></g>
<g fill="#f2a08a" fill-opacity="0.85"><circle cx="311.81" cy="347.57" r="1.15"/><circle cx="305.94" cy="352.06" r="1.15"/><circle cx="311.55" cy="347.17" r="1.15"/><circle cx="308.16" cy="349.97" r="1.15"/><circle cx="307.88" cy="351.18" r="1.15"/><circle cx="301.78" cy="355.5" r="1.15"/><circle cx="311.44" cy="347.65" r="1.15"/><circle cx="305.94" cy="351.71" r="1.15"/><circle cx="306.1" cy="350.93" r="1.15"/><circle cx="307.07" cy="350.79" r="1.15"/><circle cx="300.81" cy="354.8" r="1.15"/><circle cx="308.8" cy="350.49" r="1.15"/><circle cx="308.65" cy="349.21" r="1.15"/><circle cx="306.93" cy="350.49" r="1.15"/><circle cx="302.29" cy="355.38" r="1.15"/><circle cx="309.81" cy="346.86" r="1.15"/><circle cx="309.73" cy="347.6" r="1.15"/><circle cx="312.49" cy="347.06" r="1.15"/><circle cx="301.05" cy="355.95" r="1.15"/><circle cx="311.18" cy="348.17" r="1.15"/><circle cx="312" cy="348.32" r="1.15"/><circle cx="306.11" cy="351.19" r="1.15"/></g>
<g fill="#1a9a2a" stroke="#000" stroke-width="0.7"><circle cx="263.8" cy="346.7" r="1.55"/><circle cx="269.8" cy="348.5" r="1.55"/></g>
<g fill="#a0101a" stroke="#000" stroke-width="0.7"><circle cx="315.2" cy="346.4" r="1.55"/><circle cx="346.4" cy="316.8" r="1.55"/></g>
<text x="252.5" y="343.6" font-size="4.6" text-anchor="start" font-weight="normal" fill="#d42a3c" >AL591848 .3</text>
<text x="308.3" y="343.6" font-size="4.6" text-anchor="start" font-weight="normal" fill="#d42a3c" >AL358489 .2</text>
<text x="326.8" y="322" font-size="4.6" text-anchor="start" font-weight="normal" fill="#d42a3c" >LINC00473</text>
<text x="266.8" y="353.8" font-size="4.4" text-anchor="start" font-weight="normal" fill="#d42a3c" >SNHG3</text>
<rect x="250.2" y="302.7" width="114.6" height="59.2" fill="none" stroke="#1e1e1e" stroke-width="1.1" shape-rendering="auto"/>
<text x="251" y="372.5" font-size="7.2" text-anchor="middle" font-weight="normal" fill="#1e1e1e" stroke="#1e1e1e" stroke-width="0.25" >−15</text>
<text x="264.4" y="372.5" font-size="7.2" text-anchor="middle" font-weight="normal" fill="#1e1e1e" stroke="#1e1e1e" stroke-width="0.25" >−10</text>
<text x="278.1" y="372.5" font-size="7.2" text-anchor="middle" font-weight="normal" fill="#1e1e1e" stroke="#1e1e1e" stroke-width="0.25" >−5</text>
<text x="290.4" y="372.5" font-size="7.2" text-anchor="middle" font-weight="normal" fill="#1e1e1e" stroke="#1e1e1e" stroke-width="0.25" >0</text>
<text x="301" y="372.5" font-size="7.2" text-anchor="middle" font-weight="normal" fill="#1e1e1e" stroke="#1e1e1e" stroke-width="0.25" >5</text>
<text x="312.5" y="372.5" font-size="7.2" text-anchor="middle" font-weight="normal" fill="#1e1e1e" stroke="#1e1e1e" stroke-width="0.25" >10</text>
<text x="324.6" y="372.5" font-size="7.2" text-anchor="middle" font-weight="normal" fill="#1e1e1e" stroke="#1e1e1e" stroke-width="0.25" >15</text>
<text x="347.9" y="372.5" font-size="7.2" text-anchor="middle" font-weight="normal" fill="#1e1e1e" stroke="#1e1e1e" stroke-width="0.25" >25</text>
<text x="244.6" y="362.1" font-size="7.2" text-anchor="end" font-weight="normal" fill="#1e1e1e" stroke="#1e1e1e" stroke-width="0.25" >0</text>
<text x="244.6" y="343.9" font-size="7.2" text-anchor="end" font-weight="normal" fill="#1e1e1e" stroke="#1e1e1e" stroke-width="0.25" >5</text>
<text x="244.6" y="325.8" font-size="7.2" text-anchor="end" font-weight="normal" fill="#1e1e1e" stroke="#1e1e1e" stroke-width="0.25" >10</text>
<text x="244.6" y="307.6" font-size="7.2" text-anchor="end" font-weight="normal" fill="#1e1e1e" stroke="#1e1e1e" stroke-width="0.25" >15</text>
<path d="M255.5 361.9V364.6M266.8 361.9V364.6M278.3 361.9V364.6M290 361.9V364.6M301.5 361.9V364.6M313 361.9V364.6M324.5 361.9V364.6M348 361.9V364.6M247 359.5H250.2M247 341.3H250.2M247 323.2H250.2M247 305H250.2" stroke="#1e1e1e" stroke-width="1" fill="none"/>
<text x="245.2" y="298.9" font-size="7.4" text-anchor="start" font-weight="normal" fill="#1e1e1e" stroke="#1e1e1e" stroke-width="0.25" >CMP_MEP lncRNA</text>
<text transform="translate(231.3 332.3) rotate(-90)" font-size="8.6" text-anchor="middle" fill="#1e1e1e" textLength="34.8" lengthAdjust="spacingAndGlyphs">Log<tspan font-size="4.6" dy="1.8">10</tspan><tspan dy="-1.8">p-value</tspan></text>
<text x="298.1" y="382.6" font-size="8.2" text-anchor="middle" fill="#1e1e1e" textLength="48.8" lengthAdjust="spacingAndGlyphs">Log<tspan font-size="5" dy="1.7">2</tspan><tspan dy="-1.7">(fold change)</tspan></text>
<path d="M415.4 302.7V361.9M419.1 302.7V361.9M425.6 302.7V361.9M429.3 302.7V361.9M383.1 354.1H497M383.1 357.3H497" stroke="#6a6a6a" stroke-width="0.55" stroke-dasharray="1.6 1.3" fill="none" shape-rendering="auto"/>
<path d="M403.5 357.3 L445 357 L445 358.6 L420 359.6 L405 359 Z" fill="#000"/>
<g fill="#000" fill-opacity="1"><circle cx="427.66" cy="358.4" r="0.7"/><circle cx="438.77" cy="357.05" r="0.7"/><circle cx="442.9" cy="356.71" r="0.7"/><circle cx="431.33" cy="358.35" r="0.7"/><circle cx="425.77" cy="357.69" r="0.7"/><circle cx="444.46" cy="358.42" r="0.7"/><circle cx="415.56" cy="357.18" r="0.7"/><circle cx="424.32" cy="356.2" r="0.7"/><circle cx="429.34" cy="358.8" r="0.7"/><circle cx="421.18" cy="359.22" r="0.7"/><circle cx="443.76" cy="358.11" r="0.7"/><circle cx="432.66" cy="356.45" r="0.7"/><circle cx="404.52" cy="359.72" r="0.7"/><circle cx="414.8" cy="356.81" r="0.7"/><circle cx="442.35" cy="358.85" r="0.7"/><circle cx="407.54" cy="357.22" r="0.7"/><circle cx="412.92" cy="357.04" r="0.7"/><circle cx="415.7" cy="357.5" r="0.7"/><circle cx="410.34" cy="356.42" r="0.7"/><circle cx="403.48" cy="359.32" r="0.7"/><circle cx="435.63" cy="358.13" r="0.7"/><circle cx="407.57" cy="356.57" r="0.7"/><circle cx="407.38" cy="357.2" r="0.7"/><circle cx="404.59" cy="357.05" r="0.7"/><circle cx="411.13" cy="356.73" r="0.7"/><circle cx="431.42" cy="357.74" r="0.7"/><circle cx="423.31" cy="357.36" r="0.7"/><circle cx="426.26" cy="358.98" r="0.7"/><circle cx="415.86" cy="356.27" r="0.7"/><circle cx="423.65" cy="357.44" r="0.7"/><circle cx="437.12" cy="356.42" r="0.7"/><circle cx="441.27" cy="356.06" r="0.7"/><circle cx="426.4" cy="357.69" r="0.7"/><circle cx="416.19" cy="359.38" r="0.7"/><circle cx="433.59" cy="356.62" r="0.7"/><circle cx="424.27" cy="358.33" r="0.7"/><circle cx="403.51" cy="356.33" r="0.7"/><circle cx="429.08" cy="358.77" r="0.7"/><circle cx="422.82" cy="357.6" r="0.7"/><circle cx="424.81" cy="356.99" r="0.7"/><circle cx="423.69" cy="356.08" r="0.7"/><circle cx="419.87" cy="359.05" r="0.7"/><circle cx="416.62" cy="356.4" r="0.7"/><circle cx="410.34" cy="358.7" r="0.7"/><circle cx="429.99" cy="357.09" r="0.7"/></g>
<g fill="#8fd18f" fill-opacity="0.75"><circle cx="408.17" cy="351.53" r="1.2"/><circle cx="415.4" cy="355.28" r="1.2"/><circle cx="403.04" cy="345.63" r="1.2"/><circle cx="407.77" cy="346.36" r="1.2"/><circle cx="402.31" cy="351.83" r="1.2"/><circle cx="413.86" cy="353.53" r="1.2"/><circle cx="401.87" cy="351.12" r="1.2"/><circle cx="415.29" cy="354.11" r="1.2"/><circle cx="410.64" cy="348" r="1.2"/><circle cx="403.22" cy="346.97" r="1.2"/><circle cx="408.31" cy="351.79" r="1.2"/><circle cx="409.18" cy="349.2" r="1.2"/><circle cx="405.75" cy="347.48" r="1.2"/><circle cx="414.75" cy="351.47" r="1.2"/><circle cx="413.22" cy="354.24" r="1.2"/><circle cx="402.46" cy="345.9" r="1.2"/><circle cx="402.51" cy="355.39" r="1.2"/><circle cx="414.21" cy="349.37" r="1.2"/><circle cx="413.86" cy="348.6" r="1.2"/><circle cx="413.04" cy="356.26" r="1.2"/><circle cx="405.66" cy="350.04" r="1.2"/><circle cx="399.01" cy="347.8" r="1.2"/><circle cx="401.38" cy="348.05" r="1.2"/><circle cx="398.4" cy="350.8" r="1.2"/><circle cx="405.35" cy="347.23" r="1.2"/><circle cx="408.22" cy="355.24" r="1.2"/><circle cx="413.44" cy="356.09" r="1.2"/><circle cx="410.02" cy="354.95" r="1.2"/><circle cx="397.5" cy="353.31" r="1.2"/><circle cx="403.73" cy="348.35" r="1.2"/><circle cx="413.7" cy="353.4" r="1.2"/><circle cx="403.86" cy="348.86" r="1.2"/><circle cx="402.41" cy="355.71" r="1.2"/><circle cx="410.14" cy="347.62" r="1.2"/><circle cx="408.24" cy="345.19" r="1.2"/><circle cx="402.2" cy="350.52" r="1.2"/><circle cx="418.37" cy="354.8" r="1.2"/><circle cx="408.59" cy="353.66" r="1.2"/></g>
<g fill="#e77f8d" fill-opacity="0.5"><circle cx="447.69" cy="352.91" r="1.3"/><circle cx="435.87" cy="358.33" r="1.3"/><circle cx="448.5" cy="352.83" r="1.3"/><circle cx="455.28" cy="348.75" r="1.3"/><circle cx="456.77" cy="343.18" r="1.3"/><circle cx="465.99" cy="334.28" r="1.3"/><circle cx="455.48" cy="343.44" r="1.3"/><circle cx="461.07" cy="336.09" r="1.3"/><circle cx="445.65" cy="353.07" r="1.3"/><circle cx="453.18" cy="347.82" r="1.3"/><circle cx="461.39" cy="345.14" r="1.3"/><circle cx="453.64" cy="340.55" r="1.3"/><circle cx="427.25" cy="357.92" r="1.3"/><circle cx="460.3" cy="338.16" r="1.3"/><circle cx="456.87" cy="341.36" r="1.3"/><circle cx="446.5" cy="349.59" r="1.3"/><circle cx="463.5" cy="336.47" r="1.3"/><circle cx="448.34" cy="342.85" r="1.3"/><circle cx="443.69" cy="351.32" r="1.3"/><circle cx="459.44" cy="343.38" r="1.3"/><circle cx="462.52" cy="338.09" r="1.3"/><circle cx="460.05" cy="341.69" r="1.3"/><circle cx="445.2" cy="354.13" r="1.3"/><circle cx="462.46" cy="336.48" r="1.3"/><circle cx="449.76" cy="343.03" r="1.3"/><circle cx="441.89" cy="348.41" r="1.3"/><circle cx="432.93" cy="354.05" r="1.3"/><circle cx="457.63" cy="345.95" r="1.3"/><circle cx="460.91" cy="344.78" r="1.3"/><circle cx="456.62" cy="345.56" r="1.3"/><circle cx="435.92" cy="353.15" r="1.3"/><circle cx="460.42" cy="342.8" r="1.3"/><circle cx="429.85" cy="357.86" r="1.3"/><circle cx="431.33" cy="357.4" r="1.3"/><circle cx="459.5" cy="341.18" r="1.3"/><circle cx="447.95" cy="347.19" r="1.3"/><circle cx="453.83" cy="342.28" r="1.3"/><circle cx="439.7" cy="355.64" r="1.3"/><circle cx="465.75" cy="338.44" r="1.3"/><circle cx="436.14" cy="356.89" r="1.3"/><circle cx="462.09" cy="339.41" r="1.3"/><circle cx="432.5" cy="355.75" r="1.3"/><circle cx="432.11" cy="358.82" r="1.3"/><circle cx="450.56" cy="346.19" r="1.3"/><circle cx="438.3" cy="356.91" r="1.3"/><circle cx="458.37" cy="337.34" r="1.3"/><circle cx="452.58" cy="347.46" r="1.3"/><circle cx="453.9" cy="340.47" r="1.3"/><circle cx="445.93" cy="346.75" r="1.3"/><circle cx="442.76" cy="353.86" r="1.3"/><circle cx="450.06" cy="353.93" r="1.3"/><circle cx="457.83" cy="349.17" r="1.3"/><circle cx="431.6" cy="355.81" r="1.3"/><circle cx="445.78" cy="354.69" r="1.3"/><circle cx="449.43" cy="355.2" r="1.3"/><circle cx="446.97" cy="355.15" r="1.3"/><circle cx="452.95" cy="345.79" r="1.3"/><circle cx="457.71" cy="341.1" r="1.3"/><circle cx="459.58" cy="346.93" r="1.3"/><circle cx="442.19" cy="355.68" r="1.3"/><circle cx="450.3" cy="352.23" r="1.3"/><circle cx="449.1" cy="349.44" r="1.3"/><circle cx="431.63" cy="355.68" r="1.3"/><circle cx="451.59" cy="347.95" r="1.3"/><circle cx="443.3" cy="347.72" r="1.3"/><circle cx="467.35" cy="337.92" r="1.3"/><circle cx="455.81" cy="348.99" r="1.3"/><circle cx="453.17" cy="351.33" r="1.3"/><circle cx="448.06" cy="350.67" r="1.3"/><circle cx="440.71" cy="352.88" r="1.3"/><circle cx="444.17" cy="349.04" r="1.3"/><circle cx="447.78" cy="347.24" r="1.3"/><circle cx="461.46" cy="335.49" r="1.3"/><circle cx="463.14" cy="343.58" r="1.3"/><circle cx="442.94" cy="348.16" r="1.3"/><circle cx="454.46" cy="346.41" r="1.3"/><circle cx="453.79" cy="341.03" r="1.3"/><circle cx="435.96" cy="352.29" r="1.3"/><circle cx="434.5" cy="353.35" r="1.3"/><circle cx="438.42" cy="356.7" r="1.3"/><circle cx="445.98" cy="352.23" r="1.3"/><circle cx="439.1" cy="355.01" r="1.3"/><circle cx="462.38" cy="343.04" r="1.3"/><circle cx="445.65" cy="354.97" r="1.3"/><circle cx="425.94" cy="357.97" r="1.3"/><circle cx="435.55" cy="355.95" r="1.3"/><circle cx="453.08" cy="346.91" r="1.3"/><circle cx="430.62" cy="358.75" r="1.3"/><circle cx="436.42" cy="355.39" r="1.3"/><circle cx="450.49" cy="350.1" r="1.3"/><circle cx="444.11" cy="347.64" r="1.3"/><circle cx="454.97" cy="345.99" r="1.3"/><circle cx="457.89" cy="341.52" r="1.3"/><circle cx="459.39" cy="347.08" r="1.3"/><circle cx="458.39" cy="347.14" r="1.3"/><circle cx="437.84" cy="353.92" r="1.3"/><circle cx="460.46" cy="341.99" r="1.3"/><circle cx="440.11" cy="355.71" r="1.3"/><circle cx="427.51" cy="356.43" r="1.3"/><circle cx="448.72" cy="343.64" r="1.3"/><circle cx="430.91" cy="356.88" r="1.3"/><circle cx="452.6" cy="351.25" r="1.3"/><circle cx="457.68" cy="337.58" r="1.3"/><circle cx="455.06" cy="349.99" r="1.3"/><circle cx="445.14" cy="355.77" r="1.3"/><circle cx="444.72" cy="356.37" r="1.3"/><circle cx="459.87" cy="337.91" r="1.3"/><circle cx="450.27" cy="345.55" r="1.3"/><circle cx="460.81" cy="336.28" r="1.3"/><circle cx="464.7" cy="339.89" r="1.3"/><circle cx="444.9" cy="347.2" r="1.3"/><circle cx="461.65" cy="340.77" r="1.3"/><circle cx="461.42" cy="343.03" r="1.3"/><circle cx="459.44" cy="345.58" r="1.3"/><circle cx="456.63" cy="346.11" r="1.3"/><circle cx="435.2" cy="352.43" r="1.3"/><circle cx="438.69" cy="352.89" r="1.3"/><circle cx="452.8" cy="347.91" r="1.3"/><circle cx="459" cy="340.22" r="1.3"/><circle cx="460.56" cy="339.65" r="1.3"/><circle cx="467.48" cy="336.95" r="1.3"/><circle cx="455.32" cy="343.37" r="1.3"/><circle cx="463.33" cy="337.7" r="1.3"/><circle cx="442.97" cy="352.65" r="1.3"/><circle cx="439.74" cy="350.78" r="1.3"/><circle cx="458.41" cy="344.91" r="1.3"/><circle cx="457.02" cy="340.4" r="1.3"/><circle cx="442.64" cy="350.61" r="1.3"/><circle cx="458.36" cy="338.18" r="1.3"/><circle cx="428.04" cy="358.71" r="1.3"/><circle cx="438.54" cy="350.97" r="1.3"/><circle cx="448.92" cy="349.4" r="1.3"/><circle cx="445.28" cy="349.28" r="1.3"/><circle cx="460.07" cy="343.89" r="1.3"/><circle cx="437.62" cy="355.36" r="1.3"/><circle cx="463.91" cy="340.6" r="1.3"/><circle cx="451.23" cy="351.92" r="1.3"/><circle cx="425.17" cy="357.8" r="1.3"/><circle cx="461.21" cy="345.48" r="1.3"/><circle cx="461.91" cy="336.31" r="1.3"/><circle cx="454.96" cy="349.17" r="1.3"/><circle cx="446.99" cy="351.86" r="1.3"/><circle cx="438.85" cy="355.49" r="1.3"/><circle cx="429.52" cy="357.77" r="1.3"/><circle cx="437.54" cy="358.16" r="1.3"/><circle cx="458.04" cy="337.77" r="1.3"/><circle cx="442.27" cy="349.08" r="1.3"/><circle cx="440.09" cy="355.22" r="1.3"/><circle cx="458.29" cy="345.01" r="1.3"/><circle cx="466.64" cy="335.8" r="1.3"/><circle cx="437.02" cy="354.92" r="1.3"/><circle cx="445.24" cy="355.69" r="1.3"/><circle cx="455.93" cy="343.13" r="1.3"/><circle cx="457.31" cy="346.79" r="1.3"/><circle cx="437.4" cy="357.93" r="1.3"/><circle cx="447.45" cy="344.37" r="1.3"/><circle cx="436.35" cy="357.14" r="1.3"/><circle cx="464.69" cy="338.78" r="1.3"/><circle cx="463.21" cy="336.26" r="1.3"/><circle cx="454.44" cy="345.45" r="1.3"/><circle cx="450.11" cy="353.76" r="1.3"/><circle cx="445.92" cy="351" r="1.3"/><circle cx="464.59" cy="338.11" r="1.3"/><circle cx="460.56" cy="338.74" r="1.3"/><circle cx="453.48" cy="344.73" r="1.3"/><circle cx="441.42" cy="349.86" r="1.3"/><circle cx="451.43" cy="346.42" r="1.3"/><circle cx="460" cy="343.26" r="1.3"/><circle cx="424.2" cy="358.65" r="1.3"/><circle cx="448.91" cy="351.7" r="1.3"/><circle cx="452.98" cy="351.19" r="1.3"/><circle cx="450.58" cy="344.22" r="1.3"/><circle cx="447.94" cy="355" r="1.3"/><circle cx="444.25" cy="350.17" r="1.3"/><circle cx="454.05" cy="351.39" r="1.3"/><circle cx="454.44" cy="349.1" r="1.3"/><circle cx="435.44" cy="354.05" r="1.3"/><circle cx="465.73" cy="337.95" r="1.3"/><circle cx="456.12" cy="344.16" r="1.3"/><circle cx="450.99" cy="349.26" r="1.3"/><circle cx="455.53" cy="341.58" r="1.3"/><circle cx="452.8" cy="343.38" r="1.3"/><circle cx="450.54" cy="352.85" r="1.3"/><circle cx="444.37" cy="354.04" r="1.3"/><circle cx="456.91" cy="344.17" r="1.3"/><circle cx="461" cy="335.79" r="1.3"/><circle cx="442.3" cy="349.17" r="1.3"/><circle cx="436.09" cy="352.29" r="1.3"/><circle cx="457.48" cy="342.29" r="1.3"/><circle cx="460.65" cy="336.83" r="1.3"/><circle cx="445.58" cy="347.63" r="1.3"/><circle cx="451.69" cy="349.52" r="1.3"/><circle cx="460.46" cy="346.3" r="1.3"/><circle cx="458.91" cy="347.91" r="1.3"/><circle cx="458.2" cy="339.33" r="1.3"/><circle cx="459.23" cy="340.01" r="1.3"/><circle cx="435.67" cy="355.22" r="1.3"/><circle cx="448.91" cy="345.75" r="1.3"/><circle cx="429.81" cy="358.68" r="1.3"/><circle cx="456.26" cy="343.07" r="1.3"/><circle cx="443.2" cy="350.85" r="1.3"/><circle cx="444.4" cy="353.67" r="1.3"/><circle cx="447.97" cy="343.05" r="1.3"/><circle cx="453.08" cy="350.47" r="1.3"/><circle cx="445.94" cy="354.9" r="1.3"/><circle cx="453.75" cy="346.18" r="1.3"/><circle cx="448.59" cy="350.06" r="1.3"/><circle cx="441.87" cy="353.94" r="1.3"/><circle cx="440.92" cy="357.88" r="1.3"/><circle cx="450.91" cy="352.33" r="1.3"/><circle cx="452.38" cy="353.08" r="1.3"/><circle cx="431.41" cy="356.08" r="1.3"/><circle cx="464.64" cy="341.29" r="1.3"/><circle cx="464.42" cy="335.57" r="1.3"/><circle cx="459.24" cy="347.92" r="1.3"/><circle cx="460.4" cy="338.71" r="1.3"/><circle cx="448.4" cy="346.93" r="1.3"/><circle cx="457.51" cy="340.15" r="1.3"/><circle cx="455.26" cy="349.1" r="1.3"/><circle cx="448.04" cy="350.85" r="1.3"/><circle cx="436.39" cy="354.18" r="1.3"/><circle cx="440.83" cy="356.9" r="1.3"/><circle cx="450.79" cy="341.56" r="1.3"/><circle cx="436.58" cy="355.94" r="1.3"/><circle cx="447.28" cy="352.91" r="1.3"/><circle cx="456.75" cy="347.35" r="1.3"/><circle cx="447.08" cy="353.47" r="1.3"/><circle cx="447.27" cy="353.88" r="1.3"/><circle cx="454.39" cy="349.95" r="1.3"/><circle cx="445.64" cy="353.85" r="1.3"/><circle cx="455.5" cy="340.35" r="1.3"/><circle cx="441.62" cy="349.47" r="1.3"/><circle cx="433.89" cy="354.84" r="1.3"/><circle cx="434.14" cy="356.58" r="1.3"/><circle cx="461.73" cy="342.5" r="1.3"/><circle cx="458.74" cy="342.99" r="1.3"/><circle cx="446.02" cy="352.7" r="1.3"/><circle cx="464.8" cy="335.85" r="1.3"/><circle cx="446.24" cy="351.77" r="1.3"/><circle cx="464.24" cy="338.35" r="1.3"/><circle cx="442.82" cy="348.99" r="1.3"/><circle cx="443.36" cy="353.32" r="1.3"/><circle cx="467.54" cy="337.85" r="1.3"/><circle cx="447.82" cy="353.82" r="1.3"/><circle cx="463.73" cy="339.12" r="1.3"/><circle cx="437.12" cy="354.88" r="1.3"/><circle cx="461.24" cy="342.33" r="1.3"/><circle cx="440.22" cy="355.84" r="1.3"/><circle cx="464.94" cy="338.8" r="1.3"/><circle cx="457.44" cy="339.65" r="1.3"/><circle cx="455.72" cy="339.85" r="1.3"/><circle cx="445.43" cy="353.02" r="1.3"/><circle cx="449.88" cy="349" r="1.3"/><circle cx="448.71" cy="346.77" r="1.3"/><circle cx="452.37" cy="344.82" r="1.3"/><circle cx="455.54" cy="350.05" r="1.3"/><circle cx="448.52" cy="355.16" r="1.3"/><circle cx="438.91" cy="352.18" r="1.3"/><circle cx="427.63" cy="356.8" r="1.3"/><circle cx="446.64" cy="345.4" r="1.3"/><circle cx="462.26" cy="344.95" r="1.3"/><circle cx="427.37" cy="357.24" r="1.3"/><circle cx="451.19" cy="343.37" r="1.3"/><circle cx="435.39" cy="353.71" r="1.3"/><circle cx="461.17" cy="340.02" r="1.3"/><circle cx="448.51" cy="344.67" r="1.3"/><circle cx="460.91" cy="345.47" r="1.3"/><circle cx="442.11" cy="349.05" r="1.3"/><circle cx="454.45" cy="345.72" r="1.3"/><circle cx="461.13" cy="340.09" r="1.3"/><circle cx="438.54" cy="354.37" r="1.3"/><circle cx="445.02" cy="352.5" r="1.3"/><circle cx="440.64" cy="350.51" r="1.3"/><circle cx="437.78" cy="355.85" r="1.3"/><circle cx="460.07" cy="342.08" r="1.3"/><circle cx="464.05" cy="335.81" r="1.3"/><circle cx="460.4" cy="336" r="1.3"/><circle cx="444.96" cy="348.22" r="1.3"/><circle cx="461.09" cy="340.36" r="1.3"/><circle cx="461.88" cy="344.81" r="1.3"/><circle cx="452.37" cy="349.42" r="1.3"/><circle cx="459.35" cy="346.56" r="1.3"/><circle cx="462.68" cy="339.69" r="1.3"/><circle cx="461.57" cy="339.05" r="1.3"/><circle cx="439.74" cy="355.82" r="1.3"/><circle cx="449" cy="347.53" r="1.3"/><circle cx="441.07" cy="358.04" r="1.3"/><circle cx="460.43" cy="336.78" r="1.3"/><circle cx="456.59" cy="346.08" r="1.3"/><circle cx="454.55" cy="347.52" r="1.3"/><circle cx="446.98" cy="350.2" r="1.3"/><circle cx="455.64" cy="345.25" r="1.3"/><circle cx="459.91" cy="337.68" r="1.3"/><circle cx="451.71" cy="345.69" r="1.3"/><circle cx="464.84" cy="336.66" r="1.3"/><circle cx="455.16" cy="343.28" r="1.3"/><circle cx="437.74" cy="354.86" r="1.3"/><circle cx="463.22" cy="339.93" r="1.3"/><circle cx="461.77" cy="337.09" r="1.3"/><circle cx="448.82" cy="346.11" r="1.3"/></g>
<g fill="#ec8a98" fill-opacity="0.7"><circle cx="436.95" cy="350.77" r="1.2"/><circle cx="440.65" cy="348.72" r="1.2"/><circle cx="442.86" cy="348.91" r="1.2"/><circle cx="438.91" cy="351.67" r="1.2"/><circle cx="447.29" cy="348.29" r="1.2"/><circle cx="435.69" cy="350.47" r="1.2"/><circle cx="438.49" cy="352.63" r="1.2"/><circle cx="434.77" cy="352.56" r="1.2"/><circle cx="444.99" cy="345.55" r="1.2"/><circle cx="444.5" cy="346.18" r="1.2"/><circle cx="445.8" cy="346.26" r="1.2"/><circle cx="447.84" cy="348.48" r="1.2"/><circle cx="437.42" cy="351.82" r="1.2"/><circle cx="443.45" cy="346.61" r="1.2"/><circle cx="445.03" cy="345.92" r="1.2"/><circle cx="444.42" cy="347" r="1.2"/><circle cx="444.2" cy="349.58" r="1.2"/><circle cx="447.21" cy="346.26" r="1.2"/><circle cx="440.94" cy="347.9" r="1.2"/><circle cx="442.21" cy="347.08" r="1.2"/><circle cx="440.55" cy="348.77" r="1.2"/><circle cx="445.04" cy="346.68" r="1.2"/><circle cx="439.96" cy="348.22" r="1.2"/><circle cx="445.86" cy="346.88" r="1.2"/><circle cx="445.37" cy="345.87" r="1.2"/><circle cx="434.14" cy="352.03" r="1.2"/><circle cx="449.18" cy="346.55" r="1.2"/><circle cx="450.21" cy="344.64" r="1.2"/><circle cx="446.99" cy="345.76" r="1.2"/><circle cx="441.16" cy="350.64" r="1.2"/></g>
<g fill="#8b0a10" stroke="#000" stroke-width="0.7"><circle cx="478.4" cy="309.8" r="1.55"/><circle cx="474.6" cy="318.2" r="1.55"/><circle cx="463.7" cy="334.7" r="1.55"/><circle cx="467.4" cy="335.4" r="1.55"/><circle cx="459.5" cy="337.2" r="1.55"/><circle cx="459.8" cy="338.6" r="1.55"/><circle cx="440.8" cy="338.2" r="1.55"/><circle cx="449.6" cy="348.4" r="1.55"/><circle cx="433" cy="348.8" r="1.55"/></g>
<text x="459" y="316.3" font-size="4.6" text-anchor="start" font-weight="normal" fill="#d42a3c" >LINC01133</text>
<text x="461.4" y="324.7" font-size="4.6" text-anchor="start" font-weight="normal" fill="#d42a3c" >BGLT3</text>
<text x="456.9" y="331.8" font-size="4.6" text-anchor="start" font-weight="normal" fill="#d42a3c" >SLC2A1-AS1</text>
<text x="433.7" y="336.1" font-size="4.6" text-anchor="start" font-weight="normal" fill="#d42a3c" >PCED1B-AS1</text>
<text x="469.4" y="337.2" font-size="4.6" text-anchor="start" font-weight="normal" fill="#d42a3c" >LINC0065 6</text>
<text x="427.4" y="342.9" font-size="4.6" text-anchor="start" font-weight="normal" fill="#d42a3c" >UCA1</text>
<text x="464.8" y="342" font-size="4.6" text-anchor="start" font-weight="normal" fill="#d42a3c" >LINC0057 0</text>
<text x="413.8" y="354.2" font-size="4.6" text-anchor="start" font-weight="normal" fill="#d42a3c" >LINC01...</text>
<text x="445.5" y="345.8" font-size="4.6" text-anchor="start" font-weight="normal" fill="#d42a3c" >LI..</text>
<rect x="383.1" y="302.7" width="113.9" height="59.2" fill="none" stroke="#1e1e1e" stroke-width="1.1" shape-rendering="auto"/>
<text x="385.6" y="372.5" font-size="7.2" text-anchor="middle" font-weight="normal" fill="#1e1e1e" stroke="#1e1e1e" stroke-width="0.25" >−10</text>
<text x="404.4" y="372.5" font-size="7.2" text-anchor="middle" font-weight="normal" fill="#1e1e1e" stroke="#1e1e1e" stroke-width="0.25" >−5</text>
<text x="422.9" y="372.5" font-size="7.2" text-anchor="middle" font-weight="normal" fill="#1e1e1e" stroke="#1e1e1e" stroke-width="0.25" >0</text>
<text x="440.25" y="372.5" font-size="7.2" text-anchor="middle" font-weight="normal" fill="#1e1e1e" stroke="#1e1e1e" stroke-width="0.25" >5</text>
<text x="457.5" y="372.5" font-size="7.2" text-anchor="middle" font-weight="normal" fill="#1e1e1e" stroke="#1e1e1e" stroke-width="0.25" >10</text>
<text x="491.9" y="372.5" font-size="7.2" text-anchor="middle" font-weight="normal" fill="#1e1e1e" stroke="#1e1e1e" stroke-width="0.25" >20</text>
<text x="378.2" y="361.6" font-size="7.2" text-anchor="end" font-weight="normal" fill="#1e1e1e" stroke="#1e1e1e" stroke-width="0.25" >0</text>
<text x="378.2" y="349.5" font-size="7.2" text-anchor="end" font-weight="normal" fill="#1e1e1e" stroke="#1e1e1e" stroke-width="0.25" >10</text>
<text x="378.2" y="337.4" font-size="7.2" text-anchor="end" font-weight="normal" fill="#1e1e1e" stroke="#1e1e1e" stroke-width="0.25" >20</text>
<text x="378.2" y="325.3" font-size="7.2" text-anchor="end" font-weight="normal" fill="#1e1e1e" stroke="#1e1e1e" stroke-width="0.25" >30</text>
<text x="378.2" y="313.2" font-size="7.2" text-anchor="end" font-weight="normal" fill="#1e1e1e" stroke="#1e1e1e" stroke-width="0.25" >40</text>
<path d="M387 361.9V364.6M405 361.9V364.6M422.5 361.9V364.6M440 361.9V364.6M457.5 361.9V364.6M492 361.9V364.6M379.9 359H383.1M379.9 346.9H383.1M379.9 334.8H383.1M379.9 322.7H383.1M379.9 310.6H383.1" stroke="#1e1e1e" stroke-width="1" fill="none"/>
<text x="378" y="299.6" font-size="7.4" text-anchor="start" font-weight="normal" fill="#1e1e1e" stroke="#1e1e1e" stroke-width="0.25" >MEP_EB lncRNA</text>
<text x="440" y="382.6" font-size="8.2" text-anchor="middle" fill="#1e1e1e" textLength="48.8" lengthAdjust="spacingAndGlyphs">Log<tspan font-size="5" dy="1.7">2</tspan><tspan dy="-1.7">(fold change)</tspan></text>
<text x="221.8" y="398.4" font-size="11.8" text-anchor="start" font-weight="bold" fill="#111" >E</text>
<text x="349.6" y="494" font-size="7.6" text-anchor="end" font-weight="normal" fill="#1e1e1e" stroke="#1e1e1e" stroke-width="0.25" >0</text>
<text x="349.6" y="477.47" font-size="7.6" text-anchor="end" font-weight="normal" fill="#1e1e1e" stroke="#1e1e1e" stroke-width="0.25" >3000</text>
<text x="349.6" y="460.93" font-size="7.6" text-anchor="end" font-weight="normal" fill="#1e1e1e" stroke="#1e1e1e" stroke-width="0.25" >6000</text>
<text x="349.6" y="444.4" font-size="7.6" text-anchor="end" font-weight="normal" fill="#1e1e1e" stroke="#1e1e1e" stroke-width="0.25" >9000</text>
<text x="349.6" y="427.87" font-size="7.6" text-anchor="end" font-weight="normal" fill="#1e1e1e" stroke="#1e1e1e" stroke-width="0.25" >12000</text>
<text x="349.6" y="411.33" font-size="7.6" text-anchor="end" font-weight="normal" fill="#1e1e1e" stroke="#1e1e1e" stroke-width="0.25" >15000</text>
<text x="349.6" y="394.8" font-size="7.6" text-anchor="end" font-weight="normal" fill="#1e1e1e" stroke="#1e1e1e" stroke-width="0.25" >18000</text>
<path d="M352.6 392.1H355.3V491.3H352.6M352.4 491.3H355.3M352.4 474.77H355.3M352.4 458.23H355.3M352.4 441.7H355.3M352.4 425.17H355.3M352.4 408.63H355.3M352.4 392.1H355.3" stroke="#1e1e1e" stroke-width="0.95" fill="none"/>
<text transform="translate(322.6 441.9) rotate(-90)" font-size="7.6" text-anchor="middle" fill="#1e1e1e" textLength="54.7" lengthAdjust="spacingAndGlyphs">Number of overlaps</text>
<rect x="365.45" y="392.74" width="7.1" height="99.06" fill="#c8193a"/>
<text x="370.8" y="391.14" font-size="7.1" text-anchor="middle" font-weight="normal" fill="#1e1e1e" stroke="#1e1e1e" stroke-width="0.25" >17974</text>
<rect x="379.9" y="484.34" width="7.1" height="7.46" fill="#c8193a"/>
<text x="383.85" y="482.74" font-size="6.6" text-anchor="middle" font-weight="normal" fill="#1e1e1e" stroke="#1e1e1e" stroke-width="0.25" >1354</text>
<rect x="394.35" y="490.3" width="7.1" height="1.5" fill="#c8193a"/>
<text x="398.3" y="488.9" font-size="6.6" text-anchor="middle" font-weight="normal" fill="#1e1e1e" stroke="#1e1e1e" stroke-width="0.25" >242</text>
<rect x="408.8" y="491.4" width="7.1" height="1" fill="#e3707f"/>
<text x="412.75" y="488.9" font-size="6.6" text-anchor="middle" font-weight="normal" fill="#1e1e1e" stroke="#1e1e1e" stroke-width="0.25" >78</text>
<rect x="423.25" y="491.9" width="7.1" height="1" fill="#8db8d8"/>
<text x="427.2" y="488.9" font-size="6.6" text-anchor="middle" font-weight="normal" fill="#1e1e1e" stroke="#1e1e1e" stroke-width="0.25" >39</text>
<rect x="437.7" y="491.9" width="7.1" height="1" fill="#8db8d8"/>
<text x="441.65" y="488.9" font-size="6.6" text-anchor="middle" font-weight="normal" fill="#1e1e1e" stroke="#1e1e1e" stroke-width="0.25" >13</text>
<rect x="452.15" y="491.9" width="7.1" height="1" fill="#8db8d8"/>
<text x="456.1" y="488.9" font-size="6.6" text-anchor="middle" font-weight="normal" fill="#1e1e1e" stroke="#1e1e1e" stroke-width="0.25" >12</text>
<rect x="466.6" y="491.9" width="7.1" height="1" fill="#8db8d8"/>
<text x="470.55" y="488.9" font-size="6.6" text-anchor="middle" font-weight="normal" fill="#1e1e1e" stroke="#1e1e1e" stroke-width="0.25" >12</text>
<rect x="481.05" y="491.9" width="7.1" height="1" fill="#8db8d8"/>
<text x="485" y="488.9" font-size="6.6" text-anchor="middle" font-weight="normal" fill="#1e1e1e" stroke="#1e1e1e" stroke-width="0.25" >6</text>
<rect x="495.5" y="491.9" width="7.1" height="1" fill="#8db8d8"/>
<text x="499.45" y="488.9" font-size="6.6" text-anchor="middle" font-weight="normal" fill="#1e1e1e" stroke="#1e1e1e" stroke-width="0.25" >3</text>
<circle cx="369" cy="500.8" r="3" fill="#144f86"/>
<circle cx="369" cy="511.4" r="3" fill="#c8193a"/>
<circle cx="369" cy="522" r="3" fill="#144f86"/>
<circle cx="369" cy="532.6" r="3" fill="#144f86"/>
<circle cx="383.45" cy="500.8" r="3" fill="#c8193a"/>
<circle cx="383.45" cy="511.4" r="3" fill="#144f86"/>
<circle cx="383.45" cy="522" r="3" fill="#144f86"/>
<circle cx="383.45" cy="532.6" r="3" fill="#144f86"/>
<path d="M397.9 500.8V511.4" stroke="#333" stroke-width="0.9"/>
<circle cx="397.9" cy="500.8" r="3" fill="#c8193a"/>
<circle cx="397.9" cy="511.4" r="3" fill="#c8193a"/>
<circle cx="397.9" cy="522" r="3" fill="#144f86"/>
<circle cx="397.9" cy="532.6" r="3" fill="#144f86"/>
<circle cx="412.35" cy="500.8" r="3" fill="#144f86"/>
<circle cx="412.35" cy="511.4" r="3" fill="#144f86"/>
<circle cx="412.35" cy="522" r="3" fill="#c8193a"/>
<circle cx="412.35" cy="532.6" r="3" fill="#144f86"/>
<path d="M426.8 500.8V532.6" stroke="#333" stroke-width="0.9"/>
<circle cx="426.8" cy="500.8" r="3" fill="#c8193a"/>
<circle cx="426.8" cy="511.4" r="3" fill="#144f86"/>
<circle cx="426.8" cy="522" r="3" fill="#144f86"/>
<circle cx="426.8" cy="532.6" r="3" fill="#c8193a"/>
<circle cx="441.25" cy="500.8" r="3" fill="#144f86"/>
<circle cx="441.25" cy="511.4" r="3" fill="#144f86"/>
<circle cx="441.25" cy="522" r="3" fill="#144f86"/>
<circle cx="441.25" cy="532.6" r="3" fill="#c8193a"/>
<path d="M455.7 500.8V522" stroke="#333" stroke-width="0.9"/>
<circle cx="455.7" cy="500.8" r="3" fill="#c8193a"/>
<circle cx="455.7" cy="511.4" r="3" fill="#144f86"/>
<circle cx="455.7" cy="522" r="3" fill="#c8193a"/>
<circle cx="455.7" cy="532.6" r="3" fill="#144f86"/>
<path d="M470.15 500.8V532.6" stroke="#8fd88f" stroke-width="0.9"/>
<circle cx="470.15" cy="500.8" r="3" fill="#37b34a"/>
<circle cx="470.15" cy="511.4" r="3" fill="#37b34a"/>
<circle cx="470.15" cy="522" r="3" fill="#144f86"/>
<circle cx="470.15" cy="532.6" r="3" fill="#37b34a"/>
<path d="M484.6 511.4V522" stroke="#333" stroke-width="0.9"/>
<circle cx="484.6" cy="500.8" r="3" fill="#144f86"/>
<circle cx="484.6" cy="511.4" r="3" fill="#c8193a"/>
<circle cx="484.6" cy="522" r="3" fill="#c8193a"/>
<circle cx="484.6" cy="532.6" r="3" fill="#144f86"/>
<path d="M499.05 511.4V532.6" stroke="#333" stroke-width="0.9"/>
<circle cx="499.05" cy="500.8" r="3" fill="#144f86"/>
<circle cx="499.05" cy="511.4" r="3" fill="#c8193a"/>
<circle cx="499.05" cy="522" r="3" fill="#144f86"/>
<circle cx="499.05" cy="532.6" r="3" fill="#c8193a"/>
<rect x="291.8" y="497.4" width="4.2" height="4.3" fill="#4e1b6e"/>
<rect x="252.3" y="508" width="43.7" height="4.6" fill="#4e1b6e"/>
<rect x="295.1" y="519.3" width="0.9" height="4.4" fill="#b79ccc"/>
<rect x="295.1" y="529.9" width="0.9" height="4.4" fill="#b79ccc"/>
<text x="343.7" y="501.1" font-size="4.3" text-anchor="end" font-weight="normal" fill="#333" stroke="#333" stroke-width="0.25" >MEP_EB_dfncRNA</text>
<text x="343.7" y="512.7" font-size="4.3" text-anchor="end" font-weight="normal" fill="#333" stroke="#333" stroke-width="0.25" >MEP_EB_dfpeak_genes</text>
<text x="343.7" y="523.4" font-size="4.3" text-anchor="end" font-weight="normal" fill="#333" stroke="#333" stroke-width="0.25" >MEP_specific_lncRNA</text>
<text x="343.7" y="534" font-size="4.3" text-anchor="end" font-weight="normal" fill="#333" stroke="#333" stroke-width="0.25" >EB_specific_lncRNA</text>
<path d="M247.8 538.8H296.4M260.8 538.8V540.7M272.3 538.8V540.7M283.8 538.8V540.7M296 538.8V540.7" stroke="#1e1e1e" stroke-width="0.85" fill="none"/>
<text x="248" y="545.9" font-size="4.3" text-anchor="middle" font-weight="normal" fill="#333" stroke="#333" stroke-width="0.25" >20000</text>
<text x="261.1" y="545.9" font-size="4.3" text-anchor="middle" font-weight="normal" fill="#333" stroke="#333" stroke-width="0.25" >15000</text>
<text x="274.1" y="545.9" font-size="4.3" text-anchor="middle" font-weight="normal" fill="#333" stroke="#333" stroke-width="0.25" >10000</text>
<text x="285.6" y="545.9" font-size="4.3" text-anchor="middle" font-weight="normal" fill="#333" stroke="#333" stroke-width="0.25" >5000</text>
<text x="296.2" y="545.9" font-size="4.3" text-anchor="middle" font-weight="normal" fill="#333" stroke="#333" stroke-width="0.25" >0</text>
<text x="221.6" y="560.2" font-size="11.8" text-anchor="start" font-weight="bold" fill="#111" >F</text>
<text x="252.5" y="615.9" font-size="5.3" text-anchor="end" font-weight="normal" fill="#3a3a3a" stroke="#3a3a3a" stroke-width="0.25" >200</text>
<text x="252.5" y="605.5" font-size="5.3" text-anchor="end" font-weight="normal" fill="#3a3a3a" stroke="#3a3a3a" stroke-width="0.25" >300</text>
<text x="252.5" y="595.1" font-size="5.3" text-anchor="end" font-weight="normal" fill="#3a3a3a" stroke="#3a3a3a" stroke-width="0.25" >400</text>
<text x="252.5" y="584.7" font-size="5.3" text-anchor="end" font-weight="normal" fill="#3a3a3a" stroke="#3a3a3a" stroke-width="0.25" >500</text>
<text x="252.5" y="574.3" font-size="5.3" text-anchor="end" font-weight="normal" fill="#3a3a3a" stroke="#3a3a3a" stroke-width="0.25" >600</text>
<text x="252.5" y="563.8" font-size="5.3" text-anchor="end" font-weight="normal" fill="#3a3a3a" stroke="#3a3a3a" stroke-width="0.25" >700</text>
<path d="M257.1 559.8V616.3H330.4M254.2 614H257.1M254.2 603.6H257.1M254.2 593.2H257.1M254.2 582.8H257.1M254.2 572.4H257.1M254.2 561.9H257.1M265.5 616.3V618.9M279.6 616.3V618.9M293.8 616.3V618.9M308.1 616.3V618.9M321.9 616.3V618.9" stroke="#1e1e1e" stroke-width="1.1" fill="none"/>
<text x="265.5" y="625.8" font-size="5.4" text-anchor="middle" font-weight="normal" fill="#3a3a3a" stroke="#3a3a3a" stroke-width="0.25" >HSC</text>
<text x="279.6" y="625.8" font-size="5.4" text-anchor="middle" font-weight="normal" fill="#3a3a3a" stroke="#3a3a3a" stroke-width="0.25" >MPP</text>
<text x="293.8" y="625.8" font-size="5.4" text-anchor="middle" font-weight="normal" fill="#3a3a3a" stroke="#3a3a3a" stroke-width="0.25" >CMP</text>
<text x="308.1" y="625.8" font-size="5.4" text-anchor="middle" font-weight="normal" fill="#3a3a3a" stroke="#3a3a3a" stroke-width="0.25" >MEP</text>
<text x="321.9" y="625.8" font-size="5.4" text-anchor="middle" font-weight="normal" fill="#3a3a3a" stroke="#3a3a3a" stroke-width="0.25" >EB</text>
<text x="294.5" y="559.9" font-size="6.1" text-anchor="middle" font-weight="normal" fill="#2a2a2a" stroke="#2a2a2a" stroke-width="0.25" >DANCR</text>
<path d="M265.5 601V602.5M265.5 598.2V597" stroke="#d0223f" stroke-width="0.9" fill="none"/>
<rect x="260.3" y="598.2" width="10.4" height="2.8" fill="none" stroke="#d0223f" stroke-width="1.05"/>
<path d="M260.3 599.6H270.7" stroke="#d0223f" stroke-width="1"/>
<g fill="#d0223f"><circle cx="264.48" cy="597.7" r="0.55"/><circle cx="263.69" cy="598.05" r="0.55"/><circle cx="267.47" cy="599.41" r="0.55"/><circle cx="265.4" cy="600.99" r="0.55"/><circle cx="266.44" cy="601.59" r="0.55"/></g>
<path d="M279.6 603.8V604.5M279.6 602.2V601.8" stroke="#1b5390" stroke-width="0.9" fill="none"/>
<rect x="274.4" y="602.2" width="10.4" height="1.6" fill="none" stroke="#1b5390" stroke-width="1.05"/>
<path d="M274.4 603H284.8" stroke="#1b5390" stroke-width="1"/>
<g fill="#1b5390"><circle cx="279.92" cy="602.46" r="0.55"/><circle cx="278.68" cy="603.53" r="0.55"/><circle cx="279.05" cy="604.24" r="0.55"/><circle cx="277.79" cy="603.59" r="0.55"/><circle cx="277.74" cy="604.11" r="0.55"/></g>
<path d="M293.8 596.2V599M293.8 586.6V579.8" stroke="#3dbb55" stroke-width="0.9" fill="none"/>
<rect x="288.6" y="586.6" width="10.4" height="9.6" fill="none" stroke="#3dbb55" stroke-width="1.05"/>
<path d="M288.6 593.8H299" stroke="#3dbb55" stroke-width="1"/>
<g fill="#3dbb55"><circle cx="292.59" cy="581.33" r="0.55"/><circle cx="292.31" cy="587.21" r="0.55"/><circle cx="293.2" cy="582.75" r="0.55"/><circle cx="291.59" cy="582.79" r="0.55"/><circle cx="292.41" cy="595.68" r="0.55"/></g>
<path d="M308.1 590.8V595.2M308.1 569.2V566.3" stroke="#6d2a8e" stroke-width="0.9" fill="none"/>
<rect x="302.9" y="569.2" width="10.4" height="21.6" fill="none" stroke="#6d2a8e" stroke-width="1.05"/>
<path d="M302.9 579.8H313.3" stroke="#6d2a8e" stroke-width="1"/>
<g fill="#6d2a8e"><circle cx="310" cy="567.61" r="0.55"/><circle cx="310.27" cy="577.04" r="0.55"/><circle cx="306.6" cy="578.11" r="0.55"/><circle cx="308.47" cy="568" r="0.55"/><circle cx="306.56" cy="567.29" r="0.55"/></g>
<path d="M321.9 613V613.6M321.9 586.2V585.5" stroke="#f7901e" stroke-width="0.9" fill="none"/>
<rect x="316.7" y="586.2" width="10.4" height="26.8" fill="none" stroke="#f7901e" stroke-width="1.05"/>
<path d="M316.7 589H327.1" stroke="#f7901e" stroke-width="1"/>
<g fill="#f7901e"><circle cx="324.23" cy="597.26" r="0.55"/><circle cx="319.6" cy="600.33" r="0.55"/><circle cx="319.84" cy="609.84" r="0.55"/><circle cx="319.6" cy="602.99" r="0.55"/><circle cx="321.27" cy="589.63" r="0.55"/></g>
<text x="265.5" y="567.2" font-size="5.4" text-anchor="middle" font-weight="normal" fill="#333" stroke="#333" stroke-width="0.25" >**</text>
<text x="279.6" y="567.2" font-size="5.4" text-anchor="middle" font-weight="normal" fill="#333" stroke="#333" stroke-width="0.25" >*</text>
<text x="293.8" y="567.2" font-size="4.6" text-anchor="middle" font-weight="normal" fill="#333" stroke="#333" stroke-width="0.25" >ns</text>
<text x="321.9" y="567.2" font-size="4.6" text-anchor="middle" font-weight="normal" fill="#333" stroke="#333" stroke-width="0.25" >ns</text>
<text transform="translate(236.8 587.5) rotate(-90)" font-size="8.2" text-anchor="middle" fill="#1e1e1e" textLength="29.8" lengthAdjust="spacingAndGlyphs">Expression</text>
<text x="341.7" y="615.7" font-size="5.3" text-anchor="end" font-weight="normal" fill="#3a3a3a" stroke="#3a3a3a" stroke-width="0.25" >0</text>
<text x="341.7" y="598.4" font-size="5.3" text-anchor="end" font-weight="normal" fill="#3a3a3a" stroke="#3a3a3a" stroke-width="0.25" >100</text>
<text x="341.7" y="581.1" font-size="5.3" text-anchor="end" font-weight="normal" fill="#3a3a3a" stroke="#3a3a3a" stroke-width="0.25" >200</text>
<text x="341.7" y="563.8" font-size="5.3" text-anchor="end" font-weight="normal" fill="#3a3a3a" stroke="#3a3a3a" stroke-width="0.25" >300</text>
<path d="M346.3 559.8V616.3H418.8M343.4 613.8H346.3M343.4 596.5H346.3M343.4 579.2H346.3M343.4 561.9H346.3M355 616.3V618.9M369 616.3V618.9M383 616.3V618.9M397.2 616.3V618.9M411.3 616.3V618.9" stroke="#1e1e1e" stroke-width="1.1" fill="none"/>
<text x="355" y="625.8" font-size="5.4" text-anchor="middle" font-weight="normal" fill="#3a3a3a" stroke="#3a3a3a" stroke-width="0.25" >HSC</text>
<text x="369" y="625.8" font-size="5.4" text-anchor="middle" font-weight="normal" fill="#3a3a3a" stroke="#3a3a3a" stroke-width="0.25" >MPP</text>
<text x="383" y="625.8" font-size="5.4" text-anchor="middle" font-weight="normal" fill="#3a3a3a" stroke="#3a3a3a" stroke-width="0.25" >CMP</text>
<text x="397.2" y="625.8" font-size="5.4" text-anchor="middle" font-weight="normal" fill="#3a3a3a" stroke="#3a3a3a" stroke-width="0.25" >MEP</text>
<text x="411.3" y="625.8" font-size="5.4" text-anchor="middle" font-weight="normal" fill="#3a3a3a" stroke="#3a3a3a" stroke-width="0.25" >EB</text>
<text x="387.7" y="559.9" font-size="6.1" text-anchor="middle" font-weight="normal" fill="#2a2a2a" stroke="#2a2a2a" stroke-width="0.25" >UCA1</text>
<path d="M355 613.4V613.6M355 612.8V612.6" stroke="#d0223f" stroke-width="0.9" fill="none"/>
<path d="M349.4 613.1H360.6" stroke="#d0223f" stroke-width="1.3"/>
<g fill="#d0223f"><circle cx="352.99" cy="613.23" r="0.55"/><circle cx="355.55" cy="612.72" r="0.55"/><circle cx="356.78" cy="612.89" r="0.55"/><circle cx="355.05" cy="613.56" r="0.55"/><circle cx="354.65" cy="613.29" r="0.55"/></g>
<path d="M369 613.4V613.6M369 612.8V612.6" stroke="#1b5390" stroke-width="0.9" fill="none"/>
<path d="M363.4 613.1H374.6" stroke="#1b5390" stroke-width="1.3"/>
<g fill="#1b5390"><circle cx="368.32" cy="613.07" r="0.55"/><circle cx="368.29" cy="612.96" r="0.55"/><circle cx="366.96" cy="613.17" r="0.55"/><circle cx="367.1" cy="612.66" r="0.55"/><circle cx="366.99" cy="613.04" r="0.55"/></g>
<path d="M383 613.2V613.5M383 612.3V611.8" stroke="#3dbb55" stroke-width="0.9" fill="none"/>
<path d="M377.4 612.8H388.6" stroke="#3dbb55" stroke-width="1.3"/>
<g fill="#3dbb55"><circle cx="385.03" cy="612.66" r="0.55"/><circle cx="384.12" cy="612.75" r="0.55"/><circle cx="381.46" cy="612.55" r="0.55"/><circle cx="384.33" cy="612.22" r="0.55"/><circle cx="382.69" cy="613.28" r="0.55"/></g>
<path d="M397.2 613.6V614M397.2 610V608.8" stroke="#6d2a8e" stroke-width="0.9" fill="none"/>
<rect x="392" y="610" width="10.4" height="3.6" fill="none" stroke="#6d2a8e" stroke-width="1.05"/>
<path d="M392 612H402.4" stroke="#6d2a8e" stroke-width="1"/>
<g fill="#6d2a8e"><circle cx="398.99" cy="613.19" r="0.55"/><circle cx="395.61" cy="610.42" r="0.55"/><circle cx="394.8" cy="613.04" r="0.55"/><circle cx="395.16" cy="611.96" r="0.55"/><circle cx="399.07" cy="610.84" r="0.55"/></g>
<path d="M411.3 580.8V583.5M411.3 572.7V570" stroke="#f7901e" stroke-width="0.9" fill="none"/>
<rect x="406.1" y="572.7" width="10.4" height="8.1" fill="none" stroke="#f7901e" stroke-width="1.05"/>
<path d="M406.1 578.8H416.5" stroke="#f7901e" stroke-width="1"/>
<g fill="#f7901e"><circle cx="410.69" cy="570.43" r="0.55"/><circle cx="410.35" cy="571.81" r="0.55"/><circle cx="410.65" cy="573.18" r="0.55"/><circle cx="409.63" cy="575.24" r="0.55"/><circle cx="409.55" cy="576.34" r="0.55"/></g>
<text x="355" y="572" font-size="5.4" text-anchor="middle" font-weight="normal" fill="#333" stroke="#333" stroke-width="0.25" >***</text>
<text x="369" y="572" font-size="5.4" text-anchor="middle" font-weight="normal" fill="#333" stroke="#333" stroke-width="0.25" >**</text>
<text x="383" y="572" font-size="5.4" text-anchor="middle" font-weight="normal" fill="#333" stroke="#333" stroke-width="0.25" >**</text>
<text x="397.2" y="572" font-size="5.4" text-anchor="middle" font-weight="normal" fill="#333" stroke="#333" stroke-width="0.25" >**</text>
<text x="430.4" y="600.6" font-size="5.3" text-anchor="end" font-weight="normal" fill="#3a3a3a" stroke="#3a3a3a" stroke-width="0.25" >100</text>
<text x="430.4" y="582.1" font-size="5.3" text-anchor="end" font-weight="normal" fill="#3a3a3a" stroke="#3a3a3a" stroke-width="0.25" >200</text>
<text x="430.4" y="563.8" font-size="5.3" text-anchor="end" font-weight="normal" fill="#3a3a3a" stroke="#3a3a3a" stroke-width="0.25" >300</text>
<path d="M435 559.8V616.3H508.5M432.1 598.7H435M432.1 580.2H435M432.1 561.9H435M444 616.3V618.9M458.5 616.3V618.9M472.9 616.3V618.9M487 616.3V618.9M500.8 616.3V618.9" stroke="#1e1e1e" stroke-width="1.1" fill="none"/>
<text x="444" y="625.8" font-size="5.4" text-anchor="middle" font-weight="normal" fill="#3a3a3a" stroke="#3a3a3a" stroke-width="0.25" >HSC</text>
<text x="458.5" y="625.8" font-size="5.4" text-anchor="middle" font-weight="normal" fill="#3a3a3a" stroke="#3a3a3a" stroke-width="0.25" >MPP</text>
<text x="472.9" y="625.8" font-size="5.4" text-anchor="middle" font-weight="normal" fill="#3a3a3a" stroke="#3a3a3a" stroke-width="0.25" >CMP</text>
<text x="487" y="625.8" font-size="5.4" text-anchor="middle" font-weight="normal" fill="#3a3a3a" stroke="#3a3a3a" stroke-width="0.25" >MEP</text>
<text x="500.8" y="625.8" font-size="5.4" text-anchor="middle" font-weight="normal" fill="#3a3a3a" stroke="#3a3a3a" stroke-width="0.25" >EB</text>
<text x="474.8" y="559.9" font-size="6.1" text-anchor="middle" font-weight="normal" fill="#2a2a2a" stroke="#2a2a2a" stroke-width="0.25" >CYTOR</text>
<path d="M444 613V614M444 609.6V607.7" stroke="#d0223f" stroke-width="0.9" fill="none"/>
<rect x="438.8" y="609.6" width="10.4" height="3.4" fill="none" stroke="#d0223f" stroke-width="1.05"/>
<path d="M438.8 611.2H449.2" stroke="#d0223f" stroke-width="1"/>
<g fill="#d0223f"><circle cx="444.36" cy="612.25" r="0.55"/><circle cx="441.91" cy="608.73" r="0.55"/><circle cx="446.31" cy="613.24" r="0.55"/><circle cx="446.44" cy="609.76" r="0.55"/><circle cx="444.96" cy="612.46" r="0.55"/></g>
<path d="M458.5 613V613.6M458.5 611.3V609.6" stroke="#1b5390" stroke-width="0.9" fill="none"/>
<rect x="453.3" y="611.3" width="10.4" height="1.7" fill="none" stroke="#1b5390" stroke-width="1.05"/>
<path d="M453.3 612.2H463.7" stroke="#1b5390" stroke-width="1"/>
<g fill="#1b5390"><circle cx="456.87" cy="612.63" r="0.55"/><circle cx="458.75" cy="609.93" r="0.55"/><circle cx="458.31" cy="609.74" r="0.55"/><circle cx="456.49" cy="610.12" r="0.55"/><circle cx="456.86" cy="612.65" r="0.55"/></g>
<path d="M472.9 608.3V610.5M472.9 604.2V602.8" stroke="#3dbb55" stroke-width="0.9" fill="none"/>
<rect x="467.7" y="604.2" width="10.4" height="4.1" fill="none" stroke="#3dbb55" stroke-width="1.05"/>
<path d="M467.7 606H478.1" stroke="#3dbb55" stroke-width="1"/>
<g fill="#3dbb55"><circle cx="474.92" cy="603.43" r="0.55"/><circle cx="471.26" cy="606.13" r="0.55"/><circle cx="472.99" cy="606.09" r="0.55"/><circle cx="475.18" cy="608.2" r="0.55"/><circle cx="474.55" cy="610.42" r="0.55"/></g>
<path d="M487 601.5V606.7M487 585.2V582.3" stroke="#6d2a8e" stroke-width="0.9" fill="none"/>
<rect x="481.8" y="585.2" width="10.4" height="16.3" fill="none" stroke="#6d2a8e" stroke-width="1.05"/>
<path d="M481.8 592.3H492.2" stroke="#6d2a8e" stroke-width="1"/>
<g fill="#6d2a8e"><circle cx="485.65" cy="589.87" r="0.55"/><circle cx="487.45" cy="598" r="0.55"/><circle cx="484.6" cy="597.57" r="0.55"/><circle cx="484.77" cy="597.94" r="0.55"/><circle cx="485.29" cy="595.94" r="0.55"/></g>
<path d="M500.8 589.4V592M500.8 578.5V576.5" stroke="#f7901e" stroke-width="0.9" fill="none"/>
<rect x="495.6" y="578.5" width="10.4" height="10.9" fill="none" stroke="#f7901e" stroke-width="1.05"/>
<path d="M495.6 583.7H506" stroke="#f7901e" stroke-width="1"/>
<g fill="#f7901e"><circle cx="499.08" cy="576.69" r="0.55"/><circle cx="502.09" cy="581.05" r="0.55"/><circle cx="501.27" cy="581.41" r="0.55"/><circle cx="501.1" cy="586.22" r="0.55"/><circle cx="499.98" cy="588.2" r="0.55"/></g>
<text x="444" y="577.2" font-size="5.4" text-anchor="middle" font-weight="normal" fill="#333" stroke="#333" stroke-width="0.25" >***</text>
<text x="458.5" y="577.2" font-size="5.4" text-anchor="middle" font-weight="normal" fill="#333" stroke="#333" stroke-width="0.25" >**</text>
<text x="472.9" y="577.2" font-size="5.4" text-anchor="middle" font-weight="normal" fill="#333" stroke="#333" stroke-width="0.25" >**</text>
<text x="487" y="577.2" font-size="4.6" text-anchor="middle" font-weight="normal" fill="#333" stroke="#333" stroke-width="0.25" >ns</text>
<text x="254" y="689.4" font-size="5.3" text-anchor="end" font-weight="normal" fill="#3a3a3a" stroke="#3a3a3a" stroke-width="0.25" >0</text>
<text x="254" y="676.4" font-size="5.3" text-anchor="end" font-weight="normal" fill="#3a3a3a" stroke="#3a3a3a" stroke-width="0.25" >25</text>
<text x="254" y="663.4" font-size="5.3" text-anchor="end" font-weight="normal" fill="#3a3a3a" stroke="#3a3a3a" stroke-width="0.25" >50</text>
<text x="254" y="650.2" font-size="5.3" text-anchor="end" font-weight="normal" fill="#3a3a3a" stroke="#3a3a3a" stroke-width="0.25" >75</text>
<text x="254" y="637.4" font-size="5.3" text-anchor="end" font-weight="normal" fill="#3a3a3a" stroke="#3a3a3a" stroke-width="0.25" >100</text>
<path d="M258.6 633.4V688.8H330.8M255.7 687.5H258.6M255.7 674.5H258.6M255.7 661.5H258.6M255.7 648.3H258.6M255.7 635.5H258.6M267.3 688.8V691.4M280.6 688.8V691.4M294.8 688.8V691.4M308.6 688.8V691.4M323.2 688.8V691.4" stroke="#1e1e1e" stroke-width="1.1" fill="none"/>
<text x="267.3" y="698.3" font-size="5.4" text-anchor="middle" font-weight="normal" fill="#3a3a3a" stroke="#3a3a3a" stroke-width="0.25" >HSC</text>
<text x="280.6" y="698.3" font-size="5.4" text-anchor="middle" font-weight="normal" fill="#3a3a3a" stroke="#3a3a3a" stroke-width="0.25" >MPP</text>
<text x="294.8" y="698.3" font-size="5.4" text-anchor="middle" font-weight="normal" fill="#3a3a3a" stroke="#3a3a3a" stroke-width="0.25" >CMP</text>
<text x="308.6" y="698.3" font-size="5.4" text-anchor="middle" font-weight="normal" fill="#3a3a3a" stroke="#3a3a3a" stroke-width="0.25" >MEP</text>
<text x="323.2" y="698.3" font-size="5.4" text-anchor="middle" font-weight="normal" fill="#3a3a3a" stroke="#3a3a3a" stroke-width="0.25" >EB</text>
<text x="295.9" y="637.5" font-size="6.1" text-anchor="middle" font-weight="normal" fill="#2a2a2a" stroke="#2a2a2a" stroke-width="0.25" >LINC01133</text>
<path d="M267.3 687V687.2M267.3 686.2V686" stroke="#d0223f" stroke-width="0.9" fill="none"/>
<path d="M261.7 686.6H272.9" stroke="#d0223f" stroke-width="1.3"/>
<g fill="#d0223f"><circle cx="267.62" cy="686.25" r="0.55"/><circle cx="269.74" cy="686.11" r="0.55"/><circle cx="269" cy="686.79" r="0.55"/><circle cx="268.4" cy="686.92" r="0.55"/><circle cx="267.2" cy="686.31" r="0.55"/></g>
<path d="M280.6 687V687.2M280.6 686.2V686" stroke="#1b5390" stroke-width="0.9" fill="none"/>
<path d="M275 686.6H286.2" stroke="#1b5390" stroke-width="1.3"/>
<g fill="#1b5390"><circle cx="278.32" cy="686.72" r="0.55"/><circle cx="281.04" cy="686.38" r="0.55"/><circle cx="279.02" cy="686.88" r="0.55"/><circle cx="280.62" cy="686.07" r="0.55"/><circle cx="279.05" cy="686.63" r="0.55"/></g>
<path d="M294.8 687V687.2M294.8 686.2V686" stroke="#3dbb55" stroke-width="0.9" fill="none"/>
<path d="M289.2 686.6H300.4" stroke="#3dbb55" stroke-width="1.3"/>
<g fill="#3dbb55"><circle cx="297.18" cy="686.33" r="0.55"/><circle cx="294.75" cy="686.42" r="0.55"/><circle cx="295.99" cy="686.36" r="0.55"/><circle cx="296.63" cy="686.14" r="0.55"/><circle cx="296.03" cy="686.6" r="0.55"/></g>
<path d="M308.6 687V687.2M308.6 686.2V686" stroke="#6d2a8e" stroke-width="0.9" fill="none"/>
<path d="M303 686.6H314.2" stroke="#6d2a8e" stroke-width="1.3"/>
<g fill="#6d2a8e"><circle cx="306.64" cy="687.09" r="0.55"/><circle cx="310.66" cy="686.64" r="0.55"/><circle cx="309.15" cy="686.21" r="0.55"/><circle cx="310.81" cy="687.13" r="0.55"/><circle cx="309.33" cy="686.21" r="0.55"/></g>
<path d="M323.2 667.3V669.4M323.2 650.4V647.2" stroke="#f7901e" stroke-width="0.9" fill="none"/>
<rect x="318" y="650.4" width="10.4" height="16.9" fill="none" stroke="#f7901e" stroke-width="1.05"/>
<path d="M318 657.2H328.4" stroke="#f7901e" stroke-width="1"/>
<g fill="#f7901e"><circle cx="321.14" cy="649.08" r="0.55"/><circle cx="322.83" cy="658.52" r="0.55"/><circle cx="321.61" cy="651.36" r="0.55"/><circle cx="321.57" cy="668.18" r="0.55"/><circle cx="321.99" cy="648.21" r="0.55"/></g>
<text x="267.3" y="647.4" font-size="5.4" text-anchor="middle" font-weight="normal" fill="#333" stroke="#333" stroke-width="0.25" >***</text>
<text x="280.6" y="647.4" font-size="5.4" text-anchor="middle" font-weight="normal" fill="#333" stroke="#333" stroke-width="0.25" >**</text>
<text x="294.8" y="647.4" font-size="5.4" text-anchor="middle" font-weight="normal" fill="#333" stroke="#333" stroke-width="0.25" >*</text>
<text x="308.6" y="647.4" font-size="5.4" text-anchor="middle" font-weight="normal" fill="#333" stroke="#333" stroke-width="0.25" >**</text>
<text transform="translate(242 661) rotate(-90)" font-size="8.2" text-anchor="middle" fill="#1e1e1e" textLength="29.8" lengthAdjust="spacingAndGlyphs">Expression</text>
<text x="342.2" y="689.3" font-size="5.3" text-anchor="end" font-weight="normal" fill="#3a3a3a" stroke="#3a3a3a" stroke-width="0.25" >0</text>
<text x="342.2" y="673" font-size="5.3" text-anchor="end" font-weight="normal" fill="#3a3a3a" stroke="#3a3a3a" stroke-width="0.25" >10</text>
<text x="342.2" y="656.7" font-size="5.3" text-anchor="end" font-weight="normal" fill="#3a3a3a" stroke="#3a3a3a" stroke-width="0.25" >20</text>
<text x="342.2" y="640.4" font-size="5.3" text-anchor="end" font-weight="normal" fill="#3a3a3a" stroke="#3a3a3a" stroke-width="0.25" >30</text>
<path d="M346.8 633V688.8H419M343.9 687.4H346.8M343.9 671.1H346.8M343.9 654.8H346.8M343.9 638.5H346.8M354.7 688.8V691.4M369.3 688.8V691.4M383.6 688.8V691.4M398 688.8V691.4M412.6 688.8V691.4" stroke="#1e1e1e" stroke-width="1.1" fill="none"/>
<text x="354.7" y="698.3" font-size="5.4" text-anchor="middle" font-weight="normal" fill="#3a3a3a" stroke="#3a3a3a" stroke-width="0.25" >HSC</text>
<text x="369.3" y="698.3" font-size="5.4" text-anchor="middle" font-weight="normal" fill="#3a3a3a" stroke="#3a3a3a" stroke-width="0.25" >MPP</text>
<text x="383.6" y="698.3" font-size="5.4" text-anchor="middle" font-weight="normal" fill="#3a3a3a" stroke="#3a3a3a" stroke-width="0.25" >CMP</text>
<text x="398" y="698.3" font-size="5.4" text-anchor="middle" font-weight="normal" fill="#3a3a3a" stroke="#3a3a3a" stroke-width="0.25" >MEP</text>
<text x="412.6" y="698.3" font-size="5.4" text-anchor="middle" font-weight="normal" fill="#3a3a3a" stroke="#3a3a3a" stroke-width="0.25" >EB</text>
<text x="387.4" y="637.5" font-size="6.1" text-anchor="middle" font-weight="normal" fill="#2a2a2a" stroke="#2a2a2a" stroke-width="0.25" >LINC01128</text>
<path d="M354.7 686.3V687M354.7 677.9V672.6" stroke="#d0223f" stroke-width="0.9" fill="none"/>
<rect x="349.5" y="677.9" width="10.4" height="8.4" fill="none" stroke="#d0223f" stroke-width="1.05"/>
<path d="M349.5 681.7H359.9" stroke="#d0223f" stroke-width="1"/>
<g fill="#d0223f"><circle cx="356.21" cy="675.4" r="0.55"/><circle cx="354.57" cy="675.49" r="0.55"/><circle cx="352.89" cy="678.08" r="0.55"/><circle cx="352.56" cy="675.58" r="0.55"/><circle cx="356.83" cy="683.01" r="0.55"/></g>
<path d="M369.3 683.3V683.6M369.3 682.3V682" stroke="#1b5390" stroke-width="0.9" fill="none"/>
<path d="M363.7 682.8H374.9" stroke="#1b5390" stroke-width="1.3"/>
<g fill="#1b5390"><circle cx="367.53" cy="683.13" r="0.55"/><circle cx="371.06" cy="682.9" r="0.55"/><circle cx="368.44" cy="682.62" r="0.55"/><circle cx="367.96" cy="683.58" r="0.55"/><circle cx="369.26" cy="682.07" r="0.55"/></g>
<path d="M383.6 681V686.3M383.6 674.7V674.5" stroke="#3dbb55" stroke-width="0.9" fill="none"/>
<rect x="378.4" y="674.7" width="10.4" height="6.3" fill="none" stroke="#3dbb55" stroke-width="1.05"/>
<path d="M378.4 680.6H388.8" stroke="#3dbb55" stroke-width="1"/>
<g fill="#3dbb55"><circle cx="384.44" cy="685.57" r="0.55"/><circle cx="381.24" cy="686.12" r="0.55"/><circle cx="382.76" cy="679.75" r="0.55"/><circle cx="384.49" cy="682.19" r="0.55"/><circle cx="383.87" cy="676.32" r="0.55"/></g>
<path d="M398 683.2V683.5M398 674.3V671.5" stroke="#6d2a8e" stroke-width="0.9" fill="none"/>
<rect x="392.8" y="674.3" width="10.4" height="8.9" fill="none" stroke="#6d2a8e" stroke-width="1.05"/>
<path d="M392.8 679H403.2" stroke="#6d2a8e" stroke-width="1"/>
<g fill="#6d2a8e"><circle cx="400.15" cy="673.18" r="0.55"/><circle cx="396.74" cy="682.99" r="0.55"/><circle cx="398.87" cy="675.61" r="0.55"/><circle cx="395.66" cy="671.78" r="0.55"/><circle cx="396.48" cy="681.91" r="0.55"/></g>
<path d="M412.6 653.6V658.8M412.6 647.2V642.3" stroke="#f7901e" stroke-width="0.9" fill="none"/>
<rect x="407.4" y="647.2" width="10.4" height="6.4" fill="none" stroke="#f7901e" stroke-width="1.05"/>
<path d="M407.4 648.7H417.8" stroke="#f7901e" stroke-width="1"/>
<g fill="#f7901e"><circle cx="411.93" cy="653.69" r="0.55"/><circle cx="413.43" cy="652.05" r="0.55"/><circle cx="412.93" cy="648.29" r="0.55"/><circle cx="414.3" cy="655.59" r="0.55"/><circle cx="412.05" cy="646.84" r="0.55"/></g>
<text x="354.7" y="644.6" font-size="5.4" text-anchor="middle" font-weight="normal" fill="#333" stroke="#333" stroke-width="0.25" >***</text>
<text x="369.3" y="644.6" font-size="5.4" text-anchor="middle" font-weight="normal" fill="#333" stroke="#333" stroke-width="0.25" >**</text>
<text x="383.6" y="644.6" font-size="5.4" text-anchor="middle" font-weight="normal" fill="#333" stroke="#333" stroke-width="0.25" >**</text>
<text x="398" y="644.6" font-size="5.4" text-anchor="middle" font-weight="normal" fill="#333" stroke="#333" stroke-width="0.25" >**</text>
<text x="431.2" y="689.5" font-size="5.3" text-anchor="end" font-weight="normal" fill="#3a3a3a" stroke="#3a3a3a" stroke-width="0.25" >0</text>
<text x="431.2" y="673.1" font-size="5.3" text-anchor="end" font-weight="normal" fill="#3a3a3a" stroke="#3a3a3a" stroke-width="0.25" >10</text>
<text x="431.2" y="656.8" font-size="5.3" text-anchor="end" font-weight="normal" fill="#3a3a3a" stroke="#3a3a3a" stroke-width="0.25" >20</text>
<text x="431.2" y="640.4" font-size="5.3" text-anchor="end" font-weight="normal" fill="#3a3a3a" stroke="#3a3a3a" stroke-width="0.25" >30</text>
<path d="M435.8 632.7V689.2H508.9M432.9 687.6H435.8M432.9 671.2H435.8M432.9 654.9H435.8M432.9 638.5H435.8M444.9 689.2V691.8M459 689.2V691.8M473.2 689.2V691.8M487.3 689.2V691.8M501.4 689.2V691.8" stroke="#1e1e1e" stroke-width="1.1" fill="none"/>
<text x="444.9" y="698.7" font-size="5.4" text-anchor="middle" font-weight="normal" fill="#3a3a3a" stroke="#3a3a3a" stroke-width="0.25" >HSC</text>
<text x="459" y="698.7" font-size="5.4" text-anchor="middle" font-weight="normal" fill="#3a3a3a" stroke="#3a3a3a" stroke-width="0.25" >MPP</text>
<text x="473.2" y="698.7" font-size="5.4" text-anchor="middle" font-weight="normal" fill="#3a3a3a" stroke="#3a3a3a" stroke-width="0.25" >CMP</text>
<text x="487.3" y="698.7" font-size="5.4" text-anchor="middle" font-weight="normal" fill="#3a3a3a" stroke="#3a3a3a" stroke-width="0.25" >MEP</text>
<text x="501.4" y="698.7" font-size="5.4" text-anchor="middle" font-weight="normal" fill="#3a3a3a" stroke="#3a3a3a" stroke-width="0.25" >EB</text>
<text x="474.2" y="638.2" font-size="6.1" text-anchor="middle" font-weight="normal" fill="#2a2a2a" stroke="#2a2a2a" stroke-width="0.25" >PCED1B-AS1</text>
<path d="M444.9 686.6V687.4M444.9 684.2V683.3" stroke="#d0223f" stroke-width="0.9" fill="none"/>
<rect x="439.7" y="684.2" width="10.4" height="2.4" fill="none" stroke="#d0223f" stroke-width="1.05"/>
<path d="M439.7 685.4H450.1" stroke="#d0223f" stroke-width="1"/>
<g fill="#d0223f"><circle cx="445.1" cy="685.65" r="0.55"/><circle cx="444.66" cy="686.34" r="0.55"/><circle cx="443.49" cy="686.69" r="0.55"/><circle cx="446.15" cy="685.03" r="0.55"/><circle cx="444.04" cy="683.85" r="0.55"/></g>
<path d="M459 687V687.3M459 686.1V685.6" stroke="#1b5390" stroke-width="0.9" fill="none"/>
<path d="M453.4 686.6H464.6" stroke="#1b5390" stroke-width="1.3"/>
<g fill="#1b5390"><circle cx="459.3" cy="686.82" r="0.55"/><circle cx="461.24" cy="685.7" r="0.55"/><circle cx="456.64" cy="686.24" r="0.55"/><circle cx="457.86" cy="686.7" r="0.55"/><circle cx="459.86" cy="685.79" r="0.55"/></g>
<path d="M473.2 687.3V687.5M473.2 686.8V686.6" stroke="#3dbb55" stroke-width="0.9" fill="none"/>
<path d="M467.6 687H478.8" stroke="#3dbb55" stroke-width="1.3"/>
<g fill="#3dbb55"><circle cx="473.07" cy="687.34" r="0.55"/><circle cx="472.01" cy="687.23" r="0.55"/><circle cx="473.76" cy="686.95" r="0.55"/><circle cx="473.2" cy="686.75" r="0.55"/><circle cx="471.95" cy="687.34" r="0.55"/></g>
<path d="M487.3 687.3V687.5M487.3 686.8V686.6" stroke="#6d2a8e" stroke-width="0.9" fill="none"/>
<path d="M481.7 687H492.9" stroke="#6d2a8e" stroke-width="1.3"/>
<g fill="#6d2a8e"><circle cx="487.56" cy="687.21" r="0.55"/><circle cx="485.6" cy="686.69" r="0.55"/><circle cx="486.73" cy="687.38" r="0.55"/><circle cx="489.17" cy="686.63" r="0.55"/><circle cx="489.04" cy="686.72" r="0.55"/></g>
<path d="M501.4 676.5V677.5M501.4 670.4V667.8" stroke="#f7901e" stroke-width="0.9" fill="none"/>
<rect x="496.2" y="670.4" width="10.4" height="6.1" fill="none" stroke="#f7901e" stroke-width="1.05"/>
<path d="M496.2 673.5H506.6" stroke="#f7901e" stroke-width="1"/>
<g fill="#f7901e"><circle cx="500.8" cy="669.33" r="0.55"/><circle cx="501.52" cy="670.65" r="0.55"/><circle cx="501.16" cy="673.06" r="0.55"/><circle cx="499.11" cy="670.79" r="0.55"/><circle cx="503.21" cy="672.03" r="0.55"/></g>
<text x="444.9" y="668.4" font-size="5.4" text-anchor="middle" font-weight="normal" fill="#333" stroke="#333" stroke-width="0.25" >***</text>
<text x="459" y="668.4" font-size="5.4" text-anchor="middle" font-weight="normal" fill="#333" stroke="#333" stroke-width="0.25" >**</text>
<text x="473.2" y="668.4" font-size="5.4" text-anchor="middle" font-weight="normal" fill="#333" stroke="#333" stroke-width="0.25" >*</text>
<text x="487.3" y="668.4" font-size="5.4" text-anchor="middle" font-weight="normal" fill="#333" stroke="#333" stroke-width="0.25" >**</text>
</svg><div id="frame"></div><div style="position:absolute;left:518px;top:1px;width:1px;height:706px;background:#a8a8a8"></div><div style="position:absolute;left:1px;top:706px;width:518px;height:1px;background:#a8a8a8"></div></div></body></html>
